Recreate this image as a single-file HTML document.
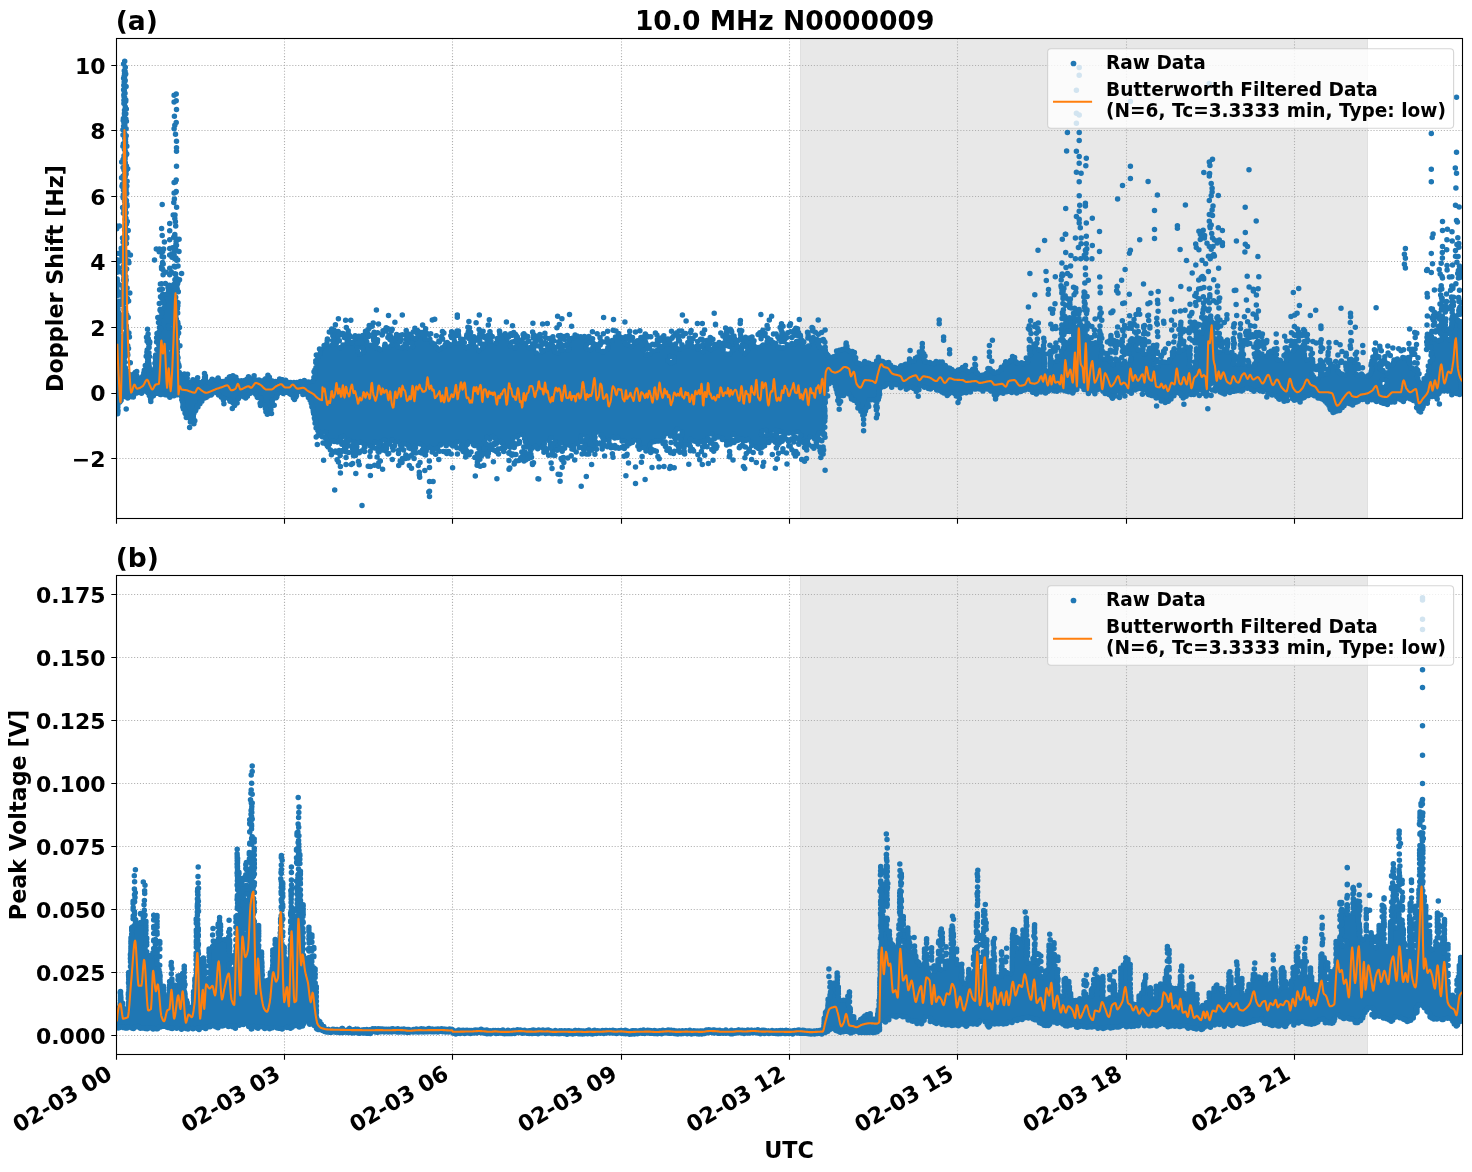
<!DOCTYPE html>
<html lang="en"><head><meta charset="utf-8"><title>10.0 MHz N0000009</title>
<style>
html,body{margin:0;padding:0;background:#fff;}
body{width:1472px;height:1172px;overflow:hidden;}
svg{display:block;}
text{font-family:"DejaVu Sans", "Liberation Sans", sans-serif;font-weight:bold;fill:#000;}
.tk{font-size:22.0px;}
.tx{font-size:22.2px;}
.lg{font-size:18.55px;}
.tt{font-size:26.55px;}
.lb{font-size:22.3px;}
</style></head><body>
<svg width="1472" height="1172" viewBox="0 0 1472 1172">
<defs><clipPath id="ca"><rect x="116.5" y="38.5" width="1346.0" height="480.0"/></clipPath><clipPath id="cb"><rect x="116.5" y="575.5" width="1346.0" height="479.0"/></clipPath></defs>
<rect width="1472" height="1172" fill="#fff"/>
<rect x="116.5" y="38.5" width="1346.0" height="480.0" fill="#fff"/>
<rect x="800.0" y="38.5" width="568.0" height="480.0" fill="#e8e8e8"/>
<path d="M800.5 38.5V518.5M1367.5 38.5V518.5" stroke="#e0e0e0" stroke-width="1" fill="none"/>
<path d="M284.5 38.5V518.5M452.5 38.5V518.5M621.5 38.5V518.5M789.5 38.5V518.5M957.5 38.5V518.5M1126.5 38.5V518.5M1294.5 38.5V518.5M116.5 458.5H1462.5M116.5 393.5H1462.5M116.5 327.5H1462.5M116.5 261.5H1462.5M116.5 196.5H1462.5M116.5 130.5H1462.5M116.5 65.5H1462.5" stroke="#b0b0b0" stroke-width="1.1" stroke-dasharray="1.1 1.83" fill="none"/>
<g clip-path="url(#ca)"><path d="M531.4 452.4 529.1 451.6 527.9 451.9 524.4 450.1 522.1 450.9 521.1 452.6 521.4 455.1 519.6 457.6 519.6 459.1 520.4 460.6 524.6 462.1 526.9 461.4 531.4 458.6 532.4 456.9 532.4 454.1ZM1265.4 341.1 1262.6 339.9 1260.1 340.6 1258.1 340.1 1255.9 340.9 1254.4 343.1 1253.9 346.9 1254.6 348.4 1257.1 349.4 1260.9 347.6 1262.4 347.9 1264.6 347.1 1266.1 344.1 1266.1 342.6ZM1247.9 339.6 1245.1 338.6 1240.9 339.9 1239.9 341.6 1239.9 343.9 1240.6 345.4 1243.4 346.4 1247.6 345.1 1248.6 343.4 1248.6 341.1ZM1107.6 341.1 1107.6 342.6 1109.1 344.9 1111.4 345.6 1112.1 345.4 1113.6 346.6 1115.9 347.4 1119.4 345.9 1120.4 344.1 1120.4 342.6 1119.4 340.9 1111.6 338.1 1109.1 338.9ZM539.9 334.6 537.9 334.1 533.1 335.4 532.4 336.9 532.4 338.4 534.4 341.4 536.6 342.1 539.6 341.4 540.6 340.6 541.4 339.1 541.4 336.6ZM783.6 332.4 781.1 333.1 779.4 335.4 778.1 335.9 777.4 337.4 777.4 338.9 778.1 340.4 779.9 342.4 782.1 343.1 785.1 342.4 787.9 337.9 787.9 335.9 786.9 333.6ZM456.9 332.1 454.6 331.4 451.1 332.1 449.6 335.1 449.6 336.9 450.4 338.4 452.9 339.4 455.1 338.6 456.9 337.1 457.9 335.4 457.9 333.9ZM1245.6 331.4 1244.6 333.1 1244.6 335.1 1246.4 337.9 1249.1 339.1 1251.6 338.4 1252.9 336.4 1252.9 334.9 1252.1 333.4 1250.1 331.4 1247.9 330.6ZM762.6 330.4 759.1 331.4 758.1 333.1 758.1 334.6 758.9 336.1 761.9 337.6 765.4 336.6 766.4 334.9 766.4 333.4 765.6 331.9ZM795.9 328.1 793.6 328.9 791.9 331.4 791.9 333.4 793.1 335.9 797.1 336.6 799.6 335.6 800.4 334.1 800.4 332.6 798.4 329.1ZM1182.1 327.4 1179.9 328.1 1178.9 329.9 1178.9 331.4 1179.6 332.9 1182.1 333.9 1184.4 333.1 1185.4 331.4 1185.4 329.9 1184.6 328.4ZM126.9 312.9 124.9 312.4 121.4 313.4 118.6 312.4 116.1 313.4 115.4 314.9 115.9 319.4 115.4 330.4 116.4 332.1 118.6 332.9 120.4 332.4 122.9 328.9 125.9 327.6 126.6 326.1 126.1 321.9 128.9 317.4 128.6 315.1ZM1076.9 308.1 1074.4 309.1 1073.6 310.6 1073.6 312.1 1074.9 314.1 1077.4 314.9 1079.9 313.9 1080.6 312.4 1080.6 310.9 1079.4 308.9ZM1443.4 304.6 1440.9 305.6 1440.1 307.1 1440.1 309.4 1441.1 311.1 1444.6 312.4 1446.9 311.6 1448.6 309.1 1448.6 307.6 1447.1 305.4ZM124.9 285.1 122.4 286.1 121.6 287.6 121.6 289.9 119.6 291.1 118.6 292.9 118.6 294.4 119.4 295.9 121.4 297.4 121.4 298.6 117.9 300.4 117.1 301.9 117.1 303.6 118.1 305.4 120.4 306.1 123.9 305.4 125.4 304.1 128.4 303.1 129.4 301.4 129.4 299.4 127.1 296.1 128.6 293.1 128.1 290.4 128.4 287.9 127.1 285.9ZM115.4 336.1 115.4 338.6 115.9 339.6 115.4 341.1 115.6 344.6 115.1 349.4 115.1 364.4 115.6 365.4 115.6 369.9 114.9 371.4 114.6 373.9 115.1 376.4 114.6 384.9 115.1 385.9 115.1 394.9 115.9 397.9 115.6 401.4 117.1 403.4 118.9 403.9 121.1 403.1 122.9 400.4 122.9 399.4 124.9 397.9 127.9 399.1 130.1 398.4 132.6 398.4 134.4 397.6 136.4 394.6 138.9 393.9 140.9 394.4 144.4 392.6 145.6 392.9 146.9 394.1 148.9 397.9 151.1 398.6 154.1 397.4 156.4 394.9 157.9 394.9 160.9 396.1 163.1 395.6 169.9 397.9 178.9 396.1 180.4 397.6 180.4 400.9 181.6 403.6 181.4 408.1 183.4 411.4 183.4 413.4 184.9 415.6 184.9 416.6 185.9 418.4 187.9 418.9 188.9 419.9 188.9 421.4 189.9 423.1 192.6 424.1 194.9 423.4 195.9 421.6 195.9 420.1 194.9 417.6 194.9 415.1 197.4 409.6 198.9 408.4 199.6 406.4 204.6 399.9 207.6 398.6 209.6 396.9 212.6 395.9 214.6 393.9 215.6 394.1 221.9 399.9 223.6 400.4 226.6 399.1 229.6 402.9 232.4 405.1 234.6 405.9 237.6 404.4 238.4 402.9 238.4 401.1 241.4 397.6 244.9 399.1 247.1 398.6 250.6 394.9 252.9 393.6 254.1 394.6 256.4 398.6 258.4 399.1 259.9 400.4 258.9 402.6 258.9 404.1 259.6 405.6 261.1 406.4 262.6 406.4 263.9 407.4 264.4 412.1 265.1 413.6 268.1 415.1 271.4 413.9 272.1 412.4 272.6 407.9 274.4 405.4 274.1 400.4 275.1 399.4 277.6 398.4 278.6 395.4 279.6 394.1 283.4 394.6 287.1 393.9 290.6 396.4 292.1 398.1 294.6 398.9 297.1 397.9 298.1 395.9 298.1 394.6 299.9 393.4 302.1 395.4 305.6 395.9 309.4 401.9 310.1 406.9 311.4 409.1 311.9 413.6 313.4 415.9 313.1 419.4 314.1 421.1 313.9 423.9 315.1 425.9 314.9 428.1 317.9 433.6 320.1 434.4 323.4 432.9 324.6 433.9 323.4 436.4 323.4 437.9 324.6 439.9 323.9 443.6 324.6 445.1 325.9 446.1 327.6 446.6 329.6 446.1 332.4 442.9 337.4 443.6 340.9 442.6 341.1 444.4 343.1 447.4 345.9 448.4 348.9 446.9 349.6 445.4 349.4 442.1 350.9 441.6 352.1 442.6 350.4 445.6 350.4 447.4 351.9 450.1 351.4 453.6 352.4 455.4 354.9 456.1 357.1 455.4 358.6 454.1 359.4 452.6 359.4 451.1 358.1 448.9 358.1 445.1 359.6 443.9 361.9 444.1 363.4 446.1 365.6 446.9 367.9 446.1 370.6 447.1 373.1 446.4 374.6 444.1 375.9 443.9 377.4 444.9 375.6 447.9 375.6 449.4 376.9 451.6 379.1 452.4 381.9 451.6 384.6 452.1 387.1 451.1 388.1 449.1 387.9 446.4 390.4 445.4 391.4 443.1 392.6 442.1 395.9 443.6 397.9 443.4 399.1 445.4 401.9 446.6 405.1 445.4 407.4 447.1 408.6 449.6 413.4 451.1 415.9 450.1 416.9 448.1 416.6 445.9 417.4 445.1 420.9 445.9 422.1 447.6 420.6 449.9 420.4 452.6 421.4 454.4 423.6 455.1 426.1 454.1 427.9 451.1 427.9 450.1 429.1 449.1 433.1 450.9 436.9 450.1 438.4 449.4 440.1 446.6 442.9 445.4 446.1 446.4 449.1 445.1 451.1 446.9 453.6 447.6 455.9 446.9 456.9 444.4 458.9 443.1 460.1 444.1 459.1 447.1 459.1 448.9 459.9 450.4 462.1 452.9 463.9 453.4 465.4 455.9 467.9 456.6 470.1 455.9 471.1 454.1 471.1 452.6 470.4 451.1 467.9 450.1 466.9 447.6 468.9 444.4 470.4 443.1 471.6 444.1 472.6 446.4 476.1 447.1 478.4 450.4 478.4 450.9 476.4 452.4 474.6 456.6 474.6 458.1 475.4 459.6 478.4 461.1 480.6 460.4 483.9 455.6 486.6 455.9 488.9 455.1 489.9 453.4 489.9 451.9 492.4 450.4 493.6 448.4 493.6 445.6 492.9 444.1 490.4 443.1 488.6 443.6 487.1 442.6 485.9 440.9 486.6 439.4 489.4 439.9 492.6 438.4 494.1 439.6 495.4 442.6 497.6 443.4 500.1 443.1 501.1 444.1 502.6 448.1 504.9 448.9 507.9 447.9 510.6 448.9 515.1 447.9 516.4 445.9 516.4 444.1 513.6 439.9 515.4 438.4 516.4 438.6 518.6 437.9 520.9 435.6 523.1 437.4 523.9 442.1 524.6 443.6 524.4 446.1 525.1 447.6 530.9 450.1 532.9 449.6 534.9 448.1 537.9 449.4 540.4 448.6 542.1 449.1 544.4 448.4 545.4 446.6 545.9 442.6 547.1 441.6 548.1 441.9 550.4 441.1 552.4 439.1 553.6 440.1 553.6 440.9 552.4 441.9 549.6 442.6 548.9 444.1 548.6 448.1 549.4 449.6 550.9 450.9 553.1 451.6 555.1 451.1 556.6 451.6 560.1 450.4 561.1 448.6 560.6 445.4 561.9 444.4 564.9 446.1 566.4 446.4 567.9 445.9 569.9 447.6 572.4 448.4 574.6 447.6 576.1 445.4 578.6 444.9 582.6 442.1 583.6 444.4 583.1 447.4 584.1 449.1 586.6 449.6 588.1 450.9 590.4 451.6 592.4 451.1 593.9 449.9 596.1 449.1 596.9 446.6 598.4 444.4 598.4 442.9 595.9 439.4 596.4 437.9 596.1 435.1 597.9 433.4 599.1 434.4 599.9 436.6 602.4 440.4 605.1 441.6 609.1 440.9 611.6 438.4 614.9 439.6 619.1 438.9 621.6 441.9 624.6 442.6 626.1 444.9 628.6 445.6 633.1 443.9 635.9 441.1 637.1 442.1 636.6 446.6 637.9 448.6 640.1 449.4 643.1 449.1 645.1 451.6 648.9 452.4 651.1 451.6 652.1 449.9 651.4 445.9 651.6 444.6 652.6 443.6 657.1 442.6 660.6 442.6 662.9 441.9 663.9 440.1 663.9 438.9 665.4 436.4 666.9 435.1 671.9 437.6 673.4 437.9 675.6 437.1 676.6 435.4 676.4 432.9 676.9 431.6 679.4 429.9 680.6 430.9 680.6 433.4 678.6 434.6 677.6 436.4 677.6 438.1 679.4 440.6 679.4 441.4 677.6 443.9 677.6 445.4 678.6 447.1 682.9 448.1 688.9 445.9 690.1 443.9 690.1 441.9 691.4 440.9 693.4 442.4 698.1 444.4 701.1 443.1 703.4 443.9 705.4 443.4 708.9 441.4 709.6 439.9 709.1 436.4 710.4 435.4 711.6 435.9 713.9 438.6 715.6 439.1 719.4 438.4 721.1 440.1 724.1 441.1 724.9 441.9 725.9 444.9 728.6 445.9 731.1 445.1 733.9 443.4 734.6 441.9 734.6 440.4 732.6 437.6 733.9 436.1 735.1 437.1 735.1 438.9 736.6 440.9 738.4 441.4 740.6 440.9 743.9 442.4 748.4 441.1 749.6 442.1 751.4 446.1 753.9 446.9 755.4 448.4 757.1 449.1 761.6 448.9 765.4 447.4 767.1 444.1 769.1 443.6 771.6 441.9 772.9 442.1 775.6 444.6 777.9 445.4 780.1 444.6 784.6 440.9 785.4 439.4 785.4 437.9 784.4 436.1 782.1 435.4 779.6 436.1 777.1 433.9 775.4 433.4 773.4 433.9 772.1 432.9 773.4 431.4 774.9 432.6 777.1 433.4 780.6 433.1 782.1 434.6 784.4 435.4 790.6 433.9 793.4 434.9 796.6 433.4 798.1 433.4 799.4 434.4 797.4 437.9 797.4 439.9 798.6 442.6 805.4 445.1 807.9 444.1 808.9 441.6 808.9 439.9 811.6 438.1 814.6 440.9 816.4 441.4 818.6 440.6 819.6 438.9 819.4 435.6 820.6 434.6 823.1 433.9 824.1 432.1 823.9 429.9 825.4 427.6 824.6 424.1 826.1 421.6 826.6 418.4 825.9 404.6 826.6 403.1 826.6 398.6 827.9 396.6 827.9 394.9 826.9 392.4 827.9 390.6 828.1 386.6 831.6 384.1 832.9 384.4 833.9 385.4 835.9 394.4 837.6 397.1 839.9 397.9 844.9 396.4 846.6 394.6 849.4 396.6 850.4 400.1 852.9 401.6 854.4 401.9 857.1 405.6 856.9 408.1 859.6 412.4 861.1 413.6 863.4 414.4 865.9 413.4 867.1 411.1 867.4 409.4 869.1 407.9 869.9 406.4 869.4 402.6 870.4 401.6 872.9 401.1 876.6 402.4 879.1 401.4 881.1 395.1 881.1 389.6 882.9 388.1 886.4 387.1 888.1 385.4 891.6 386.9 894.9 385.9 897.4 386.4 900.9 388.1 903.4 387.6 905.1 389.1 907.4 389.9 910.4 388.6 916.9 391.9 919.6 391.1 920.6 388.4 921.9 387.4 923.4 388.4 925.6 388.6 927.4 389.9 930.1 390.6 933.6 389.1 935.6 390.9 939.6 392.1 942.9 394.6 947.6 396.1 952.1 393.9 955.4 397.1 957.6 397.9 959.9 397.1 962.1 394.6 964.4 393.6 965.9 394.1 971.4 392.6 973.4 390.6 975.6 390.9 977.9 390.1 982.9 391.6 985.9 390.4 987.9 390.6 989.6 392.1 991.4 392.6 993.6 395.6 995.9 396.4 998.1 395.6 999.9 394.1 1002.9 394.6 1008.4 392.9 1011.4 393.6 1014.1 393.1 1017.1 393.9 1027.4 390.6 1029.9 391.1 1032.1 393.6 1035.9 394.6 1039.4 393.4 1041.4 393.6 1042.9 393.1 1045.6 393.9 1051.4 391.4 1056.4 392.6 1061.9 391.4 1068.9 393.4 1072.1 393.6 1077.6 390.9 1078.6 388.4 1080.1 387.4 1082.4 389.1 1083.1 390.6 1088.9 393.1 1091.6 392.1 1094.4 393.1 1099.9 390.6 1103.9 394.1 1108.9 396.1 1110.6 397.9 1112.9 398.6 1115.9 397.4 1116.6 395.9 1116.6 394.4 1117.9 393.4 1119.4 394.4 1121.6 394.9 1124.4 393.9 1126.6 391.9 1130.1 393.6 1132.4 392.9 1134.1 391.4 1135.6 391.4 1139.6 389.6 1142.1 391.1 1145.4 391.6 1147.6 395.9 1152.6 397.1 1155.9 399.1 1158.4 399.1 1160.6 401.9 1165.4 403.6 1168.9 402.6 1171.6 400.6 1172.6 398.6 1174.9 396.9 1175.6 395.1 1176.9 394.1 1178.4 394.4 1181.1 398.1 1183.4 398.9 1187.1 397.6 1189.1 395.6 1191.1 396.1 1194.9 395.6 1197.6 394.1 1198.6 392.1 1199.9 391.1 1201.1 392.1 1202.4 394.6 1205.1 395.6 1206.9 395.1 1208.4 393.1 1208.4 391.1 1209.9 388.9 1209.6 386.6 1213.1 384.4 1214.4 385.4 1213.6 387.9 1213.6 389.4 1214.4 390.9 1215.9 391.6 1217.4 391.6 1219.4 393.4 1223.6 395.1 1225.9 394.4 1227.6 392.9 1230.4 393.6 1233.1 392.6 1234.1 392.9 1239.1 391.6 1241.6 392.1 1243.9 391.4 1245.6 389.6 1248.6 389.6 1250.9 391.1 1253.9 392.1 1256.9 390.9 1262.4 392.9 1265.4 391.9 1266.6 392.9 1267.4 394.4 1271.9 396.1 1274.4 396.4 1277.6 400.1 1279.9 400.9 1281.1 400.6 1284.6 402.4 1287.4 401.4 1288.1 399.9 1288.1 397.9 1289.4 396.9 1290.9 397.9 1292.4 400.9 1294.6 401.6 1296.4 401.1 1298.9 401.9 1301.1 401.1 1302.9 399.6 1305.4 398.9 1307.4 396.9 1311.6 396.1 1315.6 397.6 1317.6 399.4 1322.4 400.9 1327.4 405.9 1329.4 410.9 1331.6 412.6 1333.9 413.4 1340.6 411.6 1341.4 410.1 1343.4 408.9 1346.6 404.9 1347.9 404.6 1350.9 405.9 1352.9 405.9 1355.4 404.1 1359.4 402.6 1361.1 401.1 1364.1 400.6 1367.6 402.1 1370.4 401.4 1373.1 401.4 1376.9 402.9 1378.6 402.6 1382.9 404.9 1386.9 405.6 1389.1 404.9 1390.6 403.6 1391.4 403.9 1395.1 402.9 1397.6 400.4 1399.4 400.6 1402.4 402.1 1404.6 401.4 1407.4 399.4 1414.6 402.4 1415.9 404.9 1415.4 407.9 1416.1 409.4 1417.6 410.9 1420.1 411.6 1423.1 410.1 1424.9 406.6 1424.9 405.6 1425.9 404.6 1427.9 403.9 1429.6 399.1 1430.4 398.4 1435.1 398.4 1437.4 397.6 1441.9 392.4 1449.1 392.1 1451.6 394.4 1453.4 394.9 1454.6 394.6 1457.6 395.6 1460.4 394.6 1462.4 390.9 1462.9 388.4 1462.6 373.9 1462.1 372.9 1462.4 369.4 1461.6 365.4 1462.9 362.4 1462.1 355.1 1462.6 354.1 1462.4 351.9 1462.9 348.9 1463.6 347.4 1463.1 340.6 1462.4 339.1 1462.6 336.4 1461.6 334.1 1462.6 331.1 1462.1 328.1 1462.9 322.4 1461.4 320.1 1459.9 319.6 1457.6 317.6 1456.4 314.9 1454.1 314.1 1452.4 314.6 1451.4 315.4 1450.1 318.6 1450.4 322.6 1449.9 326.4 1447.9 327.9 1446.6 326.9 1447.1 319.6 1446.4 318.1 1444.4 317.1 1443.1 315.1 1441.6 314.6 1440.1 313.1 1435.9 312.1 1433.1 313.1 1431.4 316.1 1431.4 317.9 1432.9 319.9 1434.9 320.4 1437.4 319.6 1439.9 321.6 1439.9 323.1 1438.1 324.6 1437.4 326.1 1436.9 330.9 1440.4 335.6 1440.9 337.4 1439.6 338.6 1437.4 339.1 1434.4 337.1 1431.6 333.6 1429.4 332.9 1426.9 333.6 1425.9 335.4 1425.9 340.1 1425.4 341.1 1425.6 345.1 1427.1 348.1 1429.6 348.9 1430.9 349.9 1429.9 352.4 1429.9 355.6 1430.9 358.4 1428.9 361.4 1428.9 363.4 1427.4 365.6 1427.6 369.4 1427.1 370.4 1427.1 372.9 1426.1 373.9 1425.4 376.1 1423.1 377.6 1422.4 379.9 1421.1 380.9 1419.4 379.4 1419.1 376.1 1419.9 374.6 1419.9 372.6 1418.6 368.6 1415.9 367.4 1414.1 367.6 1411.1 365.1 1410.9 358.9 1409.9 357.1 1404.9 356.1 1401.6 357.1 1399.9 358.9 1397.1 357.9 1393.1 359.1 1392.1 360.9 1391.9 362.6 1391.1 363.4 1387.4 364.4 1386.6 365.9 1386.6 367.4 1387.9 369.9 1386.1 371.1 1382.1 367.6 1382.4 365.6 1384.6 364.9 1385.6 363.1 1385.6 361.6 1384.6 359.9 1382.4 359.1 1379.9 360.1 1379.1 362.1 1377.4 362.9 1375.1 360.9 1373.4 360.4 1371.4 360.9 1369.6 363.4 1369.6 366.1 1370.4 368.4 1369.4 372.4 1365.6 375.6 1363.1 373.6 1361.1 373.1 1358.9 373.9 1356.1 371.9 1356.9 370.6 1359.6 369.6 1360.4 368.1 1359.9 364.6 1359.1 363.1 1357.1 361.6 1355.9 359.6 1351.4 358.4 1349.1 359.1 1348.1 361.1 1347.1 362.1 1345.4 362.6 1344.4 364.4 1344.6 369.6 1345.9 371.6 1344.9 373.1 1343.9 373.4 1341.4 372.4 1338.4 369.1 1338.4 367.9 1337.4 366.1 1331.9 364.6 1329.6 365.4 1327.1 368.1 1326.4 369.6 1326.4 371.9 1325.1 373.1 1322.4 372.6 1320.1 373.4 1319.1 376.1 1318.1 377.1 1316.4 377.6 1315.1 376.6 1312.6 371.9 1314.1 370.6 1317.4 370.9 1320.9 372.6 1323.1 371.9 1325.4 368.9 1325.1 365.4 1323.6 362.9 1321.4 362.1 1319.1 362.9 1316.6 364.9 1315.6 364.9 1314.4 363.4 1314.1 360.1 1313.1 358.4 1310.9 357.6 1308.6 358.4 1307.1 357.9 1306.1 356.9 1305.4 352.6 1305.6 350.9 1306.9 348.9 1306.9 347.1 1305.9 345.4 1303.6 344.6 1301.6 345.1 1299.9 346.4 1296.4 344.6 1293.9 345.6 1293.1 347.1 1293.1 348.6 1291.4 351.1 1290.6 351.4 1288.4 350.6 1286.1 351.4 1283.4 354.9 1283.4 356.6 1284.6 359.1 1284.6 360.1 1283.4 361.1 1281.4 359.1 1278.4 358.1 1277.1 356.9 1277.6 355.4 1277.4 351.1 1275.9 349.1 1274.1 348.6 1269.4 350.1 1267.9 351.1 1267.1 353.4 1265.1 354.9 1262.9 352.6 1257.6 350.6 1255.9 351.1 1254.1 352.4 1253.4 353.9 1253.6 357.1 1254.9 359.1 1254.9 361.4 1251.6 365.1 1248.6 363.9 1246.1 364.6 1244.6 363.4 1245.1 359.4 1244.4 357.9 1244.4 356.1 1243.4 354.4 1241.1 353.6 1236.9 355.6 1233.1 351.9 1230.9 351.1 1229.6 351.4 1228.4 350.4 1227.6 348.9 1225.4 348.1 1223.1 348.9 1221.1 351.1 1218.1 350.1 1217.1 349.1 1218.4 347.1 1220.9 346.9 1222.6 345.9 1224.4 343.1 1224.4 341.6 1221.6 337.1 1219.1 336.4 1215.9 337.6 1214.6 336.6 1214.9 332.1 1214.1 329.6 1215.4 328.6 1216.4 328.9 1218.6 328.1 1219.6 326.4 1219.6 324.9 1218.1 322.4 1214.1 321.6 1212.6 319.9 1211.9 317.6 1209.4 316.6 1207.6 317.1 1206.4 316.9 1203.9 317.9 1203.1 319.4 1203.4 322.6 1201.6 325.1 1201.6 327.4 1202.4 329.1 1201.6 330.4 1200.4 330.6 1197.6 329.6 1199.4 326.1 1199.4 324.6 1198.1 322.6 1194.4 321.1 1191.1 322.4 1190.4 323.9 1190.4 325.4 1188.9 327.6 1188.9 329.1 1189.9 330.9 1194.4 331.9 1194.9 334.6 1194.6 337.4 1192.6 340.1 1192.6 341.9 1193.4 343.4 1195.1 344.4 1197.6 344.6 1199.1 345.9 1198.4 347.1 1195.9 347.9 1194.9 349.6 1195.4 352.9 1194.9 355.1 1195.1 359.4 1193.6 361.6 1194.1 365.4 1192.9 366.4 1190.6 364.1 1191.4 362.1 1191.6 353.9 1190.9 352.4 1191.4 348.6 1190.4 346.9 1186.9 345.9 1184.6 346.6 1182.9 348.4 1178.9 349.1 1176.6 351.9 1174.4 351.1 1172.1 351.9 1171.1 353.6 1170.9 356.9 1168.6 358.4 1167.1 360.9 1166.4 361.1 1161.6 359.9 1159.6 360.4 1158.1 362.4 1158.1 364.6 1156.9 365.6 1155.6 364.1 1157.1 362.9 1157.9 361.4 1157.9 359.9 1157.1 358.4 1154.9 356.6 1154.9 355.9 1156.9 354.6 1158.1 352.6 1158.1 351.1 1157.1 349.4 1157.4 347.1 1156.6 345.6 1154.1 344.6 1148.9 347.1 1147.4 350.1 1147.4 352.1 1146.1 353.1 1145.4 352.9 1144.1 351.6 1143.1 349.4 1138.9 348.4 1137.6 347.1 1137.6 346.1 1139.4 344.6 1140.9 345.9 1143.1 346.6 1145.6 345.9 1147.4 342.6 1147.4 341.1 1145.9 338.9 1142.4 338.1 1138.9 336.6 1136.6 336.9 1134.4 338.1 1132.4 337.6 1130.1 338.4 1128.9 340.4 1128.9 343.1 1126.4 345.9 1122.6 346.6 1121.6 348.4 1121.1 351.9 1122.9 354.4 1125.1 355.1 1127.1 354.6 1129.1 355.4 1130.1 356.4 1128.9 360.6 1127.6 361.6 1125.1 360.9 1121.4 362.4 1119.6 360.6 1117.4 359.9 1115.1 360.6 1113.1 362.6 1111.9 361.6 1112.1 358.6 1111.1 356.9 1107.6 355.9 1103.9 357.6 1102.6 356.6 1102.4 355.6 1104.1 353.1 1104.1 351.6 1102.6 348.6 1102.9 346.1 1100.4 341.6 1097.9 340.9 1091.6 341.9 1090.4 340.9 1090.6 338.1 1089.9 336.6 1086.9 334.1 1086.6 331.9 1088.6 329.1 1088.6 327.1 1087.9 325.6 1085.4 324.6 1083.6 325.1 1080.1 323.4 1076.6 325.1 1075.4 323.6 1076.9 322.4 1077.6 320.9 1077.6 319.1 1075.6 316.4 1073.4 315.6 1065.1 317.4 1064.1 319.1 1064.1 322.6 1061.6 324.4 1060.1 328.6 1060.1 330.9 1061.4 333.6 1063.6 334.4 1066.9 332.9 1070.9 333.1 1072.1 334.1 1072.4 336.6 1070.4 338.1 1067.9 341.1 1065.9 341.1 1063.4 342.1 1062.6 343.6 1062.9 346.1 1060.1 350.9 1060.4 353.4 1058.9 354.9 1057.1 355.6 1056.4 358.4 1054.9 360.1 1052.1 359.9 1049.6 360.9 1048.9 362.4 1048.6 368.4 1047.9 369.1 1046.9 369.1 1045.9 367.6 1046.4 360.9 1045.6 356.6 1045.9 353.9 1043.1 349.1 1038.4 348.1 1036.4 345.9 1034.1 345.1 1028.6 347.4 1027.9 348.9 1028.6 355.6 1026.6 357.1 1025.9 358.6 1026.1 360.9 1025.1 361.9 1022.1 361.4 1018.9 361.9 1017.6 361.1 1015.1 358.1 1012.9 357.4 1009.6 358.9 1008.1 360.6 1004.9 361.4 1003.4 364.1 1000.6 366.1 999.9 368.1 995.6 371.4 994.1 370.1 989.9 368.4 987.6 369.1 986.6 370.9 984.1 373.1 980.9 373.9 977.1 370.6 975.9 368.4 974.6 367.9 971.9 368.1 970.1 369.9 968.1 370.1 966.6 368.9 965.6 366.6 963.4 365.9 955.1 369.9 954.1 369.6 950.9 366.9 947.9 365.9 946.4 364.4 944.9 363.9 942.4 360.9 936.6 360.4 932.4 362.1 927.1 360.4 925.6 359.1 926.1 355.1 924.9 352.4 923.9 351.4 921.6 350.6 919.1 351.6 918.4 354.1 914.9 356.6 912.9 359.6 909.1 360.1 907.1 362.4 900.4 364.6 897.9 366.9 892.9 365.4 889.4 361.6 884.9 361.1 878.4 358.4 876.1 359.1 874.9 361.6 873.6 362.6 871.6 362.9 870.1 361.9 865.9 360.9 863.4 361.4 860.9 362.6 858.4 361.9 856.9 360.4 856.9 357.4 855.6 355.4 855.6 352.6 854.9 351.1 853.1 350.1 850.6 349.9 848.4 347.6 846.1 346.9 836.9 349.6 835.9 351.4 835.9 353.4 834.6 354.9 831.6 355.9 830.6 355.6 826.9 351.4 826.9 349.6 825.9 347.6 823.4 346.6 822.1 346.9 820.4 345.4 820.4 340.9 819.6 339.4 818.1 338.4 813.1 336.9 810.9 337.6 809.9 339.4 810.1 343.1 805.6 345.6 804.4 344.6 804.9 341.6 804.1 340.1 802.6 338.9 800.1 338.1 795.6 340.1 793.6 342.4 792.4 342.1 786.6 344.1 785.9 345.6 784.6 346.6 783.1 346.1 781.4 346.4 778.6 345.4 776.4 342.1 773.6 340.9 771.9 338.6 769.6 337.9 766.9 338.9 764.6 343.4 761.9 343.9 759.4 345.9 756.9 346.1 754.6 343.9 755.1 340.4 752.9 336.9 750.6 336.1 748.1 336.9 744.6 336.1 740.9 337.4 740.1 338.9 740.1 340.4 741.4 342.9 740.6 345.4 739.4 345.6 738.1 344.6 738.4 340.6 737.6 339.1 735.6 337.4 735.6 336.1 734.6 334.4 732.4 333.6 729.4 334.9 728.6 334.6 727.6 333.1 725.4 332.4 723.1 333.1 722.1 334.9 722.1 336.4 724.1 339.6 724.1 340.4 721.6 342.4 719.4 341.6 714.1 343.6 713.1 345.4 713.1 346.6 711.6 347.9 710.4 346.9 710.4 345.1 708.9 343.1 707.1 342.6 703.1 343.9 701.6 345.9 701.6 347.4 702.6 349.6 701.4 350.6 700.1 349.6 700.4 347.4 699.4 345.6 697.1 344.9 694.4 345.6 692.4 344.1 691.6 342.6 689.4 341.9 687.1 342.6 685.6 344.6 681.9 345.1 679.9 347.1 678.4 347.4 676.9 346.1 675.9 344.1 673.6 343.4 672.9 343.6 671.4 342.4 671.4 339.9 670.4 338.1 667.6 337.1 665.6 337.1 663.4 337.9 662.4 339.6 662.4 341.1 663.4 342.9 663.4 343.6 662.4 344.6 660.1 344.6 657.9 345.4 656.9 348.1 655.4 349.6 653.1 349.4 651.4 349.9 649.4 352.4 646.1 353.1 644.9 351.6 645.9 350.6 649.1 349.6 650.4 347.6 650.4 346.1 649.6 344.6 647.1 342.6 646.4 340.1 646.6 337.9 645.9 336.4 643.1 335.4 640.1 336.4 638.1 339.1 634.1 340.6 632.1 344.4 630.6 344.6 627.6 343.4 625.9 341.6 626.1 338.9 624.9 336.9 621.1 335.9 618.9 334.4 617.6 334.1 615.9 334.6 614.6 335.6 613.9 337.9 612.9 338.9 607.1 340.4 606.4 341.9 606.4 343.4 607.4 345.6 605.9 348.6 604.4 349.9 601.4 350.1 599.9 348.9 599.9 345.4 598.9 343.6 596.6 342.9 592.9 343.1 593.6 341.6 593.6 339.1 592.6 337.4 588.4 335.4 586.6 335.9 584.4 335.1 579.4 335.4 576.1 334.1 573.9 334.9 571.9 336.9 568.4 337.9 567.4 339.6 567.4 341.4 565.6 342.9 564.6 345.6 563.9 344.1 562.1 342.9 560.1 342.4 557.9 343.1 556.9 344.9 556.9 346.9 559.1 349.9 557.6 351.4 556.1 350.1 556.4 347.9 553.1 343.4 549.9 342.4 546.9 343.6 546.1 345.1 546.1 347.9 545.4 348.6 541.1 349.4 540.1 351.9 538.9 352.9 535.1 350.1 535.4 347.6 534.4 345.9 532.1 345.1 528.1 346.4 526.9 345.4 526.9 343.9 526.1 342.4 524.6 341.6 522.9 339.4 517.4 337.6 514.9 338.6 513.9 340.6 513.9 342.1 515.1 344.9 513.9 346.1 512.9 346.1 511.9 345.1 511.9 342.9 511.1 341.4 508.9 339.9 509.9 337.6 509.9 336.1 509.1 334.6 505.1 332.9 499.4 334.4 498.6 335.9 496.6 337.4 495.9 338.9 495.9 340.6 493.9 342.4 491.1 339.6 488.6 339.1 486.4 339.9 484.6 342.4 481.9 343.6 480.9 347.4 479.4 348.6 478.4 348.4 476.9 345.9 474.4 344.1 476.9 341.4 477.6 339.9 477.6 338.4 476.6 336.6 473.6 335.4 469.4 336.6 468.6 338.1 468.6 339.9 469.9 343.4 466.4 345.9 465.1 344.9 465.4 341.9 464.6 340.4 462.1 339.4 459.9 340.1 457.9 342.1 455.1 341.6 451.6 343.4 447.1 341.9 445.1 342.4 442.4 345.9 439.4 347.9 436.1 344.9 435.4 342.9 432.6 341.4 430.9 339.1 428.6 338.4 427.9 338.6 426.4 337.4 428.1 334.4 428.1 332.9 427.1 331.1 424.9 330.4 422.9 330.9 419.4 330.4 417.1 331.1 416.1 332.9 416.6 336.1 415.4 337.1 414.4 336.9 411.1 332.9 408.1 332.1 405.6 332.9 404.6 334.6 405.1 337.4 404.9 340.4 405.1 341.9 406.6 343.9 403.6 344.4 400.4 346.6 399.1 345.6 398.9 344.6 401.1 342.9 402.4 340.4 401.9 336.6 400.4 334.6 398.6 334.1 396.6 334.6 394.6 337.1 390.9 338.1 390.1 339.6 390.9 343.4 389.4 345.1 388.1 345.4 386.4 344.9 384.6 345.4 381.9 348.6 378.1 346.6 375.6 343.4 373.9 342.9 369.9 343.9 368.6 342.9 367.6 339.1 369.6 337.6 370.4 336.1 370.4 334.6 369.6 333.1 368.4 332.1 366.6 331.6 364.6 332.1 360.6 334.9 356.4 334.6 354.1 335.4 353.1 337.1 353.4 339.9 352.1 340.9 349.6 340.1 351.4 337.1 351.4 335.6 350.6 334.1 349.4 333.1 347.1 332.6 343.6 333.6 342.6 335.4 342.6 337.1 343.4 338.6 346.4 340.4 345.6 342.1 344.6 343.1 342.1 343.9 340.4 345.9 338.6 346.6 337.4 345.6 337.4 344.4 339.6 341.1 339.1 337.9 341.1 334.9 341.1 333.1 339.6 330.9 336.6 330.1 334.9 328.6 332.6 327.9 330.4 328.6 329.4 330.4 329.4 332.1 331.1 334.6 331.1 335.9 332.1 337.9 331.6 339.4 331.9 342.9 329.9 344.6 326.6 343.1 323.6 343.9 322.6 346.6 320.1 348.4 318.9 352.4 316.6 354.1 315.9 355.6 316.1 358.1 314.1 360.9 314.1 362.6 315.4 365.4 312.9 370.6 313.6 374.6 312.4 377.4 312.4 379.1 310.4 380.9 304.6 379.6 295.6 381.4 293.9 380.9 289.4 380.9 286.6 379.1 281.1 377.6 278.9 378.1 276.6 379.9 273.9 380.1 272.1 379.1 270.4 376.6 268.1 375.9 264.4 377.4 262.4 379.1 257.4 378.9 254.4 376.6 249.1 376.1 246.9 376.9 244.9 378.6 242.6 379.4 239.6 379.4 237.6 377.9 236.6 376.1 232.6 374.6 228.6 375.6 224.1 380.1 221.9 380.4 219.6 378.6 217.4 377.9 214.6 378.9 213.1 378.4 211.1 378.9 208.6 380.9 204.6 379.1 202.4 379.9 200.6 381.4 198.4 378.9 196.1 378.1 192.1 378.9 189.9 380.9 188.6 379.9 188.6 377.6 187.4 373.6 184.6 372.4 182.1 373.1 179.1 369.9 179.1 368.9 180.6 366.6 180.6 364.9 179.6 363.1 179.1 360.4 179.4 356.6 178.6 354.6 178.6 349.9 180.4 346.6 180.4 345.1 178.9 342.6 178.1 338.4 179.9 333.6 179.4 330.1 180.4 328.4 180.4 326.6 179.6 325.1 179.4 322.1 178.1 320.1 177.4 315.6 178.6 313.6 178.4 310.4 179.1 306.9 179.1 302.4 176.9 299.4 176.9 296.9 175.1 294.4 175.1 293.6 176.1 292.6 178.1 291.9 178.9 290.4 178.9 288.9 178.4 287.9 178.4 284.6 177.6 283.1 175.1 282.1 172.9 282.9 171.1 284.4 169.9 284.1 167.6 284.9 166.4 286.9 166.9 291.9 165.1 293.4 163.6 293.1 161.4 293.9 159.9 296.1 159.9 298.1 161.1 300.4 161.1 302.6 163.1 305.4 163.1 306.1 161.9 307.6 160.1 308.1 159.1 309.9 159.1 311.6 160.4 314.4 158.1 316.4 157.4 317.9 157.4 322.9 158.6 324.9 158.1 326.6 158.6 329.9 155.9 333.4 155.9 335.9 155.4 336.9 155.9 339.6 155.6 342.4 157.1 344.6 157.4 346.9 155.9 349.1 156.4 352.4 154.9 353.6 153.6 356.9 154.1 360.4 153.6 364.1 154.1 365.9 152.6 368.4 152.1 368.6 150.9 367.6 150.9 365.9 149.9 363.9 147.4 362.9 144.9 363.9 144.1 365.4 144.4 367.9 142.6 370.4 141.9 374.6 140.6 376.1 139.1 376.1 137.4 373.4 134.6 372.1 131.6 373.4 129.6 372.6 126.9 368.6 126.9 367.4 125.6 365.4 126.1 363.1 125.6 359.4 126.4 357.6 128.4 356.1 129.1 354.6 128.4 351.1 129.6 349.1 129.4 345.9 126.1 339.9 126.4 337.1 124.9 335.1 123.1 334.6 121.6 334.9 118.6 333.6 116.4 334.4ZM382.1 442.1 383.4 441.1 384.6 442.1 384.6 443.4 383.4 443.9 381.9 442.9ZM344.9 438.9 344.9 439.9 342.1 441.1 341.9 439.1 343.4 437.9ZM583.9 436.4 585.1 437.4 585.1 438.4 583.4 440.1 582.4 437.4ZM764.1 431.6 765.6 432.6 765.6 433.4 764.4 434.4 762.9 433.1ZM1383.9 380.9 1385.4 382.1 1385.6 383.6 1384.1 385.6 1382.9 385.9 1381.4 384.6 1381.6 382.4ZM1235.9 360.9 1237.4 361.9 1236.1 363.4 1234.9 362.4ZM671.4 357.9 672.6 358.9 672.6 359.6 670.6 360.9 669.1 359.1 670.1 358.1ZM169.9 349.6 171.1 351.1 169.4 352.4 168.1 350.9ZM743.6 348.1 744.9 348.1 746.1 349.1 745.9 350.9 744.6 351.9 743.4 350.9ZM359.9 348.1 362.1 350.4 361.9 351.6 360.6 352.6 359.4 351.6 358.6 349.1ZM724.4 348.1 725.6 347.1 730.1 348.1 730.9 348.9 730.6 351.4 729.6 352.4 727.9 352.9 725.1 352.1 724.4 351.4ZM564.9 345.9 566.6 348.4 566.6 349.1 565.4 350.1 563.9 348.9ZM407.1 344.4 409.9 344.1 411.1 345.1 411.1 346.1 409.9 347.1ZM592.1 343.6 592.4 344.1 591.4 346.9 590.1 348.1 588.4 348.4 587.4 347.1 587.9 345.4 589.1 344.4ZM1448.4 334.9 1450.1 336.1 1450.1 336.9 1448.9 337.9 1447.1 336.4ZM171.1 324.4 172.6 325.9 171.4 327.4 169.9 325.9ZM123.4 249.4 121.1 250.1 119.4 252.6 119.4 254.1 120.4 255.9 120.1 259.9 120.9 261.4 123.1 263.6 125.4 264.4 127.6 263.6 128.6 261.9 128.6 260.4 127.4 258.4 127.4 257.1 128.9 254.9 128.9 253.4 127.6 251.4ZM124.6 181.4 122.4 182.1 120.6 184.6 120.6 186.6 122.1 189.4 124.6 190.4 126.9 189.6 128.1 187.4 128.1 184.6 127.1 182.4ZM125.4 164.9 122.9 165.9 122.1 167.4 122.1 169.1 123.4 171.1 125.6 171.9 128.1 170.9 128.9 169.4 128.9 167.9 127.6 165.6Z" fill="#1f77b4" fill-rule="evenodd"/>
<path d="M116.2 384.1h.01M116.2 374.9h.01M116.4 380.5h.01M116.4 404.0h.01M116.5 377.9h.01M116.5 374.3h.01M116.5 384.6h.01M116.5 383.4h.01M116.6 375.0h.01M116.6 329.1h.01M116.6 268.4h.01M116.6 226.0h.01M116.6 296.0h.01M116.6 401.6h.01M116.6 356.1h.01M116.6 392.6h.01M116.7 371.4h.01M116.7 314.9h.01M116.7 372.4h.01M116.7 389.9h.01M116.7 228.8h.01M116.7 410.5h.01M116.7 409.4h.01M116.7 385.8h.01M116.7 363.8h.01M116.7 367.2h.01M116.7 341.8h.01M116.7 342.4h.01M116.7 391.5h.01M116.8 351.7h.01M116.8 336.3h.01M116.8 346.0h.01M116.8 360.7h.01M116.8 288.0h.01M116.8 387.4h.01M116.8 413.3h.01M116.8 349.9h.01M116.8 253.5h.01M116.8 359.3h.01M116.9 394.2h.01M116.9 333.0h.01M116.9 353.5h.01M116.9 335.8h.01M116.9 391.1h.01M116.9 355.2h.01M117.0 325.9h.01M117.0 259.8h.01M117.0 347.2h.01M117.0 394.9h.01M117.0 338.3h.01M117.0 379.7h.01M117.0 272.2h.01M117.1 407.0h.01M117.1 303.6h.01M117.1 385.0h.01M117.1 324.5h.01M117.1 356.2h.01M117.1 367.0h.01M117.1 353.7h.01M117.1 265.2h.01M117.1 388.4h.01M117.1 400.5h.01M117.2 326.8h.01M117.2 290.6h.01M117.2 260.7h.01M117.2 385.8h.01M117.2 362.1h.01M117.2 370.0h.01M117.2 279.1h.01M117.3 332.0h.01M117.3 261.6h.01M117.3 318.6h.01M117.3 397.1h.01M117.3 312.2h.01M117.3 320.9h.01M117.3 338.4h.01M117.4 322.8h.01M117.4 308.3h.01M117.4 281.3h.01M117.5 260.9h.01M117.6 413.7h.01M117.6 399.0h.01M117.7 306.7h.01M117.7 406.4h.01M117.7 333.6h.01M117.7 368.7h.01M117.8 412.7h.01M117.8 407.3h.01M117.9 368.5h.01M117.9 283.9h.01M118.0 402.0h.01M118.0 410.7h.01M118.0 308.4h.01M118.2 335.5h.01M118.2 403.7h.01M118.3 312.1h.01M118.5 331.6h.01M118.6 333.5h.01M118.6 335.0h.01M118.7 261.4h.01M118.8 284.4h.01M119.0 268.2h.01M119.0 294.9h.01M119.2 301.2h.01M119.4 253.2h.01M119.4 226.0h.01M119.8 402.0h.01M120.1 330.8h.01M120.3 329.6h.01M120.4 400.6h.01M120.4 271.8h.01M120.5 400.2h.01M120.5 400.5h.01M120.5 401.0h.01M120.6 400.0h.01M120.7 292.5h.01M120.8 304.2h.01M121.1 400.3h.01M121.1 260.2h.01M121.2 248.2h.01M121.6 177.8h.01M121.7 162.0h.01M121.9 256.7h.01M122.0 185.9h.01M122.1 336.5h.01M122.2 285.5h.01M122.5 184.3h.01M122.5 238.1h.01M122.6 207.5h.01M122.7 187.0h.01M122.8 304.3h.01M122.8 397.0h.01M122.9 146.3h.01M122.9 314.8h.01M122.9 129.8h.01M123.0 176.2h.01M123.0 134.9h.01M123.0 197.0h.01M123.0 326.7h.01M123.1 242.2h.01M123.1 159.6h.01M123.1 167.6h.01M123.1 298.3h.01M123.2 250.0h.01M123.2 120.4h.01M123.2 288.8h.01M123.3 266.4h.01M123.3 197.9h.01M123.4 194.8h.01M123.4 118.5h.01M123.4 143.7h.01M123.4 274.0h.01M123.4 213.2h.01M123.4 189.9h.01M123.5 280.0h.01M123.5 134.7h.01M123.6 63.9h.01M123.6 78.2h.01M123.6 89.8h.01M123.6 126.0h.01M123.6 158.7h.01M123.7 208.5h.01M123.7 274.2h.01M123.7 209.3h.01M123.7 246.8h.01M123.8 176.6h.01M123.8 94.9h.01M123.8 85.2h.01M123.8 146.6h.01M123.9 277.8h.01M123.9 242.7h.01M123.9 100.2h.01M123.9 103.5h.01M123.9 122.6h.01M124.0 155.7h.01M124.0 96.4h.01M124.0 196.2h.01M124.0 170.1h.01M124.0 364.8h.01M124.0 264.8h.01M124.1 180.0h.01M124.1 76.4h.01M124.1 327.1h.01M124.1 249.2h.01M124.1 309.2h.01M124.1 90.9h.01M124.2 81.9h.01M124.3 362.3h.01M124.3 70.7h.01M124.4 149.3h.01M124.4 89.6h.01M124.4 113.6h.01M124.4 335.7h.01M124.4 96.3h.01M124.4 211.6h.01M124.5 174.2h.01M124.5 322.4h.01M124.5 263.2h.01M124.5 189.5h.01M124.5 110.3h.01M124.5 206.0h.01M124.5 74.0h.01M124.5 358.1h.01M124.5 103.7h.01M124.5 114.6h.01M124.5 78.7h.01M124.5 114.2h.01M124.6 230.1h.01M124.6 201.4h.01M124.6 133.7h.01M124.6 148.1h.01M124.6 274.3h.01M124.7 97.8h.01M124.7 61.2h.01M124.7 138.3h.01M124.8 125.3h.01M124.8 320.0h.01M124.8 159.1h.01M124.8 75.7h.01M124.8 114.8h.01M124.9 162.5h.01M124.9 73.9h.01M124.9 196.7h.01M124.9 150.0h.01M124.9 338.0h.01M124.9 309.1h.01M124.9 141.4h.01M124.9 362.1h.01M125.0 85.4h.01M125.0 193.1h.01M125.0 80.9h.01M125.0 93.2h.01M125.0 149.9h.01M125.1 159.1h.01M125.1 71.5h.01M125.2 80.5h.01M125.2 219.3h.01M125.2 176.8h.01M125.2 163.2h.01M125.2 320.1h.01M125.3 367.7h.01M125.3 308.1h.01M125.3 67.3h.01M125.3 106.9h.01M125.3 162.8h.01M125.3 234.6h.01M125.3 226.7h.01M125.3 240.0h.01M125.3 209.1h.01M125.3 214.3h.01M125.4 155.0h.01M125.4 270.7h.01M125.4 152.4h.01M125.5 295.6h.01M125.5 139.3h.01M125.5 138.9h.01M125.5 283.6h.01M125.6 278.7h.01M125.6 142.3h.01M125.6 241.5h.01M125.6 151.9h.01M125.7 257.9h.01M125.7 74.1h.01M125.7 311.9h.01M125.7 224.7h.01M125.7 129.0h.01M125.7 101.2h.01M125.8 155.6h.01M125.8 231.0h.01M125.8 281.2h.01M125.8 332.9h.01M125.8 109.1h.01M125.8 174.5h.01M125.8 100.1h.01M125.8 113.7h.01M125.8 276.5h.01M125.9 119.1h.01M125.9 269.0h.01M126.0 218.2h.01M126.1 174.0h.01M126.1 212.8h.01M126.1 342.3h.01M126.1 86.4h.01M126.1 128.7h.01M126.1 169.7h.01M126.1 188.8h.01M126.1 191.0h.01M126.2 409.1h.01M126.2 135.8h.01M126.2 280.1h.01M126.3 170.4h.01M126.3 326.1h.01M126.3 108.9h.01M126.4 166.1h.01M126.4 243.5h.01M126.4 121.2h.01M126.4 145.8h.01M126.4 200.4h.01M126.5 224.1h.01M126.6 302.3h.01M126.6 269.1h.01M126.7 154.0h.01M126.7 193.5h.01M126.7 330.0h.01M126.7 237.2h.01M126.8 238.3h.01M126.8 315.1h.01M126.8 186.0h.01M126.8 146.3h.01M126.9 204.2h.01M127.0 371.2h.01M127.1 354.1h.01M127.1 181.3h.01M127.1 206.1h.01M127.1 288.1h.01M127.3 301.5h.01M127.3 221.6h.01M127.3 298.6h.01M127.5 353.4h.01M127.7 168.7h.01M127.7 345.8h.01M127.7 398.0h.01M127.8 354.9h.01M127.9 252.6h.01M128.2 230.6h.01M128.2 317.5h.01M128.4 261.1h.01M128.5 348.6h.01M128.6 300.9h.01M128.8 374.5h.01M128.9 333.1h.01M128.9 262.7h.01M128.9 374.2h.01M129.2 374.9h.01M129.4 337.0h.01M129.8 293.0h.01M130.3 362.7h.01M130.3 396.6h.01M130.4 254.9h.01M131.1 375.1h.01M131.7 396.8h.01M133.2 396.8h.01M133.3 396.9h.01M133.5 396.0h.01M133.5 395.9h.01M134.0 374.0h.01M135.1 373.7h.01M135.2 372.6h.01M136.0 375.6h.01M136.1 392.7h.01M136.7 375.7h.01M136.7 371.6h.01M136.8 392.9h.01M137.8 392.5h.01M140.4 378.1h.01M141.5 393.2h.01M143.2 375.5h.01M143.5 375.4h.01M143.8 372.9h.01M144.3 370.3h.01M145.0 390.9h.01M145.3 365.6h.01M146.2 356.2h.01M146.5 337.2h.01M146.6 367.5h.01M146.9 352.3h.01M147.0 337.9h.01M147.1 341.2h.01M147.2 349.9h.01M147.4 336.6h.01M147.5 329.2h.01M147.5 363.0h.01M147.6 358.5h.01M147.6 361.7h.01M147.7 392.6h.01M148.0 392.7h.01M148.1 334.0h.01M148.3 338.8h.01M148.4 360.4h.01M148.5 343.3h.01M148.8 340.6h.01M148.9 346.7h.01M148.9 352.7h.01M148.9 347.2h.01M149.0 342.4h.01M149.0 363.4h.01M149.0 364.4h.01M149.1 347.4h.01M149.2 366.6h.01M149.3 395.6h.01M149.4 356.5h.01M149.5 343.4h.01M149.8 342.1h.01M149.9 396.2h.01M150.4 369.6h.01M150.6 399.2h.01M150.8 401.4h.01M151.1 398.1h.01M153.4 395.7h.01M154.5 259.9h.01M154.9 363.3h.01M155.1 367.9h.01M155.1 357.6h.01M155.6 366.8h.01M155.7 354.9h.01M155.7 360.0h.01M156.3 249.0h.01M156.6 342.0h.01M156.6 337.7h.01M156.7 393.3h.01M156.8 349.4h.01M157.0 333.6h.01M157.8 317.6h.01M158.5 322.4h.01M158.8 344.9h.01M159.0 332.0h.01M159.0 348.7h.01M159.1 347.0h.01M159.2 251.8h.01M159.3 303.4h.01M159.4 327.6h.01M159.4 249.0h.01M159.6 289.8h.01M160.0 309.9h.01M160.3 309.2h.01M160.3 394.6h.01M160.4 283.9h.01M160.5 328.4h.01M160.5 296.7h.01M160.9 311.4h.01M161.1 316.3h.01M161.1 394.5h.01M161.5 266.9h.01M161.5 283.8h.01M161.6 268.7h.01M161.6 228.4h.01M161.6 251.3h.01M161.7 394.1h.01M161.9 298.6h.01M162.0 312.7h.01M162.1 256.4h.01M162.2 204.4h.01M162.2 235.4h.01M162.3 289.2h.01M162.5 263.7h.01M162.5 268.9h.01M162.6 262.6h.01M162.7 294.5h.01M162.7 251.6h.01M162.7 269.6h.01M163.0 302.3h.01M163.1 274.7h.01M163.1 301.5h.01M163.2 263.9h.01M163.3 294.6h.01M163.4 303.0h.01M163.5 257.0h.01M163.6 249.0h.01M164.3 307.4h.01M164.4 241.9h.01M165.2 394.7h.01M165.4 283.4h.01M165.7 272.2h.01M165.8 394.3h.01M167.0 352.9h.01M167.1 395.0h.01M167.2 294.0h.01M168.0 287.7h.01M168.2 354.5h.01M168.3 326.1h.01M168.5 291.0h.01M169.0 348.1h.01M169.1 347.9h.01M169.2 328.2h.01M169.3 285.3h.01M169.7 223.6h.01M169.7 230.7h.01M169.7 239.7h.01M169.7 248.5h.01M169.7 255.1h.01M169.7 268.2h.01M169.7 274.8h.01M169.8 397.2h.01M171.2 271.8h.01M171.8 253.7h.01M172.0 257.2h.01M172.0 352.8h.01M172.5 247.8h.01M173.2 215.0h.01M173.4 285.6h.01M173.6 324.4h.01M173.7 237.2h.01M173.8 284.4h.01M173.8 202.5h.01M174.0 291.6h.01M174.0 395.7h.01M174.0 327.8h.01M174.1 292.0h.01M174.1 254.8h.01M174.1 95.3h.01M174.1 102.1h.01M174.1 128.7h.01M174.1 182.6h.01M174.1 192.9h.01M174.2 266.2h.01M174.4 116.2h.01M174.4 199.0h.01M174.5 250.8h.01M174.5 251.5h.01M174.7 235.2h.01M174.8 218.5h.01M174.8 234.4h.01M174.8 258.8h.01M174.8 266.4h.01M174.8 125.3h.01M174.9 279.8h.01M174.9 236.5h.01M175.0 273.7h.01M175.0 215.0h.01M175.1 267.0h.01M175.3 296.8h.01M175.3 181.9h.01M175.4 221.8h.01M175.5 134.2h.01M175.5 395.0h.01M175.6 290.3h.01M175.6 279.6h.01M175.7 297.3h.01M175.7 192.2h.01M175.7 226.0h.01M175.7 249.5h.01M175.7 273.9h.01M175.8 316.2h.01M175.9 244.9h.01M175.9 244.6h.01M175.9 258.1h.01M176.0 278.0h.01M176.0 318.3h.01M176.1 241.6h.01M176.2 93.9h.01M176.2 100.7h.01M176.2 122.6h.01M176.2 179.9h.01M176.2 191.5h.01M176.2 277.9h.01M176.3 281.1h.01M176.3 338.1h.01M176.4 319.2h.01M176.4 308.4h.01M176.5 109.6h.01M176.5 141.3h.01M176.5 147.8h.01M176.5 151.2h.01M176.5 166.2h.01M176.5 245.3h.01M176.5 285.9h.01M176.5 340.1h.01M176.6 260.3h.01M176.6 207.2h.01M176.8 301.9h.01M176.8 286.9h.01M177.0 351.1h.01M177.0 354.6h.01M177.1 358.0h.01M177.2 359.8h.01M177.2 341.5h.01M177.2 289.1h.01M177.2 336.7h.01M177.3 352.0h.01M177.4 355.7h.01M177.4 308.7h.01M177.4 343.6h.01M177.5 369.7h.01M177.5 394.8h.01M177.5 369.8h.01M177.6 283.7h.01M177.6 348.2h.01M177.6 358.6h.01M177.6 361.4h.01M177.7 322.3h.01M177.7 313.0h.01M177.7 259.9h.01M177.8 305.7h.01M177.8 331.2h.01M177.9 333.9h.01M178.0 362.8h.01M178.0 265.9h.01M178.0 357.8h.01M178.0 302.8h.01M178.0 324.0h.01M178.1 281.8h.01M178.1 366.6h.01M178.3 291.8h.01M178.6 332.9h.01M178.8 365.0h.01M179.0 251.4h.01M179.1 366.5h.01M179.1 239.2h.01M179.2 346.0h.01M179.3 372.6h.01M179.5 327.6h.01M179.5 279.8h.01M179.9 345.7h.01M181.5 396.3h.01M181.6 273.5h.01M181.8 399.7h.01M182.5 401.8h.01M182.8 407.0h.01M183.0 405.1h.01M183.4 409.0h.01M183.5 408.0h.01M184.3 373.9h.01M184.6 409.3h.01M185.0 413.0h.01M185.5 413.7h.01M185.7 411.5h.01M186.3 417.4h.01M187.2 378.3h.01M187.5 374.2h.01M189.6 427.4h.01M190.4 422.1h.01M190.5 420.3h.01M191.1 382.2h.01M192.6 415.7h.01M192.8 416.2h.01M192.9 422.5h.01M192.9 379.8h.01M193.3 416.3h.01M193.5 418.8h.01M193.8 413.6h.01M193.9 423.8h.01M194.8 420.8h.01M195.3 411.1h.01M195.8 410.1h.01M197.2 406.3h.01M197.6 377.8h.01M197.9 407.1h.01M199.4 382.6h.01M199.9 403.8h.01M200.3 402.2h.01M201.7 383.1h.01M201.8 401.3h.01M203.4 381.1h.01M204.5 373.5h.01M204.6 377.3h.01M204.7 398.1h.01M204.9 379.4h.01M205.2 378.1h.01M205.4 380.0h.01M205.4 375.9h.01M205.4 378.1h.01M205.6 397.3h.01M206.5 397.2h.01M208.0 396.0h.01M208.6 395.3h.01M208.6 382.6h.01M210.4 394.7h.01M211.1 394.9h.01M211.2 381.0h.01M211.3 393.8h.01M211.9 393.9h.01M212.1 379.2h.01M212.6 392.7h.01M216.3 380.0h.01M217.2 393.1h.01M218.1 378.1h.01M218.5 379.6h.01M218.5 394.2h.01M218.6 394.9h.01M219.9 381.3h.01M221.4 397.3h.01M222.7 382.6h.01M223.2 381.6h.01M223.4 399.9h.01M223.9 403.8h.01M224.4 398.5h.01M227.1 379.2h.01M229.4 377.1h.01M229.6 399.4h.01M229.9 376.8h.01M230.0 401.3h.01M232.3 408.5h.01M232.7 402.6h.01M232.9 375.8h.01M234.0 404.1h.01M234.6 405.6h.01M235.9 377.2h.01M237.1 402.9h.01M237.6 380.4h.01M238.3 398.6h.01M238.4 381.2h.01M238.5 398.5h.01M241.4 380.8h.01M242.3 381.0h.01M242.7 396.3h.01M244.0 381.4h.01M244.1 397.0h.01M244.6 380.4h.01M245.6 398.1h.01M246.4 380.1h.01M247.2 379.1h.01M247.4 396.3h.01M247.5 395.5h.01M247.8 379.0h.01M248.5 376.7h.01M248.8 378.3h.01M250.2 393.2h.01M250.4 392.5h.01M250.4 393.3h.01M254.1 375.7h.01M255.6 379.9h.01M255.7 394.3h.01M255.9 394.5h.01M257.2 397.0h.01M257.6 397.5h.01M259.0 380.0h.01M260.1 403.3h.01M260.5 405.5h.01M260.6 397.8h.01M261.1 399.2h.01M261.4 380.9h.01M264.8 379.4h.01M264.8 405.4h.01M265.4 408.6h.01M265.6 378.7h.01M265.9 411.8h.01M267.3 414.2h.01M267.9 375.3h.01M269.4 377.2h.01M270.9 409.4h.01M271.5 413.6h.01M271.8 380.8h.01M272.2 402.5h.01M272.5 400.0h.01M272.5 400.0h.01M274.2 405.2h.01M275.4 381.5h.01M276.1 397.7h.01M276.8 396.7h.01M277.3 394.6h.01M279.2 381.0h.01M279.6 379.0h.01M280.9 379.5h.01M281.4 380.0h.01M281.4 392.5h.01M282.5 379.7h.01M283.3 393.4h.01M285.6 380.3h.01M286.0 392.3h.01M286.4 391.9h.01M287.9 382.2h.01M288.4 382.6h.01M289.7 393.8h.01M290.7 382.4h.01M291.3 394.8h.01M293.4 397.9h.01M293.6 383.1h.01M293.7 398.0h.01M293.9 382.5h.01M294.5 399.5h.01M295.2 396.4h.01M295.8 396.9h.01M296.1 383.2h.01M296.5 395.7h.01M296.7 393.8h.01M296.9 382.6h.01M298.6 391.6h.01M300.3 381.6h.01M302.9 382.2h.01M302.9 394.5h.01M304.3 380.5h.01M305.3 394.1h.01M305.6 381.7h.01M308.4 396.4h.01M308.4 397.6h.01M308.5 381.9h.01M310.0 400.0h.01M310.9 400.5h.01M311.2 403.1h.01M311.9 406.7h.01M312.1 405.8h.01M312.5 407.6h.01M312.8 381.2h.01M313.1 381.1h.01M313.2 410.3h.01M313.3 411.7h.01M313.6 413.6h.01M313.9 377.6h.01M314.0 371.7h.01M314.1 378.5h.01M314.3 413.4h.01M314.4 378.5h.01M314.4 418.0h.01M314.7 372.1h.01M314.9 375.8h.01M314.9 370.1h.01M315.0 419.4h.01M315.1 423.3h.01M315.7 422.1h.01M315.8 362.5h.01M315.8 360.7h.01M316.0 367.5h.01M316.1 423.4h.01M316.1 427.9h.01M316.2 420.7h.01M316.2 437.0h.01M316.3 355.1h.01M317.3 444.4h.01M317.8 430.5h.01M317.8 357.6h.01M317.9 435.6h.01M318.9 432.7h.01M319.0 431.9h.01M319.5 348.9h.01M319.8 434.3h.01M320.1 353.5h.01M320.5 349.3h.01M321.2 432.4h.01M322.3 436.8h.01M323.0 442.9h.01M323.6 460.2h.01M324.1 345.4h.01M325.4 438.1h.01M325.7 432.2h.01M326.3 444.2h.01M326.9 343.7h.01M327.2 340.8h.01M327.4 338.9h.01M327.4 446.1h.01M328.2 447.1h.01M329.3 331.9h.01M329.4 443.9h.01M330.4 449.9h.01M331.4 454.8h.01M331.7 328.9h.01M332.1 441.0h.01M332.3 345.0h.01M332.7 340.4h.01M332.8 335.8h.01M333.9 330.0h.01M334.1 441.6h.01M334.7 489.9h.01M335.0 452.1h.01M335.4 324.8h.01M335.4 451.0h.01M336.2 343.8h.01M337.1 459.7h.01M337.4 442.0h.01M338.0 441.4h.01M338.1 452.8h.01M338.2 331.6h.01M338.2 336.2h.01M338.4 461.9h.01M338.4 318.8h.01M338.6 441.3h.01M339.1 450.8h.01M339.2 450.5h.01M339.3 340.8h.01M340.2 455.5h.01M340.4 466.5h.01M340.4 473.0h.01M340.5 347.5h.01M340.8 437.6h.01M341.2 334.2h.01M341.7 441.9h.01M341.7 451.4h.01M341.9 333.6h.01M341.9 444.2h.01M342.4 450.5h.01M343.0 333.5h.01M343.0 345.1h.01M343.6 436.2h.01M344.3 337.4h.01M344.7 447.1h.01M345.3 441.5h.01M345.6 320.3h.01M346.0 447.6h.01M346.0 464.6h.01M346.0 457.6h.01M346.0 451.8h.01M346.3 327.5h.01M347.0 342.9h.01M347.1 334.5h.01M347.2 340.3h.01M348.2 330.8h.01M348.4 333.8h.01M348.6 452.6h.01M349.1 440.4h.01M349.4 341.8h.01M349.5 335.6h.01M350.1 445.8h.01M350.4 336.7h.01M350.8 320.3h.01M351.3 464.4h.01M352.1 342.8h.01M352.6 463.6h.01M352.6 448.4h.01M352.6 452.6h.01M353.5 455.7h.01M353.8 442.2h.01M354.9 338.4h.01M355.1 335.8h.01M355.4 455.5h.01M355.8 473.4h.01M356.1 336.3h.01M356.8 446.8h.01M356.9 450.2h.01M357.4 347.8h.01M357.6 443.1h.01M357.7 351.6h.01M358.4 461.6h.01M358.9 336.3h.01M359.2 464.8h.01M359.3 452.8h.01M359.8 354.2h.01M360.5 442.3h.01M362.0 450.7h.01M362.0 505.6h.01M362.4 348.0h.01M362.7 335.5h.01M363.5 352.0h.01M364.0 448.7h.01M364.2 444.8h.01M364.5 451.5h.01M365.0 446.9h.01M365.5 331.3h.01M365.6 332.1h.01M366.0 338.9h.01M366.4 332.0h.01M366.8 342.1h.01M368.2 466.2h.01M368.2 329.5h.01M368.5 334.5h.01M368.6 336.4h.01M369.2 328.1h.01M369.2 325.5h.01M369.9 456.5h.01M370.2 451.6h.01M370.4 466.5h.01M370.4 475.5h.01M370.5 446.3h.01M370.9 345.2h.01M372.2 326.2h.01M373.0 345.2h.01M373.2 323.1h.01M373.5 447.5h.01M373.6 340.3h.01M373.6 338.4h.01M373.7 333.6h.01M373.9 336.0h.01M374.1 332.3h.01M374.3 336.2h.01M374.5 448.1h.01M374.6 465.2h.01M374.8 442.2h.01M375.0 346.2h.01M375.4 442.3h.01M376.3 343.4h.01M376.4 310.1h.01M376.5 347.9h.01M377.1 457.0h.01M377.2 333.1h.01M377.3 341.9h.01M377.5 339.8h.01M377.6 332.8h.01M378.1 451.4h.01M378.3 348.3h.01M378.4 466.2h.01M378.5 324.1h.01M378.8 445.3h.01M378.8 462.7h.01M378.9 443.7h.01M379.0 452.1h.01M380.1 349.6h.01M380.3 461.1h.01M380.4 442.4h.01M381.9 449.9h.01M382.1 335.0h.01M382.4 334.2h.01M382.6 469.3h.01M383.0 330.7h.01M383.3 450.1h.01M384.5 439.8h.01M384.6 346.0h.01M385.0 344.3h.01M385.5 444.5h.01M385.7 331.0h.01M385.8 450.9h.01M386.0 347.0h.01M386.2 327.8h.01M386.5 448.6h.01M387.9 337.6h.01M387.9 454.1h.01M388.3 444.2h.01M388.5 315.4h.01M388.7 329.0h.01M388.7 453.4h.01M389.0 334.9h.01M389.0 347.1h.01M389.6 443.1h.01M389.9 339.4h.01M390.9 336.6h.01M391.1 330.0h.01M391.2 331.2h.01M391.5 340.7h.01M391.8 345.1h.01M392.1 440.3h.01M392.2 329.2h.01M392.3 459.4h.01M392.5 447.4h.01M393.2 450.1h.01M393.7 446.3h.01M394.0 339.1h.01M394.4 446.1h.01M394.9 322.2h.01M395.4 442.3h.01M396.6 334.6h.01M397.1 344.9h.01M397.2 441.5h.01M397.9 346.8h.01M398.5 453.5h.01M398.6 450.3h.01M398.7 465.5h.01M399.9 341.8h.01M400.2 461.1h.01M400.3 444.7h.01M401.1 447.8h.01M401.1 339.8h.01M401.3 335.0h.01M401.7 347.9h.01M401.8 446.2h.01M402.0 462.5h.01M402.3 315.0h.01M402.4 334.7h.01M402.4 458.5h.01M403.3 346.8h.01M403.6 449.9h.01M404.0 443.7h.01M405.2 343.7h.01M405.5 458.6h.01M405.8 455.1h.01M405.8 335.3h.01M405.9 345.4h.01M406.2 330.5h.01M406.3 344.3h.01M406.4 339.2h.01M407.0 344.3h.01M407.3 347.6h.01M407.7 444.9h.01M408.1 458.1h.01M408.2 445.5h.01M408.3 342.0h.01M409.0 448.1h.01M409.3 465.5h.01M409.3 334.2h.01M409.6 456.3h.01M410.1 448.5h.01M410.8 336.1h.01M411.5 468.3h.01M411.7 454.9h.01M411.9 343.3h.01M412.3 337.4h.01M412.7 346.6h.01M413.3 332.0h.01M413.5 450.8h.01M414.1 458.5h.01M414.3 450.5h.01M414.4 446.4h.01M414.9 328.3h.01M415.2 331.5h.01M415.4 338.8h.01M415.5 447.7h.01M415.7 453.1h.01M417.5 330.5h.01M417.6 334.0h.01M418.0 333.5h.01M418.2 334.6h.01M418.3 465.5h.01M419.3 475.0h.01M419.3 472.3h.01M419.4 443.7h.01M419.5 452.2h.01M419.7 477.2h.01M420.0 462.4h.01M420.3 444.0h.01M420.7 332.4h.01M421.6 453.0h.01M422.3 332.6h.01M422.6 449.8h.01M422.6 325.0h.01M423.6 446.2h.01M424.7 336.0h.01M424.8 470.6h.01M424.9 454.8h.01M425.4 339.0h.01M425.5 455.1h.01M425.6 328.7h.01M426.2 451.0h.01M426.4 333.1h.01M428.8 492.0h.01M429.0 334.6h.01M429.3 460.9h.01M429.5 467.4h.01M429.5 481.5h.01M429.5 491.2h.01M429.5 496.5h.01M429.7 447.4h.01M429.9 339.3h.01M430.7 333.8h.01M431.8 342.8h.01M432.1 452.0h.01M432.3 320.0h.01M433.1 481.6h.01M433.4 449.2h.01M434.5 344.0h.01M434.7 319.2h.01M435.6 454.3h.01M436.3 335.8h.01M436.5 347.6h.01M437.2 448.9h.01M437.4 448.6h.01M438.8 459.6h.01M438.9 340.9h.01M438.9 349.6h.01M439.2 341.9h.01M439.5 451.3h.01M439.7 340.9h.01M440.5 444.9h.01M441.6 336.5h.01M442.1 347.7h.01M442.4 331.4h.01M442.6 338.9h.01M443.5 347.2h.01M443.5 451.4h.01M443.9 333.0h.01M445.1 345.2h.01M445.4 344.7h.01M445.8 451.8h.01M446.0 343.2h.01M446.2 445.8h.01M446.8 453.6h.01M447.1 342.4h.01M448.7 451.6h.01M449.4 443.4h.01M449.8 344.5h.01M450.6 344.8h.01M450.8 335.8h.01M451.2 454.0h.01M451.5 337.6h.01M451.6 337.4h.01M451.6 331.7h.01M451.8 445.0h.01M452.6 467.7h.01M452.8 446.0h.01M454.4 336.8h.01M454.5 341.2h.01M454.9 333.3h.01M455.2 444.2h.01M455.5 343.2h.01M456.9 447.8h.01M457.0 331.1h.01M457.1 442.0h.01M457.3 315.0h.01M457.3 317.2h.01M457.4 454.1h.01M458.3 333.7h.01M458.4 330.9h.01M458.6 335.6h.01M459.7 343.3h.01M460.7 339.0h.01M461.0 449.1h.01M461.6 445.4h.01M462.9 339.5h.01M463.1 341.9h.01M463.2 451.5h.01M464.0 342.5h.01M464.3 342.6h.01M465.0 452.5h.01M465.6 457.1h.01M465.6 347.5h.01M465.6 448.8h.01M466.5 450.7h.01M466.6 337.1h.01M466.7 335.8h.01M466.9 334.7h.01M467.3 444.4h.01M467.9 327.2h.01M468.1 442.4h.01M468.2 327.5h.01M468.3 331.8h.01M468.6 346.6h.01M468.9 321.5h.01M469.0 338.5h.01M469.3 454.7h.01M469.5 327.8h.01M469.7 336.6h.01M470.6 332.2h.01M470.8 342.2h.01M471.0 451.9h.01M471.4 337.5h.01M473.3 444.4h.01M473.5 342.5h.01M473.8 444.5h.01M473.9 336.8h.01M474.4 445.5h.01M474.5 337.4h.01M474.8 457.6h.01M475.3 338.4h.01M475.3 475.9h.01M475.7 340.2h.01M475.9 347.1h.01M476.1 322.7h.01M476.7 456.6h.01M477.1 445.7h.01M477.1 465.3h.01M477.3 453.7h.01M477.4 462.3h.01M478.8 350.4h.01M479.0 448.5h.01M479.1 329.5h.01M479.3 315.0h.01M479.5 336.6h.01M479.7 341.3h.01M479.7 337.7h.01M479.8 334.0h.01M479.9 459.3h.01M480.0 343.3h.01M480.2 466.3h.01M481.4 456.1h.01M482.5 347.8h.01M482.5 344.4h.01M483.1 331.2h.01M483.5 454.0h.01M483.8 465.2h.01M484.0 337.3h.01M484.2 336.3h.01M484.4 441.4h.01M484.8 344.0h.01M486.2 444.0h.01M486.9 339.5h.01M486.9 437.4h.01M487.1 339.4h.01M487.8 455.9h.01M488.0 335.4h.01M488.3 325.1h.01M488.4 453.2h.01M489.3 319.7h.01M489.8 439.2h.01M489.9 331.7h.01M490.0 331.8h.01M490.3 334.4h.01M490.4 444.8h.01M490.6 449.2h.01M490.9 340.7h.01M491.8 447.5h.01M492.2 336.4h.01M492.6 436.4h.01M493.4 461.8h.01M494.0 443.4h.01M494.2 450.2h.01M494.4 444.5h.01M495.0 438.1h.01M495.9 443.9h.01M496.0 440.2h.01M496.2 342.9h.01M496.6 451.8h.01M496.9 478.8h.01M497.1 442.9h.01M497.2 338.6h.01M498.4 449.0h.01M498.5 453.9h.01M499.4 331.1h.01M499.6 331.6h.01M499.8 333.9h.01M500.6 441.4h.01M501.2 448.5h.01M502.6 443.6h.01M503.7 451.5h.01M504.3 447.1h.01M504.9 448.1h.01M505.2 333.7h.01M506.4 322.1h.01M507.2 338.6h.01M508.6 337.1h.01M508.9 453.2h.01M509.0 469.2h.01M509.0 460.5h.01M509.3 452.5h.01M509.8 335.2h.01M509.8 467.9h.01M509.9 446.2h.01M510.2 447.3h.01M510.4 346.1h.01M510.6 333.7h.01M511.8 455.2h.01M512.2 341.9h.01M512.4 335.3h.01M512.5 325.7h.01M512.8 454.0h.01M512.8 438.1h.01M513.2 442.5h.01M513.7 332.6h.01M514.1 454.4h.01M514.2 463.9h.01M514.2 447.5h.01M514.4 341.6h.01M514.5 445.7h.01M514.5 462.7h.01M515.2 347.8h.01M515.5 347.0h.01M515.6 334.6h.01M515.9 454.4h.01M516.1 460.9h.01M516.4 338.9h.01M516.5 335.9h.01M516.9 437.1h.01M517.3 336.9h.01M517.5 443.8h.01M518.0 436.0h.01M518.9 460.5h.01M519.3 443.2h.01M519.4 441.4h.01M520.1 340.3h.01M520.8 457.8h.01M521.8 452.1h.01M522.0 341.4h.01M522.5 456.4h.01M522.7 451.9h.01M522.8 434.8h.01M523.1 334.4h.01M523.6 337.8h.01M523.8 447.0h.01M523.9 333.8h.01M523.9 460.7h.01M524.0 461.0h.01M524.6 438.4h.01M525.0 337.2h.01M525.1 451.9h.01M525.2 335.4h.01M525.4 441.8h.01M525.6 343.8h.01M525.6 460.1h.01M525.9 343.0h.01M527.7 336.6h.01M527.8 447.0h.01M528.4 458.6h.01M528.7 341.3h.01M529.3 347.8h.01M529.7 453.8h.01M530.6 347.5h.01M530.7 449.9h.01M530.9 454.3h.01M531.5 457.3h.01M531.7 346.7h.01M532.2 448.3h.01M532.4 463.3h.01M532.5 464.5h.01M532.6 332.1h.01M532.7 343.9h.01M532.9 323.2h.01M533.3 338.0h.01M533.5 334.4h.01M533.5 462.7h.01M533.8 348.3h.01M534.3 344.4h.01M535.4 341.7h.01M535.6 446.2h.01M536.3 352.9h.01M537.4 336.0h.01M537.7 448.8h.01M538.0 478.7h.01M538.6 346.0h.01M538.7 479.1h.01M539.0 335.6h.01M539.9 334.6h.01M540.1 340.5h.01M540.3 336.7h.01M540.4 345.4h.01M540.6 340.5h.01M541.4 349.5h.01M541.7 344.7h.01M541.9 351.5h.01M542.2 342.8h.01M542.2 447.2h.01M542.6 324.1h.01M543.0 448.3h.01M543.2 350.2h.01M543.3 446.3h.01M543.4 343.7h.01M543.9 452.2h.01M544.3 443.4h.01M544.8 447.6h.01M544.9 333.2h.01M545.4 342.5h.01M545.5 337.5h.01M546.2 449.2h.01M546.3 451.4h.01M547.2 345.3h.01M547.3 323.6h.01M547.4 349.2h.01M548.2 346.5h.01M548.6 455.2h.01M549.4 338.6h.01M549.5 345.0h.01M549.5 441.1h.01M550.4 446.6h.01M550.4 444.6h.01M550.5 448.3h.01M550.6 343.8h.01M550.8 339.5h.01M551.1 437.8h.01M551.1 463.1h.01M551.8 455.1h.01M552.0 468.4h.01M552.1 452.8h.01M552.4 345.6h.01M552.9 336.8h.01M553.1 443.4h.01M554.0 340.7h.01M554.2 349.7h.01M554.9 351.6h.01M554.9 455.6h.01M555.2 347.6h.01M555.2 441.5h.01M556.9 327.8h.01M557.0 450.2h.01M557.6 347.0h.01M557.6 316.3h.01M558.0 353.1h.01M558.1 474.3h.01M558.6 335.8h.01M558.8 342.1h.01M558.8 344.4h.01M559.3 324.6h.01M560.0 474.5h.01M560.1 339.9h.01M560.1 481.2h.01M560.4 448.2h.01M560.7 443.0h.01M560.7 335.6h.01M560.9 349.9h.01M561.1 458.5h.01M561.4 344.6h.01M561.9 318.8h.01M562.0 460.1h.01M562.2 467.2h.01M562.2 451.3h.01M562.5 349.5h.01M563.4 457.5h.01M563.8 462.6h.01M564.0 339.2h.01M564.1 346.0h.01M564.2 336.6h.01M564.6 345.5h.01M564.6 448.2h.01M564.9 446.8h.01M566.8 344.1h.01M567.2 335.6h.01M567.7 457.9h.01M567.9 350.1h.01M568.7 349.2h.01M568.9 340.5h.01M569.5 314.6h.01M569.5 338.6h.01M570.2 445.5h.01M571.2 455.8h.01M571.6 326.2h.01M571.9 449.1h.01M572.9 338.1h.01M573.6 446.6h.01M573.8 449.5h.01M574.7 459.9h.01M575.1 334.9h.01M576.2 452.1h.01M576.8 443.4h.01M577.1 336.1h.01M578.5 442.4h.01M579.4 447.6h.01M580.8 336.7h.01M580.9 438.5h.01M581.2 486.2h.01M581.3 436.0h.01M581.6 441.8h.01M582.1 453.9h.01M582.6 447.6h.01M583.5 449.3h.01M584.2 449.3h.01M584.4 336.6h.01M585.0 445.6h.01M586.0 440.1h.01M586.2 348.4h.01M586.3 476.4h.01M586.3 345.0h.01M586.3 454.0h.01M586.8 437.4h.01M588.6 453.9h.01M588.8 453.9h.01M588.9 336.4h.01M589.1 449.3h.01M589.6 342.6h.01M590.4 349.8h.01M591.5 449.9h.01M591.6 464.5h.01M592.0 340.5h.01M592.4 331.8h.01M592.6 338.8h.01M593.0 347.0h.01M593.5 343.6h.01M593.6 344.6h.01M594.4 434.0h.01M594.9 454.2h.01M595.0 437.3h.01M595.3 441.4h.01M595.4 433.1h.01M596.4 344.7h.01M596.5 449.3h.01M597.2 333.8h.01M597.3 444.0h.01M598.4 350.3h.01M598.4 349.3h.01M599.8 442.9h.01M600.0 337.7h.01M600.1 343.3h.01M600.2 345.0h.01M600.8 435.3h.01M600.9 341.5h.01M601.1 434.8h.01M602.1 446.6h.01M602.2 449.0h.01M602.5 351.5h.01M602.8 437.8h.01M602.9 444.7h.01M603.0 341.9h.01M603.2 441.9h.01M603.3 333.8h.01M603.5 351.5h.01M603.6 317.4h.01M604.3 440.5h.01M604.6 456.1h.01M604.7 445.5h.01M607.1 338.8h.01M607.3 342.6h.01M607.4 349.3h.01M607.4 446.7h.01M607.6 331.2h.01M607.9 347.5h.01M608.9 440.6h.01M609.3 444.0h.01M610.4 444.9h.01M611.1 447.7h.01M612.2 340.6h.01M612.4 453.7h.01M613.0 457.2h.01M613.2 330.2h.01M613.4 437.2h.01M613.5 319.5h.01M613.6 447.3h.01M614.7 437.9h.01M614.8 445.4h.01M615.4 447.9h.01M615.5 336.9h.01M616.0 331.1h.01M617.0 447.2h.01M617.7 437.5h.01M618.6 333.5h.01M618.9 448.2h.01M621.3 337.6h.01M621.4 447.6h.01M622.1 441.0h.01M623.2 446.5h.01M623.8 440.8h.01M624.1 456.2h.01M624.3 448.5h.01M624.9 322.1h.01M625.4 343.6h.01M625.6 336.8h.01M625.9 475.7h.01M626.6 338.5h.01M626.7 455.6h.01M627.0 445.9h.01M627.1 454.2h.01M627.2 443.3h.01M628.2 345.1h.01M628.5 463.1h.01M629.3 335.4h.01M629.4 443.8h.01M629.7 331.3h.01M630.0 340.3h.01M631.4 346.4h.01M632.3 442.6h.01M632.5 337.5h.01M633.6 440.4h.01M634.3 341.9h.01M635.5 467.0h.01M635.5 483.4h.01M635.5 331.9h.01M635.9 342.5h.01M637.4 340.8h.01M637.9 446.2h.01M638.4 441.0h.01M638.8 442.7h.01M639.3 449.3h.01M639.9 330.7h.01M640.9 337.5h.01M641.4 462.3h.01M642.1 456.5h.01M643.4 336.9h.01M643.6 350.2h.01M643.9 447.7h.01M645.1 479.6h.01M645.3 333.9h.01M645.5 341.9h.01M646.0 451.0h.01M646.1 354.9h.01M646.5 348.9h.01M647.4 336.2h.01M647.4 336.9h.01M647.5 345.1h.01M648.0 354.2h.01M648.9 346.1h.01M649.6 348.3h.01M649.9 445.1h.01M649.9 354.2h.01M650.7 452.6h.01M650.8 336.8h.01M651.2 449.1h.01M651.9 442.2h.01M651.9 351.1h.01M652.0 467.4h.01M652.6 344.2h.01M653.2 351.0h.01M654.1 450.5h.01M654.4 450.8h.01M654.8 441.4h.01M654.8 345.1h.01M655.4 332.9h.01M655.9 343.9h.01M656.3 451.3h.01M656.4 441.1h.01M656.9 335.1h.01M657.3 350.3h.01M657.4 339.8h.01M657.9 456.5h.01M658.1 344.6h.01M658.8 441.0h.01M658.9 467.0h.01M659.2 458.8h.01M659.2 346.9h.01M659.8 340.7h.01M661.0 339.7h.01M661.0 338.1h.01M662.1 346.5h.01M663.1 443.6h.01M663.6 436.7h.01M663.8 335.7h.01M664.0 466.4h.01M664.2 341.1h.01M664.9 344.0h.01M665.2 442.1h.01M665.3 433.9h.01M665.4 446.4h.01M665.6 445.7h.01M666.9 450.2h.01M667.8 360.6h.01M667.9 338.9h.01M669.3 448.8h.01M669.7 468.4h.01M669.7 340.9h.01M669.9 356.4h.01M670.4 466.5h.01M670.4 435.9h.01M670.6 452.8h.01M670.8 362.8h.01M671.0 442.4h.01M671.1 344.5h.01M671.5 331.2h.01M672.0 338.2h.01M673.2 336.5h.01M673.5 453.6h.01M673.6 361.4h.01M673.9 357.4h.01M674.0 361.5h.01M674.2 467.8h.01M674.4 451.3h.01M674.5 437.5h.01M675.1 436.6h.01M675.2 431.5h.01M675.5 439.1h.01M675.5 334.7h.01M675.6 343.9h.01M675.9 443.4h.01M676.0 443.9h.01M676.5 348.3h.01M676.6 334.0h.01M676.8 332.8h.01M677.4 428.9h.01M677.6 445.3h.01M678.3 436.0h.01M678.5 339.1h.01M678.6 340.2h.01M678.6 450.6h.01M678.7 447.4h.01M679.0 336.1h.01M679.0 436.6h.01M679.1 330.9h.01M679.5 341.0h.01M679.5 349.0h.01M679.9 452.3h.01M680.3 443.2h.01M680.4 439.0h.01M681.7 331.1h.01M681.8 434.8h.01M681.9 344.7h.01M682.0 344.8h.01M682.2 431.9h.01M682.4 315.0h.01M682.5 452.3h.01M682.8 336.1h.01M682.9 347.3h.01M684.0 447.9h.01M684.2 451.4h.01M684.6 454.0h.01M685.6 333.4h.01M686.0 444.7h.01M686.1 321.0h.01M687.5 346.0h.01M687.8 342.4h.01M688.8 464.2h.01M689.4 338.0h.01M689.5 444.3h.01M690.3 450.8h.01M690.4 446.8h.01M690.5 439.4h.01M690.6 332.4h.01M691.1 330.4h.01M691.4 342.0h.01M691.8 339.8h.01M692.2 338.4h.01M692.5 449.4h.01M692.5 346.6h.01M693.0 339.1h.01M693.6 451.0h.01M694.3 440.9h.01M695.3 335.2h.01M695.8 441.4h.01M697.1 345.9h.01M697.4 323.6h.01M697.7 341.5h.01M697.9 454.7h.01M698.1 444.0h.01M698.4 349.0h.01M698.5 346.0h.01M698.5 441.7h.01M699.7 459.8h.01M700.6 339.3h.01M701.4 451.4h.01M701.8 346.3h.01M702.2 339.6h.01M702.2 333.0h.01M702.3 339.9h.01M702.3 323.4h.01M702.3 464.6h.01M702.7 447.2h.01M702.7 441.5h.01M702.8 344.8h.01M703.2 333.8h.01M703.3 351.6h.01M703.4 442.4h.01M704.4 442.4h.01M704.6 330.1h.01M704.7 455.2h.01M706.5 344.3h.01M706.7 440.5h.01M706.7 340.5h.01M707.0 446.7h.01M707.9 438.4h.01M708.3 463.4h.01M708.5 348.0h.01M708.8 347.4h.01M709.0 342.7h.01M709.9 440.6h.01M710.0 343.7h.01M710.2 337.4h.01M710.6 442.7h.01M710.8 349.6h.01M711.7 434.1h.01M711.8 449.4h.01M712.5 439.8h.01M712.9 339.3h.01M713.0 460.3h.01M713.2 444.4h.01M713.7 451.2h.01M714.2 313.3h.01M714.4 347.7h.01M714.4 438.8h.01M714.5 344.3h.01M715.5 324.2h.01M715.5 324.8h.01M715.7 444.4h.01M715.9 448.6h.01M716.2 448.3h.01M716.3 345.2h.01M716.9 446.6h.01M718.0 436.9h.01M719.1 342.5h.01M720.8 333.1h.01M722.1 438.5h.01M722.3 439.4h.01M722.3 438.0h.01M722.9 336.1h.01M723.1 349.7h.01M723.8 343.0h.01M725.4 338.6h.01M725.6 328.0h.01M725.8 345.5h.01M726.1 354.1h.01M726.5 331.9h.01M726.6 442.1h.01M726.6 445.0h.01M727.1 335.5h.01M727.4 345.0h.01M728.9 346.3h.01M729.3 456.7h.01M729.5 354.1h.01M729.6 451.6h.01M729.8 455.0h.01M730.1 444.0h.01M730.2 329.3h.01M731.2 330.5h.01M731.7 332.1h.01M732.3 350.3h.01M733.0 460.0h.01M733.4 349.4h.01M733.5 434.4h.01M734.0 336.1h.01M734.0 442.5h.01M734.2 440.3h.01M734.5 338.6h.01M735.8 440.9h.01M736.5 343.3h.01M736.9 437.7h.01M737.1 346.3h.01M738.1 440.2h.01M738.2 340.5h.01M739.3 447.8h.01M739.3 439.0h.01M739.5 330.5h.01M739.6 339.8h.01M740.2 446.2h.01M740.2 323.4h.01M740.4 320.4h.01M740.5 334.3h.01M740.7 337.6h.01M741.6 350.2h.01M741.7 330.8h.01M741.8 438.8h.01M742.2 445.2h.01M742.3 344.7h.01M742.8 445.7h.01M743.2 440.9h.01M743.4 466.5h.01M744.7 468.6h.01M744.8 353.5h.01M744.9 457.8h.01M745.2 337.4h.01M745.3 447.0h.01M745.5 337.3h.01M745.8 440.4h.01M745.9 346.5h.01M746.3 453.4h.01M747.7 350.6h.01M747.8 439.4h.01M748.8 451.2h.01M749.4 449.0h.01M750.1 337.8h.01M751.3 442.0h.01M751.6 459.6h.01M751.7 445.5h.01M752.0 336.9h.01M753.2 452.6h.01M753.3 342.3h.01M754.0 340.8h.01M754.0 345.8h.01M756.2 446.9h.01M756.3 462.5h.01M758.1 334.4h.01M758.2 347.5h.01M758.6 448.6h.01M759.8 332.8h.01M760.9 452.8h.01M760.9 314.5h.01M761.1 338.7h.01M761.6 434.5h.01M761.7 431.4h.01M761.9 345.9h.01M762.2 447.2h.01M762.6 336.0h.01M762.8 466.2h.01M762.9 330.2h.01M763.1 345.1h.01M763.7 462.3h.01M764.6 445.8h.01M765.1 333.6h.01M766.0 430.4h.01M766.5 435.3h.01M767.1 325.4h.01M767.1 341.8h.01M767.6 337.9h.01M767.9 328.6h.01M768.0 338.8h.01M768.8 442.5h.01M769.3 320.1h.01M770.9 339.9h.01M771.1 434.4h.01M771.6 316.3h.01M772.3 454.4h.01M772.8 440.3h.01M773.0 342.4h.01M773.1 343.2h.01M773.5 333.9h.01M775.3 434.8h.01M775.3 468.3h.01M775.3 442.3h.01M775.4 430.6h.01M775.6 343.5h.01M775.9 430.5h.01M776.1 334.1h.01M776.3 448.0h.01M776.7 435.6h.01M776.8 459.3h.01M777.4 458.7h.01M777.6 445.2h.01M777.8 347.1h.01M777.8 336.7h.01M778.5 453.2h.01M778.9 431.2h.01M779.0 339.0h.01M779.1 443.3h.01M779.2 347.0h.01M780.1 327.6h.01M780.4 348.2h.01M781.0 341.6h.01M781.2 330.1h.01M781.3 437.4h.01M781.5 323.8h.01M781.9 333.2h.01M782.0 431.9h.01M782.1 441.2h.01M782.2 332.3h.01M782.8 451.6h.01M782.9 448.7h.01M783.0 326.2h.01M783.1 347.8h.01M784.1 341.1h.01M784.1 341.6h.01M784.7 434.5h.01M785.1 438.8h.01M785.3 338.8h.01M786.0 335.0h.01M786.0 439.1h.01M786.4 453.0h.01M786.8 337.4h.01M787.0 463.9h.01M787.4 344.7h.01M787.7 439.7h.01M787.8 332.8h.01M788.5 441.4h.01M788.7 432.9h.01M788.8 445.9h.01M789.3 325.7h.01M790.0 325.5h.01M790.2 446.0h.01M790.5 323.7h.01M790.7 331.8h.01M791.8 337.5h.01M791.9 343.4h.01M791.9 449.8h.01M792.0 438.7h.01M793.0 433.6h.01M793.6 344.3h.01M793.9 442.1h.01M793.9 453.4h.01M794.1 335.4h.01M794.3 436.5h.01M794.5 330.3h.01M795.3 456.1h.01M795.6 456.1h.01M795.8 328.3h.01M795.9 451.5h.01M796.5 341.4h.01M797.1 438.0h.01M797.5 453.7h.01M797.5 328.7h.01M797.5 431.8h.01M798.4 335.9h.01M798.5 332.5h.01M798.8 438.6h.01M798.8 444.2h.01M799.3 440.0h.01M799.3 319.5h.01M800.3 335.3h.01M800.5 336.7h.01M800.9 435.5h.01M801.7 459.5h.01M802.1 340.6h.01M803.2 346.1h.01M803.6 442.4h.01M803.8 341.9h.01M804.5 461.2h.01M804.5 447.5h.01M805.7 442.7h.01M806.2 448.7h.01M806.5 458.4h.01M806.7 450.0h.01M807.0 346.9h.01M807.4 440.9h.01M807.5 332.3h.01M807.9 338.0h.01M808.1 334.4h.01M808.2 335.9h.01M808.5 345.9h.01M808.8 444.8h.01M809.7 437.2h.01M811.6 341.1h.01M812.0 327.4h.01M812.3 446.6h.01M812.5 330.7h.01M812.8 328.3h.01M812.8 329.7h.01M813.2 337.6h.01M813.2 330.9h.01M813.8 448.2h.01M814.7 439.0h.01M815.3 332.3h.01M816.3 442.7h.01M816.4 445.5h.01M816.7 445.7h.01M817.0 339.6h.01M817.7 435.8h.01M818.2 320.0h.01M818.3 334.2h.01M818.6 344.6h.01M819.1 439.2h.01M819.1 447.0h.01M819.4 432.9h.01M819.5 347.0h.01M820.1 450.8h.01M820.6 340.4h.01M820.6 440.3h.01M820.7 452.5h.01M820.8 457.6h.01M820.9 448.2h.01M821.6 432.9h.01M821.6 332.5h.01M821.8 440.7h.01M822.3 450.5h.01M822.8 431.9h.01M823.1 454.0h.01M823.1 447.1h.01M823.3 339.6h.01M823.5 348.1h.01M823.6 450.0h.01M823.7 422.6h.01M823.8 340.6h.01M823.8 435.0h.01M823.9 406.7h.01M824.1 407.2h.01M824.1 409.4h.01M824.3 406.7h.01M824.5 433.9h.01M824.7 351.1h.01M824.7 413.0h.01M824.8 408.9h.01M824.8 393.4h.01M824.8 427.2h.01M824.8 421.0h.01M824.8 417.0h.01M824.9 342.3h.01M824.9 410.7h.01M825.0 402.8h.01M825.0 417.9h.01M825.0 437.3h.01M825.1 470.3h.01M825.1 399.8h.01M825.1 329.9h.01M825.1 416.0h.01M825.2 347.3h.01M825.3 402.6h.01M825.3 350.6h.01M825.5 390.5h.01M826.4 386.9h.01M826.5 353.7h.01M826.6 390.1h.01M827.6 395.9h.01M827.8 355.2h.01M829.0 356.7h.01M829.1 383.7h.01M833.5 356.8h.01M834.2 383.1h.01M835.4 386.4h.01M835.5 385.6h.01M836.1 387.2h.01M836.2 389.3h.01M836.5 355.4h.01M836.6 351.1h.01M837.1 392.1h.01M837.5 394.0h.01M837.8 400.5h.01M838.6 397.0h.01M839.2 403.6h.01M839.2 409.2h.01M839.4 350.3h.01M839.7 395.5h.01M840.6 401.5h.01M840.9 395.8h.01M842.2 349.5h.01M843.6 395.6h.01M845.6 348.2h.01M846.0 344.1h.01M846.0 346.5h.01M846.2 342.9h.01M846.9 346.2h.01M847.9 350.0h.01M848.8 394.1h.01M849.9 351.3h.01M851.1 397.3h.01M851.5 399.0h.01M852.4 351.5h.01M853.7 399.7h.01M853.9 354.9h.01M853.9 400.2h.01M854.4 352.5h.01M854.8 360.0h.01M855.0 357.3h.01M855.3 359.5h.01M855.7 357.8h.01M856.8 362.8h.01M857.2 403.1h.01M857.5 403.2h.01M857.9 408.0h.01M859.1 363.6h.01M860.9 411.2h.01M861.1 364.4h.01M862.8 415.2h.01M863.1 414.1h.01M863.6 419.5h.01M863.6 424.2h.01M863.6 430.8h.01M864.1 363.0h.01M864.2 413.4h.01M864.4 414.2h.01M864.7 361.6h.01M865.4 410.9h.01M866.1 408.5h.01M867.0 406.6h.01M867.7 404.0h.01M868.1 363.1h.01M868.1 404.4h.01M868.7 406.4h.01M869.1 363.2h.01M869.2 400.3h.01M871.2 399.8h.01M872.8 364.4h.01M874.9 400.2h.01M875.7 400.1h.01M875.9 406.3h.01M876.0 400.2h.01M876.4 410.1h.01M876.4 417.7h.01M876.6 360.9h.01M876.8 402.2h.01M876.9 406.5h.01M876.9 399.9h.01M877.2 407.8h.01M877.3 414.6h.01M877.6 398.6h.01M878.3 399.6h.01M878.3 360.6h.01M878.4 357.2h.01M879.0 396.9h.01M879.1 360.3h.01M879.2 394.9h.01M879.3 391.4h.01M879.4 389.7h.01M879.6 394.1h.01M879.6 394.6h.01M880.3 388.0h.01M881.7 361.5h.01M882.7 361.6h.01M882.7 362.6h.01M883.5 362.3h.01M884.0 386.4h.01M884.9 362.7h.01M885.3 385.8h.01M886.9 383.8h.01M886.9 363.1h.01M887.8 363.2h.01M887.8 363.3h.01M888.7 362.4h.01M889.2 384.0h.01M889.5 364.5h.01M890.6 365.2h.01M891.7 387.3h.01M894.1 367.4h.01M894.5 383.9h.01M895.2 367.8h.01M895.6 383.9h.01M896.5 384.7h.01M898.5 368.4h.01M900.4 387.7h.01M900.6 366.3h.01M901.1 365.7h.01M902.8 386.0h.01M904.7 364.8h.01M905.6 364.2h.01M906.3 389.3h.01M907.8 388.3h.01M909.4 362.1h.01M909.5 358.9h.01M910.1 350.4h.01M912.1 387.5h.01M913.7 361.3h.01M913.8 388.5h.01M915.4 358.2h.01M916.3 391.6h.01M917.4 356.9h.01M917.7 389.8h.01M918.0 389.4h.01M918.2 396.2h.01M918.5 389.0h.01M918.9 389.8h.01M919.3 351.9h.01M919.8 386.0h.01M922.1 351.2h.01M922.3 343.5h.01M922.3 347.3h.01M923.7 353.8h.01M923.9 359.1h.01M924.5 387.2h.01M925.0 355.9h.01M925.0 361.6h.01M925.9 361.7h.01M928.3 388.5h.01M929.8 362.6h.01M930.5 389.1h.01M932.6 387.6h.01M934.0 363.6h.01M936.1 361.6h.01M936.7 390.1h.01M939.2 320.0h.01M939.2 323.8h.01M939.8 390.5h.01M939.8 362.0h.01M942.0 392.1h.01M942.2 362.0h.01M943.6 336.9h.01M943.6 340.3h.01M943.8 393.1h.01M945.3 365.6h.01M947.2 395.4h.01M948.6 394.1h.01M948.7 367.9h.01M949.5 393.2h.01M949.6 349.7h.01M949.6 353.8h.01M949.8 368.2h.01M951.7 370.5h.01M951.8 369.6h.01M952.9 371.0h.01M953.8 371.2h.01M954.6 393.6h.01M954.8 371.5h.01M956.2 395.9h.01M958.0 402.6h.01M958.2 370.1h.01M958.8 396.0h.01M959.4 398.5h.01M959.8 394.2h.01M960.4 369.4h.01M962.1 393.0h.01M962.5 367.5h.01M965.2 369.4h.01M965.5 365.6h.01M966.2 392.7h.01M968.6 371.7h.01M970.4 392.1h.01M972.6 369.5h.01M973.2 368.9h.01M974.3 389.1h.01M974.9 358.5h.01M974.9 364.2h.01M975.3 369.4h.01M975.5 365.2h.01M975.9 389.1h.01M976.2 372.1h.01M977.6 373.5h.01M979.5 388.9h.01M982.2 375.2h.01M982.9 391.1h.01M983.2 375.2h.01M985.0 374.7h.01M986.3 373.4h.01M986.9 373.7h.01M987.2 388.9h.01M987.9 368.8h.01M988.2 368.5h.01M988.8 370.1h.01M989.4 345.4h.01M989.4 351.9h.01M989.4 356.6h.01M989.8 368.7h.01M990.1 369.4h.01M990.8 390.9h.01M991.8 361.3h.01M992.4 340.3h.01M992.9 371.4h.01M993.1 391.6h.01M994.2 372.7h.01M994.3 394.8h.01M995.5 399.1h.01M995.6 398.0h.01M996.7 394.8h.01M997.1 394.3h.01M998.2 371.7h.01M999.6 392.1h.01M1000.6 392.5h.01M1000.7 369.8h.01M1001.4 367.2h.01M1003.2 393.2h.01M1004.6 391.9h.01M1004.7 364.8h.01M1005.3 364.5h.01M1005.7 361.8h.01M1006.7 391.7h.01M1008.3 391.2h.01M1008.4 362.4h.01M1010.5 360.4h.01M1011.7 392.5h.01M1012.5 356.6h.01M1014.6 357.5h.01M1015.0 391.5h.01M1015.8 361.8h.01M1016.7 393.0h.01M1017.1 362.8h.01M1019.4 391.5h.01M1020.6 391.6h.01M1021.0 390.8h.01M1021.6 362.7h.01M1023.0 389.8h.01M1023.3 390.3h.01M1023.5 363.6h.01M1024.9 390.1h.01M1026.3 388.5h.01M1026.3 358.1h.01M1026.8 388.9h.01M1027.4 362.1h.01M1028.4 306.9h.01M1028.4 328.5h.01M1029.3 325.7h.01M1029.3 339.2h.01M1029.3 347.3h.01M1029.4 350.0h.01M1029.6 389.4h.01M1029.7 329.8h.01M1029.9 353.8h.01M1029.9 273.4h.01M1030.0 353.0h.01M1030.2 340.8h.01M1030.3 389.2h.01M1030.4 354.7h.01M1030.6 320.7h.01M1030.7 389.7h.01M1031.0 333.5h.01M1031.2 389.7h.01M1032.6 392.3h.01M1034.0 344.3h.01M1034.1 344.9h.01M1034.6 326.4h.01M1034.8 294.8h.01M1034.8 345.8h.01M1035.2 324.6h.01M1035.5 345.7h.01M1036.3 394.0h.01M1036.4 333.2h.01M1036.8 343.1h.01M1037.4 338.9h.01M1037.5 392.5h.01M1037.7 328.5h.01M1038.0 250.3h.01M1038.3 323.1h.01M1038.6 331.2h.01M1038.9 349.8h.01M1040.3 350.2h.01M1041.1 392.1h.01M1041.5 391.7h.01M1042.6 391.2h.01M1043.5 345.6h.01M1043.5 348.2h.01M1043.7 338.3h.01M1043.8 348.6h.01M1043.8 362.9h.01M1043.8 353.6h.01M1044.2 341.7h.01M1044.2 357.6h.01M1044.3 366.5h.01M1044.5 359.8h.01M1044.6 369.7h.01M1044.6 361.9h.01M1044.6 240.5h.01M1044.7 363.4h.01M1045.4 392.9h.01M1045.6 393.1h.01M1046.0 271.6h.01M1046.3 280.4h.01M1047.1 391.3h.01M1048.1 391.3h.01M1048.2 294.2h.01M1048.4 353.7h.01M1048.5 289.4h.01M1049.1 390.6h.01M1049.9 370.3h.01M1049.9 345.3h.01M1050.0 353.8h.01M1050.0 355.2h.01M1050.1 365.9h.01M1050.3 357.7h.01M1050.3 368.9h.01M1050.3 351.4h.01M1050.4 362.8h.01M1050.4 363.5h.01M1050.5 355.2h.01M1050.5 360.6h.01M1050.5 309.0h.01M1050.6 364.5h.01M1050.8 324.3h.01M1050.9 362.9h.01M1051.0 359.6h.01M1052.1 352.3h.01M1052.5 313.2h.01M1052.6 328.8h.01M1053.1 309.6h.01M1053.4 348.5h.01M1053.8 347.7h.01M1053.8 390.7h.01M1055.0 303.7h.01M1055.2 351.1h.01M1055.3 276.7h.01M1055.7 326.4h.01M1055.8 328.6h.01M1055.9 343.1h.01M1056.9 391.3h.01M1057.0 360.4h.01M1057.1 360.7h.01M1057.3 356.2h.01M1057.6 347.4h.01M1060.2 390.1h.01M1060.4 340.1h.01M1060.8 355.6h.01M1061.0 285.8h.01M1061.2 329.2h.01M1061.2 280.1h.01M1061.3 351.1h.01M1061.3 287.2h.01M1061.4 355.7h.01M1061.6 333.2h.01M1061.7 275.7h.01M1061.8 293.0h.01M1061.8 325.1h.01M1061.9 263.0h.01M1062.0 318.4h.01M1062.0 290.2h.01M1062.2 273.9h.01M1062.2 338.2h.01M1062.3 239.2h.01M1062.3 336.0h.01M1062.4 312.5h.01M1062.5 314.0h.01M1062.5 341.1h.01M1062.6 275.4h.01M1062.9 291.4h.01M1062.9 274.9h.01M1062.9 303.4h.01M1063.0 298.6h.01M1063.0 317.3h.01M1063.0 313.0h.01M1063.1 291.6h.01M1063.1 297.0h.01M1063.2 340.2h.01M1063.4 309.8h.01M1063.7 348.1h.01M1063.7 334.8h.01M1063.7 347.8h.01M1063.8 390.3h.01M1063.8 342.4h.01M1063.9 288.6h.01M1063.9 343.8h.01M1064.0 341.4h.01M1064.0 333.9h.01M1064.9 316.6h.01M1065.2 295.8h.01M1065.3 344.0h.01M1065.3 234.3h.01M1065.6 305.3h.01M1065.7 208.4h.01M1065.7 234.3h.01M1065.7 252.5h.01M1065.8 323.0h.01M1065.9 322.1h.01M1065.9 391.0h.01M1066.0 267.6h.01M1066.5 283.8h.01M1066.6 343.0h.01M1066.6 151.0h.01M1067.4 132.4h.01M1067.5 273.5h.01M1067.5 391.1h.01M1067.5 298.7h.01M1067.7 331.3h.01M1068.6 391.8h.01M1069.0 342.6h.01M1069.6 307.5h.01M1069.7 317.8h.01M1069.7 331.5h.01M1069.8 302.1h.01M1069.9 304.6h.01M1070.2 275.7h.01M1070.3 340.8h.01M1070.4 298.9h.01M1070.6 266.0h.01M1070.9 255.6h.01M1071.1 308.1h.01M1071.3 339.5h.01M1072.7 393.0h.01M1073.4 391.3h.01M1073.5 313.3h.01M1073.5 287.3h.01M1073.6 333.3h.01M1073.7 335.0h.01M1074.1 315.3h.01M1074.1 294.8h.01M1074.2 336.2h.01M1074.6 308.3h.01M1074.7 321.7h.01M1075.0 318.4h.01M1075.4 313.3h.01M1075.4 238.0h.01M1075.4 258.7h.01M1075.8 288.2h.01M1075.8 292.2h.01M1076.4 90.3h.01M1076.4 113.2h.01M1076.4 123.2h.01M1076.4 151.3h.01M1076.4 172.3h.01M1076.4 216.5h.01M1076.8 389.6h.01M1076.9 387.1h.01M1078.4 247.4h.01M1078.7 321.6h.01M1078.8 313.8h.01M1079.0 318.5h.01M1079.1 309.5h.01M1079.1 326.0h.01M1079.2 67.6h.01M1079.2 75.3h.01M1079.2 115.1h.01M1079.2 132.4h.01M1079.2 140.4h.01M1079.2 156.4h.01M1079.2 163.3h.01M1079.2 181.7h.01M1079.2 195.8h.01M1079.2 211.2h.01M1079.2 219.3h.01M1079.2 223.0h.01M1079.5 310.9h.01M1079.7 205.2h.01M1080.0 321.3h.01M1080.2 325.7h.01M1080.3 227.7h.01M1080.7 258.7h.01M1080.8 324.8h.01M1081.1 173.3h.01M1081.1 238.0h.01M1081.1 243.7h.01M1081.2 385.9h.01M1083.0 386.9h.01M1083.8 297.1h.01M1084.0 389.4h.01M1084.1 292.1h.01M1084.2 326.7h.01M1084.3 327.2h.01M1084.3 255.2h.01M1084.3 302.0h.01M1084.3 295.6h.01M1084.3 332.4h.01M1084.4 301.6h.01M1084.4 301.8h.01M1084.4 306.9h.01M1084.8 319.0h.01M1084.8 283.1h.01M1084.8 292.8h.01M1084.9 307.0h.01M1084.9 310.2h.01M1085.1 303.8h.01M1085.1 333.1h.01M1085.4 203.3h.01M1085.4 206.1h.01M1085.4 250.2h.01M1085.4 257.3h.01M1085.4 268.0h.01M1085.5 274.8h.01M1085.6 318.7h.01M1085.8 165.8h.01M1085.9 253.1h.01M1086.3 158.3h.01M1086.3 223.0h.01M1086.3 236.2h.01M1086.3 243.7h.01M1086.3 258.7h.01M1086.3 328.5h.01M1086.5 313.4h.01M1086.8 248.7h.01M1087.0 310.7h.01M1087.0 309.8h.01M1087.0 323.6h.01M1087.0 329.3h.01M1087.1 322.9h.01M1087.1 296.6h.01M1087.2 336.6h.01M1087.3 323.1h.01M1087.6 390.0h.01M1088.2 392.5h.01M1088.3 280.3h.01M1088.4 393.4h.01M1088.5 324.8h.01M1088.6 341.2h.01M1088.9 391.9h.01M1091.2 337.8h.01M1091.9 326.4h.01M1091.9 258.7h.01M1092.3 218.3h.01M1092.3 245.6h.01M1092.7 343.4h.01M1094.1 391.7h.01M1094.4 330.0h.01M1094.7 334.6h.01M1094.9 393.7h.01M1094.9 335.8h.01M1095.1 319.0h.01M1095.4 342.8h.01M1096.6 390.2h.01M1097.1 389.4h.01M1098.4 389.3h.01M1099.4 336.9h.01M1099.5 231.5h.01M1099.5 251.6h.01M1099.5 340.1h.01M1099.6 317.1h.01M1099.6 331.0h.01M1099.7 277.0h.01M1100.0 314.6h.01M1100.0 326.0h.01M1100.0 308.3h.01M1100.1 287.1h.01M1100.1 332.9h.01M1100.2 292.8h.01M1100.2 313.8h.01M1100.3 335.2h.01M1100.4 341.9h.01M1100.8 356.5h.01M1101.0 335.0h.01M1101.2 312.7h.01M1101.2 389.2h.01M1101.6 346.4h.01M1101.8 338.2h.01M1101.8 320.3h.01M1102.0 350.5h.01M1102.8 391.0h.01M1102.8 390.5h.01M1105.0 359.2h.01M1105.1 393.5h.01M1105.1 353.3h.01M1107.2 356.4h.01M1107.3 353.8h.01M1107.4 341.9h.01M1107.4 354.5h.01M1108.9 394.4h.01M1109.8 360.5h.01M1110.1 340.3h.01M1110.2 361.3h.01M1110.3 350.3h.01M1110.4 358.3h.01M1110.6 344.1h.01M1110.6 350.3h.01M1110.9 312.8h.01M1110.9 336.8h.01M1110.9 335.5h.01M1111.3 351.9h.01M1111.4 396.2h.01M1111.9 312.6h.01M1112.1 397.5h.01M1112.5 398.2h.01M1112.6 397.6h.01M1112.9 310.9h.01M1113.1 364.4h.01M1113.9 340.5h.01M1115.0 345.7h.01M1115.3 359.6h.01M1115.3 396.0h.01M1115.5 352.8h.01M1115.6 359.0h.01M1115.8 349.8h.01M1116.1 348.4h.01M1116.6 290.7h.01M1116.7 341.5h.01M1116.8 332.9h.01M1117.0 286.5h.01M1117.2 286.5h.01M1117.6 335.6h.01M1117.6 341.9h.01M1117.6 199.0h.01M1117.6 326.9h.01M1118.0 344.6h.01M1118.0 293.1h.01M1118.7 359.9h.01M1119.5 397.6h.01M1120.3 392.6h.01M1120.4 393.4h.01M1121.6 280.2h.01M1121.7 357.4h.01M1122.0 364.0h.01M1122.2 339.4h.01M1122.3 329.7h.01M1122.3 341.8h.01M1122.3 320.8h.01M1122.4 351.6h.01M1122.5 185.6h.01M1122.5 346.3h.01M1122.7 303.5h.01M1123.0 330.9h.01M1123.0 349.7h.01M1123.6 391.4h.01M1124.3 335.7h.01M1124.3 354.5h.01M1124.5 302.9h.01M1124.6 325.6h.01M1124.7 347.8h.01M1124.8 361.4h.01M1124.9 353.7h.01M1124.9 395.9h.01M1124.9 328.3h.01M1125.1 269.5h.01M1125.3 353.6h.01M1127.3 390.3h.01M1128.6 328.3h.01M1128.7 345.5h.01M1129.1 391.4h.01M1129.1 353.7h.01M1129.3 294.2h.01M1129.4 253.3h.01M1129.6 315.8h.01M1130.0 323.4h.01M1130.1 341.0h.01M1130.4 101.4h.01M1130.4 166.3h.01M1130.4 178.5h.01M1130.4 250.2h.01M1130.6 360.1h.01M1130.8 359.3h.01M1131.0 358.6h.01M1131.1 339.7h.01M1131.2 328.3h.01M1131.3 393.3h.01M1131.9 338.8h.01M1134.0 319.6h.01M1134.3 324.3h.01M1134.7 331.9h.01M1134.7 339.9h.01M1135.2 390.0h.01M1135.9 346.0h.01M1136.0 314.4h.01M1136.1 333.2h.01M1136.5 339.0h.01M1136.9 325.9h.01M1137.2 337.8h.01M1137.7 388.8h.01M1138.0 343.3h.01M1138.1 349.8h.01M1138.3 312.7h.01M1138.3 331.6h.01M1138.6 309.8h.01M1139.3 387.9h.01M1139.7 314.2h.01M1139.7 338.6h.01M1139.7 239.7h.01M1141.8 339.6h.01M1141.9 388.9h.01M1142.4 394.3h.01M1142.4 345.4h.01M1142.7 348.9h.01M1143.0 349.2h.01M1143.4 353.5h.01M1143.5 284.0h.01M1143.6 334.0h.01M1143.7 326.1h.01M1143.7 327.7h.01M1143.8 326.2h.01M1144.5 325.4h.01M1144.5 354.3h.01M1144.6 332.1h.01M1144.6 339.6h.01M1144.7 345.0h.01M1144.8 389.5h.01M1147.7 393.3h.01M1147.8 334.1h.01M1147.8 315.8h.01M1147.9 303.8h.01M1148.1 181.4h.01M1148.5 394.5h.01M1148.5 315.2h.01M1148.7 341.8h.01M1148.7 320.6h.01M1148.8 350.8h.01M1149.1 394.7h.01M1149.6 348.2h.01M1149.9 327.9h.01M1149.9 302.8h.01M1149.9 326.6h.01M1151.0 293.3h.01M1151.6 395.5h.01M1153.3 345.6h.01M1153.3 357.0h.01M1154.0 363.9h.01M1154.5 210.5h.01M1154.5 229.6h.01M1154.5 238.4h.01M1154.7 396.3h.01M1156.2 398.1h.01M1156.5 346.7h.01M1156.6 406.0h.01M1156.7 323.1h.01M1156.8 359.7h.01M1156.8 344.9h.01M1156.8 318.3h.01M1157.1 397.8h.01M1157.1 353.2h.01M1157.3 324.2h.01M1157.3 351.8h.01M1157.4 194.9h.01M1157.4 331.7h.01M1157.5 300.3h.01M1157.6 367.2h.01M1157.8 336.6h.01M1157.8 303.4h.01M1157.9 361.6h.01M1158.1 311.2h.01M1158.2 291.4h.01M1160.9 356.2h.01M1161.3 356.6h.01M1161.3 400.9h.01M1161.7 354.9h.01M1161.7 361.4h.01M1161.7 400.3h.01M1163.6 351.3h.01M1163.6 321.3h.01M1163.9 323.2h.01M1164.1 350.8h.01M1164.1 352.7h.01M1164.7 362.3h.01M1165.2 402.4h.01M1165.3 349.0h.01M1168.3 401.2h.01M1168.5 343.5h.01M1168.5 362.2h.01M1169.6 359.7h.01M1171.0 399.1h.01M1171.3 397.0h.01M1171.5 299.2h.01M1171.5 320.3h.01M1171.7 330.1h.01M1172.4 352.3h.01M1172.5 355.6h.01M1173.8 350.4h.01M1173.8 342.0h.01M1173.9 395.8h.01M1174.0 349.2h.01M1174.2 348.8h.01M1174.6 311.8h.01M1174.6 325.0h.01M1174.7 336.2h.01M1177.1 392.5h.01M1177.4 225.8h.01M1177.4 228.3h.01M1178.9 329.6h.01M1179.1 351.9h.01M1179.1 345.2h.01M1179.3 349.5h.01M1179.5 393.0h.01M1179.6 328.7h.01M1180.0 342.2h.01M1180.1 249.6h.01M1180.2 343.8h.01M1180.2 334.4h.01M1180.4 350.8h.01M1180.4 311.0h.01M1180.5 394.1h.01M1180.6 338.6h.01M1180.7 334.5h.01M1180.7 324.5h.01M1180.8 286.4h.01M1180.9 322.3h.01M1180.9 328.4h.01M1181.6 395.9h.01M1182.6 350.0h.01M1182.9 331.9h.01M1183.2 398.1h.01M1183.5 344.0h.01M1183.6 329.3h.01M1183.8 341.3h.01M1183.9 404.3h.01M1185.1 310.2h.01M1185.4 330.5h.01M1185.4 205.0h.01M1185.9 347.0h.01M1186.1 396.3h.01M1186.5 260.4h.01M1187.2 394.6h.01M1189.0 354.2h.01M1189.1 332.8h.01M1189.3 288.9h.01M1189.3 350.8h.01M1189.4 353.5h.01M1189.4 365.8h.01M1189.5 328.0h.01M1189.5 348.8h.01M1189.7 338.5h.01M1189.7 329.0h.01M1189.8 360.8h.01M1189.8 316.1h.01M1189.9 357.6h.01M1189.9 350.2h.01M1190.0 304.3h.01M1190.0 366.2h.01M1190.1 347.6h.01M1190.1 361.6h.01M1190.1 331.6h.01M1190.2 347.5h.01M1190.2 354.4h.01M1190.3 321.9h.01M1191.1 394.4h.01M1191.5 313.7h.01M1191.9 312.4h.01M1192.0 324.8h.01M1192.1 340.2h.01M1192.2 273.0h.01M1193.8 394.5h.01M1194.7 322.3h.01M1194.8 295.7h.01M1194.8 362.0h.01M1194.9 342.7h.01M1195.2 362.2h.01M1195.2 331.0h.01M1195.3 362.9h.01M1195.4 366.4h.01M1195.5 302.6h.01M1195.7 244.0h.01M1195.7 296.3h.01M1195.8 265.1h.01M1196.0 305.5h.01M1196.0 363.6h.01M1196.1 333.2h.01M1196.2 293.3h.01M1196.3 336.4h.01M1196.3 247.4h.01M1196.4 351.2h.01M1196.4 355.8h.01M1196.5 348.7h.01M1196.8 324.0h.01M1196.8 358.2h.01M1196.8 392.4h.01M1197.0 343.0h.01M1197.3 326.5h.01M1198.4 331.7h.01M1198.6 289.0h.01M1198.7 279.9h.01M1198.8 298.8h.01M1198.9 249.7h.01M1198.9 231.3h.01M1198.9 324.6h.01M1199.1 299.6h.01M1199.3 395.5h.01M1200.3 234.3h.01M1200.3 239.4h.01M1200.4 332.3h.01M1200.6 345.1h.01M1200.9 288.6h.01M1201.2 277.4h.01M1201.3 238.1h.01M1201.7 317.2h.01M1201.7 325.2h.01M1201.8 390.2h.01M1201.9 332.7h.01M1202.0 260.3h.01M1202.4 276.5h.01M1202.7 312.9h.01M1203.2 230.2h.01M1203.2 309.7h.01M1203.3 296.8h.01M1203.5 303.1h.01M1203.6 278.0h.01M1203.6 328.0h.01M1203.7 279.0h.01M1203.7 393.4h.01M1203.8 172.5h.01M1203.9 319.2h.01M1203.9 287.6h.01M1203.9 392.6h.01M1203.9 307.3h.01M1204.4 238.0h.01M1204.5 308.3h.01M1204.6 235.4h.01M1204.7 393.8h.01M1204.9 317.9h.01M1205.0 322.7h.01M1205.6 263.8h.01M1205.8 318.1h.01M1205.8 300.7h.01M1206.2 395.9h.01M1206.5 391.1h.01M1206.9 389.6h.01M1207.0 243.2h.01M1207.3 394.3h.01M1207.8 408.8h.01M1207.9 299.9h.01M1208.3 310.7h.01M1208.4 388.2h.01M1208.4 256.3h.01M1208.4 271.6h.01M1209.2 309.1h.01M1209.3 83.6h.01M1209.3 162.0h.01M1209.3 174.2h.01M1209.3 176.1h.01M1209.3 200.5h.01M1209.3 214.6h.01M1209.3 221.2h.01M1209.3 246.5h.01M1209.4 302.7h.01M1209.6 173.4h.01M1209.6 288.3h.01M1209.8 296.7h.01M1209.8 294.7h.01M1209.9 165.5h.01M1209.9 226.2h.01M1210.2 227.7h.01M1210.2 258.7h.01M1210.4 384.0h.01M1210.7 316.1h.01M1210.8 319.3h.01M1211.1 395.5h.01M1211.2 183.6h.01M1211.2 195.8h.01M1211.2 224.9h.01M1211.2 249.3h.01M1211.7 233.4h.01M1212.1 188.3h.01M1212.1 192.1h.01M1212.1 209.9h.01M1212.1 255.9h.01M1212.2 322.2h.01M1212.2 390.1h.01M1212.2 330.9h.01M1212.5 159.2h.01M1212.5 215.5h.01M1212.5 238.0h.01M1212.5 334.7h.01M1212.5 331.0h.01M1212.8 331.2h.01M1212.9 334.5h.01M1213.0 206.1h.01M1213.0 246.5h.01M1213.1 337.3h.01M1213.7 300.8h.01M1213.7 279.7h.01M1213.7 254.4h.01M1214.4 255.9h.01M1214.4 239.9h.01M1215.3 390.7h.01M1215.7 387.2h.01M1215.7 384.3h.01M1215.9 347.3h.01M1216.1 385.1h.01M1216.3 389.9h.01M1216.6 302.8h.01M1216.8 323.7h.01M1216.9 317.7h.01M1217.2 291.9h.01M1217.2 322.4h.01M1217.2 242.9h.01M1217.5 327.7h.01M1217.6 286.1h.01M1217.6 338.7h.01M1217.7 333.1h.01M1217.7 316.7h.01M1218.0 351.8h.01M1218.3 195.4h.01M1218.3 227.7h.01M1218.6 268.2h.01M1218.9 333.2h.01M1218.9 308.0h.01M1218.9 301.2h.01M1219.2 298.2h.01M1219.2 352.1h.01M1219.3 239.9h.01M1219.3 333.6h.01M1219.6 337.6h.01M1219.7 298.1h.01M1220.0 319.9h.01M1220.3 391.9h.01M1220.7 325.9h.01M1220.9 339.0h.01M1221.3 344.8h.01M1221.4 346.7h.01M1222.4 393.0h.01M1222.4 230.5h.01M1222.4 242.7h.01M1222.4 245.6h.01M1224.2 349.8h.01M1224.3 322.5h.01M1224.4 341.9h.01M1224.6 394.0h.01M1224.8 350.2h.01M1226.8 344.6h.01M1226.8 349.4h.01M1226.9 319.1h.01M1226.9 314.7h.01M1227.1 352.0h.01M1227.3 346.8h.01M1227.3 339.9h.01M1227.4 345.0h.01M1227.5 344.9h.01M1227.9 342.9h.01M1229.9 392.0h.01M1229.9 392.4h.01M1231.3 391.6h.01M1231.9 352.2h.01M1233.3 338.5h.01M1233.5 326.9h.01M1233.5 363.4h.01M1233.6 344.6h.01M1233.6 340.5h.01M1233.7 347.4h.01M1233.9 324.5h.01M1234.0 344.7h.01M1234.1 391.2h.01M1234.2 359.9h.01M1234.2 355.2h.01M1234.3 343.3h.01M1234.3 290.4h.01M1234.4 323.7h.01M1234.4 333.1h.01M1235.8 290.2h.01M1236.1 304.4h.01M1236.2 390.6h.01M1236.4 240.9h.01M1236.7 315.6h.01M1237.6 390.4h.01M1238.5 364.1h.01M1238.6 356.8h.01M1239.2 361.2h.01M1239.8 335.0h.01M1239.9 335.4h.01M1239.9 337.0h.01M1240.3 345.0h.01M1240.5 328.4h.01M1240.5 323.8h.01M1240.8 340.5h.01M1240.9 353.5h.01M1241.0 348.3h.01M1241.5 390.9h.01M1242.0 350.3h.01M1242.2 357.2h.01M1242.3 358.7h.01M1242.5 359.0h.01M1242.7 346.4h.01M1242.7 356.5h.01M1242.8 390.2h.01M1242.9 353.6h.01M1243.2 364.1h.01M1243.3 359.4h.01M1243.3 361.0h.01M1243.5 354.4h.01M1244.2 340.5h.01M1244.4 316.7h.01M1244.9 252.1h.01M1245.2 207.3h.01M1245.3 232.4h.01M1245.3 244.2h.01M1245.7 332.5h.01M1246.2 334.9h.01M1246.4 299.9h.01M1246.4 331.3h.01M1246.8 339.9h.01M1246.9 344.0h.01M1247.1 344.3h.01M1247.2 276.2h.01M1247.3 388.2h.01M1247.4 332.9h.01M1247.5 246.4h.01M1247.6 321.8h.01M1247.8 342.9h.01M1247.9 310.5h.01M1248.0 360.4h.01M1248.7 364.7h.01M1248.7 362.2h.01M1248.9 331.1h.01M1249.0 169.8h.01M1249.1 287.0h.01M1249.8 343.5h.01M1250.3 337.2h.01M1250.5 325.8h.01M1251.3 389.4h.01M1252.5 334.8h.01M1253.1 313.9h.01M1253.2 289.2h.01M1253.3 291.1h.01M1253.4 336.8h.01M1253.8 347.1h.01M1253.9 365.9h.01M1253.9 391.3h.01M1254.3 354.0h.01M1254.5 364.3h.01M1254.7 326.2h.01M1254.8 363.8h.01M1255.1 356.9h.01M1255.2 364.4h.01M1256.0 315.4h.01M1256.1 343.5h.01M1256.2 220.9h.01M1256.3 332.6h.01M1256.3 305.0h.01M1256.4 295.0h.01M1256.5 360.5h.01M1256.5 318.3h.01M1256.6 336.3h.01M1256.8 348.4h.01M1257.1 360.3h.01M1257.2 341.9h.01M1257.2 351.9h.01M1257.6 335.3h.01M1257.8 347.0h.01M1257.9 256.6h.01M1257.9 341.3h.01M1258.1 288.7h.01M1258.2 352.1h.01M1258.4 310.9h.01M1258.8 276.8h.01M1258.9 332.5h.01M1259.0 390.0h.01M1259.9 390.7h.01M1260.1 345.9h.01M1261.7 336.7h.01M1261.9 353.9h.01M1262.4 341.4h.01M1262.4 334.1h.01M1263.0 391.6h.01M1263.6 346.6h.01M1264.1 348.4h.01M1265.7 343.0h.01M1266.6 342.3h.01M1266.8 397.1h.01M1266.8 340.5h.01M1267.0 355.8h.01M1268.0 394.2h.01M1268.7 352.4h.01M1270.3 352.3h.01M1270.8 351.3h.01M1272.2 394.9h.01M1274.2 349.2h.01M1276.2 342.4h.01M1276.2 334.1h.01M1276.4 354.4h.01M1276.8 396.6h.01M1276.8 348.8h.01M1276.9 349.8h.01M1277.2 359.4h.01M1278.6 398.6h.01M1279.4 399.3h.01M1280.3 360.2h.01M1283.3 399.4h.01M1284.0 355.5h.01M1284.1 401.2h.01M1284.6 336.3h.01M1285.2 348.1h.01M1285.4 356.8h.01M1286.0 353.8h.01M1286.1 347.8h.01M1286.1 358.5h.01M1286.2 360.6h.01M1286.6 341.1h.01M1286.7 397.1h.01M1286.8 359.6h.01M1287.2 349.5h.01M1287.4 400.6h.01M1287.8 395.5h.01M1288.2 351.7h.01M1291.0 316.6h.01M1291.0 341.1h.01M1291.2 345.4h.01M1291.4 332.7h.01M1292.6 398.7h.01M1293.3 292.4h.01M1293.7 350.6h.01M1294.2 334.7h.01M1294.3 335.3h.01M1294.3 400.2h.01M1294.4 346.2h.01M1294.4 326.4h.01M1294.7 315.0h.01M1294.8 343.4h.01M1294.9 341.6h.01M1295.1 344.9h.01M1297.0 335.6h.01M1297.1 313.3h.01M1297.3 340.9h.01M1297.3 346.7h.01M1297.5 329.0h.01M1298.3 400.0h.01M1298.6 332.1h.01M1298.7 288.4h.01M1298.7 340.8h.01M1298.9 336.5h.01M1299.4 305.4h.01M1299.9 399.3h.01M1300.1 401.9h.01M1302.2 335.6h.01M1302.5 346.6h.01M1303.0 397.9h.01M1303.3 351.5h.01M1303.4 344.9h.01M1303.6 333.4h.01M1303.7 329.5h.01M1304.0 349.7h.01M1304.1 350.4h.01M1304.1 397.6h.01M1304.3 341.4h.01M1304.3 356.8h.01M1304.3 344.4h.01M1304.3 354.2h.01M1304.4 356.2h.01M1304.5 346.8h.01M1304.6 330.9h.01M1304.7 396.7h.01M1306.8 336.6h.01M1307.0 341.8h.01M1307.0 359.7h.01M1307.4 334.4h.01M1307.6 347.9h.01M1307.8 340.2h.01M1308.4 395.4h.01M1310.3 315.5h.01M1310.5 348.9h.01M1310.5 359.3h.01M1311.0 354.8h.01M1311.0 394.3h.01M1311.8 374.5h.01M1312.1 374.4h.01M1312.4 353.2h.01M1312.5 359.5h.01M1312.5 376.8h.01M1312.7 362.1h.01M1312.7 369.3h.01M1312.8 363.8h.01M1312.9 341.6h.01M1313.5 376.8h.01M1313.6 395.3h.01M1314.3 395.7h.01M1315.7 310.3h.01M1316.0 366.7h.01M1316.1 369.5h.01M1316.2 343.1h.01M1317.1 396.0h.01M1317.7 378.9h.01M1318.0 398.1h.01M1318.5 365.8h.01M1320.2 398.3h.01M1320.3 342.0h.01M1320.4 371.2h.01M1320.4 360.3h.01M1320.5 363.8h.01M1320.6 374.7h.01M1320.6 342.8h.01M1320.7 351.5h.01M1320.8 374.6h.01M1320.9 371.5h.01M1320.9 325.9h.01M1321.0 362.1h.01M1321.0 328.6h.01M1321.1 347.1h.01M1321.2 339.8h.01M1321.4 374.4h.01M1321.6 398.8h.01M1322.8 348.6h.01M1322.9 362.0h.01M1322.9 374.6h.01M1323.0 398.9h.01M1323.2 369.3h.01M1323.3 399.5h.01M1323.7 365.8h.01M1325.1 401.3h.01M1326.8 359.8h.01M1326.9 374.1h.01M1327.0 403.3h.01M1327.6 369.6h.01M1328.0 354.9h.01M1328.2 371.9h.01M1328.2 352.2h.01M1328.7 362.5h.01M1328.9 405.5h.01M1328.9 342.5h.01M1329.1 347.7h.01M1329.6 360.3h.01M1330.0 408.2h.01M1330.5 409.5h.01M1330.6 365.8h.01M1330.9 363.7h.01M1331.6 410.2h.01M1332.0 366.3h.01M1333.1 412.5h.01M1334.3 366.8h.01M1334.3 412.1h.01M1335.7 361.5h.01M1336.1 342.5h.01M1336.8 411.0h.01M1337.7 366.5h.01M1337.8 410.4h.01M1337.9 354.9h.01M1338.5 371.5h.01M1339.6 408.7h.01M1339.6 410.5h.01M1339.9 409.3h.01M1340.1 344.8h.01M1340.3 373.6h.01M1340.5 362.4h.01M1341.0 308.3h.01M1341.4 361.1h.01M1341.8 374.1h.01M1342.0 351.5h.01M1342.3 407.5h.01M1343.9 404.5h.01M1344.0 405.7h.01M1345.0 363.2h.01M1345.3 374.8h.01M1345.8 356.1h.01M1345.9 366.6h.01M1346.1 353.3h.01M1346.2 367.0h.01M1346.2 369.5h.01M1346.3 355.1h.01M1347.2 403.1h.01M1349.1 402.7h.01M1349.2 403.4h.01M1349.5 359.7h.01M1350.2 345.8h.01M1350.3 322.4h.01M1350.5 313.3h.01M1350.6 316.7h.01M1350.6 348.3h.01M1350.8 340.7h.01M1350.8 404.0h.01M1350.8 332.6h.01M1350.9 359.4h.01M1351.3 359.4h.01M1351.4 340.9h.01M1351.9 404.2h.01M1352.6 405.0h.01M1354.8 362.2h.01M1354.9 402.4h.01M1355.3 354.2h.01M1355.3 327.3h.01M1356.0 369.1h.01M1356.5 359.1h.01M1356.6 402.0h.01M1356.6 374.6h.01M1356.7 352.3h.01M1357.7 375.4h.01M1358.1 364.4h.01M1358.2 401.3h.01M1358.7 368.6h.01M1361.5 374.0h.01M1362.4 399.5h.01M1362.5 367.7h.01M1362.7 345.5h.01M1362.8 375.4h.01M1363.1 376.1h.01M1363.1 352.4h.01M1365.8 399.4h.01M1367.5 401.7h.01M1368.1 375.8h.01M1369.8 374.6h.01M1371.0 365.6h.01M1371.2 371.5h.01M1371.3 363.5h.01M1371.6 369.7h.01M1371.6 399.8h.01M1372.0 361.1h.01M1372.2 369.3h.01M1372.3 363.5h.01M1372.9 356.9h.01M1373.0 358.3h.01M1373.9 357.9h.01M1374.4 349.8h.01M1374.5 400.1h.01M1374.6 361.0h.01M1375.4 356.7h.01M1375.5 342.9h.01M1375.6 351.3h.01M1375.7 352.9h.01M1376.0 358.5h.01M1376.1 307.7h.01M1376.2 400.5h.01M1376.5 401.5h.01M1377.3 400.4h.01M1378.9 356.8h.01M1379.7 363.2h.01M1379.8 385.0h.01M1379.8 346.3h.01M1379.9 382.4h.01M1379.9 348.3h.01M1380.5 369.3h.01M1380.6 366.4h.01M1381.1 360.9h.01M1381.2 402.4h.01M1381.2 402.2h.01M1381.3 350.7h.01M1381.5 362.6h.01M1382.2 379.6h.01M1382.5 364.2h.01M1382.8 388.2h.01M1382.8 387.5h.01M1382.9 370.4h.01M1383.2 403.3h.01M1383.4 403.3h.01M1384.1 360.1h.01M1384.4 363.1h.01M1384.8 361.3h.01M1384.8 356.8h.01M1385.1 403.5h.01M1386.4 380.6h.01M1386.5 385.5h.01M1386.8 385.1h.01M1386.9 373.0h.01M1387.2 381.0h.01M1387.4 404.6h.01M1387.7 365.6h.01M1387.8 363.8h.01M1387.8 346.1h.01M1388.0 367.1h.01M1388.1 353.0h.01M1390.2 401.6h.01M1390.3 355.4h.01M1390.5 402.0h.01M1391.5 402.1h.01M1392.5 364.7h.01M1392.9 348.0h.01M1393.7 362.2h.01M1394.0 360.1h.01M1394.6 402.0h.01M1397.3 358.9h.01M1398.7 348.8h.01M1399.2 398.9h.01M1401.1 350.8h.01M1401.3 400.0h.01M1402.8 357.6h.01M1403.4 401.4h.01M1403.5 349.8h.01M1404.4 254.3h.01M1404.4 264.2h.01M1404.8 398.7h.01M1404.9 357.9h.01M1405.4 248.5h.01M1405.4 258.3h.01M1405.4 268.1h.01M1408.4 357.5h.01M1408.6 397.9h.01M1408.9 343.6h.01M1409.0 359.5h.01M1409.3 360.3h.01M1409.4 348.9h.01M1409.6 362.7h.01M1409.6 329.0h.01M1409.6 357.6h.01M1409.8 398.8h.01M1409.9 363.4h.01M1411.0 367.9h.01M1411.6 367.8h.01M1411.7 352.0h.01M1412.0 354.5h.01M1412.0 399.6h.01M1412.1 349.2h.01M1413.4 400.5h.01M1414.6 369.7h.01M1414.7 332.5h.01M1414.7 362.8h.01M1414.7 354.2h.01M1415.1 349.0h.01M1415.2 337.4h.01M1416.2 368.5h.01M1416.5 344.6h.01M1416.6 407.4h.01M1416.8 333.2h.01M1417.0 403.2h.01M1417.1 363.2h.01M1417.5 376.7h.01M1417.7 372.4h.01M1417.7 378.5h.01M1417.7 370.3h.01M1417.8 408.5h.01M1418.0 357.8h.01M1418.7 381.5h.01M1419.0 373.8h.01M1419.0 411.0h.01M1419.3 409.7h.01M1420.6 412.0h.01M1422.1 408.8h.01M1423.1 406.6h.01M1424.1 378.8h.01M1425.3 403.1h.01M1426.5 349.4h.01M1426.6 270.4h.01M1426.7 342.0h.01M1427.0 337.2h.01M1427.0 401.0h.01M1427.0 324.9h.01M1427.1 375.4h.01M1427.1 344.8h.01M1427.1 293.6h.01M1427.3 269.5h.01M1427.3 400.6h.01M1427.3 403.2h.01M1427.3 315.9h.01M1427.4 297.0h.01M1427.4 334.2h.01M1427.5 339.6h.01M1427.8 399.5h.01M1428.3 365.9h.01M1428.5 371.1h.01M1429.2 368.1h.01M1429.3 368.6h.01M1429.3 367.1h.01M1430.2 361.4h.01M1430.7 347.5h.01M1431.1 347.1h.01M1431.1 355.2h.01M1431.2 308.7h.01M1431.3 336.0h.01M1431.3 133.6h.01M1431.3 169.3h.01M1431.3 181.7h.01M1431.3 253.4h.01M1431.3 272.4h.01M1431.4 352.5h.01M1431.5 353.5h.01M1431.8 331.8h.01M1431.9 331.2h.01M1432.0 396.5h.01M1432.1 317.8h.01M1432.2 237.4h.01M1432.2 396.5h.01M1432.3 359.3h.01M1432.4 309.1h.01M1432.4 310.0h.01M1432.5 263.7h.01M1432.7 357.4h.01M1433.1 234.0h.01M1433.2 319.9h.01M1433.3 325.2h.01M1433.3 315.8h.01M1434.4 312.2h.01M1434.4 290.1h.01M1434.5 322.2h.01M1434.6 338.9h.01M1435.5 330.7h.01M1435.6 331.9h.01M1436.4 397.3h.01M1437.2 399.0h.01M1437.7 394.4h.01M1437.8 393.4h.01M1438.5 326.3h.01M1438.6 340.7h.01M1438.8 329.6h.01M1438.9 393.5h.01M1438.9 313.8h.01M1439.2 269.4h.01M1439.4 340.3h.01M1439.4 404.1h.01M1439.5 319.0h.01M1439.8 391.4h.01M1440.0 304.0h.01M1440.1 289.8h.01M1440.2 274.0h.01M1440.6 333.4h.01M1440.6 325.2h.01M1440.7 295.0h.01M1440.8 339.9h.01M1441.1 303.9h.01M1441.2 263.2h.01M1441.2 285.8h.01M1441.2 316.4h.01M1441.4 309.4h.01M1441.5 297.7h.01M1441.6 321.9h.01M1441.7 324.2h.01M1441.8 307.5h.01M1441.8 288.9h.01M1441.9 335.2h.01M1442.0 299.9h.01M1442.0 309.8h.01M1442.0 276.5h.01M1442.1 298.2h.01M1442.3 316.3h.01M1442.3 252.5h.01M1442.4 306.2h.01M1442.4 258.1h.01M1442.5 221.4h.01M1442.5 230.4h.01M1442.5 246.5h.01M1442.5 277.9h.01M1442.6 390.8h.01M1444.7 390.7h.01M1445.3 311.9h.01M1445.3 325.0h.01M1445.5 334.9h.01M1445.5 321.7h.01M1445.7 337.3h.01M1445.7 306.1h.01M1445.9 319.1h.01M1446.1 309.9h.01M1446.3 301.7h.01M1446.5 294.0h.01M1446.6 301.4h.01M1446.7 329.3h.01M1446.7 249.7h.01M1446.9 239.8h.01M1447.0 265.6h.01M1447.1 269.9h.01M1447.4 229.3h.01M1447.8 390.9h.01M1449.4 276.9h.01M1449.5 339.4h.01M1449.7 333.6h.01M1450.2 308.5h.01M1450.6 290.2h.01M1450.8 328.1h.01M1451.1 306.1h.01M1451.5 297.0h.01M1451.5 297.6h.01M1451.6 319.3h.01M1451.7 286.1h.01M1451.7 325.8h.01M1451.7 336.8h.01M1451.8 394.8h.01M1451.8 323.6h.01M1451.9 276.8h.01M1452.0 301.8h.01M1452.0 322.0h.01M1452.0 231.7h.01M1452.1 312.4h.01M1452.2 240.9h.01M1452.2 310.1h.01M1452.3 317.1h.01M1452.5 265.1h.01M1452.8 288.5h.01M1452.9 287.7h.01M1453.3 302.2h.01M1453.4 305.6h.01M1453.6 315.4h.01M1453.6 297.2h.01M1455.3 168.0h.01M1455.5 205.3h.01M1455.5 250.4h.01M1455.5 256.3h.01M1455.9 188.0h.01M1455.9 283.8h.01M1455.9 317.6h.01M1456.5 97.3h.01M1456.5 152.3h.01M1456.5 173.3h.01M1456.5 220.6h.01M1456.5 393.6h.01M1456.9 244.5h.01M1456.9 262.2h.01M1457.4 221.9h.01M1457.6 320.0h.01M1457.7 273.5h.01M1457.8 237.7h.01M1458.1 256.4h.01M1458.4 270.6h.01M1458.4 277.9h.01M1458.5 314.3h.01M1458.6 297.5h.01M1458.8 310.4h.01M1458.8 243.5h.01M1458.9 299.3h.01M1458.9 301.4h.01M1458.9 247.2h.01M1459.0 321.4h.01M1459.1 207.0h.01M1459.2 308.7h.01M1459.4 313.0h.01M1459.4 265.9h.01M1459.5 290.3h.01M1459.6 394.6h.01M1459.7 267.1h.01M1459.8 363.7h.01M1459.9 307.3h.01M1459.9 277.6h.01M1460.0 272.4h.01M1460.1 326.2h.01M1460.1 321.5h.01M1460.2 277.0h.01M1460.2 314.3h.01M1460.3 354.6h.01M1460.3 335.2h.01M1460.3 369.9h.01M1460.3 371.7h.01M1460.3 374.9h.01M1460.4 366.8h.01M1460.4 378.4h.01M1460.4 331.8h.01M1460.5 377.1h.01M1460.6 374.1h.01M1460.6 367.6h.01M1460.6 390.8h.01M1460.6 361.2h.01M1460.6 380.2h.01M1460.7 383.3h.01M1460.7 339.5h.01M1460.8 302.6h.01M1460.9 273.1h.01M1460.9 271.1h.01M1460.9 362.8h.01M1461.0 385.4h.01M1461.0 310.2h.01M1461.0 382.8h.01M1461.0 272.2h.01M1461.1 375.1h.01M1461.1 357.4h.01M1461.1 370.8h.01M1461.1 353.6h.01M1461.1 325.8h.01M1461.1 340.3h.01M1461.2 361.7h.01M1461.2 378.7h.01M1461.2 385.7h.01M1461.2 350.5h.01M1461.2 330.4h.01M1461.2 342.2h.01M1461.3 359.7h.01M1461.3 388.1h.01M1461.3 337.0h.01M1461.5 345.4h.01M1461.6 322.9h.01M1461.6 341.1h.01M1461.6 309.4h.01M1461.7 343.2h.01M1461.8 347.3h.01M1462.3 346.7h.01" fill="none" stroke="#1f77b4" stroke-width="5.5" stroke-linecap="round"/>
<path d="M117.3 343.8 117.9 359.7 118.5 373.3 119.0 381.3 119.1 384.2 119.7 394.6 120.3 401.6 120.6 402.5 120.9 398.4 121.5 376.0 122.1 343.9 122.2 338.9 122.7 293.7 123.3 216.8 123.9 150.3 124.4 130.1 124.5 131.0 125.1 153.0 125.7 195.5 126.3 246.8 126.9 295.0 127.5 328.3 127.6 330.8 128.1 345.1 128.7 357.8 129.2 366.6 129.3 368.3 129.9 379.0 130.5 388.3 131.1 392.7 131.2 392.7 131.7 392.1 132.3 390.4 132.9 388.2 133.5 386.2 134.1 384.8 134.5 384.6 134.7 384.7 135.3 385.8 135.9 387.2 136.5 388.4 136.9 388.6 137.1 388.6 137.7 388.6 138.3 388.4 138.9 388.3 139.5 388.0 140.1 387.7 140.7 387.4 141.3 387.0 141.9 386.6 142.5 386.3 142.6 386.2 143.1 385.7 143.7 384.8 144.3 383.7 144.9 382.5 145.5 381.3 146.1 380.4 146.7 379.8 147.2 379.7 147.3 379.7 147.9 380.5 148.5 381.8 149.1 383.5 149.7 385.0 149.9 385.4 150.3 386.2 150.9 387.5 151.5 388.7 152.1 389.4 152.4 389.5 152.7 389.3 153.3 388.6 153.9 387.4 154.5 386.1 155.1 385.1 155.7 384.6 155.7 384.5 156.3 384.4 156.9 384.3 157.5 384.2 158.1 384.1 158.7 383.8 158.9 383.8 159.3 380.3 159.9 368.9 160.2 363.4 160.5 356.2 161.1 342.2 161.4 340.5 161.7 342.3 162.3 349.0 162.9 353.5 163.0 353.6 163.5 351.0 164.1 345.9 164.6 343.8 164.7 344.2 165.3 354.6 165.9 368.3 165.9 368.5 166.5 381.4 167.1 387.8 167.1 387.7 167.7 380.7 168.3 370.7 168.7 368.3 168.9 369.2 169.5 377.2 170.1 387.1 170.7 391.1 170.7 391.0 171.3 385.1 171.9 375.1 172.0 374.8 172.5 363.7 173.1 349.6 173.6 338.9 173.7 335.3 174.3 317.6 174.9 300.8 175.5 293.3 175.5 293.3 176.1 305.0 176.7 327.2 176.9 330.8 177.3 344.5 177.7 355.2 177.9 369.8 178.5 394.4 178.5 394.3 179.1 390.2 179.7 386.2 179.8 386.2 180.3 386.8 180.9 388.2 181.5 389.3 181.7 389.5 182.1 389.6 182.7 389.7 183.3 389.8 183.9 389.9 184.5 390.0 185.1 390.0 185.7 390.1 186.3 390.2 186.6 390.3 186.9 390.3 187.5 390.5 188.1 390.7 188.7 390.9 189.3 391.2 189.9 391.4 190.5 391.6 191.1 391.8 191.5 391.9 191.7 392.0 192.3 392.2 192.9 392.4 193.5 392.5 194.1 392.7 194.7 392.7 194.8 392.7 195.3 392.4 195.9 391.3 196.5 390.0 197.1 388.8 197.7 388.0 198.0 387.8 198.3 387.9 198.9 388.2 199.5 388.7 200.1 389.3 200.7 389.8 201.3 390.3 201.3 390.3 201.9 390.7 202.5 391.1 203.1 391.5 203.7 391.9 204.3 392.2 204.9 392.5 205.5 392.6 206.1 392.7 206.2 392.7 206.7 392.7 207.3 392.6 207.9 392.4 208.5 392.2 209.1 391.9 209.7 391.7 210.3 391.4 210.9 391.2 211.1 391.1 211.5 390.9 212.1 390.7 212.7 390.4 213.3 390.2 213.9 389.9 214.5 389.7 215.1 389.5 215.7 389.2 216.0 389.1 216.3 389.0 216.9 388.8 217.5 388.6 218.1 388.4 218.7 388.2 219.3 388.0 219.9 387.8 220.5 387.6 220.9 387.5 221.1 387.4 221.7 387.2 222.3 386.9 222.9 386.7 223.5 386.4 224.1 386.2 224.7 385.9 225.3 385.7 225.9 385.6 226.5 385.5 227.1 385.4 227.4 385.4 227.7 385.5 228.3 386.0 228.9 387.0 229.5 388.0 230.1 389.0 230.7 389.9 231.3 390.3 231.5 390.3 231.9 390.3 232.5 390.1 233.1 390.0 233.7 389.7 234.3 389.4 234.9 389.1 235.5 388.7 235.6 388.6 236.1 387.7 236.7 386.1 237.3 384.5 237.9 383.8 238.0 383.8 238.5 384.5 239.1 386.3 239.7 388.3 240.3 389.4 240.4 389.5 240.9 389.4 241.5 389.3 242.1 389.0 242.7 388.7 243.3 388.4 243.9 388.1 244.5 387.8 244.5 387.8 245.1 387.6 245.7 387.2 246.3 386.9 246.9 386.6 247.5 386.4 248.1 386.2 248.6 386.2 248.7 386.2 249.3 386.6 249.9 387.1 250.5 387.7 251.0 387.8 251.1 387.8 251.7 387.6 252.3 387.0 252.9 386.2 253.5 385.3 254.1 384.4 254.7 383.7 255.3 383.1 255.9 382.9 255.9 382.9 256.5 383.0 257.1 383.2 257.7 383.4 258.3 383.7 258.9 384.0 259.5 384.3 260.0 384.6 260.1 384.6 260.7 385.0 261.3 385.5 261.9 386.1 262.5 386.7 263.1 387.3 263.7 387.9 264.3 388.4 264.9 388.9 265.5 389.2 266.1 389.4 266.5 389.5 266.7 389.5 267.3 389.5 267.9 389.5 268.5 389.5 269.1 389.5 269.7 389.5 270.3 389.5 270.9 389.5 271.4 389.5 271.5 389.5 272.1 389.3 272.7 389.0 273.3 388.6 273.9 388.1 274.5 387.5 275.1 387.0 275.7 386.6 276.3 386.2 276.3 386.2 276.9 385.9 277.5 385.6 278.1 385.2 278.7 384.9 279.3 384.7 279.9 384.4 280.5 384.3 281.1 384.2 281.2 384.2 281.7 384.4 282.3 384.9 282.9 385.5 283.5 386.2 284.1 386.9 284.7 387.3 285.3 387.5 285.3 387.5 285.9 387.5 286.5 387.5 287.1 387.5 287.7 387.5 288.3 387.5 288.9 387.5 289.4 387.5 289.5 387.5 290.1 387.1 290.7 386.4 291.3 385.6 291.9 384.9 292.5 384.6 292.6 384.6 293.1 384.7 293.7 385.1 294.3 385.7 294.9 386.4 295.5 387.2 296.1 387.9 296.7 388.4 297.3 388.6 297.5 388.6 297.9 388.6 298.5 388.6 299.1 388.5 299.7 388.4 300.3 388.2 300.9 388.1 301.5 388.0 302.1 387.9 302.7 387.8 303.2 387.8 303.3 387.8 303.9 388.0 304.5 388.3 305.1 388.7 305.7 389.1 306.3 389.7 306.9 390.2 307.5 390.7 308.1 391.1 308.1 391.1 308.7 391.5 309.3 391.8 309.9 392.1 310.5 392.4 311.1 392.7 311.7 393.0 312.3 393.4 312.9 393.7 313.5 394.2 313.8 394.4 314.1 394.6 314.7 395.2 315.3 395.9 315.9 396.6 316.5 397.2 317.1 397.6 317.1 397.7 317.7 398.1 318.3 398.5 318.9 398.9 319.5 399.3 320.1 399.6 320.7 399.8 321.3 400.0 321.9 400.1 322.0 400.1 322.5 387.2 322.5 387.2 323.0 389.6 323.1 390.2 323.5 391.4 323.7 390.9 324.0 390.0 324.3 388.8 324.5 388.6 324.9 390.3 325.0 390.7 325.5 394.4 325.5 394.6 326.0 397.2 326.1 398.1 326.5 400.5 326.7 402.4 327.0 404.1 327.3 404.9 327.5 405.0 327.9 403.3 328.0 403.0 328.5 401.3 328.5 401.3 329.0 401.5 329.1 401.8 329.5 402.9 329.7 403.0 330.0 403.0 330.3 401.5 330.5 400.3 330.9 396.0 331.0 395.4 331.5 391.5 331.5 391.4 332.0 391.1 332.1 391.5 332.5 394.1 332.7 395.7 333.0 397.1 333.3 397.6 333.5 397.7 333.9 396.8 334.0 396.7 334.5 395.6 334.5 395.5 335.0 394.0 335.1 393.2 335.5 390.4 335.7 388.1 336.0 385.6 336.3 383.4 336.5 383.0 336.9 384.6 337.0 385.0 337.5 389.8 337.5 390.2 338.0 393.6 338.1 393.5 338.5 393.2 338.7 391.9 339.0 390.1 339.3 388.8 339.5 388.6 339.9 390.0 340.0 390.3 340.5 394.0 340.5 394.2 341.0 396.7 341.1 396.6 341.5 396.1 341.7 394.6 342.0 392.0 342.3 388.4 342.5 387.0 342.9 385.2 343.0 385.2 343.5 388.9 343.5 389.3 344.0 395.0 344.1 396.0 344.5 397.6 344.7 396.8 345.0 395.1 345.3 391.8 345.5 390.2 345.9 386.8 346.0 386.7 346.5 387.6 346.5 387.7 347.0 391.4 347.1 392.1 347.5 393.3 347.7 393.3 348.0 393.3 348.3 394.0 348.5 394.6 348.9 396.3 349.0 396.4 349.5 395.5 349.5 395.4 350.0 392.3 350.1 391.4 350.5 389.4 350.7 388.4 351.0 387.4 351.3 385.8 351.5 385.3 351.9 384.6 352.0 384.6 352.5 386.6 352.5 386.8 353.0 390.2 353.1 391.1 353.5 392.9 353.7 393.1 354.0 393.2 354.3 392.4 354.5 391.9 354.9 391.1 355.0 391.1 355.5 392.4 355.5 392.6 356.0 394.8 356.1 395.3 356.5 396.6 356.7 397.4 357.0 398.5 357.3 400.6 357.5 401.5 357.9 403.6 358.0 403.7 358.5 403.1 358.5 403.0 359.0 400.3 359.1 399.5 359.5 397.9 359.7 397.7 360.0 397.6 360.3 398.6 360.5 399.2 360.9 400.5 361.0 400.5 361.5 400.3 361.5 400.3 362.0 399.1 362.1 398.6 362.5 397.2 362.7 395.9 363.0 394.4 363.3 392.5 363.5 392.1 363.9 392.5 364.0 392.5 364.5 394.6 364.5 394.8 365.0 396.7 365.1 397.1 365.5 397.7 365.7 397.2 366.0 396.1 366.3 394.0 366.5 393.2 366.9 392.5 367.0 392.4 367.5 393.6 367.5 393.7 368.0 394.3 368.1 394.4 368.5 394.7 368.7 395.4 369.0 396.5 369.3 398.4 369.5 398.8 369.9 398.6 370.0 398.5 370.5 394.3 370.5 394.0 371.0 388.3 371.1 386.8 371.5 383.6 371.7 383.0 372.0 382.8 372.3 385.1 372.5 386.8 372.9 391.7 373.0 392.2 373.5 395.2 373.5 395.3 374.0 396.1 374.1 396.4 374.5 397.6 374.7 398.8 375.0 399.9 375.3 400.6 375.5 400.8 375.9 399.9 376.0 399.7 376.5 397.7 376.5 397.6 377.0 395.7 377.1 395.1 377.5 393.0 377.7 391.2 378.0 389.1 378.3 386.6 378.5 386.0 378.9 385.5 379.0 385.5 379.5 386.6 379.5 386.7 380.0 388.6 380.1 389.4 380.5 391.7 380.7 393.3 381.0 394.4 381.3 394.3 381.5 394.1 381.9 391.5 382.0 391.1 382.5 388.4 382.5 388.4 383.0 388.9 383.1 389.4 383.5 391.3 383.7 392.2 384.0 392.7 384.3 392.8 384.5 392.8 384.9 392.0 385.0 391.9 385.5 390.8 385.5 390.7 386.0 390.1 386.1 390.1 386.5 390.1 386.7 390.5 387.0 391.5 387.3 393.7 387.5 394.9 387.9 398.3 388.0 398.6 388.5 400.3 388.5 400.3 389.0 398.6 389.1 397.7 389.5 394.4 389.7 392.5 390.0 391.3 390.3 391.8 390.5 392.4 390.9 396.3 391.0 396.9 391.5 401.9 391.5 402.2 392.0 405.0 392.1 405.4 392.5 406.4 392.7 407.1 393.0 407.6 393.3 407.5 393.5 407.4 393.9 404.4 394.0 403.8 394.5 397.5 394.5 397.1 395.0 392.3 395.1 392.0 395.5 391.5 395.7 392.6 396.0 394.7 396.3 397.4 396.5 397.9 396.9 397.9 397.0 397.9 397.5 395.8 397.5 395.6 398.0 393.8 398.1 393.3 398.5 391.9 398.7 390.8 399.0 389.6 399.3 388.3 399.5 388.1 399.9 389.2 400.0 389.5 400.5 393.9 400.5 394.2 401.0 396.6 401.1 396.2 401.5 393.7 401.7 391.2 402.0 388.4 402.3 386.1 402.5 385.7 402.9 386.6 403.0 386.8 403.5 389.1 403.5 389.2 404.0 390.0 404.1 390.0 404.5 390.1 404.7 390.4 405.0 390.8 405.3 391.9 405.5 392.6 405.9 395.3 406.0 395.7 406.5 399.1 406.5 399.3 407.0 400.9 407.1 400.9 407.5 400.6 407.7 400.4 408.0 400.1 408.3 399.9 408.5 399.8 408.9 398.4 409.0 398.1 409.5 396.2 409.5 396.2 410.0 397.1 410.1 397.7 410.5 399.3 410.7 399.2 411.0 398.9 411.3 396.4 411.5 394.7 411.9 389.7 412.0 389.1 412.5 385.7 412.5 385.7 413.0 387.1 413.1 388.2 413.5 393.3 413.7 396.8 414.0 399.7 414.3 401.0 414.5 401.2 414.9 398.0 415.0 397.4 415.5 391.6 415.5 391.3 416.0 387.4 416.1 387.0 416.5 386.4 416.7 386.8 417.0 387.5 417.3 388.4 417.5 388.8 417.9 389.7 418.0 389.7 418.5 388.9 418.5 388.7 419.0 386.1 419.1 385.6 419.5 384.7 419.7 385.2 420.0 386.1 420.3 387.6 420.5 388.0 420.9 388.4 421.0 388.5 421.5 388.7 421.5 388.8 422.0 390.2 422.1 390.7 422.5 391.7 422.7 391.7 423.0 391.8 423.3 391.5 423.5 391.4 423.9 391.7 424.0 391.7 424.5 391.7 424.5 391.7 425.0 391.0 425.1 390.9 425.5 390.6 425.7 390.3 426.0 389.7 426.3 387.5 426.5 385.9 426.9 380.7 427.0 380.2 427.5 377.3 427.5 377.3 428.0 379.2 428.1 380.1 428.5 383.3 428.7 385.2 429.0 387.0 429.3 388.7 429.5 389.0 429.9 388.7 430.0 388.6 430.5 386.5 430.5 386.4 431.0 385.5 431.1 385.6 431.5 386.4 431.7 387.4 432.0 388.6 432.3 390.3 432.5 390.6 432.9 390.7 433.0 390.7 433.5 389.7 433.5 389.7 434.0 391.2 434.1 392.1 434.5 395.4 434.7 397.1 435.0 398.1 435.3 398.0 435.5 397.9 435.9 396.9 436.0 396.8 436.5 396.4 436.5 396.4 437.0 396.0 437.1 395.8 437.5 394.9 437.7 394.5 438.0 394.1 438.3 393.8 438.5 393.6 438.9 392.4 439.0 392.3 439.5 391.2 439.5 391.3 440.0 393.3 440.1 394.3 440.5 398.0 440.7 400.1 441.0 401.5 441.3 401.1 441.5 400.7 441.9 397.4 442.0 397.0 442.5 395.3 442.5 395.3 443.0 397.6 443.1 398.4 443.5 400.8 443.7 401.8 444.0 402.3 444.3 402.0 444.5 401.7 444.9 399.0 445.0 398.4 445.5 392.6 445.5 392.2 446.0 387.9 446.1 387.9 446.5 387.8 446.7 389.0 447.0 391.4 447.3 394.7 447.5 396.2 447.9 399.6 448.0 399.9 448.5 401.3 448.5 401.3 449.0 400.9 449.1 400.7 449.5 399.8 449.7 399.3 450.0 398.8 450.3 397.8 450.5 397.3 450.9 395.7 451.0 395.5 451.5 394.3 451.5 394.3 452.0 394.5 452.1 394.8 452.5 396.0 452.7 396.7 453.0 397.2 453.3 397.1 453.5 396.9 453.9 395.4 454.0 395.1 454.5 392.6 454.5 392.4 455.0 389.5 455.1 388.6 455.5 386.2 455.7 385.3 456.0 384.8 456.3 386.4 456.5 387.8 456.9 393.6 457.0 394.4 457.5 399.3 457.5 399.3 458.0 398.4 458.1 397.5 458.5 394.3 458.7 393.0 459.0 392.0 459.3 391.3 459.5 390.8 459.9 388.2 460.0 387.8 460.5 383.9 460.5 383.7 461.0 382.2 461.1 382.4 461.5 383.7 461.7 385.2 462.0 387.1 462.3 389.3 462.5 389.7 462.9 389.2 463.0 389.1 463.5 386.1 463.5 385.9 464.0 383.6 464.1 383.2 464.5 382.5 464.7 382.9 465.0 383.8 465.3 386.6 465.5 388.3 465.9 393.3 466.0 393.8 466.5 397.2 466.5 397.3 467.0 398.2 467.1 398.1 467.5 397.9 467.7 397.6 468.0 397.4 468.3 397.7 468.5 398.0 468.9 399.5 469.0 399.8 469.5 402.1 469.5 402.2 470.0 402.8 470.1 402.6 470.5 401.3 470.7 400.7 471.0 400.3 471.3 401.2 471.5 401.7 471.9 402.6 472.0 402.6 472.5 399.5 472.5 399.2 473.0 393.4 473.1 391.8 473.5 388.4 473.7 387.6 474.0 387.2 474.3 388.4 474.5 389.2 474.9 391.1 475.0 391.2 475.5 390.1 475.5 390.0 476.0 387.4 476.1 387.3 476.5 387.1 476.7 388.1 477.0 390.1 477.3 392.7 477.5 393.5 477.9 394.1 478.0 394.1 478.5 391.6 478.5 391.4 479.0 388.8 479.1 388.4 479.5 387.4 479.7 386.8 480.0 386.2 480.3 385.1 480.5 384.9 480.9 386.1 481.0 386.4 481.5 392.6 481.5 393.1 482.0 399.8 482.1 400.6 482.5 401.9 482.7 400.5 483.0 397.6 483.3 393.6 483.5 392.1 483.9 389.6 484.0 389.5 484.5 389.4 484.5 389.4 485.0 389.4 485.1 389.3 485.5 389.3 485.7 389.6 486.0 390.4 486.3 392.1 486.5 393.0 486.9 395.5 487.0 395.7 487.5 397.3 487.5 397.3 488.0 396.6 488.1 396.0 488.5 393.7 488.7 392.2 489.0 391.3 489.3 391.4 489.5 391.5 489.9 392.6 490.0 392.7 490.5 393.8 490.5 393.9 491.0 394.1 491.1 394.0 491.5 393.1 491.7 392.7 492.0 392.5 492.3 393.3 492.5 393.7 492.9 395.0 493.0 395.0 493.5 394.4 493.5 394.3 494.0 392.7 494.1 392.5 494.5 392.4 494.7 392.8 495.0 393.8 495.3 395.4 495.5 396.3 495.9 399.5 496.0 399.9 496.5 403.6 496.5 403.7 497.0 404.6 497.1 404.3 497.5 401.8 497.7 399.7 498.0 397.6 498.3 396.0 498.5 395.8 498.9 396.6 499.0 396.7 499.5 398.2 499.5 398.2 500.0 397.9 500.1 397.5 500.5 395.6 500.7 394.5 501.0 393.8 501.3 394.1 501.5 394.2 501.9 394.4 502.0 394.4 502.5 392.6 502.5 392.5 503.0 390.9 503.1 390.7 503.5 390.4 503.7 390.2 504.0 389.9 504.3 389.2 504.5 389.0 504.9 389.8 505.0 390.0 505.5 394.2 505.5 394.6 506.0 400.4 506.1 401.9 506.5 404.7 506.7 404.5 507.0 404.2 507.3 401.9 507.5 400.4 507.9 395.7 508.0 395.0 508.5 388.2 508.5 387.7 509.0 383.2 509.1 383.3 509.5 383.6 509.7 385.0 510.0 386.8 510.3 388.0 510.5 388.3 510.9 388.3 511.0 388.4 511.5 390.1 511.5 390.3 512.0 393.1 512.1 393.7 512.5 395.3 512.7 396.0 513.0 396.5 513.3 396.8 513.5 396.9 513.9 396.4 514.0 396.3 514.5 396.4 514.5 396.4 515.0 398.1 515.1 398.6 515.5 399.8 515.7 399.9 516.0 399.9 516.3 398.4 516.5 397.4 516.9 393.6 517.0 393.1 517.5 389.5 517.5 389.4 518.0 388.1 518.1 388.3 518.5 389.7 518.7 391.4 519.0 393.9 519.3 397.5 519.5 399.0 519.9 402.1 520.0 402.2 520.5 402.1 520.5 402.1 521.0 401.1 521.1 401.4 521.5 403.5 521.7 405.7 522.0 407.5 522.3 406.9 522.5 406.4 522.9 400.4 523.0 399.5 523.5 393.5 523.5 393.4 524.0 393.0 524.1 393.5 524.5 396.6 524.7 398.6 525.0 400.1 525.3 400.6 525.5 400.6 525.9 398.7 526.0 398.4 526.5 395.5 526.5 395.3 527.0 393.7 527.1 393.5 527.5 393.0 527.7 393.0 528.0 392.9 528.3 392.5 528.5 392.1 528.9 390.0 529.0 389.7 529.5 387.0 529.5 386.9 530.0 386.1 530.1 386.1 530.5 386.2 530.7 386.2 531.0 386.2 531.3 386.1 531.5 386.0 531.9 386.1 532.0 386.1 532.5 387.0 532.5 387.1 533.0 388.7 533.1 389.2 533.5 390.8 533.7 392.1 534.0 393.6 534.3 395.6 534.5 396.3 534.9 397.1 535.0 397.1 535.5 395.8 535.5 395.7 536.0 393.3 536.1 392.6 536.5 391.0 536.7 390.7 537.0 390.4 537.3 390.0 537.5 389.7 537.9 386.8 538.0 386.3 538.5 382.0 538.5 381.9 539.0 381.3 539.1 381.7 539.5 384.4 539.7 386.1 540.0 387.6 540.3 388.7 540.5 388.9 540.9 389.1 541.0 389.1 541.5 388.7 541.5 388.7 542.0 388.5 542.1 388.6 542.5 389.6 542.7 391.0 543.0 392.7 543.3 394.1 543.5 394.4 543.9 392.0 544.0 391.5 544.5 385.7 544.5 385.4 545.0 382.5 545.1 382.7 545.5 384.4 545.7 386.6 546.0 389.3 546.3 391.9 546.5 392.5 546.9 392.0 547.0 391.9 547.5 390.6 547.5 390.6 548.0 392.1 548.1 392.8 548.5 395.4 548.7 396.9 549.0 398.3 549.3 399.5 549.5 400.0 549.9 401.2 550.0 401.4 550.5 402.3 550.5 402.3 551.0 400.9 551.1 400.0 551.5 397.5 551.7 397.2 552.0 397.1 552.3 399.3 552.5 400.2 552.9 401.1 553.0 401.1 553.5 398.0 553.5 397.8 554.0 394.8 554.1 394.2 554.5 392.7 554.7 391.6 555.0 390.3 555.3 388.7 555.5 388.2 555.9 387.6 556.0 387.6 556.5 388.4 556.5 388.5 557.0 390.3 557.1 390.7 557.5 391.4 557.7 391.1 558.0 390.3 558.3 389.0 558.5 388.6 558.9 388.3 559.0 388.3 559.5 389.1 559.5 389.2 560.0 390.3 560.1 390.8 560.5 392.4 560.7 394.1 561.0 396.4 561.3 399.5 561.5 400.4 561.9 401.0 562.0 401.0 562.5 398.6 562.5 398.4 563.0 395.4 563.1 394.5 563.5 392.0 563.7 390.1 564.0 388.2 564.3 385.8 564.5 385.4 564.9 385.6 565.0 385.6 565.5 389.8 565.5 390.2 566.0 394.9 566.1 396.0 566.5 397.7 566.7 398.0 567.0 398.1 567.3 397.9 567.5 397.8 567.9 397.9 568.0 397.9 568.5 398.1 568.5 398.1 569.0 396.8 569.1 396.2 569.5 393.9 569.7 392.7 570.0 392.0 570.3 393.1 570.5 394.0 570.9 398.0 571.0 398.4 571.5 400.1 571.5 400.1 572.0 397.9 572.1 397.3 572.5 396.0 572.7 396.2 573.0 396.5 573.3 396.8 573.5 396.8 573.9 395.9 574.0 395.8 574.5 395.9 574.5 396.0 575.0 398.6 575.1 399.5 575.5 401.4 575.7 401.1 576.0 400.4 576.3 397.8 576.5 396.5 576.9 394.4 577.0 394.4 577.5 394.3 577.5 394.3 578.0 393.5 578.1 393.5 578.5 393.4 578.7 394.3 579.0 396.0 579.3 398.1 579.5 398.5 579.9 398.5 580.0 398.5 580.5 397.8 580.5 397.7 581.0 396.6 581.1 395.9 581.5 392.6 581.7 389.9 582.0 386.8 582.3 383.6 582.5 382.8 582.9 382.0 583.0 381.9 583.5 383.8 583.5 384.0 584.0 387.2 584.1 388.2 584.5 391.2 584.7 393.3 585.0 395.6 585.3 398.7 585.5 399.4 585.9 399.8 586.0 399.8 586.5 396.4 586.5 396.2 587.0 394.0 587.1 394.1 587.5 395.1 587.7 396.2 588.0 397.1 588.3 397.2 588.5 397.2 588.9 396.0 589.0 395.8 589.5 394.7 589.5 394.7 590.0 394.8 590.1 395.0 590.5 395.8 590.7 396.0 591.0 396.0 591.3 395.4 591.5 394.9 591.9 393.4 592.0 393.2 592.5 390.5 592.5 390.3 593.0 386.5 593.1 385.4 593.5 382.5 593.7 380.8 594.0 379.4 594.3 378.3 594.5 378.1 594.9 380.1 595.0 380.6 595.5 387.1 595.5 387.6 596.0 394.3 596.1 395.8 596.5 398.9 596.7 399.7 597.0 400.1 597.3 399.5 597.5 399.1 597.9 398.1 598.0 398.0 598.5 397.4 598.5 397.3 599.0 395.3 599.1 394.3 599.5 390.7 599.7 388.2 600.0 385.8 600.3 384.0 600.5 383.7 600.9 384.2 601.0 384.3 601.5 385.4 601.5 385.5 602.0 387.9 602.1 389.1 602.5 393.1 602.7 395.6 603.0 397.7 603.3 398.8 603.5 399.0 603.9 398.5 604.0 398.4 604.5 397.8 604.5 397.8 605.0 397.3 605.1 397.1 605.5 396.4 605.7 395.8 606.0 395.2 606.3 394.4 606.5 394.2 606.9 394.8 607.0 394.9 607.5 398.0 607.5 398.3 608.0 402.5 608.1 403.6 608.5 405.9 608.7 406.2 609.0 406.4 609.3 405.5 609.5 404.9 609.9 403.4 610.0 403.2 610.5 402.0 610.5 401.9 611.0 399.6 611.1 398.6 611.5 395.1 611.7 392.9 612.0 390.6 612.3 388.2 612.5 387.5 612.9 386.3 613.0 386.2 613.5 386.7 613.5 386.8 614.0 387.6 614.1 387.8 614.5 388.4 614.7 389.1 615.0 390.2 615.3 392.0 615.5 392.8 615.9 394.4 616.0 394.6 616.5 395.2 616.5 395.2 617.0 394.0 617.1 393.4 617.5 391.2 617.7 390.0 618.0 389.2 618.3 389.1 618.5 389.1 618.9 389.2 619.0 389.2 619.5 389.2 619.5 389.2 620.0 389.8 620.1 389.9 620.5 390.0 620.7 389.7 621.0 389.4 621.3 389.8 621.5 390.2 621.9 392.9 622.0 393.4 622.5 397.2 622.5 397.4 623.0 399.3 623.1 399.5 623.5 399.8 623.7 400.2 624.0 400.7 624.3 401.2 624.5 401.3 624.9 399.1 625.0 398.6 625.5 392.8 625.5 392.5 626.0 390.2 626.1 390.7 626.5 394.2 626.7 396.9 627.0 398.8 627.3 398.8 627.5 398.8 627.9 397.1 628.0 397.0 628.5 396.5 628.5 396.5 629.0 396.4 629.1 396.3 629.5 395.6 629.7 394.8 630.0 393.9 630.3 392.9 630.5 392.8 630.9 393.9 631.0 394.1 631.5 396.3 631.5 396.4 632.0 397.3 632.1 397.5 632.5 397.9 632.7 398.6 633.0 399.6 633.3 400.7 633.5 400.9 633.9 399.7 634.0 399.4 634.5 395.4 634.5 395.1 635.0 392.3 635.1 391.8 635.5 390.8 635.7 390.0 636.0 389.3 636.3 388.4 636.5 388.2 636.9 388.3 637.0 388.4 637.5 389.7 637.5 389.8 638.0 392.1 638.1 393.0 638.5 395.7 638.7 397.5 639.0 399.2 639.3 400.7 639.5 400.9 639.9 400.3 640.0 400.1 640.5 396.9 640.5 396.6 641.0 393.3 641.1 392.8 641.5 392.1 641.7 392.3 642.0 392.7 642.3 393.0 642.5 393.1 642.9 393.5 643.0 393.6 643.5 394.7 643.5 394.8 644.0 395.6 644.1 395.9 644.5 396.8 644.7 397.5 645.0 398.0 645.3 397.4 645.5 396.9 645.9 394.5 646.0 394.3 646.5 393.5 646.5 393.6 647.0 395.5 647.1 396.2 647.5 397.6 647.7 397.5 648.0 397.0 648.3 394.9 648.5 393.7 648.9 390.8 649.0 390.7 649.5 390.8 649.5 390.8 650.0 392.6 650.1 393.1 650.5 394.2 650.7 395.0 651.0 396.0 651.3 397.8 651.5 398.7 651.9 401.1 652.0 401.3 652.5 402.6 652.5 402.6 653.0 401.2 653.1 400.4 653.5 396.9 653.7 394.3 654.0 391.5 654.3 388.5 654.5 387.7 654.9 387.3 655.0 387.3 655.5 389.8 655.5 390.0 656.0 393.9 656.1 395.0 656.5 397.7 656.7 398.7 657.0 399.3 657.3 398.9 657.5 398.5 657.9 396.3 658.0 395.9 658.5 391.5 658.5 391.2 659.0 386.1 659.1 384.8 659.5 382.6 659.7 383.0 660.0 384.0 660.3 386.8 660.5 388.3 660.9 391.6 661.0 392.0 661.5 394.4 661.5 394.5 662.0 396.4 662.1 396.9 662.5 397.8 662.7 397.7 663.0 397.3 663.3 395.8 663.5 394.8 663.9 391.6 664.0 391.2 664.5 388.7 664.5 388.7 665.0 389.6 665.1 390.2 665.5 392.6 665.7 393.3 666.0 393.7 666.3 392.5 666.5 391.9 666.9 391.4 667.0 391.3 667.5 394.3 667.5 394.6 668.0 397.2 668.1 397.1 668.5 396.6 668.7 395.7 669.0 394.9 669.3 395.2 669.5 395.5 669.9 398.6 670.0 399.1 670.5 403.5 670.5 403.7 671.0 405.2 671.1 405.0 671.5 403.8 671.7 403.0 672.0 402.2 672.3 401.5 672.5 401.0 672.9 398.9 673.0 398.6 673.5 395.2 673.5 395.0 674.0 392.9 674.1 392.7 674.5 392.5 674.7 392.7 675.0 393.2 675.3 393.9 675.5 394.3 675.9 395.2 676.0 395.3 676.5 395.8 676.5 395.8 677.0 395.1 677.1 394.8 677.5 394.0 677.7 393.8 678.0 393.7 678.3 394.1 678.5 394.4 678.9 395.4 679.0 395.5 679.5 395.6 679.5 395.6 680.0 393.2 680.1 392.2 680.5 389.3 680.7 388.5 681.0 388.1 681.3 389.9 681.5 391.3 681.9 395.0 682.0 395.3 682.5 396.9 682.5 396.9 683.0 396.5 683.1 396.6 683.5 397.1 683.7 397.9 684.0 398.6 684.3 398.0 684.5 397.4 684.9 394.4 685.0 394.1 685.5 392.1 685.5 392.1 686.0 392.5 686.1 392.7 686.5 393.9 686.7 394.5 687.0 395.0 687.3 394.6 687.5 394.2 687.9 392.7 688.0 392.7 688.5 394.0 688.5 394.2 689.0 398.4 689.1 399.6 689.5 401.9 689.7 401.9 690.0 401.8 690.3 400.7 690.5 400.0 690.9 398.3 691.0 398.0 691.5 396.0 691.5 395.9 692.0 394.7 692.1 394.8 692.5 395.9 692.7 397.6 693.0 400.1 693.3 403.7 693.5 404.5 693.9 404.0 694.0 403.8 694.5 398.1 694.5 397.7 695.0 392.5 695.1 391.8 695.5 390.9 695.7 391.6 696.0 392.7 696.3 394.1 696.5 394.3 696.9 394.3 697.0 394.2 697.5 393.7 697.5 393.6 698.0 392.7 698.1 392.2 698.5 390.8 698.7 390.4 699.0 390.2 699.3 391.5 699.5 392.4 699.9 394.1 700.0 394.2 700.5 392.1 700.5 391.8 701.0 386.8 701.1 385.7 701.5 383.8 701.7 384.9 702.0 387.6 702.3 393.6 702.5 396.9 702.9 404.5 703.0 404.9 703.5 405.5 703.5 405.4 704.0 399.2 704.1 397.2 704.5 393.0 704.7 392.2 705.0 391.9 705.3 393.4 705.5 394.4 705.9 396.7 706.0 396.8 706.5 397.0 706.5 397.0 707.0 393.7 707.1 392.3 707.5 387.6 707.7 384.8 708.0 383.0 708.3 383.6 708.5 384.2 708.9 389.2 709.0 389.9 709.5 394.3 709.5 394.3 710.0 394.4 710.1 394.2 710.5 393.5 710.7 394.1 711.0 395.2 711.3 397.0 711.5 397.6 711.9 398.4 712.0 398.5 712.5 398.8 712.5 398.8 713.0 398.7 713.1 398.5 713.5 397.5 713.7 397.0 714.0 396.7 714.3 397.4 714.5 397.8 714.9 399.5 715.0 399.7 715.5 400.5 715.5 400.5 716.0 399.8 716.1 399.4 716.5 397.9 716.7 396.8 717.0 395.8 717.3 395.0 717.5 394.9 717.9 395.4 718.0 395.5 718.5 396.9 718.5 396.9 719.0 397.3 719.1 397.0 719.5 394.6 719.7 392.4 720.0 390.0 720.3 387.8 720.5 387.4 720.9 387.6 721.0 387.6 721.5 389.3 721.5 389.5 722.0 391.8 722.1 392.6 722.5 394.3 722.7 395.3 723.0 396.0 723.3 395.9 723.5 395.9 723.9 394.5 724.0 394.2 724.5 392.7 724.5 392.6 725.0 392.4 725.1 392.4 725.5 392.3 725.7 392.4 726.0 392.5 726.3 393.4 726.5 393.6 726.9 393.5 727.0 393.5 727.5 390.6 727.5 390.3 728.0 387.9 728.1 388.1 728.5 389.6 728.7 391.5 729.0 393.9 729.3 395.9 729.5 396.3 729.9 395.2 730.0 395.0 730.5 391.7 730.5 391.6 731.0 389.9 731.1 390.1 731.5 391.1 731.7 392.3 732.0 393.6 732.3 394.5 732.5 394.7 732.9 393.9 733.0 393.7 733.5 392.2 733.5 392.1 734.0 391.1 734.1 390.8 734.5 390.3 734.7 390.0 735.0 389.8 735.3 389.8 735.5 389.9 735.9 390.2 736.0 390.3 736.5 391.2 736.5 391.3 737.0 393.4 737.1 394.0 737.5 395.7 737.7 396.6 738.0 397.4 738.3 398.7 738.5 399.3 738.9 401.0 739.0 401.0 739.5 400.6 739.5 400.5 740.0 397.7 740.1 396.6 740.5 393.1 740.7 390.6 741.0 388.2 741.3 386.3 741.5 386.0 741.9 387.5 742.0 387.9 742.5 392.5 742.5 393.0 743.0 398.6 743.1 400.2 743.5 403.3 743.7 403.5 744.0 403.6 744.3 401.2 744.5 399.6 744.9 395.2 745.0 394.7 745.5 391.6 745.5 391.5 746.0 390.8 746.1 391.0 746.5 392.1 746.7 393.0 747.0 393.9 747.3 394.3 747.5 394.3 747.9 394.0 748.0 394.0 748.5 395.4 748.5 395.6 749.0 399.2 749.1 400.3 749.5 402.2 749.7 401.8 750.0 400.8 750.3 396.9 750.5 394.5 750.9 388.5 751.0 388.1 751.5 386.1 751.5 386.1 752.0 388.8 752.1 389.7 752.5 391.9 752.7 392.3 753.0 392.6 753.3 392.8 753.5 392.9 753.9 394.2 754.0 394.3 754.5 394.9 754.5 394.9 755.0 392.1 755.1 390.8 755.5 386.3 755.7 383.3 756.0 380.9 756.3 380.0 756.5 379.9 756.9 383.9 757.0 384.7 757.5 392.1 757.5 392.5 758.0 396.7 758.1 397.2 758.5 398.0 758.7 398.4 759.0 398.8 759.3 399.5 759.5 399.8 759.9 400.4 760.0 400.4 760.5 399.4 760.5 399.2 761.0 395.5 761.1 393.9 761.5 388.4 761.7 384.7 762.0 382.2 762.3 382.2 762.5 382.2 762.9 386.1 763.0 386.5 763.5 388.0 763.5 388.0 764.0 386.1 764.1 385.7 764.5 384.7 764.7 384.3 765.0 383.9 765.3 383.1 765.5 382.9 765.9 384.0 766.0 384.3 766.5 389.3 766.5 389.7 767.0 395.3 767.1 396.8 767.5 400.4 767.7 402.3 768.0 404.0 768.3 405.3 768.5 405.5 768.9 404.3 769.0 404.0 769.5 399.9 769.5 399.6 770.0 395.6 770.1 394.7 770.5 393.0 770.7 392.3 771.0 391.8 771.3 391.2 771.5 391.1 771.9 391.5 772.0 391.6 772.5 391.5 772.5 391.4 773.0 387.4 773.1 385.7 773.5 381.2 773.7 379.8 774.0 379.0 774.3 380.9 774.5 382.3 774.9 387.3 775.0 388.1 775.5 393.6 775.5 393.9 776.0 397.4 776.1 398.1 776.5 399.7 776.7 400.4 777.0 400.8 777.3 400.5 777.5 400.2 777.9 398.6 778.0 398.4 778.5 397.5 778.5 397.5 779.0 398.1 779.1 398.4 779.5 399.5 779.7 400.3 780.0 400.7 780.3 400.5 780.5 400.2 780.9 397.5 781.0 397.1 781.5 393.0 781.5 392.7 782.0 390.4 782.1 390.4 782.5 390.6 782.7 391.7 783.0 392.8 783.3 392.9 783.5 392.9 783.9 389.8 784.0 389.3 784.5 385.9 784.5 385.9 785.0 385.7 785.1 385.9 785.5 387.2 785.7 387.7 786.0 388.2 786.3 388.4 786.5 388.6 786.9 389.3 787.0 389.5 787.5 391.7 787.5 391.9 788.0 394.3 788.1 394.9 788.5 395.8 788.7 396.0 789.0 396.1 789.3 395.8 789.5 395.6 789.9 394.5 790.0 394.3 790.5 392.4 790.5 392.3 791.0 390.5 791.1 390.2 791.5 389.4 791.7 389.1 792.0 388.7 792.3 387.8 792.5 387.2 792.9 384.8 793.0 384.5 793.5 383.1 793.5 383.2 794.0 384.8 794.1 385.6 794.5 388.6 794.7 390.4 795.0 391.8 795.3 392.6 795.5 392.7 795.9 392.5 796.0 392.5 796.5 393.1 796.5 393.1 797.0 393.0 797.1 392.8 797.5 390.9 797.7 389.2 798.0 387.3 798.3 385.6 798.5 385.3 798.9 388.1 799.0 388.7 799.5 395.1 799.5 395.4 800.0 398.2 800.1 398.0 800.5 396.6 800.7 395.3 801.0 394.4 801.3 394.4 801.5 394.4 801.9 396.4 802.0 396.7 802.5 399.3 802.5 399.4 803.0 399.6 803.1 399.2 803.5 396.9 803.7 395.4 804.0 393.8 804.3 392.6 804.5 392.0 804.9 390.7 805.0 390.5 805.5 389.1 805.5 389.1 806.0 389.2 806.1 389.5 806.5 391.5 806.7 393.2 807.0 395.6 807.3 398.9 807.5 400.4 807.9 404.3 808.0 404.6 808.5 405.2 808.5 405.2 809.0 401.4 809.1 399.9 809.5 395.5 809.7 392.9 810.0 390.5 810.3 388.5 810.5 388.1 810.9 388.9 811.0 389.1 811.5 391.8 811.5 392.0 812.0 393.3 812.1 393.3 812.5 393.1 812.7 393.0 813.0 392.9 813.3 393.1 813.5 393.3 813.9 394.6 814.0 394.8 814.5 397.3 814.5 397.4 815.0 397.8 815.1 397.3 815.5 394.0 815.7 391.5 816.0 389.2 816.3 387.9 816.5 387.7 816.9 388.5 817.0 388.5 817.5 388.0 817.5 387.9 818.0 386.0 818.1 385.7 818.5 385.2 818.7 385.7 819.0 387.0 819.3 389.4 819.5 390.5 819.9 393.1 820.0 393.1 820.5 392.1 820.5 392.0 821.0 388.0 821.1 386.7 821.5 383.0 821.7 380.7 822.0 379.2 822.3 378.9 822.5 378.9 822.9 381.2 823.0 381.7 823.5 385.4 823.5 385.7 824.0 389.8 824.1 391.4 824.5 394.9 824.7 392.6 825.3 377.5 825.7 372.6 825.9 371.7 826.5 370.1 827.1 368.9 827.7 368.2 828.3 367.9 828.5 367.9 828.9 368.0 829.5 368.5 830.1 369.3 830.7 370.1 831.3 370.9 831.9 371.5 832.2 371.7 832.5 371.8 833.1 372.1 833.7 372.3 834.3 372.5 834.9 372.6 835.1 372.6 835.5 372.6 836.1 372.4 836.7 372.3 837.3 372.0 837.9 371.7 838.5 371.4 839.1 371.1 839.7 370.7 839.7 370.7 840.3 370.3 840.9 369.8 841.5 369.1 842.1 368.5 842.7 367.9 843.3 367.4 843.9 367.1 844.4 367.0 844.5 367.0 845.1 367.0 845.7 367.1 846.3 367.3 846.9 367.5 847.5 367.8 848.1 368.1 848.7 368.5 849.1 368.8 849.3 369.2 849.9 372.0 850.5 375.2 851.0 376.4 851.1 376.3 851.7 375.6 852.3 374.2 852.9 372.8 853.5 371.8 853.8 371.7 854.1 372.0 854.7 374.3 855.3 377.8 855.9 381.3 856.5 383.7 856.6 383.9 857.1 384.7 857.7 385.6 858.3 386.3 858.9 386.9 859.5 387.4 860.1 387.6 860.4 387.6 860.7 387.5 861.3 386.8 861.9 385.7 862.5 384.4 863.1 382.9 863.7 381.6 864.3 380.6 864.9 380.1 865.1 380.1 865.5 380.1 866.1 380.1 866.7 380.2 867.3 380.2 867.9 380.3 868.5 380.3 869.1 380.4 869.7 380.5 870.3 380.6 870.9 380.7 871.5 380.8 872.1 380.9 872.6 381.0 872.7 381.1 873.3 381.5 873.9 382.0 874.5 382.5 875.1 382.9 875.4 382.9 875.7 382.6 876.3 380.9 876.9 378.3 877.5 375.4 878.1 372.9 878.2 372.6 878.7 370.9 879.3 368.8 879.9 366.8 880.5 365.2 881.1 364.3 881.4 364.2 881.7 364.3 882.3 365.0 882.9 365.9 883.5 366.7 883.9 367.0 884.1 367.1 884.7 367.3 885.3 367.4 885.9 367.5 886.5 367.6 887.1 367.7 887.6 367.9 887.7 368.0 888.3 368.4 888.9 369.1 889.5 370.0 890.1 370.9 890.7 371.8 891.3 372.6 891.9 373.3 892.3 373.5 892.5 373.7 893.1 373.9 893.7 374.2 894.3 374.4 894.9 374.5 895.5 374.7 896.1 374.8 896.7 374.9 897.3 375.0 897.9 375.2 898.5 375.4 899.1 375.6 899.7 375.8 900.3 376.1 900.8 376.4 900.9 376.5 901.5 377.5 902.1 378.9 902.7 380.2 903.3 381.0 903.6 381.0 903.9 381.0 904.5 380.9 905.1 380.6 905.7 380.3 906.3 379.9 906.9 379.5 907.5 379.0 908.1 378.5 908.7 378.1 909.3 377.7 909.9 377.4 910.1 377.3 910.5 377.1 911.1 376.9 911.7 376.6 912.3 376.3 912.9 376.1 913.5 375.8 914.1 375.7 914.7 375.5 915.3 375.4 915.8 375.4 915.9 375.4 916.5 375.9 917.1 376.8 917.7 377.9 918.3 379.0 918.9 379.8 919.5 380.1 919.5 380.1 920.1 379.8 920.7 379.2 921.3 378.3 921.9 377.5 922.5 376.7 923.1 376.4 923.3 376.4 923.7 376.4 924.3 376.4 924.9 376.5 925.5 376.6 926.1 376.7 926.7 376.8 927.3 376.9 927.9 377.1 928.5 377.2 928.9 377.3 929.1 377.4 929.7 377.6 930.3 377.9 930.9 378.2 931.5 378.6 932.1 379.0 932.7 379.4 933.3 379.8 933.9 380.2 934.5 380.5 935.1 380.8 935.7 381.0 936.3 381.0 936.4 381.0 936.9 380.9 937.5 380.3 938.1 379.4 938.7 378.5 939.3 377.8 939.9 377.3 940.2 377.3 940.5 377.4 941.1 377.9 941.7 378.7 942.3 379.8 942.9 380.8 943.5 381.8 944.1 382.6 944.7 382.9 944.9 382.9 945.3 382.8 945.9 382.3 946.5 381.6 947.1 380.7 947.7 379.8 948.3 379.0 948.9 378.5 949.5 378.2 949.6 378.2 950.1 378.3 950.7 378.4 951.3 378.5 951.9 378.8 952.5 379.0 953.1 379.2 953.7 379.4 954.3 379.6 954.9 379.7 955.2 379.7 955.5 379.8 956.1 379.8 956.7 379.8 957.3 379.9 957.9 379.9 958.5 379.9 959.1 379.9 959.7 379.9 960.3 380.0 960.9 380.0 961.5 380.0 962.1 380.1 962.7 380.1 962.7 380.1 963.3 380.3 963.9 380.6 964.5 381.1 965.1 381.5 965.7 381.8 966.3 382.0 966.5 382.0 966.9 382.0 967.5 381.9 968.1 381.9 968.7 381.8 969.3 381.8 969.9 381.7 970.5 381.6 971.1 381.5 971.7 381.4 972.3 381.3 972.9 381.3 973.5 381.2 974.1 381.1 974.7 381.1 975.3 381.1 975.8 381.0 975.9 381.0 976.5 381.2 977.1 381.6 977.7 382.0 978.3 382.4 978.9 382.8 979.5 382.9 979.6 382.9 980.1 382.9 980.7 382.9 981.3 382.8 981.9 382.7 982.5 382.6 983.1 382.5 983.7 382.3 984.3 382.2 984.9 382.1 985.5 381.9 986.1 381.8 986.7 381.6 987.3 381.5 987.9 381.4 988.5 381.3 989.1 381.2 989.7 381.1 990.3 381.1 990.9 381.0 990.9 381.0 991.5 381.4 992.1 382.0 992.7 382.9 993.3 383.8 993.9 384.5 994.5 384.8 994.6 384.8 995.1 384.8 995.7 384.7 996.3 384.7 996.9 384.6 997.5 384.5 998.1 384.4 998.7 384.3 999.3 384.2 999.9 384.1 1000.5 384.0 1001.1 383.9 1001.7 383.9 1002.1 383.9 1002.3 383.9 1002.9 384.2 1003.5 384.8 1004.1 385.4 1004.7 386.1 1005.3 386.5 1005.9 386.7 1005.9 386.7 1006.5 385.9 1007.1 384.4 1007.7 382.7 1008.3 381.4 1008.7 381.0 1008.9 381.0 1009.5 380.8 1010.1 380.6 1010.7 380.5 1011.3 380.4 1011.9 380.3 1012.5 380.2 1013.1 380.1 1013.7 380.1 1014.3 380.1 1014.3 380.1 1014.9 380.3 1015.5 380.8 1016.1 381.5 1016.7 382.3 1017.3 383.2 1017.9 384.1 1018.5 384.8 1019.1 385.4 1019.7 385.7 1020.0 385.7 1020.3 385.7 1020.9 385.7 1021.5 385.6 1022.1 385.5 1022.7 385.4 1023.3 385.2 1023.9 385.0 1024.5 384.8 1024.7 384.8 1025.1 384.4 1025.7 383.5 1026.3 382.2 1026.9 380.8 1027.5 379.6 1028.1 378.6 1028.7 378.2 1028.8 378.2 1029.3 380.1 1029.9 382.6 1030.0 382.6 1030.5 382.9 1031.1 383.1 1031.7 383.2 1032.3 383.4 1032.9 383.5 1033.5 383.5 1034.1 383.6 1034.7 383.6 1034.7 383.6 1035.3 383.5 1035.9 383.3 1036.5 383.0 1037.1 382.7 1037.7 382.3 1038.3 381.8 1038.4 381.7 1038.9 381.0 1039.5 379.5 1040.1 377.8 1040.7 376.5 1041.3 376.1 1041.3 376.1 1041.9 377.7 1042.5 380.3 1043.1 381.7 1043.1 381.7 1043.7 379.9 1044.3 376.4 1044.9 374.2 1045.0 374.2 1045.5 375.2 1046.1 378.1 1046.7 381.7 1047.3 384.5 1047.8 385.4 1047.9 385.4 1048.5 383.6 1049.1 380.3 1049.7 377.2 1050.3 376.1 1050.3 376.1 1050.9 380.3 1051.5 384.5 1051.6 384.5 1052.1 382.6 1052.7 378.3 1053.3 375.2 1053.5 375.1 1053.9 376.3 1054.5 379.7 1055.1 382.4 1055.3 382.6 1055.7 382.6 1056.3 382.4 1056.9 382.1 1057.5 381.8 1058.1 381.7 1058.2 381.7 1058.7 382.3 1059.3 383.6 1059.9 384.5 1060.0 384.5 1060.5 382.1 1061.1 376.8 1061.5 375.1 1061.7 375.5 1062.3 380.2 1062.9 386.1 1063.4 388.3 1063.5 387.9 1064.1 379.0 1064.7 366.0 1065.3 360.1 1065.3 360.1 1065.9 363.5 1066.5 369.9 1067.1 375.5 1067.5 377.0 1067.7 376.9 1068.3 375.6 1068.9 373.3 1069.5 371.0 1070.1 369.6 1070.4 369.5 1070.7 370.3 1071.3 374.1 1071.9 378.9 1072.5 382.2 1072.8 382.6 1073.1 380.8 1073.7 371.4 1074.3 359.8 1074.9 352.8 1075.1 352.6 1075.5 358.2 1076.1 373.4 1076.7 385.4 1076.9 386.4 1077.3 379.4 1077.9 354.1 1078.5 331.5 1078.8 328.2 1079.1 330.9 1079.7 344.9 1080.3 359.8 1080.7 363.9 1080.9 364.6 1081.5 365.7 1082.1 366.5 1082.6 367.6 1082.7 368.6 1083.3 376.1 1083.9 382.4 1084.1 382.6 1084.5 375.1 1085.1 355.1 1085.7 343.2 1085.8 343.2 1086.3 352.3 1086.9 371.8 1087.5 387.8 1087.8 390.1 1088.1 389.3 1088.7 384.4 1089.3 378.1 1089.7 375.1 1089.9 373.5 1090.5 369.2 1091.1 365.2 1091.7 362.2 1092.3 361.0 1092.3 361.0 1092.9 364.5 1093.5 371.7 1094.1 379.1 1094.7 382.6 1094.8 382.6 1095.3 382.3 1095.9 381.3 1096.5 379.8 1097.1 378.2 1097.6 377.0 1097.7 376.5 1098.3 373.9 1098.9 370.9 1099.5 368.9 1099.8 368.6 1100.1 369.4 1100.7 375.0 1101.3 382.4 1101.9 388.1 1102.3 389.2 1102.5 388.8 1103.1 385.6 1103.7 380.7 1104.3 376.1 1104.9 373.4 1105.1 373.2 1105.5 373.5 1106.1 374.5 1106.7 375.9 1107.3 377.5 1107.9 378.9 1107.9 378.9 1108.5 380.5 1109.1 382.4 1109.7 384.2 1110.3 385.6 1110.9 386.4 1111.1 386.4 1111.5 386.3 1112.1 385.8 1112.7 385.1 1113.3 384.3 1113.9 383.4 1114.5 382.6 1114.5 382.5 1115.1 381.5 1115.7 380.2 1116.3 378.7 1116.9 377.5 1117.5 376.5 1118.1 376.1 1118.2 376.1 1118.7 376.8 1119.3 379.0 1119.9 381.6 1120.5 383.8 1121.0 384.5 1121.1 384.5 1121.7 384.2 1122.3 383.7 1122.9 383.1 1123.5 382.7 1123.9 382.6 1124.1 382.7 1124.7 383.0 1125.3 383.6 1125.9 384.4 1126.5 385.3 1126.7 385.4 1127.1 386.4 1127.7 387.8 1128.2 388.3 1128.3 388.0 1128.9 383.1 1129.5 375.4 1130.1 369.5 1130.4 368.6 1130.7 369.1 1131.3 372.3 1131.9 376.8 1132.5 380.1 1132.9 380.8 1133.1 380.5 1133.7 378.9 1134.3 376.7 1134.9 375.2 1135.1 375.1 1135.5 375.5 1136.1 376.8 1136.7 378.6 1137.3 380.1 1137.9 380.8 1137.9 380.8 1138.5 380.5 1139.1 379.7 1139.7 378.6 1140.3 377.4 1140.9 376.1 1141.5 375.1 1142.1 374.4 1142.6 374.2 1142.7 374.3 1143.3 376.9 1143.9 380.7 1144.5 382.6 1144.5 382.6 1145.1 378.5 1145.7 371.1 1146.3 366.7 1146.4 366.7 1146.9 367.8 1147.5 370.8 1148.1 374.5 1148.7 377.6 1149.2 378.9 1149.3 379.0 1149.9 379.7 1150.5 380.2 1151.1 380.5 1151.7 380.7 1152.0 380.8 1152.3 380.0 1152.9 376.2 1153.5 372.3 1153.9 371.4 1154.1 371.8 1154.7 376.0 1155.3 381.7 1155.9 385.9 1156.1 386.4 1156.5 386.6 1157.1 386.9 1157.7 387.1 1158.3 387.2 1158.9 387.3 1159.5 387.3 1159.5 387.3 1160.1 386.4 1160.7 384.7 1161.3 383.6 1161.4 383.6 1161.9 384.2 1162.5 385.9 1163.1 387.6 1163.7 388.3 1163.7 388.3 1164.3 387.4 1164.9 386.1 1165.5 385.4 1165.5 385.4 1166.1 386.3 1166.7 388.2 1167.3 390.1 1167.9 391.1 1168.0 391.1 1168.5 390.6 1169.1 389.2 1169.7 387.2 1170.3 385.3 1170.9 383.6 1171.5 382.7 1171.7 382.6 1172.1 382.7 1172.7 383.2 1173.3 383.8 1173.9 384.3 1174.5 384.5 1174.5 384.5 1175.1 381.8 1175.7 375.8 1176.3 370.3 1176.8 368.6 1176.9 368.7 1177.5 371.4 1178.1 376.1 1178.7 380.6 1179.2 382.6 1179.3 382.8 1179.9 383.7 1180.5 384.3 1181.1 384.5 1181.1 384.5 1181.7 383.6 1182.3 381.5 1182.9 379.2 1183.5 377.4 1183.9 377.0 1184.1 377.1 1184.7 378.5 1185.3 380.7 1185.9 383.0 1186.5 384.4 1186.7 384.5 1187.1 383.7 1187.7 380.5 1188.3 376.4 1188.9 373.6 1189.2 373.2 1189.5 374.2 1190.1 379.0 1190.7 384.8 1191.3 388.2 1191.4 388.3 1191.9 387.5 1192.5 385.2 1193.1 382.2 1193.7 379.4 1194.3 377.9 1194.3 377.8 1194.9 377.1 1195.5 376.6 1196.1 376.1 1196.7 375.5 1197.1 375.1 1197.3 374.6 1197.9 373.0 1198.5 371.1 1199.1 369.8 1199.5 369.5 1199.7 369.7 1200.3 371.8 1200.9 374.7 1201.5 376.8 1201.8 377.0 1202.1 376.8 1202.7 376.0 1203.3 375.3 1203.6 375.1 1203.9 375.2 1204.5 375.6 1205.1 376.3 1205.5 377.0 1205.7 378.2 1206.3 385.5 1206.8 389.2 1206.9 388.6 1207.5 367.6 1208.1 343.6 1208.3 341.3 1208.7 341.7 1209.3 342.7 1209.8 343.2 1209.9 343.1 1210.5 337.6 1211.1 329.4 1211.7 325.4 1211.7 325.4 1212.3 333.4 1212.9 348.5 1213.5 359.7 1213.6 360.1 1214.1 362.7 1214.7 364.9 1214.9 365.7 1215.3 369.1 1215.9 375.5 1216.5 380.2 1216.8 380.8 1217.1 379.9 1217.7 376.0 1218.3 372.1 1218.7 371.4 1218.9 371.8 1219.5 374.7 1220.1 378.0 1220.5 378.9 1220.7 378.8 1221.3 377.6 1221.9 375.6 1222.5 373.6 1223.1 372.4 1223.4 372.3 1223.7 372.6 1224.3 373.7 1224.9 375.6 1225.5 377.7 1226.1 379.7 1226.7 381.2 1227.1 381.7 1227.3 381.9 1227.9 382.4 1228.5 382.8 1229.1 383.2 1229.7 383.5 1230.3 383.6 1230.5 383.6 1230.9 383.1 1231.5 381.2 1232.1 378.9 1232.7 376.9 1233.3 376.1 1233.3 376.1 1233.9 376.6 1234.5 377.7 1235.1 379.2 1235.7 380.6 1236.3 381.5 1236.5 381.7 1236.9 382.0 1237.5 382.4 1238.1 382.6 1238.4 382.6 1238.7 382.5 1239.3 381.6 1239.9 380.2 1240.5 378.6 1241.1 377.0 1241.7 375.7 1242.1 375.1 1242.3 374.9 1242.9 374.2 1243.5 373.6 1244.1 373.3 1244.4 373.2 1244.7 373.4 1245.3 374.3 1245.9 375.7 1246.5 377.2 1247.1 378.4 1247.7 378.9 1247.8 378.9 1248.3 378.2 1248.9 376.7 1249.5 375.2 1250.0 374.8 1250.1 374.8 1250.7 375.4 1251.3 376.6 1251.9 377.9 1252.5 379.0 1253.1 379.5 1253.2 379.5 1253.7 379.4 1254.3 379.2 1254.9 378.8 1255.5 378.3 1256.1 377.9 1256.7 377.5 1257.3 377.2 1257.9 377.1 1257.9 377.1 1258.5 377.4 1259.1 378.2 1259.7 379.2 1260.3 380.4 1260.9 381.5 1261.5 382.5 1262.1 383.2 1262.7 383.5 1262.7 383.5 1263.3 383.2 1263.9 382.4 1264.5 381.3 1265.1 379.9 1265.7 378.5 1266.3 377.2 1266.9 376.0 1267.5 375.2 1268.1 374.8 1268.3 374.8 1268.7 375.1 1269.3 376.1 1269.9 377.7 1270.5 379.6 1271.1 381.5 1271.7 383.2 1272.3 384.5 1272.9 385.1 1273.0 385.1 1273.5 384.8 1274.1 384.0 1274.7 382.8 1275.3 381.6 1275.9 380.5 1276.5 379.7 1277.0 379.5 1277.1 379.5 1277.7 379.9 1278.3 380.8 1278.9 381.9 1279.5 383.2 1280.1 384.6 1280.7 385.8 1281.3 386.9 1281.7 387.5 1281.9 387.7 1282.5 388.4 1283.1 389.1 1283.7 389.7 1284.3 390.3 1284.9 390.8 1285.5 391.2 1286.1 391.4 1286.5 391.4 1286.7 391.3 1287.3 389.6 1287.9 386.8 1288.5 383.5 1289.1 380.7 1289.7 378.9 1290.0 378.7 1290.3 379.0 1290.9 380.6 1291.5 383.0 1292.1 385.4 1292.7 387.2 1292.9 387.5 1293.3 388.2 1293.9 389.1 1294.5 389.9 1295.1 390.7 1295.7 391.3 1296.3 391.8 1296.9 392.1 1297.5 392.2 1297.6 392.2 1298.1 392.1 1298.7 391.9 1299.3 391.5 1299.9 391.0 1300.5 390.4 1301.1 389.7 1301.7 389.0 1302.3 388.3 1302.4 388.3 1302.9 387.4 1303.5 386.2 1304.1 384.8 1304.7 383.3 1305.3 381.9 1305.9 380.7 1306.5 379.8 1307.1 379.5 1307.1 379.5 1307.7 379.9 1308.3 380.8 1308.9 382.0 1309.5 383.2 1310.1 384.1 1310.3 384.3 1310.7 384.6 1311.3 384.9 1311.9 385.2 1312.5 385.5 1313.1 385.7 1313.7 385.9 1314.3 386.2 1314.9 386.6 1315.1 386.7 1315.5 387.1 1316.1 387.8 1316.7 388.7 1317.3 389.7 1317.9 390.6 1318.5 391.4 1319.1 392.0 1319.7 392.2 1319.8 392.2 1320.3 392.2 1320.9 392.2 1321.5 392.2 1322.1 392.2 1322.7 392.2 1323.3 392.2 1323.9 392.2 1324.5 392.2 1325.1 392.2 1325.7 392.2 1326.2 392.2 1326.3 392.2 1326.9 392.2 1327.5 392.3 1328.1 392.3 1328.7 392.4 1329.3 392.5 1329.9 392.6 1330.5 392.7 1331.1 392.9 1331.7 393.0 1331.7 393.0 1332.3 393.5 1332.9 394.7 1333.5 396.3 1334.1 398.3 1334.7 400.3 1335.3 402.2 1335.9 403.9 1336.5 405.1 1337.1 405.7 1337.3 405.7 1337.7 405.6 1338.3 405.3 1338.9 404.8 1339.5 404.0 1340.1 403.2 1340.7 402.2 1341.3 401.2 1341.9 400.2 1342.5 399.3 1343.1 398.4 1343.7 397.8 1343.7 397.7 1344.3 397.0 1344.9 396.2 1345.5 395.4 1346.1 394.6 1346.7 393.9 1347.3 393.2 1347.9 392.7 1348.5 392.4 1349.1 392.2 1349.2 392.2 1349.7 392.5 1350.3 393.3 1350.9 394.3 1351.5 395.3 1352.1 396.1 1352.4 396.2 1352.7 396.3 1353.3 396.5 1353.9 396.7 1354.5 396.8 1355.1 396.9 1355.7 397.0 1356.3 397.0 1356.3 397.0 1356.9 396.9 1357.5 396.7 1358.1 396.3 1358.7 395.9 1359.3 395.5 1359.9 395.1 1360.5 394.8 1361.1 394.6 1361.1 394.6 1361.7 394.5 1362.3 394.4 1362.9 394.3 1363.5 394.2 1364.1 394.1 1364.7 394.0 1365.3 393.9 1365.9 393.8 1365.9 393.8 1366.5 393.6 1367.1 393.4 1367.7 393.2 1368.3 392.9 1368.9 392.7 1369.5 392.3 1370.1 392.0 1370.7 391.6 1371.3 391.3 1371.9 390.8 1372.2 390.6 1372.5 390.4 1373.1 389.6 1373.7 388.7 1374.3 387.7 1374.9 386.8 1375.5 386.2 1376.1 385.9 1376.2 385.9 1376.7 386.6 1377.3 388.6 1377.9 391.1 1378.5 393.6 1379.1 395.2 1379.4 395.4 1379.7 395.6 1380.3 395.8 1380.9 396.0 1381.5 396.2 1382.1 396.4 1382.7 396.6 1383.3 396.7 1383.9 396.8 1384.5 396.9 1385.1 396.9 1385.7 397.0 1386.3 397.0 1386.5 397.0 1386.9 396.9 1387.5 396.6 1388.1 396.2 1388.7 395.6 1389.3 395.0 1389.9 394.3 1390.5 393.7 1391.1 393.1 1391.7 392.6 1392.3 392.3 1392.9 392.2 1392.9 392.2 1393.5 392.2 1394.1 392.2 1394.7 392.2 1395.3 392.2 1395.9 392.2 1396.5 392.2 1397.1 392.2 1397.7 392.2 1398.3 392.2 1398.9 392.2 1399.5 392.2 1400.1 392.2 1400.7 392.2 1400.8 392.2 1401.3 391.1 1401.9 388.0 1402.5 384.3 1403.1 381.3 1403.7 380.3 1403.7 380.3 1404.3 381.4 1404.9 383.5 1405.5 385.9 1406.1 387.8 1406.3 388.3 1406.7 388.8 1407.3 389.7 1407.9 390.5 1408.5 391.2 1409.1 391.8 1409.7 392.1 1410.3 392.2 1410.3 392.2 1410.9 392.1 1411.5 391.8 1412.1 391.4 1412.7 390.9 1413.3 390.4 1413.9 389.9 1414.5 389.5 1415.1 389.2 1415.7 389.1 1415.9 389.0 1416.3 389.9 1416.9 392.8 1417.5 396.7 1418.1 400.5 1418.7 403.0 1419.0 403.3 1419.3 403.3 1419.9 402.9 1420.5 402.3 1421.1 401.4 1421.7 400.5 1422.3 399.5 1422.9 398.7 1423.0 398.6 1423.5 397.9 1424.1 397.3 1424.7 396.6 1425.3 395.9 1425.9 395.2 1426.5 394.4 1427.1 393.4 1427.7 392.3 1427.8 392.2 1428.3 390.5 1428.9 387.7 1429.5 384.8 1430.1 382.6 1430.6 381.9 1430.7 382.0 1431.3 384.6 1431.9 388.6 1432.5 390.6 1432.5 390.6 1433.1 389.0 1433.7 385.4 1434.3 381.9 1434.9 380.3 1434.9 380.3 1435.5 381.6 1436.1 384.4 1436.7 387.1 1437.3 388.3 1437.3 388.2 1437.9 386.6 1438.5 382.8 1439.1 377.7 1439.7 372.4 1440.3 367.8 1440.9 364.9 1441.3 364.4 1441.5 364.8 1442.1 367.9 1442.7 372.9 1443.3 378.2 1443.9 382.2 1444.4 383.5 1444.5 383.5 1445.1 382.5 1445.7 380.5 1446.3 377.9 1446.9 375.3 1447.5 373.1 1448.1 371.8 1448.4 371.6 1448.7 371.7 1449.3 372.1 1449.9 372.7 1450.5 373.1 1450.8 373.2 1451.1 372.8 1451.7 370.7 1452.3 367.4 1452.9 363.5 1453.2 362.1 1453.5 359.2 1454.1 352.7 1454.7 345.7 1455.3 340.2 1455.9 338.3 1455.9 338.3 1456.5 344.8 1457.1 356.6 1457.7 366.7 1457.9 368.4 1458.3 370.6 1458.9 373.4 1459.5 375.7 1460.1 377.4 1460.7 378.8 1461.1 379.5 1461.3 379.9 1461.9 380.7 1462.4 381.1" fill="none" stroke="#ff7f0e" stroke-width="2.08" stroke-linejoin="round" stroke-linecap="butt"/>
</g>
<path d="M116.5 518.5v5.2M284.5 518.5v5.2M452.5 518.5v5.2M621.5 518.5v5.2M789.5 518.5v5.2M957.5 518.5v5.2M1126.5 518.5v5.2M1294.5 518.5v5.2M116.5 458.5h-5.2M116.5 393.5h-5.2M116.5 327.5h-5.2M116.5 261.5h-5.2M116.5 196.5h-5.2M116.5 130.5h-5.2M116.5 65.5h-5.2" stroke="#000" stroke-width="1.1" fill="none"/>
<rect x="116.5" y="38.5" width="1346.0" height="480.0" fill="none" stroke="#000" stroke-width="1.1"/>
<rect x="1047.6" y="48.7" width="406" height="79.6" rx="3.5" fill="#fff" fill-opacity="0.8" stroke="#ccc" stroke-opacity="0.8" stroke-width="1.1"/>
<circle cx="1073.5" cy="63.5" r="2.85" fill="#1f77b4"/>
<path d="M1053 101.8H1092.1" stroke="#ff7f0e" stroke-width="2.1"/>
<text class="lg" x="1106.1" y="68.5">Raw Data</text>
<text class="lg" x="1106.1" y="96.2">Butterworth Filtered Data</text>
<text class="lg" x="1106.1" y="116.9">(N=6, Tc=3.3333 min, Type: low)</text>
<rect x="116.5" y="575.5" width="1346.0" height="479.0" fill="#fff"/>
<rect x="800.0" y="575.5" width="568.0" height="479.0" fill="#e8e8e8"/>
<path d="M800.5 575.5V1054.5M1367.5 575.5V1054.5" stroke="#e0e0e0" stroke-width="1" fill="none"/>
<path d="M284.5 575.5V1054.5M452.5 575.5V1054.5M621.5 575.5V1054.5M789.5 575.5V1054.5M957.5 575.5V1054.5M1126.5 575.5V1054.5M1294.5 575.5V1054.5M116.5 1035.5H1462.5M116.5 972.5H1462.5M116.5 909.5H1462.5M116.5 846.5H1462.5M116.5 783.5H1462.5M116.5 720.5H1462.5M116.5 657.5H1462.5M116.5 594.5H1462.5" stroke="#b0b0b0" stroke-width="1.1" stroke-dasharray="1.1 1.83" fill="none"/>
<g clip-path="url(#cb)"><path d="M693.9 1031.6 693.9 1033.1 694.6 1034.6 697.1 1035.6 702.4 1035.4 703.6 1034.9 704.6 1033.1 704.6 1031.6 703.9 1030.1 701.4 1029.1 696.1 1029.4 694.9 1029.9ZM566.6 1029.1 564.1 1030.1 563.4 1031.6 563.4 1033.1 564.4 1034.9 567.1 1035.6 569.6 1034.6 570.4 1033.1 570.4 1031.6 569.4 1029.9ZM690.6 1031.4 689.6 1029.6 687.4 1028.9 684.6 1029.9 682.1 1029.1 679.6 1029.9 676.6 1029.1 674.1 1030.1 673.4 1031.6 673.4 1033.1 674.4 1034.9 676.6 1035.6 679.1 1034.9 682.1 1035.6 684.6 1034.6 687.4 1035.4 689.9 1034.4 690.6 1032.9ZM740.9 1029.6 740.1 1031.1 740.1 1032.6 741.1 1034.4 744.6 1035.1 747.1 1034.1 747.9 1032.6 747.9 1031.1 746.9 1029.4 743.4 1028.6ZM728.1 1029.9 727.4 1031.4 727.4 1032.9 728.9 1034.9 730.6 1035.4 734.1 1035.1 735.4 1034.6 736.4 1032.9 736.4 1031.4 734.9 1029.4 731.4 1028.6ZM597.4 1031.1 596.4 1029.4 594.1 1028.6 591.6 1029.1 588.6 1028.6 586.1 1029.4 577.6 1028.9 575.1 1029.9 574.4 1031.4 574.4 1032.9 575.4 1034.6 577.6 1035.4 584.4 1035.6 585.6 1035.1 590.1 1035.1 592.6 1035.6 596.4 1034.4 597.4 1032.6ZM805.9 1031.1 804.9 1029.4 802.6 1028.6 800.6 1028.9 798.9 1028.4 796.4 1029.4 794.4 1028.6 789.9 1029.6 789.1 1030.9 788.1 1029.6 785.9 1028.9 783.4 1029.4 779.6 1028.9 777.1 1029.9 776.4 1031.4 776.4 1032.9 777.4 1034.6 779.6 1035.4 783.1 1034.9 785.9 1035.4 788.1 1034.6 788.9 1033.4 790.1 1034.9 792.4 1035.6 796.9 1034.1 798.9 1034.9 800.6 1034.6 802.6 1035.1 805.1 1034.1 805.9 1032.6ZM672.4 1030.9 671.4 1029.1 669.1 1028.4 665.9 1028.9 664.6 1030.4 663.4 1029.4 661.4 1028.9 659.1 1029.6 658.4 1030.9 657.4 1029.6 655.1 1028.9 652.4 1029.1 650.6 1030.4 649.9 1029.1 647.6 1028.4 646.4 1028.9 640.9 1028.6 638.6 1029.4 637.6 1031.1 636.6 1029.9 634.4 1029.1 628.1 1029.9 625.6 1028.9 623.9 1028.9 621.4 1029.9 620.6 1031.4 620.6 1032.9 622.1 1034.9 625.6 1035.6 627.4 1035.1 629.4 1035.9 635.4 1035.4 636.6 1034.9 637.6 1033.1 638.6 1034.4 640.9 1035.1 647.6 1034.9 649.9 1034.1 650.4 1033.4 651.6 1034.9 655.1 1035.4 657.4 1034.6 658.4 1033.4 659.1 1034.6 661.6 1035.4 663.9 1034.6 664.6 1033.4 667.6 1034.9 670.9 1034.4 672.4 1032.4ZM528.6 1031.1 528.6 1032.6 529.4 1034.1 532.4 1035.4 535.1 1034.6 537.9 1035.4 541.4 1034.4 542.6 1033.1 543.4 1034.4 544.6 1034.9 548.1 1034.9 550.4 1034.1 551.4 1032.4 551.4 1030.9 550.6 1029.4 548.1 1028.4 543.9 1029.1 542.6 1030.4 541.9 1029.1 539.6 1028.4 536.9 1028.9 532.9 1028.4 529.6 1029.4ZM754.1 1030.6 754.1 1032.1 755.1 1033.9 760.4 1035.4 766.4 1034.6 767.9 1032.6 767.9 1031.1 767.1 1029.6 763.6 1028.4 760.6 1028.9 757.4 1028.1 755.1 1028.9ZM714.1 1028.1 711.6 1029.1 710.9 1030.6 710.9 1032.1 711.9 1033.9 714.4 1034.6 716.9 1033.6 717.6 1032.1 717.6 1030.6 716.6 1028.9ZM526.1 1031.1 525.1 1029.4 521.4 1028.4 519.6 1028.9 516.6 1028.1 511.9 1029.1 510.9 1030.1 508.1 1028.9 505.4 1029.6 502.4 1028.6 499.9 1029.6 499.1 1031.1 499.1 1032.6 500.4 1034.6 502.6 1035.4 505.4 1034.6 508.1 1035.4 510.4 1034.6 510.9 1033.9 513.6 1035.1 518.9 1034.1 522.9 1035.1 525.4 1034.1 526.1 1032.6ZM493.4 1031.4 492.6 1029.9 491.1 1029.1 486.9 1028.4 484.1 1028.9 481.6 1027.9 478.4 1028.6 474.9 1028.4 473.6 1028.9 472.9 1030.1 472.4 1029.4 470.1 1028.6 468.1 1029.1 466.9 1030.1 466.4 1029.4 464.1 1028.6 461.4 1029.1 459.1 1028.4 456.6 1029.4 455.4 1029.1 453.1 1029.9 452.1 1031.6 452.1 1033.1 453.1 1034.9 455.4 1035.6 461.4 1034.6 464.1 1035.1 466.4 1034.4 466.9 1033.6 468.1 1034.6 470.1 1035.1 472.4 1034.4 473.1 1033.1 473.6 1033.9 475.9 1034.6 478.9 1033.9 480.9 1034.6 483.4 1034.1 486.6 1035.4 490.1 1035.4 492.6 1034.4 493.4 1032.9ZM336.4 1030.1 336.4 1031.6 337.1 1033.1 340.1 1034.4 343.9 1034.1 345.6 1032.9 346.1 1033.6 348.4 1034.4 354.1 1034.6 356.1 1034.1 359.4 1035.1 360.6 1034.6 369.6 1035.1 371.9 1034.4 373.1 1032.9 376.1 1033.9 377.9 1033.9 381.4 1032.9 382.4 1031.1 382.4 1029.6 381.6 1028.1 379.1 1027.1 375.1 1027.1 372.9 1027.9 372.4 1028.6 370.4 1027.9 363.9 1027.9 360.1 1028.6 356.1 1027.4 352.1 1028.1 349.4 1027.1 347.1 1027.9 345.6 1029.4 344.4 1027.9 341.6 1027.1 337.4 1028.4ZM435.4 1029.6 434.4 1027.9 432.1 1027.1 430.9 1027.4 429.1 1026.9 425.9 1028.1 423.4 1027.1 420.6 1027.1 418.1 1028.1 417.4 1029.6 417.4 1031.1 418.4 1032.9 420.6 1033.6 423.1 1033.9 425.9 1032.6 428.4 1033.6 432.1 1033.6 434.6 1032.6 435.4 1031.1ZM401.9 1029.6 400.9 1027.9 397.6 1026.9 394.4 1027.9 392.1 1027.1 389.4 1027.9 387.4 1027.4 384.9 1028.4 384.1 1029.9 384.1 1031.4 385.1 1033.1 387.4 1033.9 390.1 1033.1 392.1 1033.6 394.1 1032.9 396.4 1033.6 398.6 1033.6 401.1 1032.6 401.9 1031.1ZM1112.6 984.6 1109.1 986.1 1108.4 987.6 1108.4 989.1 1109.4 990.9 1112.9 992.1 1115.4 991.1 1116.1 989.6 1116.1 987.1 1115.1 985.4ZM1458.9 977.1 1456.4 978.1 1455.6 979.6 1455.6 981.6 1456.9 983.9 1459.1 984.6 1461.6 983.6 1462.4 982.1 1462.4 980.1 1461.1 977.9ZM1305.9 960.6 1303.4 959.6 1300.9 960.4 1299.1 959.9 1296.9 960.6 1295.9 962.4 1295.9 964.9 1296.6 966.4 1303.4 968.6 1305.6 967.9 1306.6 966.1 1306.6 962.1ZM953.1 946.6 950.6 947.6 949.9 949.1 949.9 950.6 951.1 953.4 953.6 954.1 957.1 952.9 958.1 951.1 958.1 949.6 957.1 947.9ZM940.4 938.6 937.6 939.9 936.9 941.4 936.9 943.1 938.4 945.4 940.6 946.1 943.1 945.1 943.9 943.6 943.9 942.1 942.9 939.6ZM977.4 934.4 976.4 936.1 976.4 937.6 977.4 939.4 981.6 940.6 980.9 943.1 980.9 944.9 981.6 946.4 984.1 947.4 986.9 946.6 987.9 944.9 988.4 939.9 987.6 938.4 985.6 937.6 984.6 935.1 983.4 934.1 979.6 933.6ZM1462.4 995.9 1461.6 994.4 1460.1 993.6 1461.9 991.4 1461.9 989.6 1460.9 987.9 1458.6 987.1 1456.4 987.9 1455.4 989.6 1455.4 991.4 1456.1 992.9 1457.6 993.6 1455.4 995.4 1452.9 993.9 1451.1 993.9 1449.9 992.9 1449.4 989.6 1449.6 987.4 1448.9 985.9 1449.6 982.1 1448.6 979.9 1447.4 978.6 1449.6 975.4 1449.6 973.4 1448.9 971.9 1447.4 970.6 1446.9 968.9 1448.4 965.9 1448.4 964.4 1447.4 961.9 1449.1 959.4 1448.9 955.4 1448.1 953.9 1446.1 952.4 1446.1 951.6 1448.6 950.1 1449.6 948.4 1449.6 945.4 1448.9 943.9 1443.4 941.6 1441.1 942.4 1439.6 943.6 1437.6 943.1 1435.4 943.9 1434.4 945.6 1434.4 946.9 1433.1 947.9 1432.1 947.6 1430.4 945.9 1431.4 943.6 1431.4 934.6 1430.1 930.1 1427.9 928.6 1428.6 924.9 1427.4 922.9 1427.4 920.6 1428.6 918.1 1428.6 916.6 1427.1 913.6 1427.4 906.1 1426.6 904.6 1425.1 903.4 1425.9 901.4 1425.6 896.4 1423.6 893.4 1423.9 889.9 1422.9 888.1 1420.6 887.4 1418.1 888.4 1417.4 889.9 1417.1 894.4 1417.9 895.6 1417.4 904.9 1419.9 908.4 1418.4 909.6 1416.9 909.4 1415.9 905.6 1412.6 904.4 1410.1 905.1 1409.1 906.9 1408.9 909.6 1409.6 911.1 1413.6 912.4 1413.6 913.6 1414.6 915.4 1414.4 918.1 1416.1 921.1 1414.1 922.4 1412.4 921.9 1410.1 922.4 1408.6 924.4 1408.1 928.6 1408.9 930.1 1411.4 931.1 1413.9 930.4 1415.1 931.9 1413.4 933.1 1411.9 932.6 1409.6 933.4 1408.4 935.6 1408.6 939.6 1409.4 941.1 1410.9 941.9 1408.6 942.6 1407.6 944.4 1407.6 945.9 1408.6 947.6 1407.1 948.9 1405.9 947.9 1406.6 944.4 1405.1 941.4 1404.9 938.4 1404.1 936.9 1404.9 934.6 1404.9 928.9 1402.4 924.4 1403.4 922.6 1403.4 920.4 1402.6 918.9 1400.4 916.6 1400.6 912.6 1403.1 911.1 1404.1 909.4 1404.1 906.6 1403.1 904.9 1399.9 903.4 1396.4 905.1 1394.1 904.6 1391.9 905.4 1390.4 907.9 1390.4 916.1 1391.6 918.6 1391.1 919.9 1389.9 920.4 1388.9 922.1 1389.4 924.4 1388.6 926.4 1388.6 928.9 1389.1 929.9 1388.6 944.4 1387.4 945.4 1385.1 943.6 1385.1 933.4 1384.4 931.4 1385.1 929.9 1385.4 926.4 1383.9 924.4 1382.1 923.9 1379.1 924.6 1378.1 925.4 1377.4 926.9 1377.4 931.6 1377.9 933.1 1376.4 935.4 1374.6 935.9 1371.1 934.1 1368.1 935.4 1365.6 935.6 1363.4 937.6 1361.6 936.6 1360.9 934.9 1361.6 932.1 1361.1 923.9 1359.9 921.1 1359.9 917.6 1360.4 916.6 1360.1 912.9 1361.4 910.6 1361.4 906.1 1360.4 904.4 1360.4 901.9 1359.4 900.1 1355.9 899.1 1354.1 899.4 1352.6 900.1 1351.6 902.1 1352.1 905.4 1351.9 908.6 1352.6 910.9 1349.9 913.9 1348.6 912.9 1348.6 911.1 1347.9 909.6 1345.4 908.6 1341.4 909.1 1339.9 911.1 1339.9 913.1 1338.9 914.9 1338.9 920.4 1339.9 922.1 1340.1 923.9 1338.9 926.1 1338.9 927.6 1340.4 932.4 1339.9 934.4 1338.4 936.6 1338.4 939.6 1335.4 940.6 1334.4 942.4 1334.4 944.1 1335.1 945.6 1334.6 947.1 1335.1 951.4 1334.6 954.9 1335.4 956.9 1334.6 958.9 1334.9 965.1 1333.4 969.1 1332.1 970.4 1330.1 971.1 1329.1 974.6 1327.9 976.4 1326.4 974.4 1326.1 972.4 1328.1 971.1 1329.1 969.4 1329.4 966.4 1328.9 963.1 1328.1 961.6 1326.1 960.1 1325.9 957.9 1324.9 956.1 1322.6 955.4 1320.4 956.1 1319.4 957.9 1319.4 966.1 1318.9 967.1 1318.9 971.9 1319.4 972.9 1318.9 982.4 1317.9 983.6 1317.1 983.9 1314.6 983.1 1313.4 982.1 1313.4 977.1 1311.6 974.9 1309.9 974.4 1307.6 975.1 1305.6 973.1 1303.4 972.4 1301.1 973.1 1299.6 975.4 1298.4 975.4 1296.9 974.1 1298.1 973.4 1298.9 971.9 1298.9 969.9 1297.9 968.1 1295.6 967.4 1293.4 968.1 1292.4 969.9 1292.4 971.9 1293.9 973.9 1292.6 974.6 1291.6 977.9 1288.9 982.6 1288.9 984.4 1289.9 986.1 1288.6 987.6 1287.4 986.6 1288.1 982.9 1286.6 980.1 1285.1 978.9 1283.4 978.4 1280.9 979.4 1279.9 981.6 1280.4 984.6 1280.1 988.1 1278.9 989.1 1277.6 988.1 1276.9 982.4 1275.9 980.6 1273.6 979.9 1272.6 980.1 1268.4 982.9 1266.6 981.4 1267.1 978.4 1266.1 976.6 1263.9 975.9 1261.4 976.6 1254.9 974.4 1252.4 975.4 1251.1 979.1 1251.1 981.9 1250.1 982.9 1248.1 983.6 1247.4 985.1 1247.1 988.6 1245.9 990.9 1245.9 991.9 1244.6 992.9 1242.4 990.6 1243.1 986.6 1242.1 984.6 1243.1 982.9 1243.4 979.6 1242.4 977.9 1238.6 976.9 1236.4 977.6 1235.4 979.4 1235.4 981.1 1237.4 984.1 1236.1 985.6 1233.9 986.9 1232.1 985.1 1229.9 984.4 1227.1 985.4 1226.4 986.9 1227.1 993.9 1225.9 994.9 1223.9 993.9 1223.9 989.4 1222.9 987.6 1220.6 986.9 1219.6 987.1 1216.1 985.4 1213.9 986.1 1212.4 988.4 1212.4 990.6 1211.1 991.6 1209.1 992.1 1207.9 994.1 1207.9 998.4 1208.4 999.9 1199.9 1005.6 1198.6 1004.6 1197.9 995.1 1196.9 993.4 1194.4 991.9 1194.4 985.6 1193.4 983.9 1191.1 983.1 1188.6 983.9 1187.6 985.6 1187.9 991.4 1186.6 992.4 1185.1 992.1 1183.6 990.9 1182.1 987.6 1181.1 986.9 1179.1 986.4 1173.9 987.4 1172.1 986.4 1170.9 985.1 1170.1 982.9 1169.9 980.4 1170.4 977.6 1169.4 975.9 1167.1 975.1 1164.4 976.4 1163.6 977.9 1163.9 980.9 1162.6 982.4 1159.9 982.9 1158.1 984.6 1155.4 985.6 1154.6 987.1 1154.9 996.1 1153.6 997.1 1152.4 996.1 1152.6 992.1 1152.4 989.4 1151.6 987.9 1149.1 986.9 1144.4 986.6 1142.6 987.6 1141.9 989.1 1141.9 990.6 1137.4 996.4 1137.4 1002.1 1135.6 1003.4 1133.6 1002.6 1132.6 1001.6 1132.6 995.9 1131.6 994.1 1131.4 986.1 1131.9 983.6 1130.6 981.6 1131.6 979.4 1130.9 975.9 1131.6 974.4 1131.4 970.1 1131.9 964.6 1129.1 961.1 1126.9 960.4 1124.4 961.4 1119.1 968.4 1119.1 980.6 1119.6 982.4 1119.1 992.4 1118.4 993.1 1117.4 993.4 1115.1 992.6 1113.1 993.1 1110.6 996.1 1109.1 996.4 1105.9 998.1 1104.4 996.9 1104.1 994.9 1104.6 990.9 1103.9 989.4 1104.4 987.6 1104.1 983.9 1104.6 982.9 1104.4 979.1 1102.9 977.1 1097.1 976.1 1093.1 977.9 1092.1 979.6 1092.1 986.1 1089.6 989.9 1089.9 994.9 1089.1 995.6 1085.6 994.9 1083.4 995.6 1081.6 997.4 1079.6 997.4 1077.1 998.9 1073.4 998.9 1072.4 997.9 1072.4 993.6 1070.9 991.4 1071.1 986.9 1070.4 985.1 1070.4 981.9 1069.4 980.1 1065.9 978.9 1063.6 979.6 1062.6 981.4 1062.9 987.1 1063.4 988.1 1062.6 990.1 1063.1 993.1 1060.9 994.6 1059.6 993.6 1059.1 992.4 1059.4 986.1 1058.6 983.4 1059.4 981.4 1059.4 977.6 1058.6 975.4 1059.1 969.9 1058.4 968.4 1056.6 966.9 1056.6 965.9 1054.9 963.4 1055.6 962.1 1058.6 960.9 1059.4 959.4 1059.4 957.6 1058.6 956.1 1056.9 955.4 1055.4 953.1 1053.4 951.4 1054.9 949.1 1054.9 946.9 1053.9 944.9 1050.9 943.9 1048.6 944.6 1047.6 946.4 1047.9 949.6 1049.1 951.6 1047.4 955.4 1047.4 964.6 1047.9 966.1 1047.1 968.1 1044.6 969.9 1043.9 971.4 1043.9 973.9 1042.1 975.1 1040.9 974.1 1040.9 973.1 1042.4 970.9 1042.4 969.4 1041.4 967.6 1039.6 967.1 1038.6 966.1 1040.1 963.1 1040.1 961.4 1039.4 959.9 1034.6 958.4 1032.4 959.1 1031.4 961.1 1030.1 962.1 1028.1 960.4 1028.9 953.6 1028.4 949.9 1028.9 948.9 1029.1 940.4 1027.4 937.9 1028.1 934.1 1027.1 932.4 1024.9 931.6 1022.4 932.6 1021.6 934.1 1021.6 936.1 1020.6 937.1 1019.1 937.4 1017.4 935.9 1014.1 934.6 1011.9 935.4 1010.9 937.1 1010.9 942.9 1011.6 944.4 1013.1 945.4 1011.9 945.9 1010.9 947.6 1010.6 970.9 1009.1 972.1 1005.6 969.4 1003.4 968.6 1000.9 969.6 1000.1 971.1 999.9 974.4 999.1 975.1 996.4 974.9 995.6 974.1 995.4 972.4 995.6 965.6 994.1 963.4 994.1 961.9 993.4 960.4 990.9 959.4 988.9 959.4 987.6 957.9 987.6 956.1 986.9 954.6 986.1 954.1 983.4 953.9 979.9 955.9 977.9 953.9 975.6 953.1 973.4 953.9 971.9 956.4 971.9 958.9 973.4 961.1 972.4 963.6 972.4 965.1 973.4 966.9 975.6 967.6 974.1 968.4 972.1 971.1 968.4 972.1 966.1 978.4 966.4 980.6 965.1 981.6 963.6 980.6 963.1 978.6 963.6 970.1 962.9 968.6 962.6 965.6 961.6 963.9 959.1 963.1 957.6 961.6 957.6 959.6 956.9 958.1 953.9 956.1 951.1 956.4 949.1 958.9 944.4 960.6 943.6 962.1 943.9 967.1 942.4 968.4 940.4 966.9 939.6 964.9 936.6 963.9 932.6 964.9 931.1 967.1 931.1 968.9 932.4 970.9 932.4 971.9 931.1 972.9 929.6 971.6 929.9 968.1 928.4 965.9 927.6 963.1 925.1 962.1 921.6 963.9 921.1 963.6 919.6 961.1 917.4 958.9 917.6 956.4 916.4 954.4 916.4 952.6 915.6 951.1 913.1 950.1 911.9 950.4 910.6 949.4 911.9 946.9 911.9 945.1 910.4 939.9 910.6 937.4 909.4 935.4 909.4 930.9 908.6 929.4 906.1 928.4 904.9 928.6 903.4 928.1 900.6 929.1 899.9 931.9 897.6 934.9 897.9 937.4 896.9 939.1 896.9 940.9 897.9 942.6 900.1 943.4 901.9 942.9 903.4 944.1 903.4 944.9 902.1 945.9 898.6 944.4 895.6 945.6 891.9 941.4 891.9 939.1 890.9 936.9 891.1 931.9 890.4 930.4 887.9 928.6 887.9 923.4 888.6 919.1 887.6 917.4 882.6 915.6 880.1 916.6 879.4 918.1 879.1 928.9 879.9 932.4 879.1 939.1 879.9 940.9 879.6 948.4 878.4 950.4 878.6 959.1 879.1 960.1 878.6 961.9 878.6 970.6 879.1 972.4 878.9 975.9 878.1 978.1 878.4 994.6 877.6 999.6 877.6 1007.4 876.6 1009.1 875.9 1016.6 874.6 1017.6 873.1 1017.6 871.9 1016.6 871.9 1015.4 870.9 1013.6 868.1 1012.9 863.9 1014.4 859.6 1018.1 857.9 1020.6 856.6 1021.4 855.4 1020.4 855.4 1017.4 854.6 1015.9 851.9 1014.1 851.9 1008.4 849.9 1005.4 850.6 1002.6 850.6 1000.6 849.9 999.1 847.4 998.1 844.9 998.9 840.9 998.9 839.6 996.4 839.9 986.9 837.9 982.4 835.4 981.4 831.6 981.9 830.1 982.6 828.9 985.9 828.9 987.4 830.1 989.9 828.9 991.9 828.4 996.4 826.4 999.1 826.4 1007.4 825.9 1009.4 823.9 1012.4 823.9 1016.1 822.4 1018.4 822.1 1026.9 820.6 1028.6 817.9 1029.4 817.1 1030.6 816.6 1029.9 814.4 1029.1 811.6 1029.9 810.6 1031.6 810.6 1033.1 811.6 1034.9 813.9 1035.6 816.6 1034.9 817.4 1033.6 818.6 1034.9 821.4 1035.4 828.6 1032.6 832.1 1029.6 834.6 1031.6 840.4 1033.9 846.6 1032.9 850.6 1034.4 856.1 1032.9 859.9 1034.4 863.9 1033.9 865.4 1034.4 867.1 1033.9 874.6 1034.1 878.1 1033.1 880.4 1031.1 881.1 1029.6 881.1 1022.9 882.6 1021.6 885.4 1022.6 887.1 1022.1 889.6 1020.6 890.4 1018.4 891.6 1017.4 896.1 1018.4 899.6 1016.9 902.1 1018.1 905.4 1018.6 907.4 1020.9 912.1 1022.9 913.9 1022.9 917.4 1024.6 919.1 1024.1 920.6 1024.6 922.9 1023.9 925.1 1021.6 925.9 1019.4 927.6 1017.9 928.9 1018.9 928.9 1020.4 929.6 1021.9 932.4 1022.9 933.9 1024.1 936.4 1024.9 939.1 1024.1 940.9 1025.4 946.1 1026.4 947.6 1025.9 952.4 1027.1 955.6 1026.4 958.4 1026.9 961.4 1025.6 962.6 1025.6 966.1 1027.4 970.1 1025.4 973.4 1025.6 975.1 1025.1 976.9 1025.6 979.6 1024.6 982.4 1021.6 985.6 1024.4 986.6 1026.4 988.9 1027.1 991.1 1026.4 992.6 1025.1 994.4 1025.6 996.6 1024.9 998.9 1025.6 1001.1 1024.9 1002.6 1025.4 1005.9 1025.1 1009.6 1023.4 1011.4 1023.6 1013.1 1023.1 1014.6 1021.9 1016.9 1021.9 1020.4 1020.6 1022.9 1020.6 1026.1 1018.9 1028.4 1019.6 1030.4 1019.1 1032.4 1020.6 1036.4 1021.6 1038.4 1023.9 1045.4 1027.4 1049.9 1026.4 1052.6 1023.6 1054.9 1023.6 1057.6 1024.6 1060.4 1024.4 1063.9 1026.9 1066.1 1027.6 1073.4 1025.9 1075.4 1027.9 1077.6 1028.6 1081.4 1027.4 1087.1 1028.9 1095.1 1028.1 1098.4 1029.6 1100.1 1029.1 1103.4 1030.1 1107.9 1028.4 1110.9 1029.4 1114.9 1028.6 1118.4 1028.9 1123.4 1026.6 1126.9 1028.1 1128.9 1027.6 1132.4 1028.1 1138.9 1026.6 1141.4 1024.4 1143.6 1026.4 1150.9 1027.4 1154.1 1026.1 1156.9 1027.1 1162.4 1024.9 1166.4 1027.4 1168.6 1028.1 1172.6 1027.1 1174.4 1027.6 1177.1 1027.1 1180.6 1028.1 1183.9 1027.1 1186.4 1028.9 1188.6 1029.6 1190.9 1028.9 1194.9 1030.4 1198.6 1029.6 1201.6 1030.6 1203.9 1029.9 1206.9 1027.6 1209.9 1028.4 1216.9 1025.4 1219.1 1026.1 1221.4 1025.6 1224.1 1026.6 1227.4 1025.1 1232.1 1026.9 1234.4 1026.1 1237.4 1023.9 1239.6 1025.1 1244.1 1025.9 1259.6 1020.9 1261.6 1021.9 1264.1 1024.4 1265.9 1024.9 1267.1 1024.6 1268.6 1025.9 1272.1 1027.1 1275.1 1026.4 1278.4 1027.6 1281.6 1026.4 1284.6 1027.4 1286.4 1026.9 1289.4 1023.6 1290.9 1022.9 1292.9 1024.4 1295.1 1024.9 1299.1 1024.4 1302.1 1022.6 1306.4 1025.1 1311.9 1025.6 1318.4 1023.6 1321.6 1020.6 1324.6 1023.6 1331.6 1024.9 1334.1 1023.9 1335.9 1020.9 1336.4 1017.4 1337.6 1016.4 1342.1 1019.6 1343.9 1020.1 1346.4 1019.6 1352.1 1020.9 1354.1 1023.1 1356.9 1024.1 1361.9 1021.6 1364.4 1017.6 1364.9 1014.9 1369.6 1009.4 1370.6 1009.1 1372.6 1011.1 1371.4 1013.9 1371.4 1015.4 1372.9 1017.4 1375.1 1017.9 1377.4 1017.1 1380.6 1017.9 1382.4 1019.1 1384.4 1019.4 1390.9 1022.4 1393.4 1021.6 1395.4 1018.9 1397.4 1018.1 1401.4 1019.6 1405.6 1022.4 1407.6 1022.9 1411.6 1021.6 1414.1 1019.1 1414.9 1017.6 1414.9 1015.9 1417.4 1014.4 1418.6 1012.4 1418.6 1008.1 1420.6 1006.4 1425.4 1010.4 1426.1 1012.9 1428.6 1014.6 1428.4 1016.9 1429.1 1018.4 1430.4 1019.4 1433.6 1020.6 1436.4 1020.6 1439.1 1019.6 1442.4 1021.1 1445.9 1019.4 1447.4 1019.9 1449.1 1019.6 1451.1 1021.4 1453.1 1025.1 1456.1 1026.6 1458.4 1025.9 1462.1 1021.1 1462.1 1017.4 1462.9 1015.6 1462.9 1006.9 1462.1 1005.1 1462.6 1002.6 1462.1 1000.1ZM1327.9 979.1 1329.4 980.9 1329.4 981.6 1328.1 982.6 1326.6 981.4ZM981.1 962.9 982.1 963.4 983.1 964.9 982.1 966.6 982.1 968.4 980.1 969.6 978.6 968.4 976.4 967.6 978.1 966.6 978.9 964.1 979.9 963.1ZM1015.4 945.4 1017.6 944.1 1019.6 945.9 1019.6 946.6 1018.4 947.6ZM1375.4 943.1 1376.6 944.1 1376.6 944.9 1374.4 946.4 1373.1 944.9 1374.1 943.4ZM1414.6 941.1 1415.6 941.1 1416.9 942.1 1415.4 944.9 1415.4 946.4 1416.6 949.1 1415.1 950.9 1413.4 948.9 1414.9 946.6 1414.9 945.1 1414.1 943.6 1411.9 942.1ZM1342.9 941.4 1344.4 941.4 1345.4 943.1 1344.1 944.1 1342.6 943.1ZM1396.4 923.1 1398.1 924.6 1396.1 926.1 1394.6 924.9 1395.1 923.9ZM1393.6 884.4 1390.9 885.6 1390.1 887.1 1390.1 888.6 1392.4 892.6 1394.9 893.6 1399.4 891.4 1400.4 889.6 1400.4 888.1 1399.1 885.6ZM885.4 882.1 881.1 883.4 878.9 889.6 878.9 892.1 879.9 893.9 879.9 899.1 879.1 900.6 879.1 904.9 880.4 907.6 882.9 908.6 887.6 907.1 888.6 905.4 888.1 902.1 888.6 900.4 888.1 890.9 888.9 889.4 888.9 886.4 887.9 883.1ZM887.9 869.1 885.4 868.1 880.4 869.1 879.4 870.9 879.4 872.9 880.1 874.4 884.4 875.6 887.1 874.9 888.6 872.1 888.6 870.6ZM304.1 903.6 301.4 901.1 299.1 900.4 296.6 901.4 295.9 902.9 296.4 906.4 294.6 908.9 294.6 910.6 296.9 913.9 295.4 915.1 293.6 914.6 291.4 915.4 290.4 917.1 290.4 918.6 289.1 920.6 289.1 922.1 290.4 924.1 289.4 928.1 289.1 933.4 290.4 936.1 289.4 938.6 289.4 940.9 290.1 942.9 288.6 945.1 288.9 954.1 289.4 955.1 288.9 956.9 287.4 958.1 285.9 957.1 285.1 955.1 285.6 953.6 285.9 947.1 282.4 942.6 282.4 940.6 281.6 939.1 279.1 938.1 274.9 939.1 273.9 940.9 273.6 944.6 274.6 946.9 272.4 948.4 271.1 950.4 271.6 958.1 271.1 959.1 271.4 963.6 270.6 969.9 268.6 972.6 268.6 977.6 267.6 978.6 265.4 979.4 263.4 977.4 263.9 973.9 263.1 968.9 263.6 967.4 263.6 961.6 262.9 955.9 263.1 952.6 262.4 951.1 259.9 949.4 260.1 945.1 259.4 943.6 259.4 942.1 259.9 941.1 259.6 937.9 260.1 936.9 260.4 926.6 259.1 924.6 257.1 924.1 255.9 923.1 255.9 921.1 254.1 917.4 255.9 912.1 255.4 907.4 255.6 901.1 254.4 897.1 252.6 895.6 254.9 892.6 254.6 888.1 255.9 885.6 255.9 883.1 254.9 881.4 252.9 880.6 255.6 875.6 255.6 873.6 254.9 872.1 255.4 869.1 254.4 867.4 252.1 866.6 246.6 868.9 245.9 870.4 245.9 872.1 244.9 873.1 242.9 877.4 239.6 876.4 237.1 877.1 235.9 879.9 236.1 883.1 235.6 884.1 236.1 890.1 237.4 892.1 235.6 896.6 235.6 899.6 236.4 901.1 235.9 908.4 236.6 909.9 239.1 912.1 239.4 913.1 238.1 914.1 235.4 914.6 234.4 916.4 234.4 918.9 234.9 919.9 234.6 922.6 235.6 924.4 234.9 926.4 234.9 927.9 235.6 929.4 235.4 932.9 236.1 934.4 237.9 935.9 237.9 936.9 235.9 939.6 236.4 943.4 234.6 945.9 234.6 952.9 232.9 954.1 231.9 954.1 230.6 953.1 231.1 951.6 230.9 944.9 231.4 942.1 231.1 939.9 230.1 938.1 227.4 937.4 222.6 938.6 219.6 937.4 217.4 938.1 215.9 939.9 213.4 940.6 212.4 942.4 212.4 944.1 211.1 946.1 208.9 947.6 207.6 949.6 207.6 956.6 208.4 958.1 207.9 961.4 208.9 963.1 207.9 965.4 207.9 966.9 209.1 968.9 207.9 971.4 207.9 972.9 209.4 975.6 207.6 976.9 205.9 975.9 207.1 973.1 207.1 971.6 205.6 968.6 206.4 965.1 205.4 963.4 204.1 958.6 201.6 957.6 200.4 957.9 198.9 957.4 195.9 958.4 195.1 959.9 195.4 962.4 194.9 963.4 195.1 967.9 194.6 970.9 195.1 973.6 194.4 975.1 194.4 976.6 193.1 978.6 193.4 989.1 191.9 991.4 191.9 1004.6 190.1 1005.9 188.9 1004.9 188.9 1002.6 186.9 998.4 186.6 993.1 185.1 989.1 186.1 986.9 186.4 983.6 185.1 979.6 185.6 975.9 184.4 973.9 182.1 973.1 177.9 974.9 176.9 978.4 176.9 980.6 177.6 982.6 176.9 983.4 174.6 983.4 173.6 982.4 171.4 981.6 169.1 982.4 168.1 984.1 168.1 991.6 166.4 993.4 165.1 992.4 165.4 987.1 164.1 985.1 161.6 983.6 161.6 974.6 159.9 968.1 160.4 965.1 158.4 962.4 158.4 959.4 159.9 957.1 158.6 951.6 157.6 949.9 155.4 949.1 153.1 949.9 151.1 953.1 149.4 954.4 148.1 953.4 148.1 951.4 146.6 949.1 146.6 947.6 148.1 945.4 147.9 940.4 148.4 939.4 148.4 937.9 147.1 935.6 147.6 921.6 146.4 919.6 143.9 918.9 138.4 921.6 137.1 921.4 134.9 922.1 134.4 923.1 130.9 926.1 130.1 927.6 130.4 935.4 129.4 937.6 129.4 951.9 128.9 953.9 129.1 967.1 129.9 969.6 127.6 971.4 126.9 972.9 127.4 990.6 126.6 994.9 127.1 995.9 126.9 998.9 127.6 1000.4 126.9 1002.4 127.1 1006.4 125.6 1007.6 123.4 1005.1 121.1 1004.4 118.6 1005.4 116.9 1008.9 116.6 1012.9 114.9 1015.4 114.6 1023.1 114.9 1025.6 115.6 1027.1 118.1 1028.9 119.4 1029.1 121.1 1028.6 126.1 1029.9 129.6 1028.6 133.1 1029.9 137.1 1028.4 140.6 1029.9 143.9 1029.6 147.6 1030.4 150.9 1029.6 153.1 1030.4 156.6 1030.4 158.9 1029.6 159.9 1028.6 162.4 1027.9 164.9 1027.9 167.4 1029.1 171.4 1029.9 174.4 1028.9 176.6 1029.6 178.6 1029.4 181.4 1030.4 184.1 1029.4 186.9 1030.4 190.6 1029.4 192.9 1030.1 195.6 1029.4 199.1 1030.6 202.6 1029.1 205.1 1029.9 206.4 1029.6 208.9 1028.1 210.4 1028.1 212.6 1026.9 217.1 1029.1 219.1 1028.6 220.9 1027.4 222.9 1027.6 225.1 1026.9 228.4 1027.9 230.4 1027.4 234.6 1028.9 236.9 1028.1 238.4 1026.9 245.6 1025.4 246.9 1026.4 247.6 1027.9 251.4 1029.6 254.9 1028.1 257.6 1029.1 261.1 1028.1 265.1 1029.9 267.4 1029.4 270.1 1030.1 274.6 1028.4 276.9 1029.6 281.6 1030.1 284.9 1028.6 287.1 1029.4 290.6 1029.6 292.9 1028.9 294.9 1027.1 296.6 1027.1 299.6 1028.4 303.4 1027.4 304.1 1025.9 306.9 1023.6 308.6 1025.1 313.9 1027.1 316.4 1030.6 320.1 1031.1 323.1 1032.6 325.6 1031.9 326.6 1030.1 326.6 1028.6 324.9 1025.4 322.6 1023.6 320.9 1020.1 318.6 1018.4 317.9 1015.9 317.6 1005.1 317.1 1004.1 317.9 1002.1 317.4 999.6 317.9 997.6 317.4 994.9 317.9 993.1 317.9 986.6 316.6 984.6 316.6 982.6 315.6 980.9 316.6 975.4 316.6 968.9 315.9 967.4 313.6 965.6 312.6 963.9 313.1 960.9 311.9 957.1 309.4 956.1 306.6 957.1 305.9 956.9 303.9 952.9 303.9 950.4 304.4 949.4 303.9 946.6 304.4 944.6 303.9 941.6 304.4 938.6 303.9 936.1 304.4 928.1 303.4 926.1 303.4 924.9 304.6 922.9 304.6 921.4 303.4 918.6 304.6 916.6 304.9 905.1ZM232.9 963.9 234.1 964.9 234.1 966.6 232.1 967.9 230.6 966.6 230.6 965.9 231.9 964.1ZM245.6 929.9 246.9 930.9 245.6 932.4 244.4 931.4ZM244.9 897.4 244.9 896.6 246.1 895.6 248.6 896.9 246.9 898.6ZM243.4 882.6 244.1 880.6 246.1 881.4 247.1 881.1 249.9 882.4 248.1 884.4 246.6 883.9 244.9 884.4ZM251.6 850.9 248.9 851.9 247.9 853.6 248.1 857.6 247.4 861.9 248.4 863.6 250.4 865.1 252.6 865.9 254.9 865.1 255.9 863.4 255.9 859.9 254.9 857.9 255.6 855.9 255.6 853.4 254.6 851.6ZM1421.1 847.4 1418.9 848.1 1417.9 849.9 1417.9 851.4 1418.6 852.9 1421.1 853.9 1423.4 853.1 1424.4 851.4 1424.4 849.9 1423.6 848.4Z" fill="#1f77b4" fill-rule="evenodd"/>
<path d="M116.2 1022.3h.01M116.2 1020.5h.01M116.3 1018.2h.01M116.4 1019.3h.01M116.5 1024.1h.01M116.5 1025.3h.01M116.6 1015.5h.01M116.9 1023.5h.01M117.8 1026.8h.01M117.9 1014.5h.01M118.3 1012.7h.01M118.5 1028.1h.01M118.5 1028.0h.01M118.7 1009.1h.01M119.0 1027.7h.01M119.4 1008.1h.01M119.4 1007.5h.01M120.1 1005.6h.01M120.2 1003.5h.01M120.2 992.6h.01M120.4 1000.5h.01M120.5 998.5h.01M120.5 996.7h.01M120.5 995.0h.01M120.5 993.6h.01M120.5 992.4h.01M120.5 991.6h.01M120.6 991.9h.01M120.7 995.5h.01M120.9 997.5h.01M120.9 999.2h.01M120.9 1000.6h.01M120.9 1002.4h.01M121.1 1026.8h.01M121.2 1003.8h.01M121.3 1002.6h.01M122.2 1007.1h.01M122.3 1004.1h.01M122.4 1003.0h.01M122.4 1003.2h.01M122.9 1027.6h.01M122.9 1027.2h.01M123.1 1007.9h.01M123.1 1007.7h.01M125.3 1027.9h.01M127.1 1028.1h.01M127.7 1027.7h.01M127.8 1027.8h.01M127.8 1027.3h.01M128.0 1008.5h.01M128.3 1004.4h.01M128.3 998.5h.01M128.3 994.5h.01M128.4 993.0h.01M128.4 997.5h.01M128.4 1002.7h.01M128.5 982.8h.01M128.6 975.7h.01M128.6 974.5h.01M128.7 973.4h.01M128.7 972.6h.01M128.7 977.4h.01M128.7 979.5h.01M128.8 982.9h.01M128.8 983.5h.01M128.8 983.9h.01M128.9 987.0h.01M128.9 989.8h.01M129.0 992.5h.01M129.1 998.1h.01M129.1 996.4h.01M129.2 981.5h.01M129.2 977.3h.01M129.2 976.3h.01M129.4 998.8h.01M129.7 990.3h.01M129.7 988.7h.01M130.4 958.4h.01M130.4 954.6h.01M130.5 955.5h.01M130.5 961.7h.01M130.5 966.4h.01M130.8 955.8h.01M130.8 952.6h.01M130.9 950.2h.01M130.9 948.3h.01M130.9 946.6h.01M130.9 943.3h.01M130.9 941.6h.01M131.0 938.6h.01M131.0 937.8h.01M131.0 940.0h.01M131.0 943.7h.01M131.1 964.3h.01M131.2 968.1h.01M131.7 933.9h.01M131.7 929.0h.01M131.7 927.8h.01M131.7 930.4h.01M131.7 936.6h.01M132.3 1028.3h.01M132.5 927.1h.01M133.1 918.7h.01M133.1 909.5h.01M133.1 903.6h.01M133.1 901.2h.01M133.2 902.4h.01M133.2 907.4h.01M133.2 916.1h.01M133.5 1028.5h.01M134.3 875.7h.01M134.4 925.6h.01M134.4 919.2h.01M134.4 914.6h.01M134.4 911.5h.01M134.4 888.9h.01M134.5 913.5h.01M134.5 918.5h.01M134.5 894.7h.01M134.6 901.7h.01M134.6 881.7h.01M134.8 1027.3h.01M135.0 897.6h.01M135.3 892.8h.01M135.4 869.7h.01M135.5 921.8h.01M135.6 919.7h.01M135.6 919.8h.01M135.6 924.5h.01M138.4 1027.1h.01M138.4 1026.6h.01M140.4 1028.3h.01M140.5 923.0h.01M140.5 913.5h.01M140.5 913.6h.01M140.6 913.9h.01M140.6 922.4h.01M142.6 1028.0h.01M143.3 919.6h.01M143.3 915.6h.01M143.3 917.8h.01M143.3 882.0h.01M144.0 904.7h.01M144.3 910.2h.01M144.4 900.6h.01M144.5 916.1h.01M144.6 947.6h.01M144.6 890.7h.01M144.7 893.6h.01M145.0 915.0h.01M145.0 885.2h.01M145.0 948.3h.01M145.2 1028.4h.01M145.8 941.7h.01M145.8 933.4h.01M145.9 927.5h.01M145.9 921.3h.01M145.9 922.6h.01M145.9 925.5h.01M146.0 930.3h.01M146.0 945.6h.01M146.7 944.9h.01M146.7 939.0h.01M146.7 938.0h.01M146.7 942.4h.01M146.7 951.7h.01M147.2 1028.7h.01M147.2 1028.8h.01M147.3 1028.1h.01M149.0 1027.9h.01M149.1 1028.0h.01M150.6 956.2h.01M150.7 955.6h.01M152.9 952.8h.01M153.1 1029.0h.01M153.1 1028.1h.01M153.7 948.6h.01M153.7 941.1h.01M153.7 933.6h.01M153.7 926.4h.01M153.7 920.1h.01M153.7 915.3h.01M153.8 915.3h.01M153.8 919.6h.01M153.8 928.3h.01M153.8 940.0h.01M154.2 951.6h.01M155.3 948.7h.01M155.4 940.7h.01M155.4 939.5h.01M155.4 944.4h.01M156.4 1028.8h.01M156.9 960.6h.01M156.9 941.2h.01M157.0 932.0h.01M157.0 924.3h.01M157.0 916.0h.01M157.0 915.6h.01M157.0 917.5h.01M157.1 921.3h.01M157.1 926.9h.01M157.1 934.2h.01M157.1 943.0h.01M157.1 953.0h.01M157.1 963.7h.01M157.5 1028.8h.01M158.8 1026.9h.01M159.0 969.9h.01M159.0 971.5h.01M159.5 982.1h.01M159.6 973.5h.01M159.6 974.5h.01M159.6 979.0h.01M159.6 979.8h.01M159.7 972.8h.01M159.7 965.2h.01M159.7 956.5h.01M159.7 948.6h.01M159.7 942.7h.01M159.7 941.5h.01M159.8 941.8h.01M159.8 943.4h.01M159.8 948.9h.01M159.8 979.1h.01M160.0 980.0h.01M160.0 977.0h.01M160.1 975.7h.01M160.1 982.6h.01M160.5 1026.9h.01M162.9 1026.2h.01M163.0 990.9h.01M163.0 991.8h.01M163.3 1025.8h.01M163.5 986.3h.01M163.5 988.0h.01M163.5 992.5h.01M163.8 990.3h.01M163.8 988.1h.01M163.8 989.7h.01M164.0 1026.1h.01M164.3 1026.3h.01M167.1 1027.3h.01M167.8 1027.5h.01M167.8 1027.2h.01M168.4 1027.6h.01M169.1 993.4h.01M169.6 990.3h.01M169.6 987.2h.01M169.6 984.9h.01M169.6 981.6h.01M169.6 981.5h.01M169.7 988.4h.01M169.7 992.6h.01M170.6 981.3h.01M170.7 983.7h.01M170.9 983.0h.01M171.0 1028.2h.01M171.1 965.6h.01M171.3 973.8h.01M171.3 962.6h.01M171.9 979.1h.01M171.9 968.5h.01M171.9 979.4h.01M171.9 981.2h.01M172.2 1028.2h.01M172.2 1028.4h.01M175.2 985.2h.01M176.7 1028.2h.01M178.0 979.8h.01M178.0 975.9h.01M179.4 981.7h.01M180.3 975.6h.01M181.5 1029.3h.01M182.6 974.0h.01M182.6 973.4h.01M183.5 989.0h.01M184.2 990.9h.01M184.2 981.3h.01M184.2 976.7h.01M184.2 972.5h.01M184.2 968.8h.01M184.2 966.2h.01M184.3 966.2h.01M184.3 969.4h.01M184.4 977.2h.01M184.4 986.8h.01M184.6 993.2h.01M184.7 992.6h.01M184.7 994.4h.01M185.0 984.4h.01M185.0 994.7h.01M185.0 993.9h.01M185.1 997.2h.01M186.0 1028.4h.01M186.0 1028.2h.01M186.0 1027.5h.01M186.5 1000.6h.01M187.2 1004.7h.01M187.2 1002.7h.01M187.2 1003.7h.01M188.0 1028.9h.01M188.3 1028.7h.01M188.4 1027.9h.01M192.0 1006.9h.01M193.0 1028.8h.01M193.0 1028.5h.01M193.5 1003.8h.01M193.5 1000.6h.01M193.5 997.7h.01M193.5 995.2h.01M193.5 992.0h.01M193.6 991.5h.01M193.6 992.6h.01M193.6 1000.0h.01M193.7 1002.0h.01M193.7 1003.9h.01M194.1 995.6h.01M194.8 986.7h.01M194.8 985.8h.01M194.8 980.6h.01M194.9 979.1h.01M194.9 978.9h.01M194.9 978.7h.01M195.0 982.5h.01M195.0 984.1h.01M195.0 985.8h.01M195.0 989.1h.01M196.1 975.5h.01M196.1 969.7h.01M196.1 964.5h.01M196.1 959.8h.01M196.1 955.9h.01M196.2 953.4h.01M196.2 953.1h.01M196.2 920.0h.01M196.2 919.5h.01M196.2 919.0h.01M196.3 923.3h.01M196.3 929.9h.01M196.3 936.3h.01M196.3 941.9h.01M196.3 947.3h.01M196.4 944.2h.01M196.4 940.4h.01M196.4 936.1h.01M196.4 932.6h.01M196.4 931.5h.01M196.5 935.7h.01M196.5 956.0h.01M196.5 971.7h.01M196.6 974.4h.01M196.7 976.2h.01M196.7 972.5h.01M196.7 969.5h.01M196.8 967.6h.01M196.8 966.7h.01M196.9 969.4h.01M196.9 971.3h.01M197.0 958.0h.01M197.0 953.0h.01M197.1 962.8h.01M197.1 973.7h.01M197.3 912.1h.01M197.3 906.3h.01M197.4 904.2h.01M197.4 908.1h.01M197.4 915.3h.01M197.4 925.8h.01M197.4 939.4h.01M197.4 955.6h.01M197.4 898.9h.01M197.5 891.5h.01M197.5 1028.4h.01M197.5 907.9h.01M197.6 948.8h.01M197.7 936.5h.01M197.7 924.0h.01M197.7 912.3h.01M197.7 902.2h.01M197.7 894.4h.01M197.7 889.8h.01M197.7 888.9h.01M197.8 891.9h.01M197.8 898.7h.01M197.8 908.5h.01M197.8 919.8h.01M197.8 931.0h.01M197.8 940.4h.01M197.9 946.8h.01M197.9 950.3h.01M198.0 894.9h.01M198.0 876.6h.01M198.1 952.6h.01M198.1 945.6h.01M198.1 944.9h.01M198.1 951.3h.01M198.2 1028.5h.01M198.2 883.1h.01M198.2 867.0h.01M198.2 905.5h.01M198.2 959.2h.01M198.3 945.0h.01M198.3 935.1h.01M198.3 929.7h.01M198.3 928.4h.01M198.3 930.8h.01M198.3 936.2h.01M198.4 944.0h.01M198.4 953.7h.01M198.4 901.3h.01M198.5 888.3h.01M198.5 911.3h.01M199.0 1029.5h.01M199.1 1029.5h.01M199.1 1029.2h.01M199.3 959.2h.01M201.6 1027.4h.01M203.4 961.5h.01M203.4 958.0h.01M203.4 958.1h.01M203.5 959.6h.01M203.5 963.0h.01M204.1 967.2h.01M204.1 964.2h.01M204.1 969.6h.01M204.5 971.3h.01M204.6 974.1h.01M205.4 1028.4h.01M205.8 1028.4h.01M206.5 1027.6h.01M209.0 978.1h.01M209.0 971.9h.01M209.0 966.0h.01M209.0 960.7h.01M209.0 952.4h.01M209.1 949.1h.01M209.1 949.0h.01M209.1 950.1h.01M209.1 956.4h.01M209.1 961.0h.01M209.2 972.7h.01M209.9 1026.0h.01M210.0 1026.8h.01M212.6 946.6h.01M212.6 1025.0h.01M212.6 935.1h.01M213.0 928.5h.01M213.3 940.9h.01M214.1 943.1h.01M214.8 1026.3h.01M215.4 1025.7h.01M216.2 1026.4h.01M216.2 1026.5h.01M216.3 1027.1h.01M216.6 1026.6h.01M218.0 1027.7h.01M218.1 940.5h.01M218.1 924.8h.01M218.2 924.2h.01M218.2 924.0h.01M218.2 927.0h.01M218.2 932.5h.01M218.3 939.1h.01M218.7 1026.2h.01M218.8 935.0h.01M219.3 936.7h.01M219.4 928.7h.01M219.5 920.8h.01M219.6 917.5h.01M220.5 939.3h.01M220.5 930.4h.01M220.5 924.4h.01M220.5 924.5h.01M220.6 926.7h.01M220.6 934.3h.01M222.0 1026.0h.01M223.2 1025.8h.01M224.9 939.5h.01M226.7 1025.3h.01M228.4 1026.4h.01M228.7 936.9h.01M228.8 932.0h.01M228.9 964.6h.01M229.0 966.4h.01M229.0 942.0h.01M229.1 920.3h.01M229.2 944.3h.01M229.3 964.8h.01M229.4 948.5h.01M229.4 946.0h.01M229.4 947.0h.01M229.4 951.4h.01M229.6 929.4h.01M229.6 950.8h.01M229.6 943.9h.01M229.6 940.2h.01M229.7 942.7h.01M229.7 947.9h.01M229.7 955.0h.01M229.8 934.9h.01M230.2 1025.7h.01M232.6 1026.8h.01M232.6 1026.6h.01M233.1 1026.2h.01M233.3 955.7h.01M233.3 962.2h.01M233.3 969.2h.01M233.9 1026.3h.01M235.4 1026.8h.01M235.4 1028.3h.01M235.8 966.0h.01M235.9 951.3h.01M235.9 946.0h.01M235.9 939.8h.01M235.9 933.3h.01M235.9 927.2h.01M235.9 922.0h.01M236.0 918.3h.01M236.0 916.4h.01M236.0 918.2h.01M236.0 927.0h.01M236.1 939.6h.01M236.1 945.9h.01M236.1 951.6h.01M236.4 945.9h.01M236.4 947.5h.01M236.4 949.7h.01M236.4 953.8h.01M237.1 853.7h.01M237.1 915.5h.01M237.1 899.4h.01M237.1 885.0h.01M237.1 873.1h.01M237.1 864.1h.01M237.2 858.0h.01M237.2 854.9h.01M237.2 856.3h.01M237.2 849.3h.01M237.2 860.5h.01M237.2 866.9h.01M237.3 875.5h.01M237.3 885.8h.01M237.3 897.1h.01M237.3 908.5h.01M237.4 880.7h.01M237.4 929.8h.01M237.4 907.1h.01M237.4 895.5h.01M237.4 865.5h.01M237.4 884.2h.01M237.5 874.2h.01M237.5 866.5h.01M237.5 870.9h.01M237.5 861.9h.01M237.5 860.6h.01M237.5 872.9h.01M237.5 862.9h.01M237.5 868.7h.01M237.6 878.0h.01M237.6 889.8h.01M237.6 903.3h.01M237.6 858.5h.01M237.6 945.0h.01M237.6 876.1h.01M237.9 887.6h.01M238.0 899.7h.01M238.2 883.9h.01M238.6 939.6h.01M238.9 877.6h.01M238.9 872.3h.01M239.0 873.2h.01M239.0 892.9h.01M239.0 909.4h.01M239.3 1025.2h.01M239.5 935.5h.01M240.3 911.1h.01M241.9 883.8h.01M241.9 883.5h.01M242.6 880.2h.01M242.6 879.3h.01M242.8 878.6h.01M242.8 878.2h.01M243.2 897.6h.01M243.4 1024.6h.01M243.8 929.0h.01M245.8 874.7h.01M245.8 864.7h.01M245.8 864.4h.01M245.8 868.4h.01M245.9 879.6h.01M246.3 933.9h.01M246.3 900.2h.01M246.4 869.6h.01M246.4 863.1h.01M246.4 862.4h.01M246.5 862.7h.01M246.5 868.6h.01M246.5 885.5h.01M246.5 894.0h.01M246.5 900.8h.01M248.4 932.1h.01M248.7 1026.6h.01M249.2 880.5h.01M249.2 861.4h.01M249.3 854.3h.01M249.3 853.9h.01M249.3 853.2h.01M249.3 852.5h.01M249.4 858.7h.01M249.6 896.2h.01M249.7 859.6h.01M249.7 843.9h.01M249.7 831.7h.01M249.7 823.6h.01M249.7 819.7h.01M249.8 819.9h.01M249.8 824.1h.01M249.8 831.9h.01M249.8 843.0h.01M250.5 799.8h.01M250.6 1027.4h.01M250.8 880.6h.01M250.9 793.2h.01M250.9 884.4h.01M250.9 896.7h.01M251.0 814.3h.01M251.1 810.5h.01M251.1 820.4h.01M251.2 789.9h.01M251.2 774.9h.01M251.3 803.1h.01M251.4 1028.9h.01M251.5 824.5h.01M251.5 863.7h.01M251.5 844.3h.01M251.5 828.9h.01M251.5 817.9h.01M251.5 811.4h.01M251.6 809.0h.01M251.6 816.7h.01M251.6 826.1h.01M251.6 838.5h.01M251.6 852.8h.01M251.6 783.2h.01M251.7 867.6h.01M251.7 880.7h.01M251.7 893.2h.01M251.7 882.9h.01M251.8 863.9h.01M251.8 812.5h.01M251.8 806.5h.01M251.9 1028.7h.01M252.0 893.7h.01M252.1 838.6h.01M252.2 818.9h.01M252.2 803.1h.01M252.2 771.6h.01M252.2 794.3h.01M252.2 766.0h.01M252.2 836.8h.01M252.2 842.3h.01M252.6 918.7h.01M252.7 915.8h.01M252.7 877.3h.01M252.7 868.0h.01M252.8 865.6h.01M252.9 888.9h.01M253.4 914.1h.01M253.5 919.4h.01M253.6 1026.4h.01M253.7 898.6h.01M253.7 886.4h.01M253.7 876.0h.01M253.8 852.6h.01M253.9 859.5h.01M253.9 870.0h.01M253.9 885.5h.01M253.9 905.6h.01M254.2 908.7h.01M254.2 885.3h.01M254.2 850.4h.01M254.2 841.5h.01M254.2 839.0h.01M254.2 842.0h.01M254.3 848.3h.01M254.3 855.1h.01M254.3 860.1h.01M254.3 863.2h.01M254.3 864.3h.01M254.4 867.7h.01M254.4 874.0h.01M254.4 882.7h.01M254.4 892.5h.01M254.4 902.2h.01M254.4 911.6h.01M254.4 921.6h.01M257.4 1028.0h.01M257.7 938.0h.01M257.8 941.5h.01M258.0 1026.8h.01M258.0 1028.2h.01M258.2 948.4h.01M258.2 946.7h.01M258.5 947.3h.01M258.5 934.8h.01M258.6 925.4h.01M258.6 925.9h.01M258.6 927.2h.01M258.6 929.0h.01M258.7 931.0h.01M258.7 933.4h.01M258.7 936.3h.01M258.7 940.1h.01M258.7 945.5h.01M261.5 952.0h.01M261.6 954.0h.01M261.6 957.0h.01M261.6 960.6h.01M261.6 969.9h.01M261.9 971.7h.01M261.9 966.0h.01M261.9 962.5h.01M261.9 963.4h.01M262.0 966.9h.01M262.0 970.2h.01M262.0 973.2h.01M262.0 978.6h.01M262.3 1026.8h.01M262.4 975.1h.01M264.7 1028.4h.01M264.8 1028.5h.01M267.1 980.9h.01M267.2 980.7h.01M267.2 980.4h.01M268.2 1027.9h.01M269.6 1028.2h.01M269.6 1028.8h.01M270.2 978.3h.01M270.2 974.5h.01M270.3 972.7h.01M270.3 975.0h.01M271.3 1027.9h.01M272.2 969.6h.01M272.3 968.4h.01M272.4 1027.8h.01M272.7 970.2h.01M272.7 965.4h.01M272.7 960.5h.01M272.7 956.1h.01M272.8 950.5h.01M272.8 949.9h.01M272.8 950.8h.01M272.8 953.0h.01M272.9 959.3h.01M272.9 962.2h.01M272.9 964.6h.01M273.0 966.2h.01M275.1 949.1h.01M275.1 944.3h.01M275.2 940.6h.01M275.2 939.4h.01M275.2 943.7h.01M277.2 1028.0h.01M277.2 1027.6h.01M277.2 1027.5h.01M278.7 1028.3h.01M280.2 932.9h.01M280.2 936.7h.01M280.5 936.2h.01M280.6 927.7h.01M280.6 921.9h.01M280.6 919.0h.01M280.6 919.3h.01M280.6 922.8h.01M280.6 929.2h.01M280.6 937.9h.01M280.8 878.8h.01M281.0 872.5h.01M281.1 891.7h.01M281.1 940.4h.01M281.2 915.8h.01M281.2 906.9h.01M281.2 899.8h.01M281.2 893.7h.01M281.2 887.6h.01M281.2 881.1h.01M281.3 873.6h.01M281.3 865.0h.01M281.3 857.6h.01M281.3 857.3h.01M281.3 869.8h.01M281.4 856.1h.01M281.4 855.6h.01M281.4 855.4h.01M281.5 869.4h.01M281.5 884.3h.01M281.5 901.4h.01M281.5 921.3h.01M281.6 886.8h.01M281.8 882.4h.01M281.9 944.6h.01M281.9 925.6h.01M281.9 910.0h.01M281.9 898.8h.01M282.0 890.7h.01M282.0 894.3h.01M282.0 902.7h.01M282.0 915.4h.01M282.1 1029.1h.01M282.2 860.2h.01M282.7 936.0h.01M282.7 904.7h.01M282.7 893.5h.01M282.7 886.3h.01M282.7 883.1h.01M282.8 884.1h.01M282.8 888.8h.01M282.8 896.6h.01M282.8 906.9h.01M282.8 919.0h.01M282.8 932.1h.01M282.8 945.7h.01M284.2 957.0h.01M284.2 950.4h.01M284.2 947.2h.01M284.2 948.1h.01M284.2 953.0h.01M285.7 959.4h.01M286.8 1027.6h.01M290.3 957.5h.01M290.3 951.6h.01M290.3 945.2h.01M290.4 948.4h.01M290.4 953.5h.01M290.5 1028.3h.01M290.6 933.0h.01M290.6 921.9h.01M290.6 913.0h.01M290.7 915.1h.01M290.7 920.8h.01M290.7 929.4h.01M290.7 939.9h.01M290.8 890.5h.01M290.9 953.3h.01M291.0 951.0h.01M291.0 940.9h.01M291.1 920.8h.01M291.1 910.8h.01M291.1 895.3h.01M291.1 902.4h.01M291.1 896.2h.01M291.1 892.7h.01M291.2 892.1h.01M291.2 894.3h.01M291.2 899.3h.01M291.2 906.7h.01M291.2 916.0h.01M291.2 926.7h.01M291.2 938.0h.01M291.4 872.5h.01M291.4 880.0h.01M291.4 867.0h.01M291.5 893.9h.01M291.5 885.0h.01M291.7 889.0h.01M292.1 1027.3h.01M292.1 1026.6h.01M292.5 908.7h.01M292.5 908.3h.01M292.6 914.6h.01M293.6 911.2h.01M293.6 911.4h.01M295.7 1025.4h.01M295.8 1025.6h.01M296.5 881.1h.01M296.5 857.7h.01M296.5 850.2h.01M296.5 849.7h.01M296.5 849.2h.01M296.6 862.5h.01M296.6 887.4h.01M296.6 916.5h.01M297.0 893.9h.01M297.0 859.8h.01M297.0 835.2h.01M297.0 834.7h.01M297.0 833.7h.01M297.1 832.8h.01M297.1 863.6h.01M297.1 899.7h.01M297.2 903.7h.01M297.3 890.4h.01M297.3 894.4h.01M297.3 908.0h.01M297.8 883.2h.01M297.9 877.9h.01M297.9 875.0h.01M297.9 885.6h.01M297.9 895.7h.01M297.9 831.9h.01M298.1 824.1h.01M298.1 842.6h.01M298.2 906.9h.01M298.2 797.4h.01M298.2 915.2h.01M298.4 877.9h.01M298.5 869.1h.01M298.5 862.0h.01M298.5 856.9h.01M298.5 854.6h.01M298.5 862.4h.01M298.6 874.0h.01M298.6 891.0h.01M298.6 840.5h.01M298.6 817.6h.01M298.7 827.3h.01M298.7 847.2h.01M298.8 844.2h.01M298.8 812.6h.01M298.9 835.8h.01M299.0 807.0h.01M299.0 850.4h.01M299.2 1027.1h.01M299.2 1026.8h.01M299.5 1026.5h.01M299.5 1027.0h.01M299.8 892.0h.01M299.8 872.1h.01M299.8 859.2h.01M299.8 854.5h.01M299.8 855.0h.01M299.9 855.4h.01M299.9 863.5h.01M299.9 898.1h.01M300.3 895.4h.01M300.3 882.8h.01M300.3 874.8h.01M300.4 871.3h.01M300.4 871.8h.01M300.4 874.1h.01M300.4 878.7h.01M300.4 884.1h.01M300.4 889.7h.01M300.5 895.1h.01M300.5 900.4h.01M301.3 924.9h.01M301.6 942.0h.01M301.7 918.2h.01M301.8 920.0h.01M301.8 926.5h.01M301.8 934.7h.01M301.9 953.8h.01M302.1 935.0h.01M302.1 935.6h.01M302.1 937.5h.01M302.2 946.8h.01M302.3 939.6h.01M302.3 940.7h.01M302.3 947.1h.01M302.3 951.2h.01M302.5 1025.9h.01M302.9 948.7h.01M302.9 937.7h.01M302.9 928.6h.01M302.9 921.5h.01M302.9 916.5h.01M303.0 913.6h.01M303.1 912.7h.01M303.1 911.1h.01M303.1 904.7h.01M303.2 905.8h.01M303.2 909.1h.01M303.2 914.6h.01M303.2 922.5h.01M303.2 932.4h.01M303.2 943.6h.01M303.2 954.9h.01M303.5 955.5h.01M303.9 1023.4h.01M304.3 957.8h.01M308.2 949.6h.01M308.2 958.3h.01M308.9 948.5h.01M308.9 939.0h.01M308.9 931.8h.01M308.9 927.7h.01M308.9 927.2h.01M308.9 930.1h.01M309.0 935.7h.01M309.0 943.1h.01M309.0 950.9h.01M309.1 957.5h.01M309.7 1024.3h.01M309.7 1023.8h.01M311.8 961.5h.01M311.8 950.8h.01M311.8 942.3h.01M311.9 936.8h.01M311.9 935.0h.01M311.9 937.3h.01M311.9 942.0h.01M311.9 948.5h.01M311.9 956.5h.01M312.0 965.8h.01M313.8 979.1h.01M313.8 956.7h.01M313.8 947.6h.01M313.8 947.9h.01M313.9 948.7h.01M313.9 956.1h.01M313.9 968.1h.01M313.9 980.5h.01M314.2 1025.5h.01M314.2 1025.1h.01M314.6 984.4h.01M314.7 983.1h.01M315.1 977.6h.01M315.1 970.4h.01M315.1 969.0h.01M315.2 974.2h.01M315.2 983.0h.01M315.4 1006.8h.01M316.0 1017.4h.01M316.1 1014.2h.01M316.2 1013.2h.01M316.2 1009.6h.01M316.2 1006.3h.01M316.2 1002.1h.01M316.2 997.3h.01M316.2 992.7h.01M316.3 986.7h.01M316.3 988.6h.01M316.3 992.1h.01M316.3 996.5h.01M316.4 1001.2h.01M316.4 1005.9h.01M316.4 1010.4h.01M316.4 1012.8h.01M316.4 1016.9h.01M316.5 1028.4h.01M316.9 1019.2h.01M317.1 1019.2h.01M317.4 1029.2h.01M317.5 1029.2h.01M318.0 1029.4h.01M319.2 1021.3h.01M319.8 1021.7h.01M319.8 1022.2h.01M320.4 1029.6h.01M321.3 1024.3h.01M321.4 1025.4h.01M322.5 1030.6h.01M322.9 1030.0h.01M322.9 1030.1h.01M323.7 1026.6h.01M324.6 1031.4h.01M324.8 1028.7h.01M325.5 1031.3h.01M326.1 1030.3h.01M326.3 1031.5h.01M326.4 1032.0h.01M327.2 1032.1h.01M328.5 1029.6h.01M328.6 1029.5h.01M329.3 1032.2h.01M329.7 1031.2h.01M329.8 1031.3h.01M331.1 1032.1h.01M331.6 1032.2h.01M331.6 1032.3h.01M331.6 1031.8h.01M332.4 1030.0h.01M332.4 1029.7h.01M332.8 1029.2h.01M333.3 1030.3h.01M333.5 1029.4h.01M333.5 1029.6h.01M334.5 1029.5h.01M334.7 1032.1h.01M335.1 1032.0h.01M335.2 1031.5h.01M335.8 1032.3h.01M336.2 1032.0h.01M336.2 1031.9h.01M336.6 1029.9h.01M336.7 1030.4h.01M337.0 1029.4h.01M338.4 1029.9h.01M338.7 1032.5h.01M339.3 1032.0h.01M340.4 1029.8h.01M340.5 1032.1h.01M340.6 1032.6h.01M341.9 1028.4h.01M342.2 1032.6h.01M342.4 1028.7h.01M342.5 1028.5h.01M342.5 1028.5h.01M343.3 1032.5h.01M343.3 1032.6h.01M344.5 1031.8h.01M345.0 1031.4h.01M345.3 1030.5h.01M347.1 1032.6h.01M347.6 1032.3h.01M348.3 1029.4h.01M348.6 1032.6h.01M348.7 1032.3h.01M349.4 1028.6h.01M349.5 1028.6h.01M349.6 1028.9h.01M350.6 1032.5h.01M352.4 1033.0h.01M353.0 1030.1h.01M353.3 1029.7h.01M354.3 1032.8h.01M355.6 1029.3h.01M355.7 1029.2h.01M357.3 1032.8h.01M357.4 1032.1h.01M357.7 1029.7h.01M357.7 1029.4h.01M357.8 1029.2h.01M358.8 1033.2h.01M359.5 1033.3h.01M359.7 1033.2h.01M360.3 1032.7h.01M361.1 1030.2h.01M361.8 1030.4h.01M362.7 1030.0h.01M362.8 1033.1h.01M364.1 1033.1h.01M364.2 1029.7h.01M364.5 1032.7h.01M366.3 1029.8h.01M366.4 1033.3h.01M366.7 1029.6h.01M367.7 1033.3h.01M368.1 1033.3h.01M369.3 1030.1h.01M369.4 1029.8h.01M370.3 1033.4h.01M370.3 1033.5h.01M370.3 1033.1h.01M370.6 1032.3h.01M370.8 1032.6h.01M370.8 1031.9h.01M371.0 1029.9h.01M371.1 1030.7h.01M371.5 1030.4h.01M371.9 1029.6h.01M372.7 1028.8h.01M372.8 1031.1h.01M372.9 1031.3h.01M375.2 1028.8h.01M375.3 1031.9h.01M375.3 1031.6h.01M377.1 1032.2h.01M377.8 1032.3h.01M377.9 1029.2h.01M378.2 1028.8h.01M378.9 1029.3h.01M380.0 1029.0h.01M380.5 1031.0h.01M381.0 1029.5h.01M381.0 1031.8h.01M381.2 1029.1h.01M382.0 1030.1h.01M382.0 1031.6h.01M382.6 1029.0h.01M382.8 1031.6h.01M383.3 1030.5h.01M383.5 1029.4h.01M383.9 1029.9h.01M384.3 1032.1h.01M384.5 1031.0h.01M384.9 1029.3h.01M386.7 1029.2h.01M386.8 1031.6h.01M387.7 1029.4h.01M388.1 1029.5h.01M388.1 1032.1h.01M388.6 1031.5h.01M388.7 1029.2h.01M388.7 1031.3h.01M390.4 1031.3h.01M390.8 1031.7h.01M391.3 1028.9h.01M391.8 1031.9h.01M392.4 1029.2h.01M392.9 1028.8h.01M393.4 1031.5h.01M393.7 1031.4h.01M394.8 1031.5h.01M395.2 1029.6h.01M395.6 1031.2h.01M396.1 1029.6h.01M396.3 1029.4h.01M396.6 1028.9h.01M396.9 1031.9h.01M397.8 1028.7h.01M397.8 1032.0h.01M398.9 1029.4h.01M398.9 1029.2h.01M399.6 1031.9h.01M400.4 1031.8h.01M401.3 1031.3h.01M401.4 1030.1h.01M401.7 1029.2h.01M401.9 1030.8h.01M402.3 1030.0h.01M402.5 1029.5h.01M402.9 1031.9h.01M403.5 1029.7h.01M403.9 1031.3h.01M403.9 1029.1h.01M404.2 1030.9h.01M404.4 1029.6h.01M404.6 1032.0h.01M405.2 1031.5h.01M405.6 1030.8h.01M405.7 1032.0h.01M406.1 1030.7h.01M406.1 1030.1h.01M406.2 1031.6h.01M407.0 1030.3h.01M407.1 1029.5h.01M407.5 1032.4h.01M407.6 1030.9h.01M407.7 1030.4h.01M407.8 1032.0h.01M408.2 1030.2h.01M408.8 1031.0h.01M408.8 1029.6h.01M408.9 1032.0h.01M409.0 1031.3h.01M409.3 1032.2h.01M409.4 1032.3h.01M409.5 1031.7h.01M409.9 1030.3h.01M410.4 1029.9h.01M412.4 1030.1h.01M412.5 1030.0h.01M412.6 1031.8h.01M412.9 1032.1h.01M413.4 1029.6h.01M413.7 1031.9h.01M414.2 1030.7h.01M415.4 1031.1h.01M415.5 1030.0h.01M415.7 1029.4h.01M415.7 1031.7h.01M416.3 1029.1h.01M416.4 1031.8h.01M416.8 1030.3h.01M417.0 1029.5h.01M417.3 1031.2h.01M417.6 1031.9h.01M417.6 1030.9h.01M417.9 1031.6h.01M418.0 1029.7h.01M418.3 1031.0h.01M418.8 1032.1h.01M420.1 1029.5h.01M420.2 1029.1h.01M420.6 1031.4h.01M421.0 1029.5h.01M421.0 1031.8h.01M421.1 1029.1h.01M421.3 1028.8h.01M421.9 1031.3h.01M423.3 1032.1h.01M423.5 1028.9h.01M423.5 1031.4h.01M423.7 1031.7h.01M424.6 1029.2h.01M424.6 1029.7h.01M425.7 1030.8h.01M426.1 1031.8h.01M426.4 1029.8h.01M426.7 1031.0h.01M426.8 1029.3h.01M426.9 1031.5h.01M428.4 1031.8h.01M428.7 1029.2h.01M429.0 1028.4h.01M429.9 1031.3h.01M429.9 1029.1h.01M431.1 1031.8h.01M431.4 1029.5h.01M432.2 1028.9h.01M432.6 1031.7h.01M432.7 1031.3h.01M434.3 1029.6h.01M434.6 1030.6h.01M434.7 1031.2h.01M434.8 1031.7h.01M435.1 1030.0h.01M435.4 1029.2h.01M435.7 1031.3h.01M437.2 1031.3h.01M437.5 1030.1h.01M437.6 1029.0h.01M437.6 1031.7h.01M437.7 1029.3h.01M437.9 1032.0h.01M438.0 1031.1h.01M438.0 1030.3h.01M438.0 1030.0h.01M439.1 1029.3h.01M439.4 1031.5h.01M439.7 1030.7h.01M440.5 1029.6h.01M440.7 1030.5h.01M440.7 1029.5h.01M440.7 1030.8h.01M441.3 1029.0h.01M441.5 1028.8h.01M441.7 1031.1h.01M441.9 1031.3h.01M442.1 1029.5h.01M442.6 1029.9h.01M442.7 1031.7h.01M443.5 1029.3h.01M443.6 1030.8h.01M443.9 1030.7h.01M444.3 1031.4h.01M444.3 1029.2h.01M444.4 1031.0h.01M444.4 1030.9h.01M444.8 1030.6h.01M445.1 1029.9h.01M445.2 1029.2h.01M445.4 1029.7h.01M445.6 1031.9h.01M446.4 1031.5h.01M446.9 1029.5h.01M447.3 1030.7h.01M447.4 1030.8h.01M447.7 1031.5h.01M448.0 1030.0h.01M448.1 1031.8h.01M448.7 1032.0h.01M449.2 1030.2h.01M449.2 1030.6h.01M449.4 1031.5h.01M449.5 1029.1h.01M450.1 1029.7h.01M450.5 1031.5h.01M451.2 1030.5h.01M451.4 1030.9h.01M451.4 1030.0h.01M451.4 1031.9h.01M451.7 1031.2h.01M451.7 1029.6h.01M452.0 1031.5h.01M452.2 1029.4h.01M452.6 1032.0h.01M452.7 1029.9h.01M453.2 1033.0h.01M453.5 1033.3h.01M453.9 1030.8h.01M454.7 1032.8h.01M455.0 1031.3h.01M455.8 1034.0h.01M456.9 1033.4h.01M457.4 1030.7h.01M458.4 1033.2h.01M458.7 1030.1h.01M459.3 1032.6h.01M459.5 1030.4h.01M460.2 1033.4h.01M460.5 1032.8h.01M460.8 1032.3h.01M461.3 1030.5h.01M462.3 1032.5h.01M462.4 1031.0h.01M463.2 1030.3h.01M463.5 1030.7h.01M463.7 1031.2h.01M463.9 1032.9h.01M464.3 1033.0h.01M464.6 1033.5h.01M465.2 1031.2h.01M465.4 1030.5h.01M466.7 1033.0h.01M466.8 1031.3h.01M466.9 1033.0h.01M467.0 1032.1h.01M467.1 1030.3h.01M467.9 1031.0h.01M468.4 1031.2h.01M469.4 1033.0h.01M469.6 1030.6h.01M469.8 1033.2h.01M470.4 1033.4h.01M470.8 1030.7h.01M470.8 1030.9h.01M470.9 1031.1h.01M471.2 1030.5h.01M473.2 1033.0h.01M473.3 1030.4h.01M473.4 1031.9h.01M473.8 1032.8h.01M475.3 1029.9h.01M475.6 1030.4h.01M475.9 1032.6h.01M476.6 1032.9h.01M476.6 1032.1h.01M476.6 1032.5h.01M477.2 1030.4h.01M477.4 1030.6h.01M478.1 1032.6h.01M479.4 1030.1h.01M479.5 1031.8h.01M480.8 1030.4h.01M480.9 1032.5h.01M481.1 1029.2h.01M481.2 1032.8h.01M481.7 1030.4h.01M481.9 1032.8h.01M483.7 1032.5h.01M483.9 1030.2h.01M484.3 1032.7h.01M485.0 1033.2h.01M486.0 1032.8h.01M486.8 1029.9h.01M486.9 1033.8h.01M488.8 1033.5h.01M489.1 1033.1h.01M489.7 1030.9h.01M490.1 1030.7h.01M490.3 1031.2h.01M490.7 1033.8h.01M491.1 1031.1h.01M491.4 1032.7h.01M492.2 1033.1h.01M492.4 1030.7h.01M493.2 1030.4h.01M494.3 1031.4h.01M494.6 1032.7h.01M494.8 1032.5h.01M494.9 1030.9h.01M495.0 1031.5h.01M495.3 1030.5h.01M495.6 1030.7h.01M495.7 1032.7h.01M496.0 1033.4h.01M496.1 1031.8h.01M496.3 1033.1h.01M496.7 1031.5h.01M497.4 1030.7h.01M498.0 1031.2h.01M498.2 1030.4h.01M498.4 1032.7h.01M498.5 1031.7h.01M498.5 1033.3h.01M499.4 1032.1h.01M500.1 1033.0h.01M500.3 1031.4h.01M500.4 1030.7h.01M502.2 1033.3h.01M502.2 1031.0h.01M502.8 1032.8h.01M502.9 1030.0h.01M503.1 1033.6h.01M503.3 1032.8h.01M503.6 1033.4h.01M504.1 1031.6h.01M504.3 1033.1h.01M504.6 1033.8h.01M505.1 1032.8h.01M505.5 1033.4h.01M505.6 1031.4h.01M506.1 1033.6h.01M506.6 1032.8h.01M506.6 1031.1h.01M507.3 1033.6h.01M507.6 1033.5h.01M507.7 1031.4h.01M508.0 1030.3h.01M508.5 1032.8h.01M509.9 1033.2h.01M509.9 1033.6h.01M510.6 1032.4h.01M510.9 1030.9h.01M511.3 1031.2h.01M512.0 1033.4h.01M512.9 1030.5h.01M513.0 1032.8h.01M513.0 1033.1h.01M513.6 1030.4h.01M514.4 1030.6h.01M514.7 1033.6h.01M514.8 1032.6h.01M515.3 1033.0h.01M515.7 1030.4h.01M517.2 1030.4h.01M517.4 1029.7h.01M517.5 1032.6h.01M518.0 1030.7h.01M518.4 1030.2h.01M519.4 1032.5h.01M519.6 1030.9h.01M520.2 1032.6h.01M520.3 1030.0h.01M521.1 1030.7h.01M521.2 1030.2h.01M521.7 1033.1h.01M522.6 1033.3h.01M524.2 1032.8h.01M524.3 1030.5h.01M524.6 1032.1h.01M524.6 1030.2h.01M525.1 1031.1h.01M525.7 1032.0h.01M525.8 1032.6h.01M525.8 1030.7h.01M527.0 1033.3h.01M527.8 1033.0h.01M528.2 1031.6h.01M528.7 1032.3h.01M528.8 1032.9h.01M529.1 1030.7h.01M529.2 1033.4h.01M530.0 1030.8h.01M530.1 1032.2h.01M530.2 1031.3h.01M530.5 1033.1h.01M530.9 1032.1h.01M531.4 1030.6h.01M531.6 1031.0h.01M531.7 1033.4h.01M532.6 1033.5h.01M533.3 1029.9h.01M533.4 1033.3h.01M533.5 1032.7h.01M533.8 1032.8h.01M535.6 1030.4h.01M535.6 1033.2h.01M537.2 1032.8h.01M537.7 1031.0h.01M537.9 1033.0h.01M538.1 1033.7h.01M538.7 1029.9h.01M539.4 1030.3h.01M540.5 1032.9h.01M540.6 1030.5h.01M540.8 1032.2h.01M541.2 1032.3h.01M541.4 1031.0h.01M542.4 1030.7h.01M542.5 1031.2h.01M542.9 1030.0h.01M543.1 1032.8h.01M543.9 1032.5h.01M544.2 1030.9h.01M544.2 1030.4h.01M545.5 1033.5h.01M545.7 1030.4h.01M545.9 1031.0h.01M546.5 1030.6h.01M547.9 1033.1h.01M548.3 1029.9h.01M548.6 1032.5h.01M548.6 1030.7h.01M549.4 1031.8h.01M549.7 1030.5h.01M550.0 1032.9h.01M550.3 1031.9h.01M550.6 1033.3h.01M551.3 1033.4h.01M551.5 1031.7h.01M551.9 1032.7h.01M552.1 1031.2h.01M552.2 1032.3h.01M552.7 1033.5h.01M553.3 1031.3h.01M553.5 1033.1h.01M553.6 1033.6h.01M554.6 1033.0h.01M554.7 1031.0h.01M554.9 1032.1h.01M555.3 1030.6h.01M555.4 1030.8h.01M555.7 1031.7h.01M555.7 1033.3h.01M556.1 1033.0h.01M556.3 1033.6h.01M556.4 1032.1h.01M556.6 1030.9h.01M556.9 1031.9h.01M556.9 1031.3h.01M557.9 1032.7h.01M558.7 1033.3h.01M559.0 1033.8h.01M559.3 1030.9h.01M559.7 1032.9h.01M559.7 1031.1h.01M560.5 1033.3h.01M560.8 1033.5h.01M561.3 1033.2h.01M561.5 1030.7h.01M561.7 1032.2h.01M561.8 1031.0h.01M562.0 1031.9h.01M562.6 1032.9h.01M563.6 1031.5h.01M563.8 1030.9h.01M563.8 1033.4h.01M564.5 1032.1h.01M564.6 1033.2h.01M564.7 1031.0h.01M564.7 1030.7h.01M566.2 1033.6h.01M566.5 1030.9h.01M566.6 1031.7h.01M567.0 1034.2h.01M567.3 1031.4h.01M568.1 1033.4h.01M568.4 1031.2h.01M568.4 1030.8h.01M569.4 1031.9h.01M569.9 1031.0h.01M570.0 1031.4h.01M570.1 1033.5h.01M570.1 1033.0h.01M570.5 1033.1h.01M571.6 1031.2h.01M572.3 1033.3h.01M572.4 1031.6h.01M572.6 1033.7h.01M572.7 1033.9h.01M573.1 1031.6h.01M573.1 1032.6h.01M573.7 1033.2h.01M574.2 1031.1h.01M574.7 1031.4h.01M574.9 1032.3h.01M574.9 1030.6h.01M575.1 1033.4h.01M575.6 1030.6h.01M575.7 1031.7h.01M576.7 1031.6h.01M577.0 1031.4h.01M577.6 1033.3h.01M577.6 1031.1h.01M578.1 1033.1h.01M578.5 1033.7h.01M578.7 1030.6h.01M579.6 1030.8h.01M580.2 1033.7h.01M580.8 1033.2h.01M581.1 1033.3h.01M581.3 1031.2h.01M582.4 1034.0h.01M582.6 1030.9h.01M583.6 1033.6h.01M583.8 1030.9h.01M584.3 1033.7h.01M585.2 1031.4h.01M585.2 1033.0h.01M586.6 1030.8h.01M587.0 1031.0h.01M587.6 1033.7h.01M587.7 1032.9h.01M588.7 1031.2h.01M588.9 1030.0h.01M590.4 1031.2h.01M591.1 1030.9h.01M591.1 1033.7h.01M591.7 1033.7h.01M592.1 1031.2h.01M592.4 1033.9h.01M592.5 1030.9h.01M593.3 1033.7h.01M594.0 1033.2h.01M594.4 1031.2h.01M594.6 1030.3h.01M596.0 1031.1h.01M596.4 1033.4h.01M596.5 1033.1h.01M597.1 1031.4h.01M597.4 1032.8h.01M597.6 1030.8h.01M598.2 1032.9h.01M598.4 1031.1h.01M599.0 1031.7h.01M599.6 1031.1h.01M600.3 1033.3h.01M600.9 1032.4h.01M602.3 1032.0h.01M602.5 1030.5h.01M602.6 1031.5h.01M602.8 1033.0h.01M603.4 1032.0h.01M603.8 1033.5h.01M604.7 1030.9h.01M605.4 1031.8h.01M605.4 1030.5h.01M605.7 1031.4h.01M606.1 1032.2h.01M606.5 1030.4h.01M606.7 1033.0h.01M606.9 1032.7h.01M607.6 1031.8h.01M607.8 1031.1h.01M607.9 1031.0h.01M608.4 1031.8h.01M608.4 1032.3h.01M608.5 1032.6h.01M608.6 1031.3h.01M609.3 1031.4h.01M609.7 1030.5h.01M610.0 1033.1h.01M610.2 1032.4h.01M611.8 1030.7h.01M611.9 1030.8h.01M612.6 1031.9h.01M612.7 1033.0h.01M612.8 1031.2h.01M612.9 1030.3h.01M613.4 1031.5h.01M613.9 1032.9h.01M614.1 1030.7h.01M614.1 1033.1h.01M614.2 1031.5h.01M614.7 1032.2h.01M615.2 1030.9h.01M615.5 1030.7h.01M616.2 1033.0h.01M616.3 1032.5h.01M616.4 1033.5h.01M616.5 1031.6h.01M616.5 1033.5h.01M617.1 1031.2h.01M617.9 1033.0h.01M617.9 1032.6h.01M618.6 1032.8h.01M618.6 1030.7h.01M620.0 1031.7h.01M620.3 1031.2h.01M620.6 1030.5h.01M621.1 1033.2h.01M621.2 1031.0h.01M621.5 1031.1h.01M622.8 1030.7h.01M622.9 1030.9h.01M623.1 1031.4h.01M623.3 1033.5h.01M624.3 1030.9h.01M625.3 1030.2h.01M625.7 1033.8h.01M626.0 1031.3h.01M626.8 1031.8h.01M627.4 1031.0h.01M628.0 1031.7h.01M628.2 1033.3h.01M628.3 1033.2h.01M629.4 1033.9h.01M629.6 1034.2h.01M629.8 1031.9h.01M630.2 1031.4h.01M630.9 1031.6h.01M631.1 1031.5h.01M631.5 1030.9h.01M631.8 1034.1h.01M632.1 1031.0h.01M633.0 1031.4h.01M633.5 1033.6h.01M633.6 1030.8h.01M634.3 1033.9h.01M634.6 1031.3h.01M635.2 1030.9h.01M635.9 1031.0h.01M636.3 1033.2h.01M636.5 1030.9h.01M636.6 1031.5h.01M636.7 1032.5h.01M637.1 1032.9h.01M637.2 1033.5h.01M637.4 1033.8h.01M637.6 1031.6h.01M638.6 1031.0h.01M639.1 1032.9h.01M639.3 1030.9h.01M639.3 1033.3h.01M640.3 1030.7h.01M640.6 1030.4h.01M641.7 1030.9h.01M641.9 1030.6h.01M642.2 1033.3h.01M643.5 1030.1h.01M643.7 1033.1h.01M643.9 1031.2h.01M644.7 1032.6h.01M644.7 1033.5h.01M644.8 1033.1h.01M645.7 1030.9h.01M646.5 1032.7h.01M646.9 1031.0h.01M647.3 1032.8h.01M647.7 1030.2h.01M648.3 1031.0h.01M648.5 1033.0h.01M649.2 1031.2h.01M649.4 1032.8h.01M649.5 1032.5h.01M649.6 1032.1h.01M649.7 1033.3h.01M649.8 1030.5h.01M650.2 1031.3h.01M650.2 1033.1h.01M651.1 1031.0h.01M651.3 1030.8h.01M651.3 1031.6h.01M651.7 1033.3h.01M652.1 1031.4h.01M652.1 1033.2h.01M653.0 1033.0h.01M653.8 1033.5h.01M654.4 1030.4h.01M654.4 1033.0h.01M654.6 1033.6h.01M655.9 1031.7h.01M656.4 1031.0h.01M657.4 1033.8h.01M657.5 1033.3h.01M658.3 1032.2h.01M658.9 1033.3h.01M659.0 1031.0h.01M659.5 1030.7h.01M660.1 1031.0h.01M660.6 1031.5h.01M661.7 1032.8h.01M661.7 1033.7h.01M662.3 1033.5h.01M662.8 1030.3h.01M663.5 1032.5h.01M663.9 1030.4h.01M663.9 1030.8h.01M664.2 1032.8h.01M665.6 1031.8h.01M665.8 1031.2h.01M665.9 1030.7h.01M666.4 1032.8h.01M666.6 1030.6h.01M667.0 1033.1h.01M668.1 1029.9h.01M668.2 1032.5h.01M668.5 1032.7h.01M669.0 1033.3h.01M669.6 1030.4h.01M669.7 1031.0h.01M670.0 1030.6h.01M671.0 1030.5h.01M671.2 1033.3h.01M671.2 1030.5h.01M671.5 1033.1h.01M672.0 1030.5h.01M672.9 1033.1h.01M673.1 1032.2h.01M673.1 1031.1h.01M673.2 1032.5h.01M673.6 1030.7h.01M673.9 1030.5h.01M674.1 1033.4h.01M674.6 1030.9h.01M675.2 1033.2h.01M676.1 1033.8h.01M676.4 1031.4h.01M676.5 1030.9h.01M677.1 1033.3h.01M677.8 1034.0h.01M678.0 1033.4h.01M678.3 1033.6h.01M678.8 1030.9h.01M679.7 1030.9h.01M680.0 1031.5h.01M680.8 1031.4h.01M681.1 1033.8h.01M681.6 1031.7h.01M682.4 1030.8h.01M682.6 1031.1h.01M683.3 1033.5h.01M683.7 1033.1h.01M683.8 1032.6h.01M683.9 1031.2h.01M684.9 1030.9h.01M685.0 1031.5h.01M686.1 1032.5h.01M686.2 1030.7h.01M686.6 1031.0h.01M686.8 1032.8h.01M687.2 1033.8h.01M687.8 1031.3h.01M689.2 1031.0h.01M689.8 1030.2h.01M690.1 1032.9h.01M690.3 1031.0h.01M690.3 1032.2h.01M690.4 1031.7h.01M690.5 1031.4h.01M691.4 1031.9h.01M691.4 1033.9h.01M691.6 1033.1h.01M692.1 1033.6h.01M693.1 1031.0h.01M693.3 1033.1h.01M693.8 1030.7h.01M694.0 1031.3h.01M694.1 1033.5h.01M694.4 1032.4h.01M694.6 1032.5h.01M695.9 1031.0h.01M696.7 1032.9h.01M697.0 1033.8h.01M697.8 1031.0h.01M697.9 1031.3h.01M699.0 1033.9h.01M699.3 1033.5h.01M700.1 1031.0h.01M701.2 1031.1h.01M701.7 1033.9h.01M702.7 1030.9h.01M702.7 1031.2h.01M703.0 1032.5h.01M703.0 1032.5h.01M703.7 1031.3h.01M704.1 1032.5h.01M704.5 1033.5h.01M704.7 1031.2h.01M705.1 1030.7h.01M705.7 1033.1h.01M706.0 1031.2h.01M706.2 1032.4h.01M706.3 1030.0h.01M706.5 1031.5h.01M707.5 1031.9h.01M707.9 1030.1h.01M708.0 1030.6h.01M708.0 1031.4h.01M708.1 1032.3h.01M708.2 1032.7h.01M708.7 1030.1h.01M708.7 1029.7h.01M708.8 1032.1h.01M708.9 1030.5h.01M709.1 1030.7h.01M709.4 1031.8h.01M710.6 1032.1h.01M710.7 1030.3h.01M710.8 1031.9h.01M710.9 1031.5h.01M711.0 1031.2h.01M711.7 1032.5h.01M711.7 1032.3h.01M712.7 1030.7h.01M713.2 1030.0h.01M713.4 1032.3h.01M713.9 1032.6h.01M714.0 1032.9h.01M714.1 1030.2h.01M714.3 1030.0h.01M715.0 1030.7h.01M715.3 1030.2h.01M715.8 1032.3h.01M716.4 1032.2h.01M716.4 1031.1h.01M716.6 1032.5h.01M717.0 1031.1h.01M717.1 1030.7h.01M717.6 1030.4h.01M717.9 1033.2h.01M718.5 1032.7h.01M718.5 1032.3h.01M718.9 1032.1h.01M719.0 1031.9h.01M719.1 1031.6h.01M719.7 1030.3h.01M720.0 1033.2h.01M720.1 1033.3h.01M720.4 1032.6h.01M720.6 1033.0h.01M721.2 1030.8h.01M721.4 1032.7h.01M722.2 1033.0h.01M722.8 1030.9h.01M723.1 1033.3h.01M723.6 1032.2h.01M724.0 1031.2h.01M724.3 1031.5h.01M724.7 1032.9h.01M725.5 1032.1h.01M725.7 1033.2h.01M725.8 1030.1h.01M726.8 1032.4h.01M727.0 1031.1h.01M727.1 1030.9h.01M727.3 1031.2h.01M727.5 1032.2h.01M727.5 1032.9h.01M727.7 1031.7h.01M728.2 1033.0h.01M729.1 1032.7h.01M730.5 1033.7h.01M730.5 1030.7h.01M730.7 1033.1h.01M731.4 1030.3h.01M732.0 1033.5h.01M732.7 1033.8h.01M732.9 1033.0h.01M733.0 1032.8h.01M733.9 1030.9h.01M734.2 1031.4h.01M734.2 1033.3h.01M734.8 1030.7h.01M735.6 1032.8h.01M735.6 1032.5h.01M735.7 1031.8h.01M736.5 1033.0h.01M737.0 1030.4h.01M737.3 1032.8h.01M737.5 1030.8h.01M737.6 1032.1h.01M737.7 1031.7h.01M737.9 1031.9h.01M738.0 1031.6h.01M738.1 1032.4h.01M738.3 1030.1h.01M738.3 1030.6h.01M738.9 1029.9h.01M739.3 1030.3h.01M740.1 1031.2h.01M740.2 1032.8h.01M740.4 1032.2h.01M740.8 1032.6h.01M742.1 1032.9h.01M742.2 1030.2h.01M742.4 1032.6h.01M742.4 1030.4h.01M742.7 1032.4h.01M742.9 1033.0h.01M742.9 1031.4h.01M743.0 1032.9h.01M744.1 1033.4h.01M744.5 1030.5h.01M745.6 1030.8h.01M745.8 1032.3h.01M746.1 1032.8h.01M747.5 1031.4h.01M747.5 1033.0h.01M747.6 1030.5h.01M747.8 1032.0h.01M747.8 1030.1h.01M749.3 1030.6h.01M749.5 1032.4h.01M749.9 1032.9h.01M750.3 1032.7h.01M750.3 1030.7h.01M751.1 1032.2h.01M751.1 1030.2h.01M751.9 1030.2h.01M752.6 1030.6h.01M753.0 1032.7h.01M753.2 1031.5h.01M754.3 1030.4h.01M754.4 1030.9h.01M754.6 1032.5h.01M754.7 1031.2h.01M754.8 1032.0h.01M755.0 1030.6h.01M755.2 1031.1h.01M755.3 1031.7h.01M756.1 1032.1h.01M757.4 1032.9h.01M757.8 1029.7h.01M758.3 1030.7h.01M758.5 1032.5h.01M760.0 1030.7h.01M760.4 1033.7h.01M761.3 1030.9h.01M762.1 1030.3h.01M762.4 1033.1h.01M763.6 1030.2h.01M763.9 1032.6h.01M764.3 1033.0h.01M764.6 1033.5h.01M765.3 1030.6h.01M765.9 1032.6h.01M767.4 1032.2h.01M767.7 1033.0h.01M768.1 1030.9h.01M768.7 1031.0h.01M768.9 1033.4h.01M768.9 1031.4h.01M768.9 1033.6h.01M769.5 1033.3h.01M769.7 1031.3h.01M770.0 1032.1h.01M770.1 1031.3h.01M770.6 1030.9h.01M770.8 1032.3h.01M771.0 1031.4h.01M771.6 1032.9h.01M772.1 1030.4h.01M772.2 1032.4h.01M772.4 1033.1h.01M772.5 1031.0h.01M773.0 1033.3h.01M773.3 1031.6h.01M773.3 1030.7h.01M774.5 1031.0h.01M774.6 1033.3h.01M775.3 1031.0h.01M775.8 1033.5h.01M776.3 1030.7h.01M777.1 1033.4h.01M777.5 1030.9h.01M777.5 1031.9h.01M778.1 1033.7h.01M779.0 1030.8h.01M779.5 1032.9h.01M779.7 1033.5h.01M779.9 1033.0h.01M780.3 1030.5h.01M780.8 1032.8h.01M781.0 1033.6h.01M781.0 1033.0h.01M781.3 1030.9h.01M782.3 1030.5h.01M784.2 1030.9h.01M784.3 1033.1h.01M784.5 1030.7h.01M784.6 1033.5h.01M785.4 1030.5h.01M785.7 1032.9h.01M785.9 1033.5h.01M786.1 1030.6h.01M786.6 1030.6h.01M787.8 1032.3h.01M787.8 1033.0h.01M787.9 1033.0h.01M788.1 1030.7h.01M788.1 1032.2h.01M788.5 1033.4h.01M788.5 1032.5h.01M789.1 1031.4h.01M789.4 1033.2h.01M790.1 1032.0h.01M790.3 1031.3h.01M790.6 1030.9h.01M792.0 1033.1h.01M792.7 1034.1h.01M793.2 1030.7h.01M793.4 1032.9h.01M794.6 1030.4h.01M794.7 1030.8h.01M795.3 1031.1h.01M795.9 1032.7h.01M796.1 1032.8h.01M796.5 1032.4h.01M797.3 1033.1h.01M797.4 1030.5h.01M797.6 1030.2h.01M798.4 1032.9h.01M799.0 1030.1h.01M799.6 1030.2h.01M799.8 1032.9h.01M799.9 1031.0h.01M799.9 1033.3h.01M801.7 1031.0h.01M802.2 1033.1h.01M802.2 1033.3h.01M802.6 1032.6h.01M802.7 1030.3h.01M803.1 1031.2h.01M803.2 1032.8h.01M803.8 1031.5h.01M804.4 1030.5h.01M804.5 1033.2h.01M804.6 1032.8h.01M805.6 1031.0h.01M805.6 1032.7h.01M806.2 1032.4h.01M807.1 1031.0h.01M807.2 1033.4h.01M808.5 1031.8h.01M808.6 1033.0h.01M808.7 1031.1h.01M808.8 1033.6h.01M809.0 1033.8h.01M809.7 1030.9h.01M810.3 1032.3h.01M810.4 1033.6h.01M810.5 1033.3h.01M810.7 1033.1h.01M811.0 1033.9h.01M811.5 1031.2h.01M812.2 1032.9h.01M812.4 1032.6h.01M813.1 1033.8h.01M813.2 1031.7h.01M813.5 1031.2h.01M813.6 1033.2h.01M814.2 1030.9h.01M814.5 1033.9h.01M815.1 1031.7h.01M816.0 1033.4h.01M816.4 1032.3h.01M816.7 1032.8h.01M816.8 1030.8h.01M817.2 1031.4h.01M817.5 1033.6h.01M817.9 1031.8h.01M818.2 1032.7h.01M818.4 1032.9h.01M819.4 1030.8h.01M819.5 1033.3h.01M819.5 1030.5h.01M821.4 1030.3h.01M821.7 1034.0h.01M821.8 1033.9h.01M823.0 1032.7h.01M823.3 1028.4h.01M823.9 1025.2h.01M824.1 1026.0h.01M824.1 1022.4h.01M824.2 1018.3h.01M824.2 1019.1h.01M824.2 1020.2h.01M824.5 1022.8h.01M825.1 1032.5h.01M825.5 1013.2h.01M825.5 1012.6h.01M825.5 1015.0h.01M826.0 1011.9h.01M826.1 1031.4h.01M827.0 1010.4h.01M827.1 1031.4h.01M827.2 1031.5h.01M827.8 1031.2h.01M827.9 1005.7h.01M827.9 1008.0h.01M828.1 1004.2h.01M828.1 999.2h.01M828.1 1000.1h.01M828.2 1003.2h.01M828.2 1006.9h.01M828.9 976.4h.01M828.9 969.0h.01M829.2 1029.6h.01M829.8 1029.4h.01M829.8 1028.8h.01M829.9 987.0h.01M830.0 996.9h.01M830.0 995.1h.01M830.1 982.6h.01M830.5 992.1h.01M830.5 992.6h.01M833.4 983.3h.01M834.0 1028.4h.01M834.7 1029.3h.01M836.0 1030.4h.01M836.0 1029.9h.01M836.6 984.4h.01M837.1 985.5h.01M837.1 973.4h.01M837.1 981.1h.01M837.1 977.3h.01M837.2 972.9h.01M837.2 975.8h.01M837.3 980.6h.01M837.3 983.2h.01M837.3 979.9h.01M837.3 993.0h.01M837.6 976.8h.01M838.1 1031.2h.01M838.3 992.3h.01M838.3 987.1h.01M838.3 987.9h.01M838.3 990.4h.01M838.4 993.9h.01M838.4 997.6h.01M838.6 1031.1h.01M839.5 1031.8h.01M839.7 1000.3h.01M840.1 1032.3h.01M840.5 1032.2h.01M840.5 1032.3h.01M842.9 1031.6h.01M843.3 1031.8h.01M843.6 1000.2h.01M846.0 1031.3h.01M847.8 996.3h.01M847.9 996.2h.01M847.9 999.0h.01M848.1 1003.7h.01M848.6 1031.8h.01M849.4 1007.6h.01M849.4 1001.9h.01M849.4 996.8h.01M849.4 992.7h.01M849.4 991.9h.01M849.5 992.1h.01M849.5 992.3h.01M849.5 996.1h.01M849.5 1001.6h.01M849.5 1007.6h.01M849.7 1012.0h.01M850.2 1008.5h.01M850.3 1009.6h.01M850.3 1012.1h.01M850.3 1015.6h.01M850.7 1032.9h.01M850.7 1032.7h.01M853.4 1031.9h.01M853.6 1019.5h.01M853.7 1017.9h.01M853.7 1016.8h.01M853.8 1018.4h.01M853.8 1019.5h.01M857.7 1031.5h.01M857.8 1031.3h.01M858.7 1022.8h.01M858.7 1022.2h.01M859.4 1032.6h.01M859.4 1032.1h.01M860.7 1020.0h.01M860.7 1019.4h.01M862.0 1032.6h.01M862.8 1018.4h.01M862.9 1017.9h.01M864.8 1015.9h.01M865.2 1032.6h.01M865.2 1032.4h.01M866.1 1032.4h.01M866.9 1014.8h.01M867.2 1014.7h.01M869.0 1032.6h.01M870.1 1015.9h.01M870.1 1014.1h.01M870.2 1013.8h.01M870.2 1015.4h.01M870.9 1019.0h.01M872.3 1032.5h.01M873.8 1019.2h.01M873.8 1019.3h.01M873.8 1019.8h.01M874.3 1032.4h.01M876.2 1031.9h.01M877.0 1031.6h.01M877.2 1031.8h.01M877.6 1016.8h.01M877.7 1015.6h.01M877.7 1013.9h.01M877.8 1014.1h.01M878.2 1011.2h.01M878.3 1009.5h.01M879.0 1027.9h.01M879.0 1028.7h.01M879.1 1004.3h.01M879.1 1000.6h.01M879.1 1000.4h.01M879.2 1006.1h.01M879.2 1022.1h.01M879.3 1025.6h.01M879.3 1026.5h.01M879.4 1004.4h.01M879.4 1027.3h.01M879.4 1030.0h.01M879.5 1029.7h.01M879.5 1027.8h.01M879.5 1023.5h.01M879.7 1002.8h.01M879.7 997.2h.01M879.8 995.4h.01M879.8 993.3h.01M879.8 990.7h.01M879.8 987.9h.01M879.8 984.9h.01M879.8 982.2h.01M879.9 980.0h.01M879.9 978.6h.01M879.9 978.5h.01M879.9 983.5h.01M879.9 891.0h.01M879.9 989.2h.01M880.0 997.2h.01M880.0 987.8h.01M880.1 969.5h.01M880.1 962.7h.01M880.1 957.5h.01M880.1 953.7h.01M880.2 950.4h.01M880.2 950.8h.01M880.2 955.1h.01M880.2 958.5h.01M880.2 962.3h.01M880.2 966.3h.01M880.3 970.2h.01M880.3 973.7h.01M880.3 976.8h.01M880.3 982.2h.01M880.4 988.1h.01M880.4 874.9h.01M880.4 996.0h.01M880.4 985.2h.01M880.5 975.5h.01M880.5 963.9h.01M880.5 938.3h.01M880.5 925.5h.01M880.5 913.2h.01M880.6 901.7h.01M880.6 873.9h.01M880.6 870.7h.01M880.7 866.5h.01M880.7 904.6h.01M880.7 867.5h.01M880.7 882.9h.01M880.7 891.9h.01M880.7 888.5h.01M880.7 880.9h.01M880.7 900.8h.01M880.7 908.9h.01M880.7 914.9h.01M880.8 925.1h.01M880.8 927.4h.01M880.8 928.0h.01M880.8 908.6h.01M880.9 923.0h.01M880.9 921.1h.01M880.9 883.8h.01M881.0 917.5h.01M881.0 918.9h.01M881.0 935.5h.01M881.0 947.1h.01M881.1 1020.4h.01M881.2 931.3h.01M881.2 896.7h.01M881.2 938.5h.01M881.4 946.4h.01M881.4 941.9h.01M881.4 940.6h.01M881.4 944.5h.01M881.6 905.7h.01M881.6 897.8h.01M881.6 894.8h.01M881.6 896.4h.01M881.7 910.0h.01M881.7 912.6h.01M881.8 915.6h.01M881.9 911.7h.01M882.0 943.3h.01M882.1 912.8h.01M882.7 915.8h.01M882.7 908.7h.01M882.8 884.0h.01M883.2 911.1h.01M883.3 871.0h.01M885.4 1021.9h.01M885.9 872.3h.01M885.9 876.4h.01M886.2 928.1h.01M886.2 929.2h.01M886.3 1020.4h.01M886.3 886.0h.01M886.3 854.4h.01M886.3 834.1h.01M886.5 904.2h.01M886.5 867.2h.01M886.5 869.3h.01M886.5 858.1h.01M886.5 865.4h.01M886.5 854.4h.01M886.6 859.8h.01M886.6 874.4h.01M886.6 897.0h.01M886.6 925.1h.01M886.9 919.7h.01M886.9 860.9h.01M886.9 906.2h.01M886.9 895.4h.01M886.9 885.4h.01M886.9 881.0h.01M886.9 893.0h.01M887.0 903.4h.01M887.0 839.6h.01M887.0 918.2h.01M887.2 920.6h.01M887.2 904.7h.01M887.2 889.3h.01M887.2 876.4h.01M887.2 868.1h.01M887.2 866.3h.01M887.3 871.4h.01M887.3 883.0h.01M887.3 899.5h.01M887.3 919.0h.01M887.3 848.1h.01M887.5 887.5h.01M887.7 1019.5h.01M887.8 883.4h.01M888.8 1019.8h.01M888.8 1018.3h.01M889.3 935.6h.01M889.4 931.3h.01M889.4 934.4h.01M890.1 939.2h.01M890.1 940.9h.01M890.1 942.7h.01M891.2 943.3h.01M892.7 944.7h.01M892.7 945.3h.01M893.4 1016.1h.01M895.9 1016.7h.01M896.1 1017.1h.01M897.0 1016.3h.01M897.8 946.3h.01M898.4 940.3h.01M898.4 939.3h.01M898.5 943.5h.01M898.6 943.5h.01M898.7 944.9h.01M898.8 943.4h.01M898.9 935.1h.01M898.9 928.8h.01M898.9 924.9h.01M898.9 928.2h.01M899.6 924.3h.01M899.6 912.2h.01M899.6 902.5h.01M899.7 896.1h.01M899.7 893.1h.01M899.7 903.3h.01M899.7 899.6h.01M899.7 906.8h.01M899.8 909.2h.01M899.8 863.9h.01M899.8 908.1h.01M899.9 893.8h.01M899.9 890.9h.01M899.9 898.8h.01M900.0 920.0h.01M900.0 876.1h.01M900.0 934.3h.01M900.0 870.5h.01M900.0 895.6h.01M900.1 890.5h.01M900.2 914.5h.01M900.3 894.5h.01M900.3 895.9h.01M900.3 899.0h.01M900.3 907.5h.01M900.3 910.7h.01M900.4 912.0h.01M900.4 911.1h.01M900.4 908.3h.01M900.4 904.4h.01M900.4 900.7h.01M900.5 920.9h.01M900.7 882.3h.01M900.9 885.2h.01M901.1 947.6h.01M901.1 925.0h.01M901.1 916.4h.01M901.2 907.6h.01M901.2 899.2h.01M901.2 891.4h.01M901.2 877.9h.01M901.2 873.7h.01M901.3 874.0h.01M901.3 875.6h.01M901.4 876.8h.01M901.4 883.2h.01M901.4 901.3h.01M901.6 1015.9h.01M902.8 1016.8h.01M903.2 941.3h.01M903.2 923.2h.01M903.3 916.4h.01M903.3 917.2h.01M903.3 920.1h.01M903.3 924.5h.01M903.3 929.7h.01M905.0 943.9h.01M905.6 1016.8h.01M907.8 933.7h.01M907.8 928.9h.01M907.8 928.1h.01M907.9 931.4h.01M908.1 1019.6h.01M908.1 1020.0h.01M909.0 941.0h.01M909.0 937.5h.01M909.1 938.2h.01M909.1 942.1h.01M909.5 951.2h.01M909.6 947.3h.01M909.6 943.1h.01M909.6 943.9h.01M911.9 1021.0h.01M912.8 1021.3h.01M913.7 946.6h.01M914.0 951.3h.01M914.1 937.5h.01M914.5 946.1h.01M914.5 946.4h.01M914.7 951.1h.01M914.7 953.3h.01M915.6 1021.1h.01M915.8 957.4h.01M915.8 956.3h.01M917.0 1023.2h.01M917.0 1023.5h.01M917.2 961.3h.01M917.7 1022.6h.01M918.7 962.5h.01M920.1 965.0h.01M921.5 1023.7h.01M922.7 1021.3h.01M924.1 1020.2h.01M924.4 958.5h.01M924.5 952.9h.01M924.5 949.6h.01M924.5 949.1h.01M924.5 951.5h.01M924.5 956.4h.01M924.5 963.2h.01M925.3 1017.0h.01M925.7 964.0h.01M925.7 961.3h.01M925.7 960.9h.01M926.2 956.0h.01M926.2 954.1h.01M926.2 957.7h.01M926.2 961.9h.01M926.5 966.0h.01M926.5 960.0h.01M926.5 953.9h.01M926.5 948.2h.01M926.5 943.4h.01M926.5 940.1h.01M926.6 938.7h.01M926.6 939.7h.01M926.6 943.0h.01M926.6 948.5h.01M926.6 955.9h.01M926.6 964.6h.01M927.5 970.6h.01M927.8 969.8h.01M927.8 967.8h.01M927.8 971.2h.01M928.4 972.7h.01M930.3 1018.0h.01M930.3 1021.4h.01M930.3 1020.9h.01M931.0 1019.9h.01M931.5 967.9h.01M931.5 956.7h.01M931.5 949.0h.01M931.6 947.8h.01M931.6 952.5h.01M931.6 959.9h.01M933.9 970.3h.01M934.0 965.9h.01M934.0 969.4h.01M934.3 965.9h.01M934.4 971.0h.01M934.6 1022.4h.01M934.6 1022.5h.01M936.4 1023.6h.01M937.9 965.6h.01M938.0 962.1h.01M938.0 959.7h.01M938.0 960.8h.01M938.0 962.9h.01M938.0 965.5h.01M938.4 967.2h.01M938.5 960.0h.01M938.5 951.5h.01M938.5 943.0h.01M938.6 942.3h.01M938.6 951.2h.01M938.6 966.4h.01M938.6 963.2h.01M938.7 954.0h.01M938.7 941.3h.01M938.8 940.9h.01M938.8 943.2h.01M938.8 952.0h.01M938.9 960.2h.01M940.4 945.8h.01M940.4 934.7h.01M940.5 931.6h.01M940.5 931.5h.01M940.5 955.3h.01M940.6 969.5h.01M940.7 955.5h.01M941.3 929.0h.01M941.6 950.2h.01M941.6 937.2h.01M941.6 959.4h.01M941.8 1024.3h.01M942.3 961.1h.01M942.3 939.9h.01M942.3 932.7h.01M942.3 932.8h.01M942.3 933.1h.01M942.4 937.3h.01M942.4 956.8h.01M942.5 943.3h.01M944.4 1024.3h.01M944.9 1024.2h.01M945.4 967.7h.01M945.4 965.7h.01M945.4 964.7h.01M945.6 1025.1h.01M945.6 1024.5h.01M945.9 966.7h.01M945.9 961.5h.01M945.9 954.7h.01M945.9 947.2h.01M946.0 946.9h.01M946.1 946.7h.01M946.1 953.3h.01M946.1 962.3h.01M948.0 960.9h.01M948.6 1024.1h.01M948.6 1024.4h.01M951.2 953.2h.01M951.2 943.7h.01M951.2 935.8h.01M951.3 930.7h.01M951.3 929.5h.01M951.3 932.4h.01M951.3 939.2h.01M951.3 949.0h.01M951.5 956.9h.01M951.8 1025.0h.01M951.8 1025.5h.01M952.0 955.3h.01M952.1 956.7h.01M952.1 926.0h.01M952.2 943.9h.01M952.5 916.2h.01M952.5 956.9h.01M952.6 940.3h.01M952.6 935.4h.01M952.6 927.6h.01M952.7 930.1h.01M952.7 932.0h.01M952.7 936.7h.01M952.8 937.8h.01M952.8 939.1h.01M952.8 941.0h.01M952.8 947.9h.01M952.8 953.4h.01M953.0 1025.3h.01M953.4 956.1h.01M953.4 944.0h.01M953.4 936.5h.01M953.4 933.9h.01M953.5 941.9h.01M953.5 919.3h.01M954.4 1025.1h.01M956.5 959.4h.01M956.6 951.8h.01M956.6 948.9h.01M957.2 963.8h.01M958.2 1025.6h.01M958.3 1025.7h.01M958.7 1025.6h.01M961.2 977.5h.01M961.3 967.4h.01M961.3 975.1h.01M961.6 976.1h.01M961.8 964.2h.01M961.8 970.3h.01M961.9 972.6h.01M961.9 973.3h.01M961.9 976.7h.01M961.9 980.1h.01M962.1 1023.9h.01M964.6 983.5h.01M965.2 1025.3h.01M966.2 1026.2h.01M966.2 1025.9h.01M966.8 1025.8h.01M966.9 1025.6h.01M967.9 979.6h.01M967.9 978.4h.01M968.7 976.7h.01M968.7 973.2h.01M968.7 970.8h.01M968.8 969.6h.01M968.8 973.0h.01M970.3 1023.6h.01M970.3 1023.5h.01M973.0 1024.0h.01M973.5 964.7h.01M973.5 958.9h.01M973.5 956.7h.01M973.5 964.2h.01M973.6 972.4h.01M974.5 964.6h.01M974.6 954.8h.01M974.6 951.7h.01M974.6 949.5h.01M974.6 970.7h.01M975.5 966.7h.01M976.4 940.2h.01M976.4 931.3h.01M976.4 924.9h.01M976.4 921.7h.01M976.4 922.3h.01M976.5 926.4h.01M976.5 932.9h.01M976.5 940.6h.01M976.5 947.9h.01M976.5 953.5h.01M976.6 947.6h.01M976.7 949.2h.01M976.7 965.0h.01M976.9 967.0h.01M977.0 954.7h.01M977.1 893.8h.01M977.1 1024.2h.01M977.2 873.9h.01M977.3 964.6h.01M977.3 947.1h.01M977.3 932.1h.01M977.3 921.2h.01M977.3 915.0h.01M977.3 913.8h.01M977.3 905.5h.01M977.4 917.5h.01M977.4 925.8h.01M977.4 896.1h.01M977.4 937.6h.01M977.4 951.8h.01M977.4 967.0h.01M977.5 887.1h.01M977.6 903.7h.01M977.6 876.8h.01M977.7 900.0h.01M977.7 880.6h.01M977.7 891.9h.01M977.8 870.3h.01M978.7 1023.1h.01M978.7 1022.4h.01M979.5 1021.2h.01M979.5 1021.7h.01M979.8 971.3h.01M980.3 961.3h.01M980.4 944.5h.01M980.4 935.5h.01M980.5 938.5h.01M980.5 957.5h.01M983.3 961.7h.01M983.3 952.0h.01M983.4 941.6h.01M983.4 945.4h.01M983.4 952.4h.01M983.4 962.1h.01M983.6 969.3h.01M983.6 955.3h.01M983.6 931.7h.01M983.6 922.7h.01M983.6 916.1h.01M983.7 910.4h.01M983.7 911.5h.01M983.7 915.1h.01M983.7 920.9h.01M983.7 928.3h.01M983.8 936.8h.01M983.8 945.4h.01M983.8 967.0h.01M984.7 911.2h.01M984.9 914.5h.01M985.1 1021.7h.01M985.2 919.6h.01M985.3 904.5h.01M985.8 926.3h.01M986.2 929.2h.01M986.2 923.1h.01M986.3 956.2h.01M986.3 950.1h.01M986.3 944.1h.01M986.4 948.5h.01M986.7 953.3h.01M986.7 946.0h.01M986.8 939.7h.01M986.8 941.1h.01M986.8 945.2h.01M986.8 952.0h.01M986.8 960.4h.01M987.2 1024.6h.01M987.3 1024.8h.01M988.1 1026.0h.01M988.8 1027.0h.01M989.8 1026.1h.01M990.5 961.4h.01M990.6 961.1h.01M993.3 960.1h.01M993.3 951.4h.01M993.3 943.2h.01M993.3 941.6h.01M993.4 941.4h.01M993.4 944.5h.01M993.4 954.5h.01M993.8 975.1h.01M993.8 970.7h.01M993.9 965.5h.01M993.9 966.8h.01M993.9 953.5h.01M993.9 969.4h.01M993.9 973.3h.01M994.0 947.8h.01M994.4 957.1h.01M994.5 938.6h.01M994.6 960.3h.01M994.6 1024.1h.01M995.6 1023.3h.01M997.5 976.9h.01M998.3 1023.7h.01M999.0 1023.8h.01M1001.2 976.2h.01M1001.4 973.3h.01M1001.4 966.9h.01M1001.4 960.0h.01M1001.4 952.9h.01M1001.5 952.1h.01M1001.5 952.1h.01M1001.6 952.0h.01M1001.7 954.6h.01M1001.7 961.0h.01M1001.7 966.1h.01M1001.7 970.1h.01M1001.7 972.9h.01M1002.0 966.2h.01M1002.1 959.7h.01M1002.1 960.7h.01M1002.1 962.7h.01M1002.1 969.3h.01M1002.2 973.6h.01M1002.5 1022.8h.01M1003.3 1024.1h.01M1004.3 971.2h.01M1004.3 970.5h.01M1005.7 961.8h.01M1006.1 1022.7h.01M1006.5 1023.4h.01M1006.6 948.2h.01M1006.6 957.2h.01M1006.7 972.4h.01M1007.6 1022.5h.01M1010.8 973.4h.01M1012.0 1022.5h.01M1012.0 1022.5h.01M1012.2 954.0h.01M1012.2 969.5h.01M1012.2 967.7h.01M1012.2 965.8h.01M1012.2 963.9h.01M1012.2 962.0h.01M1012.3 960.2h.01M1012.3 958.4h.01M1012.3 956.6h.01M1012.3 954.7h.01M1012.3 952.7h.01M1012.3 950.5h.01M1012.4 947.9h.01M1012.4 945.1h.01M1012.4 941.9h.01M1012.4 938.5h.01M1012.5 935.6h.01M1012.7 934.3h.01M1012.7 942.3h.01M1012.7 951.7h.01M1013.0 944.3h.01M1013.2 948.0h.01M1013.2 932.8h.01M1013.3 930.0h.01M1013.3 929.8h.01M1013.3 929.6h.01M1013.9 931.7h.01M1013.9 929.9h.01M1014.5 932.1h.01M1014.6 930.3h.01M1014.6 931.9h.01M1014.7 947.4h.01M1014.8 944.0h.01M1015.1 1020.1h.01M1016.2 942.4h.01M1016.3 937.3h.01M1016.3 948.3h.01M1017.2 1020.4h.01M1017.8 1019.2h.01M1017.8 1019.7h.01M1017.9 1019.4h.01M1019.0 1019.3h.01M1019.6 943.3h.01M1019.7 939.0h.01M1019.8 943.0h.01M1021.2 947.6h.01M1021.3 946.0h.01M1022.1 1018.6h.01M1022.1 1019.5h.01M1022.9 930.6h.01M1022.9 930.1h.01M1023.0 934.4h.01M1023.6 1018.2h.01M1024.8 929.9h.01M1025.2 911.9h.01M1026.2 925.4h.01M1026.2 920.8h.01M1026.2 918.0h.01M1026.3 921.2h.01M1026.4 918.4h.01M1026.4 918.0h.01M1026.4 931.3h.01M1026.4 922.4h.01M1026.4 925.8h.01M1026.4 930.1h.01M1026.5 934.8h.01M1026.5 952.7h.01M1026.5 956.2h.01M1026.6 959.4h.01M1026.7 935.5h.01M1026.9 925.8h.01M1027.4 955.8h.01M1027.4 948.2h.01M1027.4 942.9h.01M1027.4 940.4h.01M1027.4 941.0h.01M1027.4 945.1h.01M1027.5 952.4h.01M1027.5 962.4h.01M1027.6 1017.3h.01M1027.7 1017.8h.01M1027.7 1016.9h.01M1028.3 1017.9h.01M1032.4 1018.3h.01M1032.9 961.7h.01M1032.9 958.5h.01M1033.1 1019.1h.01M1033.8 935.9h.01M1034.4 931.1h.01M1034.4 959.0h.01M1034.5 952.1h.01M1034.5 944.4h.01M1034.5 931.2h.01M1034.5 927.6h.01M1034.5 926.8h.01M1034.5 928.5h.01M1034.6 924.7h.01M1034.6 932.4h.01M1034.6 937.8h.01M1034.6 943.9h.01M1034.6 949.9h.01M1034.6 949.6h.01M1034.6 955.3h.01M1034.8 945.7h.01M1034.9 1019.3h.01M1034.9 1019.7h.01M1035.0 943.4h.01M1035.1 938.5h.01M1036.9 1019.6h.01M1036.9 1020.1h.01M1037.8 963.7h.01M1037.8 953.7h.01M1037.9 954.2h.01M1037.9 963.8h.01M1039.0 960.4h.01M1039.0 954.6h.01M1039.0 972.0h.01M1039.1 973.6h.01M1039.5 1022.8h.01M1040.8 970.7h.01M1040.8 961.5h.01M1040.8 956.1h.01M1040.9 961.5h.01M1041.0 968.7h.01M1041.0 976.5h.01M1041.4 1023.2h.01M1041.7 1023.4h.01M1043.0 976.7h.01M1044.1 1025.3h.01M1044.3 1025.2h.01M1045.6 973.5h.01M1045.6 970.9h.01M1045.6 971.6h.01M1045.8 1025.2h.01M1045.8 1025.6h.01M1047.0 970.5h.01M1048.3 1025.6h.01M1048.8 968.5h.01M1048.8 957.3h.01M1048.8 964.1h.01M1049.0 958.8h.01M1049.0 951.6h.01M1049.0 946.8h.01M1049.0 944.9h.01M1049.1 946.2h.01M1049.1 950.0h.01M1049.1 955.5h.01M1049.1 961.6h.01M1049.1 967.1h.01M1049.6 1023.5h.01M1049.6 1024.2h.01M1049.7 934.3h.01M1050.2 939.8h.01M1050.8 950.2h.01M1050.8 952.6h.01M1053.7 1022.1h.01M1054.0 948.6h.01M1054.0 942.7h.01M1054.0 942.8h.01M1054.1 944.1h.01M1054.1 954.4h.01M1054.2 960.9h.01M1054.3 954.4h.01M1054.9 965.8h.01M1057.0 981.7h.01M1057.1 973.7h.01M1057.1 972.0h.01M1057.1 976.9h.01M1057.2 1023.3h.01M1057.3 984.5h.01M1057.3 973.6h.01M1057.4 972.0h.01M1057.4 976.5h.01M1057.4 981.6h.01M1057.4 987.5h.01M1057.5 992.7h.01M1057.6 993.2h.01M1057.8 990.6h.01M1057.8 980.7h.01M1057.8 970.2h.01M1057.9 960.0h.01M1057.9 956.9h.01M1057.9 957.1h.01M1057.9 957.5h.01M1058.0 960.6h.01M1058.0 969.7h.01M1058.0 978.7h.01M1058.0 986.9h.01M1058.0 993.9h.01M1060.8 1022.6h.01M1062.5 995.9h.01M1062.5 996.2h.01M1062.7 1024.0h.01M1063.2 1023.9h.01M1064.1 991.1h.01M1064.2 982.5h.01M1064.2 980.2h.01M1064.2 979.5h.01M1064.2 982.8h.01M1064.2 986.2h.01M1064.3 990.4h.01M1065.1 1025.2h.01M1065.3 1025.8h.01M1065.5 978.6h.01M1065.5 978.6h.01M1067.2 1025.7h.01M1067.4 1026.1h.01M1068.8 982.5h.01M1068.8 981.6h.01M1068.8 983.0h.01M1068.8 988.7h.01M1069.4 987.0h.01M1069.4 989.5h.01M1070.3 1024.5h.01M1070.6 993.5h.01M1070.6 994.5h.01M1070.7 996.5h.01M1071.0 1024.9h.01M1071.9 1023.9h.01M1071.9 1024.4h.01M1072.6 1000.3h.01M1075.0 1024.5h.01M1075.9 1000.4h.01M1075.9 1000.8h.01M1076.5 1027.0h.01M1077.5 1026.8h.01M1077.6 1027.2h.01M1079.3 1026.4h.01M1079.8 998.7h.01M1082.4 1026.0h.01M1083.6 1026.6h.01M1083.8 998.2h.01M1083.9 994.1h.01M1084.0 984.7h.01M1084.0 980.6h.01M1084.0 980.5h.01M1084.1 991.7h.01M1085.3 980.9h.01M1085.6 996.5h.01M1085.6 994.6h.01M1085.6 993.9h.01M1086.0 985.7h.01M1086.1 996.1h.01M1086.4 974.9h.01M1086.7 983.8h.01M1086.9 1026.9h.01M1086.9 1027.3h.01M1088.5 1026.8h.01M1088.7 1027.0h.01M1091.0 1026.3h.01M1091.4 990.0h.01M1091.4 990.7h.01M1091.4 993.0h.01M1091.4 996.3h.01M1091.8 1027.0h.01M1092.3 988.4h.01M1092.6 1026.6h.01M1093.6 987.7h.01M1093.6 979.4h.01M1093.6 980.5h.01M1093.7 984.5h.01M1094.0 1026.5h.01M1094.9 973.6h.01M1096.1 969.5h.01M1096.1 1026.1h.01M1097.3 977.0h.01M1097.3 977.1h.01M1097.9 1028.3h.01M1102.1 1028.1h.01M1102.2 984.5h.01M1102.3 980.4h.01M1102.3 981.6h.01M1102.3 985.8h.01M1102.3 988.2h.01M1102.4 990.4h.01M1102.5 996.8h.01M1102.7 995.8h.01M1102.7 993.6h.01M1102.7 990.7h.01M1102.8 987.1h.01M1102.8 978.0h.01M1102.8 976.4h.01M1103.0 978.9h.01M1103.0 982.0h.01M1103.0 986.1h.01M1103.1 991.5h.01M1103.1 997.9h.01M1103.1 1028.4h.01M1103.8 1028.1h.01M1104.5 1028.1h.01M1106.3 1027.3h.01M1108.0 998.9h.01M1109.6 987.1h.01M1109.6 975.5h.01M1109.7 975.5h.01M1109.8 975.3h.01M1109.8 975.2h.01M1109.9 979.4h.01M1109.9 989.7h.01M1109.9 997.7h.01M1110.5 1027.9h.01M1110.5 1027.3h.01M1112.9 1027.1h.01M1112.9 1027.6h.01M1113.2 993.6h.01M1113.4 981.8h.01M1113.4 984.2h.01M1113.4 981.2h.01M1113.6 993.9h.01M1113.8 988.1h.01M1113.8 986.2h.01M1113.9 992.7h.01M1114.2 971.7h.01M1114.4 991.0h.01M1114.4 989.6h.01M1114.5 985.1h.01M1114.5 984.8h.01M1114.6 988.0h.01M1114.6 990.4h.01M1116.6 1027.1h.01M1117.3 995.0h.01M1118.4 995.3h.01M1118.6 1027.1h.01M1119.5 1026.8h.01M1119.6 1026.6h.01M1120.7 991.1h.01M1120.8 979.5h.01M1120.8 974.3h.01M1120.8 970.1h.01M1120.8 968.1h.01M1120.9 972.8h.01M1120.9 976.8h.01M1120.9 980.5h.01M1120.9 983.6h.01M1120.9 985.9h.01M1121.0 987.5h.01M1121.0 990.8h.01M1121.8 1025.5h.01M1123.3 966.0h.01M1123.3 964.9h.01M1124.6 1024.9h.01M1125.7 962.1h.01M1125.8 957.8h.01M1126.3 1026.8h.01M1126.3 1026.3h.01M1126.9 1026.7h.01M1127.8 962.4h.01M1127.9 959.2h.01M1127.9 959.3h.01M1128.0 961.2h.01M1130.1 985.1h.01M1130.1 978.2h.01M1130.1 971.8h.01M1130.1 966.5h.01M1130.2 964.6h.01M1130.2 968.8h.01M1130.2 973.8h.01M1130.2 979.0h.01M1130.3 983.9h.01M1130.3 988.4h.01M1130.3 992.3h.01M1130.8 1001.0h.01M1130.8 998.3h.01M1130.9 996.1h.01M1130.9 999.7h.01M1131.2 1026.6h.01M1131.5 1025.6h.01M1132.0 1004.0h.01M1133.8 1004.3h.01M1133.8 1004.8h.01M1134.1 1026.3h.01M1134.1 1025.6h.01M1137.6 1004.4h.01M1138.3 1025.5h.01M1138.3 1025.8h.01M1138.4 1024.3h.01M1139.0 1000.8h.01M1139.0 997.9h.01M1139.0 996.0h.01M1139.1 996.1h.01M1140.2 1022.9h.01M1141.8 993.1h.01M1142.8 992.9h.01M1143.6 989.2h.01M1143.6 985.9h.01M1143.6 984.2h.01M1143.7 984.5h.01M1144.4 1025.7h.01M1144.8 985.5h.01M1144.8 982.5h.01M1144.8 981.3h.01M1145.4 987.9h.01M1145.6 975.3h.01M1145.7 978.1h.01M1148.7 1025.2h.01M1149.1 1025.8h.01M1150.1 1025.7h.01M1150.3 987.8h.01M1150.4 990.5h.01M1150.4 993.9h.01M1150.7 995.9h.01M1150.7 992.6h.01M1150.8 990.0h.01M1150.8 991.1h.01M1150.8 993.8h.01M1151.8 1025.5h.01M1151.8 1025.5h.01M1151.9 1024.9h.01M1156.2 997.2h.01M1156.2 993.3h.01M1156.2 989.9h.01M1156.2 987.4h.01M1156.2 986.2h.01M1156.2 986.7h.01M1156.6 1026.0h.01M1156.7 1025.7h.01M1159.5 1024.5h.01M1159.6 1024.2h.01M1160.6 983.9h.01M1161.1 1023.5h.01M1164.8 1024.6h.01M1165.2 979.4h.01M1165.2 978.0h.01M1165.2 982.0h.01M1165.7 981.0h.01M1166.5 974.0h.01M1166.5 972.7h.01M1166.5 977.8h.01M1166.5 970.2h.01M1167.2 968.9h.01M1167.3 949.3h.01M1167.3 961.1h.01M1167.4 946.5h.01M1167.5 953.1h.01M1167.7 1026.0h.01M1167.8 967.4h.01M1167.9 1025.3h.01M1168.0 1026.8h.01M1168.5 981.2h.01M1169.0 976.9h.01M1169.0 967.3h.01M1169.0 958.6h.01M1169.0 951.2h.01M1169.1 950.2h.01M1169.1 953.7h.01M1169.1 961.5h.01M1169.2 969.8h.01M1169.2 977.7h.01M1169.2 984.5h.01M1170.9 1025.9h.01M1171.4 987.8h.01M1174.8 1026.3h.01M1175.5 988.6h.01M1179.2 1026.2h.01M1179.3 1026.2h.01M1179.3 1026.4h.01M1179.9 986.6h.01M1180.0 986.2h.01M1180.0 985.1h.01M1180.2 1026.6h.01M1180.4 978.0h.01M1180.4 976.6h.01M1180.5 979.3h.01M1180.5 982.1h.01M1180.5 985.8h.01M1180.7 970.8h.01M1181.4 976.6h.01M1181.6 966.3h.01M1181.6 991.5h.01M1181.6 976.4h.01M1181.6 970.7h.01M1181.7 967.1h.01M1181.7 965.9h.01M1181.7 971.1h.01M1181.7 977.0h.01M1181.8 980.0h.01M1181.9 986.2h.01M1181.9 982.4h.01M1182.0 990.8h.01M1182.6 1025.8h.01M1182.6 1025.4h.01M1182.8 992.8h.01M1185.5 993.9h.01M1185.6 994.1h.01M1186.5 1026.1h.01M1187.0 1027.1h.01M1188.2 1027.8h.01M1188.2 1028.2h.01M1188.7 1027.6h.01M1188.7 1028.1h.01M1189.1 989.8h.01M1189.2 986.1h.01M1189.2 985.3h.01M1189.3 989.1h.01M1189.3 992.3h.01M1191.5 984.0h.01M1191.5 977.0h.01M1192.7 988.8h.01M1192.8 985.5h.01M1192.8 984.2h.01M1192.8 987.2h.01M1192.8 990.8h.01M1193.4 1028.3h.01M1193.5 1027.7h.01M1196.1 1000.0h.01M1196.3 1028.9h.01M1196.3 1028.5h.01M1196.9 1003.9h.01M1197.0 994.4h.01M1197.0 994.4h.01M1197.1 998.9h.01M1197.1 1003.4h.01M1201.2 1029.3h.01M1201.4 1029.4h.01M1201.4 1029.2h.01M1202.1 1006.8h.01M1202.5 1029.1h.01M1202.7 1005.4h.01M1203.4 1027.6h.01M1204.3 1027.2h.01M1206.4 1002.7h.01M1206.4 1004.2h.01M1206.6 1025.7h.01M1209.1 1001.7h.01M1209.1 994.4h.01M1209.2 992.9h.01M1209.2 997.4h.01M1209.7 1026.8h.01M1210.4 1026.9h.01M1210.4 1027.2h.01M1210.5 1026.8h.01M1213.5 1024.4h.01M1213.9 990.9h.01M1214.0 988.3h.01M1214.0 989.1h.01M1214.4 1024.8h.01M1214.5 1024.5h.01M1214.5 1025.0h.01M1214.5 1024.8h.01M1216.2 985.7h.01M1216.3 985.5h.01M1216.8 985.0h.01M1216.8 985.0h.01M1218.8 1024.3h.01M1219.4 1024.5h.01M1220.2 1024.1h.01M1220.9 988.5h.01M1222.2 991.1h.01M1222.3 989.1h.01M1222.3 992.1h.01M1222.8 995.4h.01M1224.3 1024.8h.01M1224.3 1026.2h.01M1224.6 1024.5h.01M1224.7 1024.6h.01M1226.6 996.5h.01M1228.1 991.9h.01M1228.1 987.1h.01M1228.1 988.3h.01M1228.6 994.7h.01M1228.9 984.2h.01M1228.9 980.2h.01M1228.9 976.6h.01M1228.9 973.4h.01M1229.0 981.1h.01M1229.4 1023.6h.01M1229.4 1024.3h.01M1229.5 982.9h.01M1229.9 971.7h.01M1230.1 980.0h.01M1230.2 986.1h.01M1230.9 983.9h.01M1230.9 977.0h.01M1230.9 977.3h.01M1231.0 978.2h.01M1231.0 979.8h.01M1231.0 982.0h.01M1231.0 985.1h.01M1231.8 1025.5h.01M1232.9 1025.3h.01M1233.0 1024.8h.01M1234.7 1023.5h.01M1236.1 987.5h.01M1236.1 987.4h.01M1236.6 962.1h.01M1236.9 980.9h.01M1236.9 979.1h.01M1237.0 964.9h.01M1237.2 972.6h.01M1237.3 974.4h.01M1237.7 969.7h.01M1238.6 985.6h.01M1238.7 983.6h.01M1239.1 978.7h.01M1239.8 1023.5h.01M1241.0 1023.7h.01M1241.8 987.9h.01M1241.9 980.7h.01M1241.9 978.4h.01M1242.0 984.2h.01M1242.0 992.7h.01M1243.7 1024.3h.01M1243.9 1023.7h.01M1245.7 1023.3h.01M1246.2 1023.4h.01M1246.3 1023.6h.01M1246.6 1023.6h.01M1247.6 990.9h.01M1248.9 985.9h.01M1249.0 984.4h.01M1249.0 984.7h.01M1249.0 987.2h.01M1249.5 1022.4h.01M1250.8 1022.0h.01M1250.8 1022.0h.01M1251.1 985.0h.01M1252.9 980.3h.01M1253.0 979.2h.01M1253.1 979.0h.01M1253.3 977.1h.01M1253.3 975.1h.01M1253.3 974.5h.01M1254.0 1021.2h.01M1254.0 1020.3h.01M1254.3 968.9h.01M1254.8 975.0h.01M1254.8 974.4h.01M1254.8 963.1h.01M1254.8 974.7h.01M1255.7 1020.3h.01M1257.7 1019.9h.01M1258.7 977.4h.01M1258.8 977.3h.01M1258.9 977.1h.01M1261.3 1019.0h.01M1261.3 1019.6h.01M1262.2 1020.3h.01M1262.9 978.0h.01M1262.9 977.7h.01M1262.9 978.0h.01M1264.5 1022.9h.01M1264.5 1023.2h.01M1265.4 1023.4h.01M1265.5 982.8h.01M1265.5 978.9h.01M1265.6 976.1h.01M1265.6 974.7h.01M1265.6 979.3h.01M1265.6 983.7h.01M1269.7 1024.5h.01M1270.9 983.0h.01M1271.8 1025.3h.01M1272.5 1025.4h.01M1272.5 1025.5h.01M1273.1 979.1h.01M1273.1 974.9h.01M1273.2 955.1h.01M1273.3 968.8h.01M1273.3 959.9h.01M1274.9 973.5h.01M1274.9 971.9h.01M1274.9 973.1h.01M1274.9 976.6h.01M1275.3 980.7h.01M1275.3 980.2h.01M1275.4 982.5h.01M1275.4 985.5h.01M1276.0 987.0h.01M1276.0 987.5h.01M1276.7 1025.2h.01M1278.1 1026.1h.01M1278.2 1026.0h.01M1278.4 990.8h.01M1279.1 1026.0h.01M1279.1 1025.6h.01M1281.2 978.4h.01M1281.2 974.6h.01M1281.2 971.2h.01M1281.3 969.3h.01M1281.3 975.5h.01M1281.3 982.3h.01M1281.7 987.6h.01M1281.7 983.9h.01M1281.8 974.3h.01M1281.8 968.6h.01M1281.9 971.4h.01M1282.0 986.3h.01M1282.0 985.0h.01M1282.4 986.4h.01M1282.5 967.8h.01M1282.6 969.5h.01M1282.6 979.5h.01M1282.7 969.5h.01M1283.9 977.5h.01M1283.9 973.8h.01M1284.0 971.9h.01M1284.0 975.4h.01M1284.4 1026.1h.01M1284.4 1026.0h.01M1285.1 1026.1h.01M1285.1 1026.6h.01M1285.5 981.4h.01M1285.5 981.7h.01M1285.5 986.9h.01M1285.7 1026.0h.01M1285.7 1026.2h.01M1285.8 985.5h.01M1285.9 983.3h.01M1285.9 982.7h.01M1286.5 1023.8h.01M1286.9 1023.8h.01M1287.4 1022.6h.01M1288.2 1022.3h.01M1288.9 1022.0h.01M1291.2 987.6h.01M1291.2 984.7h.01M1291.2 982.3h.01M1291.3 981.0h.01M1291.6 985.1h.01M1293.0 974.2h.01M1293.0 967.9h.01M1293.0 967.7h.01M1293.1 967.5h.01M1293.1 972.6h.01M1293.1 978.2h.01M1293.8 1024.9h.01M1293.8 1025.1h.01M1296.3 966.1h.01M1296.3 957.8h.01M1296.3 953.1h.01M1296.3 952.9h.01M1296.4 955.2h.01M1296.4 960.7h.01M1296.4 972.8h.01M1297.5 970.6h.01M1297.6 953.3h.01M1297.6 952.0h.01M1297.6 957.4h.01M1297.6 963.6h.01M1297.7 971.3h.01M1297.7 947.1h.01M1297.8 959.0h.01M1298.0 966.0h.01M1298.2 964.3h.01M1298.2 952.0h.01M1298.6 1023.0h.01M1298.6 1022.6h.01M1300.0 1021.8h.01M1300.4 977.0h.01M1302.2 973.8h.01M1302.2 966.5h.01M1302.2 961.7h.01M1303.0 973.4h.01M1303.6 969.9h.01M1303.7 966.6h.01M1304.1 1021.7h.01M1304.5 970.2h.01M1304.6 965.0h.01M1304.6 948.4h.01M1304.6 954.4h.01M1304.6 973.7h.01M1304.8 957.5h.01M1304.9 971.4h.01M1304.9 968.3h.01M1304.9 963.8h.01M1304.9 964.6h.01M1305.0 966.9h.01M1305.0 970.4h.01M1305.1 941.8h.01M1305.4 938.6h.01M1306.0 1022.9h.01M1306.0 1023.2h.01M1306.1 1022.6h.01M1306.3 961.5h.01M1307.2 1023.4h.01M1308.3 1023.8h.01M1310.2 975.9h.01M1310.2 975.6h.01M1310.5 974.4h.01M1310.5 969.0h.01M1310.5 967.9h.01M1310.6 971.3h.01M1311.1 980.4h.01M1311.4 1024.2h.01M1311.4 1023.6h.01M1311.5 1023.8h.01M1311.6 979.8h.01M1311.7 977.3h.01M1311.7 981.6h.01M1314.6 1022.4h.01M1314.6 1023.4h.01M1315.2 984.7h.01M1315.2 985.1h.01M1316.6 1021.9h.01M1316.8 1022.5h.01M1317.8 1021.9h.01M1319.3 1020.1h.01M1319.9 984.0h.01M1319.9 984.4h.01M1320.5 980.0h.01M1320.6 971.6h.01M1320.6 967.4h.01M1320.6 968.1h.01M1320.6 975.4h.01M1320.8 977.5h.01M1320.8 970.6h.01M1320.9 964.6h.01M1320.9 955.6h.01M1320.9 956.9h.01M1320.9 959.2h.01M1321.0 962.2h.01M1321.0 969.6h.01M1321.0 973.9h.01M1321.7 934.4h.01M1321.8 954.0h.01M1321.9 954.7h.01M1322.0 917.3h.01M1322.1 928.2h.01M1322.2 944.7h.01M1322.3 925.3h.01M1322.4 942.8h.01M1322.9 938.7h.01M1323.0 1019.3h.01M1324.1 957.7h.01M1324.2 958.4h.01M1324.3 959.8h.01M1324.3 972.6h.01M1325.0 975.5h.01M1325.0 979.9h.01M1325.3 1022.4h.01M1325.3 1022.8h.01M1325.4 1021.2h.01M1325.6 1022.3h.01M1327.6 978.2h.01M1327.6 969.6h.01M1327.6 962.9h.01M1327.7 963.0h.01M1327.8 963.2h.01M1327.8 966.9h.01M1327.8 977.4h.01M1328.4 984.4h.01M1328.6 1022.1h.01M1328.7 1022.8h.01M1330.9 971.8h.01M1330.9 974.6h.01M1331.0 980.3h.01M1331.8 1023.2h.01M1332.9 1022.8h.01M1333.9 1019.8h.01M1334.1 1020.8h.01M1334.7 1018.5h.01M1335.0 969.5h.01M1335.0 969.2h.01M1336.0 962.3h.01M1336.0 954.4h.01M1336.0 948.2h.01M1336.0 943.9h.01M1336.1 941.6h.01M1336.1 953.4h.01M1336.1 959.8h.01M1336.2 966.4h.01M1336.5 958.8h.01M1336.5 950.5h.01M1336.5 948.1h.01M1336.5 947.4h.01M1337.0 958.3h.01M1337.2 963.5h.01M1338.4 1014.8h.01M1339.0 941.3h.01M1339.8 937.7h.01M1339.8 926.8h.01M1339.8 915.5h.01M1339.9 903.9h.01M1340.0 902.4h.01M1340.1 919.7h.01M1340.1 936.8h.01M1340.5 1016.8h.01M1340.6 1016.6h.01M1341.0 910.9h.01M1341.2 1017.1h.01M1341.2 917.1h.01M1341.3 930.2h.01M1341.4 925.1h.01M1341.6 933.5h.01M1341.6 922.1h.01M1341.6 911.7h.01M1341.7 903.4h.01M1341.7 902.5h.01M1341.7 902.8h.01M1341.7 909.2h.01M1341.8 930.1h.01M1341.9 940.4h.01M1342.5 945.4h.01M1343.6 1018.4h.01M1344.1 1018.5h.01M1346.7 910.8h.01M1346.7 941.6h.01M1346.9 898.1h.01M1346.9 905.9h.01M1347.2 944.4h.01M1347.2 867.6h.01M1347.2 884.7h.01M1347.2 896.4h.01M1347.2 908.1h.01M1347.2 904.7h.01M1347.3 904.9h.01M1347.3 907.3h.01M1347.3 910.6h.01M1347.3 914.0h.01M1347.3 867.7h.01M1347.3 884.3h.01M1347.3 895.4h.01M1348.4 1018.4h.01M1348.4 1018.2h.01M1349.7 1019.0h.01M1351.6 1019.1h.01M1352.9 913.0h.01M1352.9 903.5h.01M1352.9 894.0h.01M1352.9 888.6h.01M1353.0 888.4h.01M1353.2 908.1h.01M1353.2 887.6h.01M1353.3 887.5h.01M1353.3 893.7h.01M1353.3 898.7h.01M1353.3 907.5h.01M1353.7 901.5h.01M1353.8 890.6h.01M1354.1 912.7h.01M1355.0 1021.3h.01M1355.3 1021.9h.01M1355.3 1022.6h.01M1357.1 901.0h.01M1357.7 1022.5h.01M1357.7 1022.0h.01M1357.8 916.4h.01M1358.4 919.0h.01M1358.4 913.9h.01M1358.5 912.3h.01M1358.5 922.1h.01M1358.6 904.1h.01M1359.1 934.5h.01M1359.1 923.7h.01M1359.1 915.7h.01M1359.2 885.3h.01M1359.2 894.7h.01M1359.3 933.2h.01M1359.3 924.9h.01M1359.3 924.1h.01M1359.4 926.8h.01M1359.5 901.5h.01M1359.5 928.8h.01M1359.6 909.5h.01M1359.7 910.4h.01M1359.9 936.7h.01M1359.9 906.6h.01M1359.9 930.1h.01M1360.0 931.9h.01M1360.6 1020.5h.01M1362.6 1017.9h.01M1362.7 1017.2h.01M1362.9 939.5h.01M1363.2 1015.5h.01M1364.9 1012.6h.01M1365.4 1011.1h.01M1365.5 1010.5h.01M1366.2 927.2h.01M1366.2 916.4h.01M1366.2 909.6h.01M1366.3 913.1h.01M1366.3 918.7h.01M1366.3 924.7h.01M1366.3 930.7h.01M1366.3 936.5h.01M1366.5 1009.7h.01M1366.5 1010.2h.01M1366.5 1010.3h.01M1367.5 1008.3h.01M1368.5 1008.0h.01M1369.3 895.4h.01M1369.6 895.3h.01M1369.6 910.3h.01M1371.1 933.4h.01M1371.1 932.7h.01M1371.1 932.9h.01M1371.2 934.7h.01M1371.6 935.2h.01M1371.7 936.2h.01M1371.8 943.8h.01M1371.9 1007.8h.01M1372.0 1015.0h.01M1372.0 1014.4h.01M1373.6 1009.4h.01M1374.4 1017.1h.01M1374.5 1011.0h.01M1374.6 1016.5h.01M1375.3 1016.3h.01M1375.9 947.5h.01M1375.9 941.5h.01M1376.0 937.3h.01M1376.1 937.2h.01M1378.3 944.5h.01M1378.3 942.4h.01M1379.0 934.4h.01M1379.1 931.3h.01M1379.1 928.4h.01M1379.1 926.3h.01M1379.1 925.6h.01M1379.1 929.9h.01M1379.2 935.2h.01M1379.3 1016.3h.01M1382.1 910.5h.01M1382.2 905.5h.01M1382.2 905.4h.01M1382.2 905.2h.01M1382.2 916.8h.01M1382.8 930.4h.01M1383.3 1017.9h.01M1383.3 1017.7h.01M1383.4 917.9h.01M1383.4 929.8h.01M1383.5 922.3h.01M1383.5 918.8h.01M1383.5 922.0h.01M1383.5 927.6h.01M1383.6 943.0h.01M1383.7 906.4h.01M1384.0 934.0h.01M1384.0 917.0h.01M1384.0 899.1h.01M1384.0 920.5h.01M1384.0 897.9h.01M1384.1 898.1h.01M1384.1 898.3h.01M1384.1 898.6h.01M1384.1 898.9h.01M1384.1 913.1h.01M1384.2 908.8h.01M1384.2 924.7h.01M1384.2 923.1h.01M1384.2 938.8h.01M1384.2 926.5h.01M1385.5 946.2h.01M1386.7 1018.8h.01M1389.4 1020.1h.01M1390.3 944.0h.01M1390.3 934.1h.01M1390.3 927.1h.01M1390.4 924.0h.01M1390.4 928.6h.01M1390.4 939.2h.01M1390.4 942.6h.01M1390.5 941.6h.01M1390.5 938.0h.01M1390.5 933.4h.01M1390.5 925.4h.01M1390.6 922.1h.01M1390.6 924.2h.01M1390.6 929.0h.01M1390.6 931.4h.01M1390.7 935.9h.01M1391.3 1021.3h.01M1391.4 910.9h.01M1391.4 888.4h.01M1391.5 876.1h.01M1391.5 876.0h.01M1391.5 875.7h.01M1391.5 887.4h.01M1391.5 901.9h.01M1391.6 915.7h.01M1392.1 920.8h.01M1392.1 907.9h.01M1392.2 909.8h.01M1392.2 920.5h.01M1392.6 1020.3h.01M1392.6 1019.9h.01M1392.6 889.1h.01M1392.6 883.1h.01M1392.9 871.3h.01M1392.9 921.0h.01M1392.9 905.0h.01M1392.9 885.6h.01M1393.0 899.7h.01M1393.0 901.7h.01M1393.0 896.1h.01M1393.0 924.6h.01M1393.3 891.2h.01M1393.3 871.7h.01M1393.3 863.7h.01M1393.3 863.9h.01M1393.3 864.0h.01M1393.4 875.2h.01M1393.4 901.7h.01M1393.5 892.4h.01M1393.5 868.2h.01M1394.1 897.1h.01M1394.5 877.7h.01M1395.1 1017.2h.01M1395.4 886.6h.01M1396.3 927.9h.01M1396.3 907.0h.01M1396.4 899.1h.01M1396.4 894.7h.01M1396.4 899.7h.01M1396.4 921.0h.01M1398.8 846.2h.01M1398.8 881.4h.01M1399.0 923.1h.01M1399.0 914.6h.01M1399.0 878.7h.01M1399.0 869.9h.01M1399.1 833.8h.01M1399.1 838.2h.01M1399.1 871.7h.01M1399.2 918.0h.01M1399.2 831.1h.01M1399.2 838.8h.01M1399.2 846.6h.01M1399.2 903.4h.01M1399.3 854.0h.01M1399.3 872.8h.01M1399.3 878.6h.01M1399.3 890.1h.01M1399.4 860.2h.01M1399.4 885.1h.01M1399.6 875.9h.01M1399.8 1017.7h.01M1399.9 865.9h.01M1400.5 843.6h.01M1400.6 1017.5h.01M1402.1 920.2h.01M1402.1 900.7h.01M1402.1 883.4h.01M1402.1 880.2h.01M1402.2 880.4h.01M1402.2 892.3h.01M1402.3 909.9h.01M1402.3 928.4h.01M1402.5 924.0h.01M1402.5 906.4h.01M1402.6 897.0h.01M1402.6 897.9h.01M1402.6 909.0h.01M1402.6 928.0h.01M1403.3 938.6h.01M1403.3 932.2h.01M1403.3 929.4h.01M1403.3 930.3h.01M1403.3 934.4h.01M1403.3 940.5h.01M1403.6 1019.3h.01M1403.9 1019.3h.01M1404.3 943.1h.01M1404.3 943.6h.01M1404.3 946.1h.01M1405.8 1020.3h.01M1407.3 1021.6h.01M1408.4 1021.0h.01M1409.6 945.0h.01M1409.6 936.9h.01M1409.6 929.7h.01M1409.6 919.4h.01M1409.6 916.3h.01M1409.7 919.8h.01M1409.7 923.3h.01M1409.7 927.5h.01M1409.7 931.9h.01M1409.7 936.3h.01M1409.8 940.3h.01M1409.8 943.8h.01M1409.8 946.5h.01M1410.0 946.4h.01M1410.1 911.2h.01M1410.1 905.8h.01M1410.1 903.4h.01M1410.1 904.6h.01M1410.1 909.5h.01M1410.7 1020.3h.01M1411.0 930.4h.01M1411.0 902.4h.01M1411.0 919.5h.01M1411.1 920.6h.01M1411.1 934.5h.01M1411.4 879.9h.01M1411.5 882.6h.01M1411.5 897.9h.01M1411.6 890.4h.01M1411.7 941.8h.01M1411.7 947.1h.01M1412.2 950.0h.01M1413.2 1016.5h.01M1413.2 1018.0h.01M1413.3 1017.4h.01M1415.3 952.6h.01M1415.3 945.5h.01M1415.3 939.5h.01M1415.3 934.2h.01M1415.3 929.1h.01M1415.3 923.8h.01M1415.3 918.0h.01M1415.4 912.1h.01M1415.4 907.0h.01M1415.4 906.2h.01M1415.4 913.6h.01M1415.5 945.7h.01M1415.9 1013.1h.01M1416.6 1007.5h.01M1416.6 1009.0h.01M1416.6 1010.0h.01M1416.9 1012.2h.01M1417.0 1011.7h.01M1417.0 1010.0h.01M1417.9 1006.3h.01M1418.2 949.6h.01M1418.2 1005.3h.01M1418.3 943.7h.01M1418.6 911.2h.01M1418.7 948.0h.01M1418.8 904.6h.01M1418.8 898.1h.01M1418.9 892.9h.01M1418.9 890.0h.01M1418.9 894.3h.01M1418.9 901.7h.01M1418.9 911.6h.01M1419.2 942.4h.01M1419.4 824.0h.01M1419.5 905.3h.01M1419.5 889.6h.01M1419.5 875.3h.01M1419.6 863.6h.01M1419.6 855.4h.01M1419.6 850.0h.01M1419.6 852.9h.01M1419.6 859.1h.01M1419.7 868.8h.01M1419.7 881.7h.01M1419.7 897.5h.01M1419.8 902.0h.01M1419.9 886.3h.01M1419.9 820.7h.01M1419.9 871.6h.01M1419.9 857.9h.01M1419.9 845.4h.01M1419.9 834.2h.01M1419.9 824.8h.01M1419.9 817.5h.01M1420.0 813.1h.01M1420.0 812.1h.01M1420.0 815.0h.01M1420.0 822.2h.01M1420.0 833.6h.01M1420.0 849.3h.01M1420.1 868.7h.01M1420.7 879.7h.01M1420.8 910.2h.01M1420.9 849.9h.01M1420.9 832.7h.01M1420.9 817.6h.01M1421.0 803.8h.01M1421.0 803.4h.01M1421.1 805.5h.01M1421.1 833.8h.01M1421.1 877.6h.01M1421.4 883.5h.01M1421.4 879.6h.01M1421.4 881.0h.01M1421.5 886.9h.01M1421.7 879.1h.01M1421.7 874.4h.01M1421.8 864.8h.01M1421.8 861.1h.01M1421.8 859.2h.01M1421.8 862.8h.01M1421.8 868.0h.01M1421.9 836.5h.01M1421.9 888.0h.01M1421.9 893.4h.01M1422.0 907.8h.01M1422.1 820.1h.01M1422.1 877.0h.01M1422.1 863.0h.01M1422.1 852.8h.01M1422.2 800.5h.01M1422.2 840.3h.01M1422.2 835.8h.01M1422.2 838.5h.01M1422.2 870.5h.01M1422.3 1005.0h.01M1422.3 845.9h.01M1422.3 847.3h.01M1422.4 804.0h.01M1422.5 883.4h.01M1422.5 869.6h.01M1422.5 597.7h.01M1422.5 599.9h.01M1422.5 619.2h.01M1422.5 629.4h.01M1422.5 669.8h.01M1422.5 687.6h.01M1422.5 725.7h.01M1422.5 755.2h.01M1422.5 783.4h.01M1422.5 799.6h.01M1422.5 816.2h.01M1422.5 841.1h.01M1422.5 862.0h.01M1422.6 868.9h.01M1422.6 882.7h.01M1422.7 833.1h.01M1422.8 890.8h.01M1422.8 875.2h.01M1422.8 862.5h.01M1422.8 812.9h.01M1422.8 853.3h.01M1422.8 848.0h.01M1422.8 847.1h.01M1422.9 850.6h.01M1422.9 858.1h.01M1422.9 868.7h.01M1422.9 881.6h.01M1422.9 895.4h.01M1423.3 838.4h.01M1423.6 827.5h.01M1423.7 1006.2h.01M1423.7 1006.5h.01M1424.2 899.8h.01M1424.3 896.8h.01M1424.3 901.0h.01M1424.4 1007.7h.01M1425.1 921.6h.01M1425.2 1007.0h.01M1425.7 922.3h.01M1425.7 911.4h.01M1425.7 908.5h.01M1425.7 906.6h.01M1425.8 906.1h.01M1425.8 907.4h.01M1425.8 910.3h.01M1425.8 914.8h.01M1425.8 920.4h.01M1426.2 927.4h.01M1427.0 1008.7h.01M1427.0 1011.2h.01M1427.9 1011.9h.01M1429.4 943.7h.01M1429.6 939.3h.01M1429.6 941.0h.01M1429.6 917.4h.01M1429.6 925.3h.01M1429.6 931.3h.01M1429.7 935.1h.01M1429.7 936.1h.01M1429.8 938.8h.01M1429.8 943.0h.01M1429.8 947.9h.01M1430.0 1016.6h.01M1430.2 1014.3h.01M1430.2 1017.1h.01M1431.8 1018.1h.01M1432.4 949.4h.01M1433.7 1018.4h.01M1433.7 1019.1h.01M1433.9 1019.1h.01M1435.8 945.5h.01M1435.8 942.1h.01M1435.8 941.5h.01M1436.9 1018.9h.01M1437.3 945.0h.01M1437.3 937.8h.01M1437.3 931.8h.01M1437.3 926.8h.01M1437.3 922.8h.01M1437.3 919.4h.01M1437.4 916.5h.01M1437.4 914.1h.01M1437.4 913.0h.01M1437.4 913.0h.01M1437.5 924.2h.01M1437.5 930.6h.01M1437.5 937.5h.01M1437.5 944.4h.01M1438.0 923.6h.01M1438.1 919.9h.01M1438.3 900.9h.01M1438.3 928.5h.01M1438.3 932.9h.01M1438.8 931.7h.01M1440.8 938.1h.01M1440.8 914.9h.01M1440.8 915.0h.01M1440.9 926.3h.01M1441.9 1019.6h.01M1442.5 942.9h.01M1442.6 939.6h.01M1442.6 937.8h.01M1442.6 938.1h.01M1443.2 1019.1h.01M1443.2 1019.5h.01M1444.1 952.7h.01M1444.2 940.9h.01M1444.2 937.2h.01M1444.2 934.0h.01M1444.2 931.4h.01M1444.2 929.7h.01M1444.3 929.0h.01M1444.3 930.6h.01M1444.3 932.6h.01M1444.3 937.2h.01M1444.4 938.9h.01M1444.4 939.6h.01M1444.4 934.0h.01M1444.4 929.8h.01M1444.4 925.3h.01M1444.5 921.5h.01M1444.5 919.4h.01M1444.5 923.1h.01M1444.5 929.9h.01M1444.5 940.0h.01M1444.6 952.8h.01M1445.2 969.5h.01M1445.5 978.6h.01M1445.6 966.3h.01M1445.6 962.7h.01M1445.6 970.2h.01M1447.6 1018.2h.01M1447.7 992.7h.01M1447.7 987.7h.01M1447.7 983.7h.01M1447.8 981.3h.01M1448.0 987.6h.01M1448.0 973.2h.01M1448.0 959.3h.01M1448.0 948.9h.01M1448.0 944.6h.01M1448.0 947.0h.01M1448.0 955.0h.01M1448.1 965.4h.01M1448.1 975.4h.01M1448.1 983.1h.01M1448.1 987.9h.01M1448.1 990.6h.01M1448.1 992.4h.01M1451.3 1018.7h.01M1451.4 1018.9h.01M1452.5 995.3h.01M1452.5 995.3h.01M1452.5 995.7h.01M1452.8 1021.3h.01M1453.9 1022.2h.01M1454.3 1023.9h.01M1454.9 1024.3h.01M1456.0 1024.2h.01M1456.0 1024.7h.01M1456.1 1025.6h.01M1456.4 1025.9h.01M1456.9 991.1h.01M1457.0 984.3h.01M1457.0 980.4h.01M1457.0 980.3h.01M1457.0 983.9h.01M1457.1 990.0h.01M1457.1 996.7h.01M1457.5 1024.9h.01M1457.5 1023.4h.01M1458.0 1022.9h.01M1458.4 993.9h.01M1458.4 978.4h.01M1458.4 976.9h.01M1458.5 989.1h.01M1459.0 978.2h.01M1459.1 985.5h.01M1459.2 992.5h.01M1459.2 988.4h.01M1459.3 983.5h.01M1459.3 973.3h.01M1459.3 969.1h.01M1459.3 965.5h.01M1459.3 966.9h.01M1459.4 970.6h.01M1459.8 986.6h.01M1459.8 984.0h.01M1459.9 993.3h.01M1460.0 1002.1h.01M1460.4 993.0h.01M1460.4 989.4h.01M1460.5 985.7h.01M1460.5 982.0h.01M1460.5 973.8h.01M1460.5 965.3h.01M1460.5 961.6h.01M1460.6 957.5h.01M1460.6 959.4h.01M1460.6 963.7h.01M1460.6 970.2h.01M1460.7 978.4h.01M1460.7 1016.6h.01M1460.7 1021.3h.01M1460.8 1018.6h.01M1460.8 1006.3h.01M1460.8 1002.5h.01M1460.8 998.1h.01M1460.8 993.0h.01M1460.9 987.4h.01M1460.9 981.8h.01M1460.9 976.5h.01M1460.9 972.0h.01M1460.9 968.6h.01M1461.0 967.1h.01M1461.0 970.1h.01M1461.0 974.9h.01M1461.0 981.1h.01M1461.0 988.2h.01M1461.0 995.3h.01M1461.1 1001.8h.01M1461.1 1007.0h.01M1461.1 1010.7h.01M1461.2 1014.8h.01M1461.2 1013.2h.01M1461.2 1008.4h.01M1461.3 1009.5h.01M1461.3 1011.0h.01" fill="none" stroke="#1f77b4" stroke-width="5.5" stroke-linecap="round"/>
<path d="M116.8 1021.3 117.4 1015.4 118.0 1010.8 118.6 1007.5 119.2 1005.2 119.8 1003.9 120.4 1003.6 120.4 1003.6 121.0 1005.7 121.6 1010.1 122.2 1014.9 122.8 1018.1 123.1 1018.6 123.4 1018.6 124.0 1018.5 124.6 1018.4 125.2 1018.3 125.8 1018.1 126.4 1017.9 127.0 1017.6 127.6 1017.3 127.8 1017.2 128.2 1015.8 128.8 1011.2 129.4 1004.4 130.0 996.4 130.6 988.4 131.2 981.1 131.3 980.3 131.8 974.3 132.4 966.3 133.0 958.0 133.6 950.5 134.2 944.6 134.8 941.2 135.1 940.7 135.4 941.7 136.0 948.0 136.6 958.1 137.2 969.4 137.8 979.3 138.4 985.2 138.7 985.8 139.0 985.8 139.6 985.8 140.2 985.8 140.8 985.8 141.4 985.8 141.4 985.8 142.0 982.4 142.6 974.9 143.2 966.6 143.8 960.8 144.1 959.9 144.4 960.6 145.0 966.0 145.6 975.0 146.2 985.9 146.8 996.6 147.4 1005.3 148.0 1010.0 148.2 1010.4 148.6 1010.4 149.2 1010.2 149.8 1009.9 150.4 1009.5 151.0 1009.0 151.0 1008.9 151.6 1000.3 152.2 985.3 152.8 973.0 153.2 970.8 153.4 971.4 154.0 975.8 154.6 982.3 155.2 988.3 155.8 991.2 155.9 991.3 156.4 989.9 157.0 986.8 157.6 984.6 157.8 984.4 158.2 985.6 158.8 990.2 159.4 997.0 160.0 1004.4 160.6 1011.1 161.2 1015.4 161.3 1015.8 161.8 1017.3 162.4 1019.0 163.0 1020.3 163.6 1021.1 164.1 1021.3 164.2 1021.2 164.8 1020.0 165.4 1017.6 166.0 1014.8 166.6 1012.2 167.2 1010.5 167.4 1010.4 167.8 1010.0 168.4 1009.8 169.0 1009.5 169.5 1009.0 169.6 1008.8 170.2 1003.0 170.8 994.5 171.4 989.9 171.5 989.9 172.0 993.2 172.6 1001.3 173.2 1010.5 173.8 1017.3 174.2 1018.6 174.4 1018.3 175.0 1016.0 175.6 1011.9 176.2 1007.0 176.8 1002.0 177.4 997.9 178.0 995.6 178.3 995.4 178.6 996.3 179.2 1000.9 179.8 1006.2 180.4 1009.0 180.5 1009.0 181.0 1006.1 181.6 999.3 182.2 993.0 182.6 991.3 182.8 991.5 183.4 995.8 184.0 1003.3 184.6 1011.8 185.2 1019.0 185.8 1022.6 185.9 1022.7 186.4 1021.9 187.0 1019.7 187.6 1017.1 188.2 1015.0 188.7 1014.5 188.8 1014.5 189.4 1014.9 190.0 1015.5 190.6 1016.3 191.2 1016.9 191.8 1017.2 191.9 1017.2 192.4 1016.5 193.0 1014.1 193.6 1010.4 194.2 1005.8 194.7 1002.2 194.8 1000.5 195.4 989.5 196.0 974.8 196.6 961.2 197.2 953.5 197.4 953.0 197.8 957.4 198.4 974.0 199.0 995.3 199.6 1012.8 200.1 1018.6 200.2 1018.5 200.8 1013.9 201.4 1005.3 202.0 996.2 202.6 990.5 202.9 989.9 203.2 993.3 203.8 1005.1 204.2 1009.0 204.4 1008.2 205.0 999.6 205.6 988.7 206.1 984.4 206.2 984.4 206.8 984.8 207.4 985.7 208.0 986.7 208.6 987.7 209.2 988.3 209.7 988.5 209.8 988.5 210.4 988.0 211.0 987.2 211.6 986.4 212.2 985.8 212.4 985.8 212.8 986.4 213.4 988.8 214.0 991.9 214.6 994.5 215.1 995.4 215.2 995.3 215.8 992.1 216.4 985.3 217.0 976.8 217.6 968.7 218.2 962.9 218.7 961.2 218.8 961.4 219.4 966.1 220.0 975.0 220.6 985.4 221.2 994.4 221.8 999.2 222.0 999.5 222.4 998.8 223.0 996.4 223.6 992.9 224.2 989.4 224.7 987.2 224.8 986.7 225.4 984.2 226.0 981.5 226.6 978.9 227.2 976.6 227.8 974.8 228.4 973.7 228.8 973.5 229.0 974.0 229.6 978.6 230.2 986.1 230.8 993.9 231.4 999.0 231.5 999.5 232.0 1001.0 232.6 1002.7 233.2 1004.0 233.8 1004.7 234.3 1004.9 234.4 1004.1 235.0 990.1 235.6 966.2 236.2 942.1 236.8 927.9 237.0 927.1 237.4 930.3 238.0 943.1 238.6 961.0 239.2 978.9 239.8 991.9 240.3 995.4 240.4 994.5 241.0 979.2 241.6 955.7 242.2 938.5 242.5 936.6 242.8 937.7 243.4 942.5 244.0 949.1 244.6 954.9 245.2 957.1 245.2 957.1 245.8 956.7 246.4 955.5 247.0 953.8 247.6 951.5 247.9 950.3 248.2 947.8 248.8 938.0 249.4 924.8 250.0 912.2 250.6 904.1 250.7 903.9 251.2 899.9 251.8 896.3 252.4 893.5 253.0 891.9 253.4 891.6 253.6 893.9 254.2 914.9 254.8 947.2 255.4 977.8 256.0 993.7 256.1 994.0 256.6 987.7 257.2 971.9 257.8 959.6 258.0 958.5 258.4 960.6 259.0 969.1 259.6 979.6 260.2 987.2 260.2 987.3 260.8 991.9 261.4 996.2 262.0 1000.0 262.6 1003.3 263.2 1006.0 263.8 1008.0 264.3 1009.0 264.4 1009.2 265.0 1010.1 265.6 1010.9 266.2 1011.4 266.8 1011.7 267.0 1011.7 267.4 1011.5 268.0 1010.0 268.6 1007.7 269.2 1004.9 269.8 1002.2 269.8 1001.9 270.4 997.4 271.0 991.0 271.6 984.1 272.2 977.8 272.8 973.4 273.3 972.1 273.4 972.2 274.0 973.7 274.6 976.6 275.2 979.6 275.8 981.5 276.1 981.7 276.4 981.5 277.0 980.5 277.6 978.8 278.0 977.6 278.2 975.1 278.8 960.6 279.4 940.1 280.0 921.4 280.6 912.2 280.7 912.1 281.2 917.5 281.8 933.7 282.4 955.5 283.0 977.7 283.6 995.0 284.2 1002.2 284.2 1002.2 284.8 1000.4 285.4 996.2 286.0 991.3 286.6 987.8 287.0 987.2 287.2 988.1 287.8 995.2 288.4 1003.5 288.9 1006.3 289.0 1005.7 289.6 992.8 290.2 969.8 290.8 946.5 291.4 932.2 291.6 931.2 292.0 935.5 292.6 953.1 293.2 976.0 293.8 995.4 294.4 1002.2 294.4 1002.2 295.0 1002.0 295.6 1001.6 296.2 1000.9 296.3 1000.8 296.8 986.8 297.4 955.4 298.0 926.7 298.4 918.9 298.6 919.5 299.2 928.1 299.8 942.5 300.4 956.7 301.0 964.9 301.2 965.3 301.6 962.5 302.2 955.9 302.5 954.4 302.8 954.8 303.4 957.8 304.0 962.6 304.6 967.8 305.2 971.9 305.3 972.1 305.8 974.6 306.4 976.8 307.0 978.9 307.6 981.3 308.0 983.1 308.2 984.4 308.8 989.3 309.4 994.9 310.0 999.7 310.6 1002.1 310.7 1002.2 311.2 1000.6 311.8 996.4 312.4 993.0 312.6 992.6 313.0 993.4 313.6 997.3 314.2 1003.0 314.8 1008.8 315.4 1013.1 315.4 1013.4 316.0 1017.1 316.6 1020.6 317.2 1023.2 317.6 1024.0 317.8 1024.5 318.4 1025.4 319.0 1026.2 319.6 1026.8 320.2 1027.3 320.8 1027.7 321.4 1028.0 321.7 1028.1 322.0 1028.3 322.6 1028.5 323.2 1028.6 323.8 1028.8 324.4 1028.9 325.0 1029.1 325.6 1029.2 326.2 1029.3 326.8 1029.4 327.4 1029.4 328.0 1029.5 328.5 1029.5 328.6 1029.5 329.2 1029.5 329.8 1029.5 330.4 1029.6 331.0 1029.6 331.6 1029.6 332.2 1029.6 332.8 1029.6 333.4 1029.7 334.0 1029.7 334.6 1029.7 335.2 1029.7 335.8 1029.7 336.4 1029.8 337.0 1029.8 337.6 1029.8 338.2 1029.8 338.8 1029.8 339.4 1029.8 340.0 1029.8 340.6 1029.9 341.2 1029.9 341.8 1029.9 342.4 1029.9 343.0 1029.9 343.6 1029.9 344.2 1029.9 344.8 1029.9 345.4 1030.0 346.0 1030.0 346.6 1030.0 347.2 1030.0 347.8 1030.0 348.4 1030.0 349.0 1030.0 349.6 1030.0 350.2 1030.0 350.8 1030.0 351.4 1030.1 352.0 1030.1 352.6 1030.1 353.2 1030.1 353.8 1030.1 354.4 1030.1 355.0 1030.1 355.6 1030.1 356.2 1030.1 356.8 1030.1 357.4 1030.1 358.0 1030.1 358.6 1030.1 359.2 1030.1 359.8 1030.1 360.4 1030.1 361.0 1030.1 361.6 1030.1 362.2 1030.2 362.8 1030.2 363.4 1030.2 364.0 1030.2 364.6 1030.2 365.2 1030.2 365.8 1030.2 366.4 1030.2 367.0 1030.2 367.6 1030.2 368.2 1030.2 368.8 1030.2 369.4 1030.2 370.0 1030.2 370.6 1030.2 371.0 1030.2 371.2 1030.2 371.8 1030.2 372.0 1030.2 372.4 1030.2 373.0 1030.2 373.0 1030.2 373.6 1030.2 374.0 1030.2 374.2 1030.2 374.8 1030.2 375.0 1030.2 375.4 1030.1 376.0 1030.1 376.0 1030.1 376.6 1030.1 377.0 1030.1 377.2 1030.1 377.8 1030.1 378.0 1030.1 378.4 1030.1 379.0 1030.1 379.0 1030.1 379.6 1030.1 380.0 1030.1 380.2 1030.1 380.8 1030.1 381.0 1030.1 381.4 1030.1 382.0 1030.1 382.0 1030.1 382.6 1030.1 383.0 1030.2 383.2 1030.2 383.8 1030.2 384.0 1030.2 384.4 1030.2 385.0 1030.2 385.0 1030.2 385.6 1030.2 386.0 1030.3 386.2 1030.3 386.8 1030.3 387.0 1030.3 387.4 1030.3 388.0 1030.3 388.0 1030.3 388.6 1030.3 389.0 1030.3 389.2 1030.3 389.8 1030.2 390.0 1030.2 390.4 1030.2 391.0 1030.2 391.0 1030.2 391.6 1030.2 392.0 1030.2 392.2 1030.2 392.8 1030.1 393.0 1030.1 393.4 1030.1 394.0 1030.1 394.0 1030.1 394.6 1030.1 395.0 1030.1 395.2 1030.1 395.8 1030.1 396.0 1030.1 396.4 1030.0 397.0 1030.0 397.0 1030.0 397.6 1030.0 398.0 1030.0 398.2 1030.0 398.8 1030.0 399.0 1030.0 399.4 1030.0 400.0 1030.0 400.0 1030.0 400.6 1030.1 401.0 1030.1 401.2 1030.1 401.8 1030.1 402.0 1030.1 402.4 1030.1 403.0 1030.2 403.0 1030.2 403.6 1030.2 404.0 1030.2 404.2 1030.3 404.8 1030.3 405.0 1030.3 405.4 1030.4 406.0 1030.5 406.0 1030.5 406.6 1030.6 407.0 1030.6 407.2 1030.6 407.8 1030.7 408.0 1030.7 408.4 1030.7 409.0 1030.7 409.0 1030.7 409.6 1030.7 410.0 1030.7 410.2 1030.7 410.8 1030.7 411.0 1030.7 411.4 1030.6 412.0 1030.6 412.0 1030.6 412.6 1030.6 413.0 1030.5 413.2 1030.5 413.8 1030.5 414.0 1030.4 414.4 1030.4 415.0 1030.4 415.0 1030.4 415.6 1030.3 416.0 1030.3 416.2 1030.3 416.8 1030.2 417.0 1030.2 417.4 1030.2 418.0 1030.2 418.0 1030.2 418.6 1030.1 419.0 1030.1 419.2 1030.1 419.8 1030.1 420.0 1030.1 420.4 1030.1 421.0 1030.1 421.0 1030.1 421.6 1030.2 422.0 1030.2 422.2 1030.2 422.8 1030.2 423.0 1030.2 423.4 1030.2 424.0 1030.2 424.0 1030.2 424.6 1030.2 425.0 1030.2 425.2 1030.2 425.8 1030.2 426.0 1030.2 426.4 1030.2 427.0 1030.2 427.0 1030.2 427.6 1030.2 428.0 1030.1 428.2 1030.1 428.8 1030.1 429.0 1030.1 429.4 1030.1 430.0 1030.1 430.0 1030.1 430.6 1030.1 431.0 1030.1 431.2 1030.1 431.8 1030.1 432.0 1030.1 432.4 1030.1 433.0 1030.1 433.0 1030.1 433.6 1030.1 434.0 1030.1 434.2 1030.1 434.8 1030.1 435.0 1030.1 435.4 1030.1 436.0 1030.1 436.0 1030.1 436.6 1030.1 437.0 1030.1 437.2 1030.1 437.8 1030.1 438.0 1030.1 438.4 1030.1 439.0 1030.1 439.0 1030.1 439.6 1030.1 440.0 1030.0 440.2 1030.0 440.8 1030.0 441.0 1030.0 441.4 1030.0 442.0 1030.0 442.0 1030.0 442.6 1030.0 443.0 1030.1 443.2 1030.1 443.8 1030.1 444.0 1030.1 444.4 1030.1 445.0 1030.2 445.0 1030.2 445.6 1030.3 446.0 1030.3 446.2 1030.3 446.8 1030.4 447.0 1030.4 447.4 1030.4 448.0 1030.4 448.0 1030.4 448.6 1030.5 449.0 1030.5 449.2 1030.5 449.8 1030.5 450.0 1030.5 450.4 1030.5 451.0 1030.5 451.0 1030.4 451.6 1030.4 452.0 1030.4 452.2 1030.6 452.8 1031.6 453.0 1031.7 453.4 1031.8 454.0 1031.8 454.0 1031.8 454.6 1031.8 455.0 1031.8 455.2 1031.8 455.8 1031.8 456.0 1031.8 456.4 1031.8 457.0 1031.8 457.0 1031.8 457.6 1031.8 458.0 1031.8 458.2 1031.8 458.8 1031.7 459.0 1031.7 459.4 1031.7 460.0 1031.7 460.0 1031.7 460.6 1031.6 461.0 1031.6 461.2 1031.6 461.8 1031.6 462.0 1031.6 462.4 1031.6 463.0 1031.6 463.0 1031.6 463.6 1031.6 464.0 1031.6 464.2 1031.6 464.8 1031.5 465.0 1031.5 465.4 1031.5 466.0 1031.5 466.0 1031.5 466.6 1031.5 467.0 1031.5 467.2 1031.5 467.8 1031.5 468.0 1031.5 468.4 1031.5 469.0 1031.5 469.0 1031.5 469.6 1031.5 470.0 1031.5 470.2 1031.5 470.8 1031.5 471.0 1031.5 471.4 1031.5 472.0 1031.5 472.0 1031.5 472.6 1031.5 473.0 1031.4 473.2 1031.4 473.8 1031.4 474.0 1031.3 474.4 1031.3 475.0 1031.2 475.0 1031.2 475.6 1031.2 476.0 1031.2 476.2 1031.1 476.8 1031.1 477.0 1031.1 477.4 1031.1 478.0 1031.0 478.0 1031.0 478.6 1031.0 479.0 1031.0 479.2 1031.0 479.8 1031.0 480.0 1031.1 480.4 1031.1 481.0 1031.1 481.0 1031.1 481.6 1031.1 482.0 1031.2 482.2 1031.2 482.8 1031.2 483.0 1031.2 483.4 1031.3 484.0 1031.3 484.0 1031.3 484.6 1031.4 485.0 1031.4 485.2 1031.4 485.8 1031.5 486.0 1031.5 486.4 1031.6 487.0 1031.6 487.0 1031.7 487.6 1031.7 488.0 1031.7 488.2 1031.8 488.8 1031.8 489.0 1031.8 489.4 1031.8 490.0 1031.8 490.0 1031.8 490.6 1031.8 491.0 1031.8 491.2 1031.7 491.8 1031.7 492.0 1031.7 492.4 1031.6 493.0 1031.6 493.0 1031.6 493.6 1031.5 494.0 1031.5 494.2 1031.4 494.8 1031.4 495.0 1031.4 495.4 1031.4 496.0 1031.4 496.0 1031.4 496.6 1031.5 497.0 1031.5 497.2 1031.5 497.8 1031.6 498.0 1031.6 498.4 1031.7 499.0 1031.7 499.0 1031.7 499.6 1031.8 500.0 1031.8 500.2 1031.8 500.8 1031.9 501.0 1031.9 501.4 1031.9 502.0 1031.9 502.0 1031.9 502.6 1031.9 503.0 1031.9 503.2 1031.9 503.8 1031.9 504.0 1031.9 504.4 1031.9 505.0 1031.9 505.0 1031.9 505.6 1031.9 506.0 1031.9 506.2 1031.9 506.8 1031.9 507.0 1031.9 507.4 1031.9 508.0 1031.9 508.0 1031.9 508.6 1031.9 509.0 1031.9 509.2 1031.9 509.8 1031.8 510.0 1031.8 510.4 1031.8 511.0 1031.7 511.0 1031.7 511.6 1031.7 512.0 1031.6 512.2 1031.6 512.8 1031.6 513.0 1031.6 513.4 1031.5 514.0 1031.5 514.0 1031.5 514.6 1031.4 515.0 1031.4 515.2 1031.4 515.8 1031.3 516.0 1031.3 516.4 1031.3 517.0 1031.2 517.0 1031.2 517.6 1031.2 518.0 1031.2 518.2 1031.1 518.8 1031.1 519.0 1031.1 519.4 1031.1 520.0 1031.1 520.0 1031.1 520.6 1031.1 521.0 1031.1 521.2 1031.1 521.8 1031.1 522.0 1031.1 522.4 1031.2 523.0 1031.2 523.0 1031.2 523.6 1031.3 524.0 1031.3 524.2 1031.3 524.8 1031.4 525.0 1031.4 525.4 1031.5 526.0 1031.5 526.0 1031.5 526.6 1031.6 527.0 1031.6 527.2 1031.6 527.8 1031.6 528.0 1031.6 528.4 1031.6 529.0 1031.6 529.0 1031.6 529.6 1031.6 530.0 1031.6 530.2 1031.6 530.8 1031.6 531.0 1031.6 531.4 1031.6 532.0 1031.6 532.0 1031.6 532.6 1031.7 533.0 1031.7 533.2 1031.7 533.8 1031.7 534.0 1031.7 534.4 1031.7 535.0 1031.6 535.0 1031.6 535.6 1031.6 536.0 1031.6 536.2 1031.6 536.8 1031.5 537.0 1031.5 537.4 1031.5 538.0 1031.4 538.0 1031.4 538.6 1031.4 539.0 1031.3 539.2 1031.3 539.8 1031.3 540.0 1031.3 540.4 1031.3 541.0 1031.4 541.0 1031.4 541.6 1031.4 542.0 1031.4 542.2 1031.4 542.8 1031.5 543.0 1031.5 543.4 1031.5 544.0 1031.5 544.0 1031.5 544.6 1031.5 545.0 1031.5 545.2 1031.5 545.8 1031.5 546.0 1031.5 546.4 1031.4 547.0 1031.4 547.0 1031.4 547.6 1031.4 548.0 1031.4 548.2 1031.5 548.8 1031.5 549.0 1031.5 549.4 1031.6 550.0 1031.6 550.0 1031.6 550.6 1031.7 551.0 1031.8 551.2 1031.8 551.8 1031.8 552.0 1031.9 552.4 1031.9 553.0 1031.9 553.0 1031.9 553.6 1031.9 554.0 1031.9 554.2 1031.9 554.8 1031.9 555.0 1031.9 555.4 1031.9 556.0 1031.9 556.0 1031.9 556.6 1031.9 557.0 1031.9 557.2 1031.8 557.8 1031.8 558.0 1031.8 558.4 1031.8 559.0 1031.8 559.0 1031.8 559.6 1031.8 560.0 1031.8 560.2 1031.8 560.8 1031.8 561.0 1031.7 561.4 1031.7 562.0 1031.7 562.0 1031.7 562.6 1031.7 563.0 1031.7 563.2 1031.7 563.8 1031.7 564.0 1031.7 564.4 1031.7 565.0 1031.7 565.0 1031.7 565.6 1031.7 566.0 1031.7 566.2 1031.7 566.8 1031.8 567.0 1031.8 567.4 1031.8 568.0 1031.8 568.0 1031.8 568.6 1031.9 569.0 1031.9 569.2 1031.9 569.8 1031.9 570.0 1031.9 570.4 1031.9 571.0 1032.0 571.0 1032.0 571.6 1032.0 572.0 1032.0 572.2 1032.0 572.8 1032.0 573.0 1032.0 573.4 1032.0 574.0 1031.9 574.0 1031.9 574.6 1031.9 575.0 1031.9 575.2 1031.9 575.8 1031.9 576.0 1031.8 576.4 1031.8 577.0 1031.8 577.0 1031.8 577.6 1031.8 578.0 1031.8 578.2 1031.8 578.8 1031.7 579.0 1031.7 579.4 1031.8 580.0 1031.8 580.0 1031.8 580.6 1031.8 581.0 1031.8 581.2 1031.8 581.8 1031.9 582.0 1031.9 582.4 1031.9 583.0 1032.0 583.0 1032.0 583.6 1032.0 584.0 1032.0 584.2 1032.0 584.8 1032.0 585.0 1032.0 585.4 1032.0 586.0 1032.0 586.0 1032.0 586.6 1031.9 587.0 1031.9 587.2 1031.9 587.8 1031.9 588.0 1031.9 588.4 1031.8 589.0 1031.8 589.0 1031.8 589.6 1031.8 590.0 1031.8 590.2 1031.8 590.8 1031.8 591.0 1031.8 591.4 1031.8 592.0 1031.9 592.0 1031.9 592.6 1031.9 593.0 1031.9 593.2 1031.9 593.8 1031.9 594.0 1031.9 594.4 1031.9 595.0 1031.9 595.0 1031.9 595.6 1031.8 596.0 1031.8 596.2 1031.8 596.8 1031.8 597.0 1031.8 597.4 1031.8 598.0 1031.8 598.0 1031.8 598.6 1031.8 599.0 1031.7 599.2 1031.7 599.8 1031.7 600.0 1031.7 600.4 1031.7 601.0 1031.7 601.0 1031.7 601.6 1031.7 602.0 1031.7 602.2 1031.7 602.8 1031.6 603.0 1031.6 603.4 1031.6 604.0 1031.6 604.0 1031.6 604.6 1031.5 605.0 1031.5 605.2 1031.5 605.8 1031.5 606.0 1031.4 606.4 1031.4 607.0 1031.4 607.0 1031.4 607.6 1031.3 608.0 1031.3 608.2 1031.3 608.8 1031.3 609.0 1031.2 609.4 1031.3 610.0 1031.3 610.0 1031.3 610.6 1031.3 611.0 1031.3 611.2 1031.3 611.8 1031.4 612.0 1031.4 612.4 1031.5 613.0 1031.5 613.0 1031.5 613.6 1031.6 614.0 1031.6 614.2 1031.6 614.8 1031.7 615.0 1031.7 615.4 1031.7 616.0 1031.7 616.0 1031.7 616.6 1031.7 617.0 1031.6 617.2 1031.6 617.8 1031.6 618.0 1031.6 618.4 1031.5 619.0 1031.5 619.0 1031.5 619.6 1031.5 620.0 1031.5 620.2 1031.5 620.8 1031.4 621.0 1031.4 621.4 1031.4 622.0 1031.5 622.0 1031.5 622.6 1031.5 623.0 1031.5 623.2 1031.5 623.8 1031.6 624.0 1031.6 624.4 1031.7 625.0 1031.7 625.0 1031.7 625.6 1031.8 626.0 1031.8 626.2 1031.9 626.8 1031.9 627.0 1032.0 627.4 1032.0 628.0 1032.0 628.0 1032.0 628.6 1032.1 629.0 1032.1 629.2 1032.1 629.8 1032.1 630.0 1032.1 630.4 1032.1 631.0 1032.1 631.0 1032.1 631.6 1032.0 632.0 1032.0 632.2 1032.0 632.8 1032.0 633.0 1032.0 633.4 1031.9 634.0 1031.9 634.0 1031.9 634.6 1031.9 635.0 1031.9 635.2 1031.9 635.8 1031.8 636.0 1031.8 636.4 1031.8 637.0 1031.8 637.0 1031.8 637.6 1031.8 638.0 1031.8 638.2 1031.8 638.8 1031.8 639.0 1031.8 639.4 1031.8 640.0 1031.8 640.0 1031.8 640.6 1031.8 641.0 1031.7 641.2 1031.7 641.8 1031.7 642.0 1031.7 642.4 1031.7 643.0 1031.7 643.0 1031.7 643.6 1031.7 644.0 1031.7 644.2 1031.6 644.8 1031.6 645.0 1031.6 645.4 1031.6 646.0 1031.6 646.0 1031.6 646.6 1031.6 647.0 1031.6 647.2 1031.6 647.8 1031.6 648.0 1031.6 648.4 1031.6 649.0 1031.6 649.0 1031.6 649.6 1031.6 650.0 1031.6 650.2 1031.6 650.8 1031.7 651.0 1031.7 651.4 1031.7 652.0 1031.8 652.0 1031.8 652.6 1031.8 653.0 1031.9 653.2 1031.9 653.8 1031.9 654.0 1031.9 654.4 1032.0 655.0 1032.0 655.0 1032.0 655.6 1032.0 656.0 1032.0 656.2 1032.0 656.8 1032.0 657.0 1032.0 657.4 1032.0 658.0 1032.0 658.0 1032.0 658.6 1032.0 659.0 1031.9 659.2 1031.9 659.8 1031.9 660.0 1031.9 660.4 1031.8 661.0 1031.8 661.0 1031.8 661.6 1031.7 662.0 1031.7 662.2 1031.7 662.8 1031.6 663.0 1031.6 663.4 1031.6 664.0 1031.5 664.0 1031.5 664.6 1031.5 665.0 1031.5 665.2 1031.5 665.8 1031.4 666.0 1031.4 666.4 1031.4 667.0 1031.4 667.0 1031.4 667.6 1031.3 668.0 1031.3 668.2 1031.3 668.8 1031.3 669.0 1031.3 669.4 1031.4 670.0 1031.4 670.0 1031.4 670.6 1031.4 671.0 1031.5 671.2 1031.5 671.8 1031.5 672.0 1031.5 672.4 1031.6 673.0 1031.6 673.0 1031.7 673.6 1031.7 674.0 1031.8 674.2 1031.8 674.8 1031.8 675.0 1031.8 675.4 1031.9 676.0 1031.9 676.0 1031.9 676.6 1031.9 677.0 1031.9 677.2 1031.9 677.8 1031.9 678.0 1031.9 678.4 1031.9 679.0 1031.9 679.0 1031.9 679.6 1031.9 680.0 1031.9 680.2 1031.9 680.8 1031.9 681.0 1031.9 681.4 1031.8 682.0 1031.8 682.0 1031.8 682.6 1031.8 683.0 1031.8 683.2 1031.7 683.8 1031.7 684.0 1031.7 684.4 1031.7 685.0 1031.6 685.0 1031.6 685.6 1031.6 686.0 1031.6 686.2 1031.6 686.8 1031.6 687.0 1031.6 687.4 1031.6 688.0 1031.7 688.0 1031.7 688.6 1031.7 689.0 1031.7 689.2 1031.8 689.8 1031.8 690.0 1031.8 690.4 1031.8 691.0 1031.8 691.0 1031.8 691.6 1031.9 692.0 1031.9 692.2 1031.9 692.8 1031.9 693.0 1031.9 693.4 1031.8 694.0 1031.8 694.0 1031.8 694.6 1031.8 695.0 1031.8 695.2 1031.8 695.8 1031.8 696.0 1031.8 696.4 1031.8 697.0 1031.8 697.0 1031.8 697.6 1031.8 698.0 1031.8 698.2 1031.9 698.8 1031.9 699.0 1031.9 699.4 1031.9 700.0 1031.9 700.0 1031.9 700.6 1031.9 701.0 1031.9 701.2 1031.9 701.8 1031.9 702.0 1031.9 702.4 1031.9 703.0 1031.8 703.0 1031.8 703.6 1031.8 704.0 1031.7 704.2 1031.7 704.8 1031.6 705.0 1031.5 705.4 1031.5 706.0 1031.4 706.0 1031.4 706.6 1031.3 707.0 1031.2 707.2 1031.2 707.8 1031.1 708.0 1031.1 708.4 1031.1 709.0 1031.0 709.0 1031.0 709.6 1031.0 710.0 1031.0 710.2 1031.0 710.8 1031.0 711.0 1031.0 711.4 1031.0 712.0 1031.0 712.0 1031.0 712.6 1031.1 713.0 1031.1 713.2 1031.1 713.8 1031.1 714.0 1031.1 714.4 1031.1 715.0 1031.1 715.0 1031.1 715.6 1031.2 716.0 1031.2 716.2 1031.2 716.8 1031.3 717.0 1031.3 717.4 1031.4 718.0 1031.4 718.0 1031.4 718.6 1031.5 719.0 1031.6 719.2 1031.6 719.8 1031.7 720.0 1031.7 720.4 1031.8 721.0 1031.8 721.0 1031.8 721.6 1031.8 722.0 1031.8 722.2 1031.8 722.8 1031.8 723.0 1031.8 723.4 1031.8 724.0 1031.7 724.0 1031.7 724.6 1031.7 725.0 1031.7 725.2 1031.7 725.8 1031.7 726.0 1031.7 726.4 1031.7 727.0 1031.7 727.0 1031.7 727.6 1031.7 728.0 1031.7 728.2 1031.7 728.8 1031.8 729.0 1031.8 729.4 1031.8 730.0 1031.8 730.0 1031.8 730.6 1031.8 731.0 1031.8 731.2 1031.8 731.8 1031.8 732.0 1031.8 732.4 1031.7 733.0 1031.7 733.0 1031.7 733.6 1031.7 734.0 1031.6 734.2 1031.6 734.8 1031.5 735.0 1031.5 735.4 1031.4 736.0 1031.4 736.0 1031.4 736.6 1031.3 737.0 1031.3 737.2 1031.2 737.8 1031.2 738.0 1031.2 738.4 1031.2 739.0 1031.2 739.0 1031.2 739.6 1031.2 740.0 1031.2 740.2 1031.2 740.8 1031.3 741.0 1031.3 741.4 1031.3 742.0 1031.4 742.0 1031.4 742.6 1031.5 743.0 1031.5 743.2 1031.5 743.8 1031.5 744.0 1031.5 744.4 1031.5 745.0 1031.5 745.0 1031.5 745.6 1031.5 746.0 1031.5 746.2 1031.5 746.8 1031.5 747.0 1031.4 747.4 1031.4 748.0 1031.4 748.0 1031.3 748.6 1031.3 749.0 1031.2 749.2 1031.2 749.8 1031.2 750.0 1031.1 750.4 1031.1 751.0 1031.1 751.0 1031.0 751.6 1031.0 752.0 1031.0 752.2 1031.0 752.8 1031.0 753.0 1031.0 753.4 1031.0 754.0 1031.0 754.0 1031.0 754.6 1031.0 755.0 1031.0 755.2 1031.1 755.8 1031.1 756.0 1031.1 756.4 1031.2 757.0 1031.2 757.0 1031.2 757.6 1031.3 758.0 1031.3 758.2 1031.4 758.8 1031.4 759.0 1031.4 759.4 1031.5 760.0 1031.5 760.0 1031.5 760.6 1031.5 761.0 1031.5 761.2 1031.5 761.8 1031.6 762.0 1031.6 762.4 1031.6 763.0 1031.6 763.0 1031.6 763.6 1031.6 764.0 1031.6 764.2 1031.6 764.8 1031.6 765.0 1031.6 765.4 1031.6 766.0 1031.5 766.0 1031.5 766.6 1031.5 767.0 1031.5 767.2 1031.5 767.8 1031.5 768.0 1031.5 768.4 1031.5 769.0 1031.6 769.0 1031.6 769.6 1031.6 770.0 1031.6 770.2 1031.6 770.8 1031.6 771.0 1031.6 771.4 1031.6 772.0 1031.7 772.0 1031.7 772.6 1031.7 773.0 1031.7 773.2 1031.7 773.8 1031.7 774.0 1031.7 774.4 1031.8 775.0 1031.8 775.0 1031.8 775.6 1031.8 776.0 1031.8 776.2 1031.8 776.8 1031.8 777.0 1031.8 777.4 1031.8 778.0 1031.8 778.0 1031.8 778.6 1031.8 779.0 1031.8 779.2 1031.8 779.8 1031.8 780.0 1031.8 780.4 1031.7 781.0 1031.7 781.0 1031.7 781.6 1031.7 782.0 1031.8 782.2 1031.8 782.8 1031.8 783.0 1031.8 783.4 1031.8 784.0 1031.8 784.0 1031.8 784.6 1031.9 785.0 1031.9 785.2 1031.9 785.8 1031.9 786.0 1031.9 786.4 1031.9 787.0 1031.9 787.0 1031.9 787.6 1031.9 788.0 1031.9 788.2 1031.9 788.8 1031.9 789.0 1031.9 789.4 1031.9 790.0 1031.9 790.0 1031.9 790.6 1031.9 791.0 1031.9 791.2 1031.9 791.8 1031.8 792.0 1031.8 792.4 1031.8 793.0 1031.8 793.0 1031.8 793.6 1031.7 794.0 1031.7 794.2 1031.6 794.8 1031.6 795.0 1031.5 795.4 1031.5 796.0 1031.4 796.0 1031.4 796.6 1031.4 797.0 1031.3 797.2 1031.3 797.8 1031.3 798.0 1031.3 798.4 1031.2 799.0 1031.2 799.0 1031.2 799.6 1031.2 800.0 1031.2 800.2 1031.2 800.8 1031.3 801.0 1031.3 801.4 1031.3 802.0 1031.4 802.0 1031.4 802.6 1031.4 803.0 1031.5 803.2 1031.5 803.8 1031.5 804.0 1031.6 804.4 1031.6 805.0 1031.7 805.0 1031.7 805.6 1031.8 806.0 1031.8 806.2 1031.8 806.8 1031.9 807.0 1031.9 807.4 1031.9 808.0 1032.0 808.0 1032.0 808.6 1032.0 809.0 1032.1 809.2 1032.1 809.8 1032.1 810.0 1032.1 810.4 1032.1 811.0 1032.1 811.0 1032.1 811.6 1032.1 812.0 1032.1 812.2 1032.1 812.8 1032.1 813.0 1032.1 813.4 1032.0 814.0 1032.0 814.0 1032.0 814.6 1032.0 815.0 1032.0 815.2 1031.9 815.8 1031.9 816.0 1031.9 816.4 1031.9 817.0 1031.9 817.0 1031.9 817.6 1031.8 818.0 1031.8 818.2 1031.8 818.8 1031.8 819.0 1031.8 819.4 1031.7 820.0 1031.7 820.0 1031.7 820.6 1031.6 821.0 1031.6 821.2 1031.6 821.8 1031.6 822.4 1031.6 822.8 1031.6 823.0 1031.4 823.6 1029.9 824.2 1027.3 824.8 1024.4 825.4 1021.9 825.4 1021.9 826.0 1019.8 826.6 1017.5 827.2 1015.3 827.8 1013.1 828.4 1011.2 829.0 1009.7 829.6 1008.8 829.9 1008.6 830.2 1008.4 830.8 1008.1 831.4 1007.8 832.0 1007.6 832.6 1007.4 833.2 1007.2 833.8 1007.0 834.4 1006.9 835.0 1006.9 835.6 1006.9 835.7 1006.9 836.2 1007.5 836.8 1009.4 837.4 1011.7 837.8 1013.0 838.0 1013.8 838.6 1016.4 839.2 1019.4 839.8 1022.3 840.4 1024.7 841.0 1026.1 841.3 1026.3 841.6 1026.2 842.2 1025.6 842.8 1024.5 843.4 1023.2 844.0 1021.9 844.0 1021.8 844.6 1019.4 845.2 1016.4 845.8 1014.2 846.1 1013.9 846.4 1014.2 847.0 1016.2 847.6 1019.1 848.2 1022.2 848.8 1024.6 849.3 1025.4 849.4 1025.5 850.0 1025.6 850.6 1025.8 851.2 1025.9 851.8 1026.0 852.4 1026.0 853.0 1026.1 853.6 1026.3 853.7 1026.3 854.2 1026.5 854.8 1026.7 855.4 1027.0 856.0 1027.1 856.4 1027.2 856.6 1027.2 857.2 1027.1 857.8 1026.9 858.4 1026.6 859.0 1026.3 859.6 1025.9 860.2 1025.6 860.8 1025.2 861.4 1024.9 862.0 1024.7 862.5 1024.5 862.6 1024.5 863.2 1024.4 863.8 1024.2 864.4 1024.1 865.0 1023.9 865.6 1023.8 866.2 1023.7 866.8 1023.5 867.4 1023.5 868.0 1023.4 868.6 1023.3 869.2 1023.3 869.6 1023.3 869.8 1023.3 870.4 1023.3 871.0 1023.3 871.6 1023.4 872.2 1023.4 872.8 1023.4 873.4 1023.5 874.0 1023.5 874.6 1023.6 875.2 1023.6 875.8 1023.6 876.4 1023.6 876.7 1023.6 877.0 1023.6 877.6 1023.5 878.2 1023.1 878.8 1022.6 879.3 1021.9 879.4 1020.7 880.0 990.0 880.2 980.6 880.6 968.6 881.2 952.9 881.7 947.6 881.8 947.7 882.4 954.2 883.0 965.1 883.6 973.3 883.9 974.2 884.2 972.5 884.8 964.7 885.4 955.8 886.0 951.9 886.0 951.9 886.6 953.7 887.2 957.6 887.8 962.0 888.4 965.1 888.8 965.7 889.0 965.5 889.6 964.4 890.2 963.6 890.3 963.6 890.8 966.7 891.4 974.5 892.0 983.7 892.6 990.7 893.0 992.4 893.2 992.3 893.8 991.9 894.4 991.2 895.0 990.5 895.6 990.2 895.6 990.3 896.2 991.8 896.8 994.8 897.4 997.3 897.7 997.7 898.0 995.9 898.6 983.9 899.2 967.0 899.8 952.9 900.3 948.7 900.4 948.9 901.0 954.2 901.6 963.8 902.2 973.7 902.8 980.0 903.1 980.6 903.4 980.5 904.0 979.5 904.6 978.1 905.2 976.6 905.8 975.6 906.3 975.3 906.4 975.6 907.0 979.7 907.6 985.8 908.2 990.0 908.4 990.2 908.8 989.8 909.4 987.9 910.0 985.3 910.6 982.8 911.2 981.0 911.6 980.6 911.8 980.8 912.4 982.8 913.0 986.2 913.6 990.6 914.2 995.0 914.8 998.8 915.4 1001.4 915.9 1002.0 916.0 1001.9 916.6 1000.3 917.2 997.7 917.8 995.1 918.0 994.5 918.4 993.1 919.0 991.0 919.6 988.9 920.2 987.2 920.8 986.2 921.2 986.0 921.4 986.9 922.0 994.2 922.6 1001.9 922.9 1003.0 923.2 1002.5 923.8 998.9 924.4 993.3 925.0 987.0 925.6 981.4 926.2 977.9 926.5 977.4 926.8 977.5 927.4 977.7 928.0 978.2 928.6 978.9 929.2 979.7 929.7 980.6 929.8 981.0 930.4 987.2 931.0 996.6 931.6 1003.4 931.9 1004.1 932.2 1002.6 932.8 995.8 933.4 988.2 934.0 984.9 934.0 984.9 934.6 988.5 935.2 995.4 935.8 1001.1 936.1 1002.0 936.4 1001.8 937.0 1000.5 937.6 998.6 938.2 997.1 938.7 996.6 938.8 996.7 939.4 997.0 940.0 997.6 940.6 998.5 941.2 999.5 941.5 999.8 941.8 1000.7 942.4 1002.6 943.0 1004.4 943.6 1005.2 943.6 1005.2 944.2 1004.0 944.8 1001.3 945.4 998.0 946.0 995.1 946.6 993.5 946.8 993.4 947.2 993.5 947.8 993.8 948.4 994.2 949.0 994.5 949.4 994.5 949.6 994.2 950.2 992.0 950.8 988.7 951.4 985.5 952.0 983.9 952.1 983.8 952.6 984.1 953.2 985.1 953.8 986.5 954.4 988.3 954.7 989.2 955.0 991.1 955.6 996.7 956.2 1003.0 956.8 1007.0 957.0 1007.3 957.4 1006.8 958.0 1004.5 958.6 1001.4 959.2 998.5 959.8 996.8 960.0 996.6 960.4 997.1 961.0 999.0 961.6 1001.9 962.2 1005.1 962.8 1008.1 963.4 1010.0 963.9 1010.5 964.0 1010.5 964.6 1009.4 965.2 1007.5 965.8 1005.2 966.4 1003.0 966.4 1003.0 967.0 1000.5 967.6 997.3 968.2 994.1 968.8 991.4 969.4 989.6 969.8 989.2 970.0 989.3 970.6 990.9 971.2 993.4 971.8 996.1 972.4 997.7 972.4 997.8 973.0 998.8 973.6 999.7 974.2 1000.4 974.8 1000.8 975.2 1000.9 975.4 998.8 976.0 983.2 976.6 963.3 977.2 952.0 977.3 951.9 977.8 957.8 978.4 973.9 979.0 992.1 979.6 1004.0 979.9 1005.2 980.2 1004.8 980.8 1002.5 981.4 998.9 982.0 994.4 982.4 991.3 982.6 989.1 983.2 979.1 983.8 967.3 984.4 958.7 984.8 957.2 985.0 958.3 985.6 967.2 986.2 981.1 986.8 995.2 987.4 1004.7 987.7 1006.2 988.0 1006.1 988.6 1005.1 989.2 1003.8 989.8 1003.1 989.9 1003.0 990.4 1004.1 991.0 1006.6 991.6 1008.9 992.0 1009.4 992.2 1009.1 992.8 1004.8 993.4 997.9 994.0 991.2 994.6 987.3 994.8 987.0 995.2 988.2 995.8 992.5 996.4 997.9 997.0 1002.5 997.6 1004.1 997.6 1004.1 998.2 1003.1 998.8 1000.8 999.4 998.0 1000.0 995.2 1000.6 993.1 1001.2 992.4 1001.2 992.4 1001.8 994.1 1002.4 997.8 1003.0 1001.8 1003.6 1004.7 1004.0 1005.2 1004.2 1004.8 1004.8 1001.5 1005.4 996.7 1006.0 992.6 1006.5 991.3 1006.6 991.4 1007.2 994.9 1007.8 1000.6 1008.4 1004.8 1008.7 1005.2 1009.0 1004.7 1009.6 1002.1 1010.2 997.9 1010.8 993.1 1011.4 988.3 1012.0 984.4 1012.6 982.0 1012.9 981.7 1013.2 982.3 1013.8 985.7 1014.4 990.5 1015.0 994.4 1015.5 995.6 1015.6 995.5 1016.2 994.5 1016.8 992.6 1017.4 990.1 1018.0 987.7 1018.6 985.8 1019.2 984.9 1019.3 984.9 1019.8 985.1 1020.4 985.8 1021.0 986.5 1021.6 987.0 1021.9 987.0 1022.2 986.5 1022.8 983.6 1023.4 979.5 1024.0 975.9 1024.6 974.3 1024.7 974.2 1025.2 975.0 1025.8 977.0 1026.4 979.9 1027.0 983.4 1027.6 987.0 1028.2 990.4 1028.8 993.1 1028.9 993.4 1029.4 995.4 1030.0 997.7 1030.6 999.4 1031.0 999.8 1031.2 999.7 1031.8 996.8 1032.4 991.8 1033.0 986.2 1033.6 981.6 1034.2 979.6 1034.2 979.6 1034.8 982.6 1035.4 989.9 1036.0 997.8 1036.6 1002.7 1036.8 1003.0 1037.2 1002.9 1037.8 1002.1 1038.4 1001.0 1039.0 999.8 1039.6 998.6 1040.2 997.9 1040.6 997.7 1040.8 997.8 1041.4 999.6 1042.0 1002.8 1042.6 1006.3 1043.2 1009.3 1043.8 1010.5 1043.8 1010.5 1044.4 1008.0 1045.0 1001.8 1045.6 994.7 1046.2 989.3 1046.6 988.1 1046.8 988.3 1047.4 989.9 1048.0 992.4 1048.6 994.7 1049.2 995.6 1049.2 995.6 1049.8 992.8 1050.4 987.6 1051.0 983.4 1051.3 982.8 1051.6 983.8 1052.2 990.2 1052.8 999.1 1053.4 1006.3 1053.9 1008.4 1054.0 1008.3 1054.6 1006.8 1055.2 1003.9 1055.8 1000.6 1056.4 997.6 1057.0 995.8 1057.3 995.6 1057.6 996.0 1058.2 998.4 1058.8 1002.2 1059.4 1006.4 1060.0 1010.1 1060.6 1012.3 1060.9 1012.6 1061.2 1012.2 1061.8 1009.7 1062.4 1006.7 1063.0 1005.2 1063.0 1005.2 1063.6 1006.0 1064.2 1008.1 1064.8 1010.5 1065.4 1012.2 1065.8 1012.6 1066.0 1012.5 1066.6 1011.1 1067.2 1009.0 1067.8 1007.0 1068.4 1006.2 1068.4 1006.2 1069.0 1006.4 1069.6 1006.7 1070.2 1007.3 1070.8 1007.9 1071.4 1008.7 1072.0 1009.6 1072.6 1010.5 1072.6 1010.5 1073.2 1012.0 1073.8 1014.4 1074.4 1016.6 1075.0 1017.9 1075.2 1018.0 1075.6 1016.0 1076.2 1009.7 1076.8 1005.3 1076.9 1005.2 1077.4 1006.1 1078.0 1008.8 1078.6 1012.3 1079.2 1015.6 1079.8 1017.7 1080.1 1018.0 1080.4 1017.9 1081.0 1017.1 1081.6 1015.8 1082.2 1014.2 1082.8 1012.7 1083.3 1011.6 1083.4 1011.3 1084.0 1009.9 1084.6 1008.3 1085.2 1006.8 1085.8 1005.7 1086.4 1005.2 1086.5 1005.2 1087.0 1005.8 1087.6 1007.7 1088.2 1010.3 1088.8 1013.0 1089.4 1015.2 1089.7 1015.8 1090.0 1016.5 1090.6 1017.6 1091.2 1018.6 1091.8 1019.4 1092.4 1020.0 1092.9 1020.1 1093.0 1020.0 1093.6 1017.6 1094.2 1013.6 1094.8 1010.8 1095.0 1010.5 1095.4 1010.5 1096.0 1010.7 1096.6 1010.8 1097.2 1011.1 1097.8 1011.3 1098.4 1011.5 1099.0 1011.6 1099.3 1011.6 1099.6 1011.2 1100.2 1009.1 1100.8 1006.1 1101.4 1003.3 1102.0 1002.0 1102.1 1002.0 1102.6 1002.4 1103.2 1003.6 1103.8 1005.2 1104.4 1006.8 1104.6 1007.3 1105.0 1008.2 1105.6 1009.9 1106.2 1011.7 1106.8 1013.4 1107.4 1015.0 1108.0 1016.2 1108.6 1016.8 1108.9 1016.9 1109.2 1016.6 1109.8 1014.8 1110.4 1011.9 1111.0 1008.8 1111.6 1006.3 1112.1 1005.2 1112.2 1005.0 1112.8 1004.4 1113.4 1003.9 1114.0 1003.5 1114.6 1003.2 1115.2 1003.0 1115.3 1003.0 1115.8 1004.0 1116.4 1006.5 1117.0 1008.8 1117.4 1009.4 1117.6 1009.4 1118.2 1009.0 1118.8 1008.2 1119.4 1007.2 1120.0 1006.2 1120.0 1006.2 1120.6 1005.2 1121.2 1004.1 1121.8 1002.8 1122.4 1001.3 1122.6 1000.9 1123.0 998.9 1123.6 995.1 1124.2 991.1 1124.8 988.0 1125.3 987.0 1125.4 987.1 1126.0 989.4 1126.6 993.8 1127.2 998.7 1127.8 1002.3 1128.1 1003.0 1128.4 1003.5 1129.0 1004.0 1129.6 1004.3 1130.2 1004.7 1130.7 1005.2 1130.8 1005.4 1131.4 1006.8 1132.0 1008.5 1132.6 1009.9 1133.2 1010.5 1133.2 1010.5 1133.8 1010.0 1134.4 1008.8 1135.0 1007.4 1135.6 1006.5 1136.0 1006.2 1136.2 1006.4 1136.8 1007.5 1137.4 1009.4 1138.0 1011.4 1138.6 1013.1 1139.2 1013.7 1139.2 1013.7 1139.8 1013.2 1140.4 1012.0 1141.0 1010.5 1141.6 1009.2 1142.2 1008.4 1142.4 1008.4 1142.8 1008.5 1143.4 1009.2 1144.0 1010.1 1144.6 1011.2 1145.2 1012.2 1145.6 1012.6 1145.8 1012.9 1146.4 1013.7 1147.0 1014.5 1147.6 1015.2 1148.2 1015.7 1148.8 1015.8 1148.8 1015.8 1149.4 1015.3 1150.0 1014.1 1150.6 1012.6 1151.2 1011.3 1151.8 1010.6 1152.0 1010.5 1152.4 1010.5 1153.0 1010.7 1153.6 1010.9 1154.2 1011.1 1154.8 1011.3 1155.4 1011.5 1156.0 1011.6 1156.3 1011.6 1156.6 1011.5 1157.2 1011.1 1157.8 1010.4 1158.4 1009.6 1159.0 1008.9 1159.5 1008.4 1159.6 1008.2 1160.2 1007.7 1160.8 1007.2 1161.4 1006.5 1161.6 1006.2 1162.0 1004.3 1162.6 999.2 1163.2 994.2 1163.7 992.4 1163.8 992.4 1164.4 992.7 1165.0 993.3 1165.6 994.1 1166.2 995.1 1166.5 995.6 1166.8 996.4 1167.4 998.7 1168.0 1000.9 1168.6 1002.0 1168.6 1002.0 1169.2 1000.4 1169.8 997.0 1170.4 994.0 1170.8 993.4 1171.0 994.1 1171.6 998.8 1172.2 1004.9 1172.8 1008.3 1172.9 1008.4 1173.4 1008.1 1174.0 1007.4 1174.6 1006.4 1175.2 1005.6 1175.8 1005.2 1175.9 1005.2 1176.4 1005.6 1177.0 1006.8 1177.6 1008.1 1178.2 1009.2 1178.7 1009.4 1178.8 1009.2 1179.4 1004.9 1180.0 999.9 1180.4 998.8 1180.6 999.2 1181.2 1002.4 1181.8 1007.2 1182.4 1011.3 1182.9 1012.6 1183.0 1012.6 1183.6 1012.5 1184.2 1012.2 1184.8 1011.8 1185.4 1011.6 1185.7 1011.6 1186.0 1011.9 1186.6 1013.7 1187.2 1015.9 1187.8 1016.9 1187.8 1016.9 1188.4 1015.3 1189.0 1011.6 1189.6 1007.7 1190.2 1005.3 1190.4 1005.2 1190.8 1005.6 1191.4 1007.5 1192.0 1010.2 1192.6 1013.1 1193.2 1015.8 1193.8 1017.6 1194.2 1018.0 1194.4 1017.9 1195.0 1017.5 1195.6 1016.8 1196.2 1016.1 1196.8 1015.8 1196.8 1015.8 1197.4 1016.1 1198.0 1016.7 1198.6 1017.5 1199.2 1018.4 1199.8 1019.3 1200.4 1019.9 1201.0 1020.1 1201.1 1020.1 1201.6 1019.0 1202.2 1016.4 1202.8 1013.5 1203.4 1011.7 1203.6 1011.6 1204.0 1012.5 1204.6 1015.7 1205.2 1017.9 1205.3 1018.0 1205.8 1016.6 1206.4 1013.4 1207.0 1011.6 1207.0 1011.6 1207.6 1012.8 1208.2 1015.4 1208.8 1018.3 1209.4 1020.0 1209.6 1020.1 1210.0 1019.6 1210.6 1017.7 1211.2 1015.1 1211.8 1012.6 1212.4 1010.9 1212.8 1010.5 1213.0 1010.5 1213.6 1010.7 1214.2 1011.0 1214.8 1011.3 1215.4 1011.5 1216.0 1011.6 1216.0 1011.6 1216.6 1010.2 1217.2 1007.6 1217.8 1005.5 1218.1 1005.2 1218.4 1005.2 1219.0 1005.6 1219.6 1006.2 1220.2 1007.0 1220.8 1007.8 1221.3 1008.4 1221.4 1008.5 1222.0 1009.4 1222.6 1010.4 1223.2 1011.2 1223.8 1011.6 1223.9 1011.6 1224.4 1011.3 1225.0 1010.4 1225.6 1009.2 1226.2 1008.0 1226.7 1007.3 1226.8 1007.1 1227.4 1006.1 1228.0 1005.0 1228.6 1004.0 1229.2 1003.3 1229.8 1003.0 1229.9 1003.0 1230.4 1003.4 1231.0 1004.3 1231.6 1005.5 1232.2 1006.6 1232.8 1007.3 1233.1 1007.3 1233.4 1007.2 1234.0 1006.6 1234.6 1005.8 1235.2 1004.8 1235.8 1003.9 1236.4 1003.2 1236.9 1003.0 1237.0 1003.1 1237.6 1004.2 1238.2 1006.2 1238.8 1008.3 1239.4 1009.4 1239.5 1009.4 1240.0 1009.8 1240.6 1010.1 1241.2 1010.3 1241.8 1010.4 1242.4 1010.5 1242.7 1010.5 1243.0 1010.5 1243.6 1010.2 1244.2 1009.8 1244.8 1009.3 1245.4 1008.8 1245.9 1008.4 1246.0 1008.2 1246.6 1007.7 1247.2 1007.1 1247.8 1006.4 1248.4 1005.7 1249.0 1004.8 1249.6 1003.9 1250.1 1003.0 1250.2 1002.8 1250.8 1001.2 1251.4 998.9 1252.0 996.4 1252.6 994.0 1253.2 992.2 1253.8 991.3 1254.0 991.3 1254.4 992.1 1255.0 994.8 1255.6 998.2 1256.2 1001.1 1256.5 1002.0 1256.8 1002.6 1257.4 1003.8 1258.0 1004.8 1258.6 1005.6 1259.2 1006.1 1259.7 1006.2 1259.8 1006.2 1260.4 1005.6 1261.0 1004.5 1261.6 1003.2 1262.2 1002.2 1262.5 1002.0 1262.8 1001.8 1263.4 1001.4 1264.0 1001.1 1264.6 1001.0 1265.1 1000.9 1265.2 1001.0 1265.8 1003.0 1266.4 1006.3 1267.0 1009.2 1267.6 1010.5 1267.6 1010.5 1268.2 1009.6 1268.8 1007.5 1269.4 1005.1 1270.0 1003.4 1270.4 1003.0 1270.6 1003.1 1271.2 1003.5 1271.8 1004.2 1272.4 1004.8 1273.0 1005.2 1273.2 1005.2 1273.6 1004.7 1274.2 1003.2 1274.8 1001.3 1275.4 1000.0 1275.7 999.8 1276.0 1000.3 1276.6 1002.8 1277.2 1005.8 1277.8 1007.3 1277.8 1007.3 1278.4 1006.9 1279.0 1005.9 1279.6 1004.8 1280.2 1004.2 1280.4 1004.1 1280.8 1004.2 1281.4 1004.4 1282.0 1004.8 1282.6 1005.1 1283.2 1005.2 1283.2 1005.2 1283.8 1004.6 1284.4 1003.4 1285.0 1002.0 1285.6 1001.1 1286.0 1000.9 1286.2 1000.9 1286.8 1001.0 1287.4 1001.3 1288.0 1001.6 1288.5 1002.0 1288.6 1002.2 1289.2 1005.4 1289.8 1009.4 1290.2 1010.5 1290.4 1010.3 1291.0 1007.8 1291.6 1003.8 1292.2 1000.2 1292.8 998.8 1292.8 998.8 1293.4 1000.0 1294.0 1002.4 1294.6 1004.8 1295.2 1006.2 1295.3 1006.2 1295.8 1004.3 1296.4 998.6 1297.0 993.0 1297.5 991.3 1297.6 991.4 1298.2 992.9 1298.8 995.4 1299.4 998.1 1300.0 999.7 1300.2 999.8 1300.6 999.7 1301.2 999.0 1301.8 997.9 1302.4 996.6 1302.4 996.5 1303.0 993.8 1303.6 990.2 1304.2 987.4 1304.5 987.0 1304.8 987.8 1305.4 992.1 1306.0 997.2 1306.6 999.8 1306.6 999.8 1307.2 999.3 1307.8 998.0 1308.4 996.9 1308.8 996.6 1309.0 997.0 1309.6 1000.0 1310.2 1003.9 1310.8 1006.2 1310.9 1006.2 1311.4 1005.3 1312.0 1002.8 1312.6 1000.5 1313.0 999.8 1313.2 1000.0 1313.8 1001.5 1314.4 1003.7 1315.0 1005.1 1315.2 1005.2 1315.6 1004.8 1316.2 1003.4 1316.8 1001.2 1317.4 998.6 1318.0 995.7 1318.6 993.1 1318.8 992.4 1319.2 990.5 1319.8 987.2 1320.4 984.0 1321.0 981.5 1321.6 980.6 1321.6 980.7 1322.2 983.2 1322.8 988.2 1323.4 992.5 1323.7 993.4 1324.0 993.9 1324.6 994.5 1325.2 994.9 1325.8 995.6 1325.8 995.6 1326.4 996.7 1327.0 998.4 1327.6 1000.4 1328.2 1002.5 1328.8 1004.3 1329.4 1005.6 1330.0 1006.2 1330.1 1006.2 1330.6 1006.2 1331.2 1006.1 1331.8 1006.0 1332.4 1005.7 1333.0 1005.3 1333.6 1004.9 1334.2 1004.3 1334.4 1004.1 1334.8 999.5 1335.4 986.7 1335.9 978.5 1336.0 976.4 1336.6 967.9 1337.2 961.6 1337.6 960.4 1337.8 960.8 1338.4 964.5 1339.0 969.3 1339.6 972.1 1339.7 972.1 1340.2 971.8 1340.8 971.0 1341.4 970.2 1341.8 970.0 1342.0 970.3 1342.6 974.2 1343.2 979.9 1343.8 983.7 1344.0 983.8 1344.4 983.4 1345.0 981.8 1345.6 980.1 1346.1 979.6 1346.2 979.7 1346.2 979.7 1346.8 982.6 1347.4 987.9 1348.0 993.4 1348.6 997.0 1348.9 997.4 1349.2 995.8 1349.8 987.5 1350.4 974.9 1351.0 961.7 1351.6 951.4 1352.2 947.5 1352.2 947.5 1352.8 951.8 1353.4 961.3 1354.0 972.2 1354.6 980.6 1355.1 983.0 1355.2 982.9 1355.8 979.3 1356.4 972.4 1357.0 963.9 1357.6 955.5 1358.2 949.1 1358.8 946.4 1358.9 946.4 1359.4 952.5 1360.0 967.4 1360.6 984.1 1361.2 995.7 1361.5 997.4 1361.8 995.8 1362.4 986.3 1363.0 973.5 1363.6 963.7 1364.0 961.9 1364.2 964.2 1364.8 978.3 1365.4 989.4 1365.5 989.7 1366.0 987.6 1366.6 981.5 1367.2 974.0 1367.8 967.7 1368.4 965.3 1368.4 965.3 1369.0 966.4 1369.6 969.1 1370.2 972.6 1370.8 976.2 1371.1 977.5 1371.4 979.8 1372.0 984.5 1372.6 988.7 1373.2 990.8 1373.3 990.8 1373.8 989.1 1374.4 984.7 1375.0 980.0 1375.5 977.5 1375.6 977.0 1376.2 974.9 1376.8 973.1 1377.4 971.5 1378.0 970.3 1378.6 969.7 1378.8 969.7 1379.2 970.8 1379.8 975.0 1380.4 979.6 1381.0 981.9 1381.0 981.9 1381.6 981.0 1382.2 978.7 1382.8 975.7 1383.4 973.0 1384.0 971.1 1384.4 970.8 1384.6 971.0 1385.2 972.4 1385.8 974.9 1386.4 977.8 1387.0 980.7 1387.6 982.9 1388.2 984.1 1388.4 984.1 1388.8 982.3 1389.4 976.5 1390.0 969.7 1390.6 965.3 1390.6 965.0 1391.2 962.1 1391.8 959.5 1392.4 957.5 1393.0 956.5 1393.2 956.4 1393.6 957.3 1394.2 961.6 1394.8 967.8 1395.4 974.2 1396.0 979.1 1396.6 980.8 1396.6 980.7 1397.2 976.2 1397.8 966.8 1398.4 956.3 1399.0 948.4 1399.4 946.4 1399.6 946.6 1400.2 950.3 1400.8 957.2 1401.4 965.5 1402.0 973.5 1402.6 979.5 1403.2 981.9 1403.2 981.9 1403.8 980.3 1404.4 976.9 1405.0 973.8 1405.4 973.0 1405.6 973.2 1406.2 975.6 1406.8 979.1 1407.4 981.6 1407.7 981.9 1408.0 980.3 1408.6 972.9 1409.2 964.3 1409.8 959.7 1409.9 959.7 1410.4 962.0 1411.0 967.8 1411.6 974.1 1412.1 977.5 1412.2 978.1 1412.8 980.7 1413.4 983.1 1414.0 985.2 1414.6 986.7 1415.2 987.4 1415.4 987.4 1415.8 986.5 1416.4 982.2 1417.0 975.2 1417.6 966.4 1418.2 956.8 1418.7 948.6 1418.8 947.3 1419.4 933.9 1420.0 916.8 1420.6 900.4 1421.2 889.1 1421.6 886.5 1421.8 888.3 1422.4 910.6 1423.0 943.1 1423.6 966.3 1423.9 968.6 1424.2 967.1 1424.8 961.7 1425.4 958.6 1425.4 958.6 1426.0 961.4 1426.6 966.9 1427.2 971.8 1427.6 973.0 1427.8 972.9 1428.4 972.0 1429.0 970.7 1429.6 969.8 1429.8 969.7 1430.2 970.0 1430.8 971.2 1431.4 973.1 1432.0 975.1 1432.1 975.2 1432.6 977.8 1433.2 981.4 1433.8 985.0 1434.4 987.7 1434.9 988.6 1435.0 988.5 1435.6 984.7 1436.2 977.5 1436.8 970.1 1437.4 965.6 1437.6 965.3 1438.0 966.6 1438.6 972.3 1439.2 980.2 1439.8 988.3 1440.4 994.4 1440.9 996.3 1441.0 996.2 1441.6 992.4 1442.2 984.7 1442.8 975.5 1443.4 967.3 1444.0 962.4 1444.3 961.9 1444.6 963.2 1445.2 969.5 1445.8 979.0 1446.4 989.3 1447.0 997.7 1447.6 1001.9 1447.6 1002.0 1448.2 1003.5 1448.8 1004.8 1449.4 1005.7 1450.0 1006.5 1450.6 1007.1 1450.9 1007.4 1451.2 1007.7 1451.8 1008.1 1452.4 1008.4 1453.0 1008.7 1453.6 1009.1 1454.2 1009.6 1454.2 1009.6 1454.8 1010.9 1455.4 1013.0 1456.0 1014.7 1456.5 1015.2 1456.6 1015.0 1457.2 1012.7 1457.8 1008.5 1458.4 1003.4 1459.0 998.7 1459.6 995.6 1459.8 995.2 1460.2 994.5 1460.8 993.7 1461.4 993.1 1461.6 993.0 1462.0 992.5 1462.6 991.9 1462.7 991.9" fill="none" stroke="#ff7f0e" stroke-width="2.08" stroke-linejoin="round" stroke-linecap="butt"/>
</g>
<path d="M116.5 1054.5v5.2M284.5 1054.5v5.2M452.5 1054.5v5.2M621.5 1054.5v5.2M789.5 1054.5v5.2M957.5 1054.5v5.2M1126.5 1054.5v5.2M1294.5 1054.5v5.2M116.5 1035.5h-5.2M116.5 972.5h-5.2M116.5 909.5h-5.2M116.5 846.5h-5.2M116.5 783.5h-5.2M116.5 720.5h-5.2M116.5 657.5h-5.2M116.5 594.5h-5.2" stroke="#000" stroke-width="1.1" fill="none"/>
<rect x="116.5" y="575.5" width="1346.0" height="479.0" fill="none" stroke="#000" stroke-width="1.1"/>
<rect x="1047.6" y="585.7" width="406" height="79.6" rx="3.5" fill="#fff" fill-opacity="0.8" stroke="#ccc" stroke-opacity="0.8" stroke-width="1.1"/>
<circle cx="1073.5" cy="600.5" r="2.85" fill="#1f77b4"/>
<path d="M1053 638.8H1092.1" stroke="#ff7f0e" stroke-width="2.1"/>
<text class="lg" x="1106.1" y="605.5">Raw Data</text>
<text class="lg" x="1106.1" y="633.2">Butterworth Filtered Data</text>
<text class="lg" x="1106.1" y="653.9">(N=6, Tc=3.3333 min, Type: low)</text>
<text class="tk" text-anchor="end" x="105.5" y="467.0">−2</text>
<text class="tk" text-anchor="end" x="105.5" y="401.4">0</text>
<text class="tk" text-anchor="end" x="105.5" y="335.9">2</text>
<text class="tk" text-anchor="end" x="105.5" y="270.4">4</text>
<text class="tk" text-anchor="end" x="105.5" y="204.8">6</text>
<text class="tk" text-anchor="end" x="105.5" y="139.3">8</text>
<text class="tk" text-anchor="end" x="105.5" y="73.7">10</text>
<text class="tk" text-anchor="end" x="105.5" y="1043.9">0.000</text>
<text class="tk" text-anchor="end" x="105.5" y="980.8">0.025</text>
<text class="tk" text-anchor="end" x="105.5" y="917.8">0.050</text>
<text class="tk" text-anchor="end" x="105.5" y="854.8">0.075</text>
<text class="tk" text-anchor="end" x="105.5" y="791.8">0.100</text>
<text class="tk" text-anchor="end" x="105.5" y="728.8">0.125</text>
<text class="tk" text-anchor="end" x="105.5" y="665.8">0.150</text>
<text class="tk" text-anchor="end" x="105.5" y="602.8">0.175</text>
<text class="tx" text-anchor="end" transform="translate(113.5 1078.1) rotate(-30)">02-03 00</text>
<text class="tx" text-anchor="end" transform="translate(281.8 1078.1) rotate(-30)">02-03 03</text>
<text class="tx" text-anchor="end" transform="translate(450.2 1078.1) rotate(-30)">02-03 06</text>
<text class="tx" text-anchor="end" transform="translate(618.5 1078.1) rotate(-30)">02-03 09</text>
<text class="tx" text-anchor="end" transform="translate(786.8 1078.1) rotate(-30)">02-03 12</text>
<text class="tx" text-anchor="end" transform="translate(955.1 1078.1) rotate(-30)">02-03 15</text>
<text class="tx" text-anchor="end" transform="translate(1123.5 1078.1) rotate(-30)">02-03 18</text>
<text class="tx" text-anchor="end" transform="translate(1291.8 1078.1) rotate(-30)">02-03 21</text>
<text class="tt" x="115.7" y="30.3">(a)</text>
<text class="tt" x="115.7" y="567.3">(b)</text>
<text class="tt" text-anchor="middle" x="784.7" y="30.3">10.0 MHz N0000009</text>
<text class="lb" text-anchor="middle" transform="translate(63 278.5) rotate(-90)">Doppler Shift [Hz]</text>
<text class="lb" text-anchor="middle" transform="translate(25.7 815.0) rotate(-90)">Peak Voltage [V]</text>
<text class="lb" text-anchor="middle" x="789.0" y="1158.3">UTC</text>
</svg>
</body></html>
